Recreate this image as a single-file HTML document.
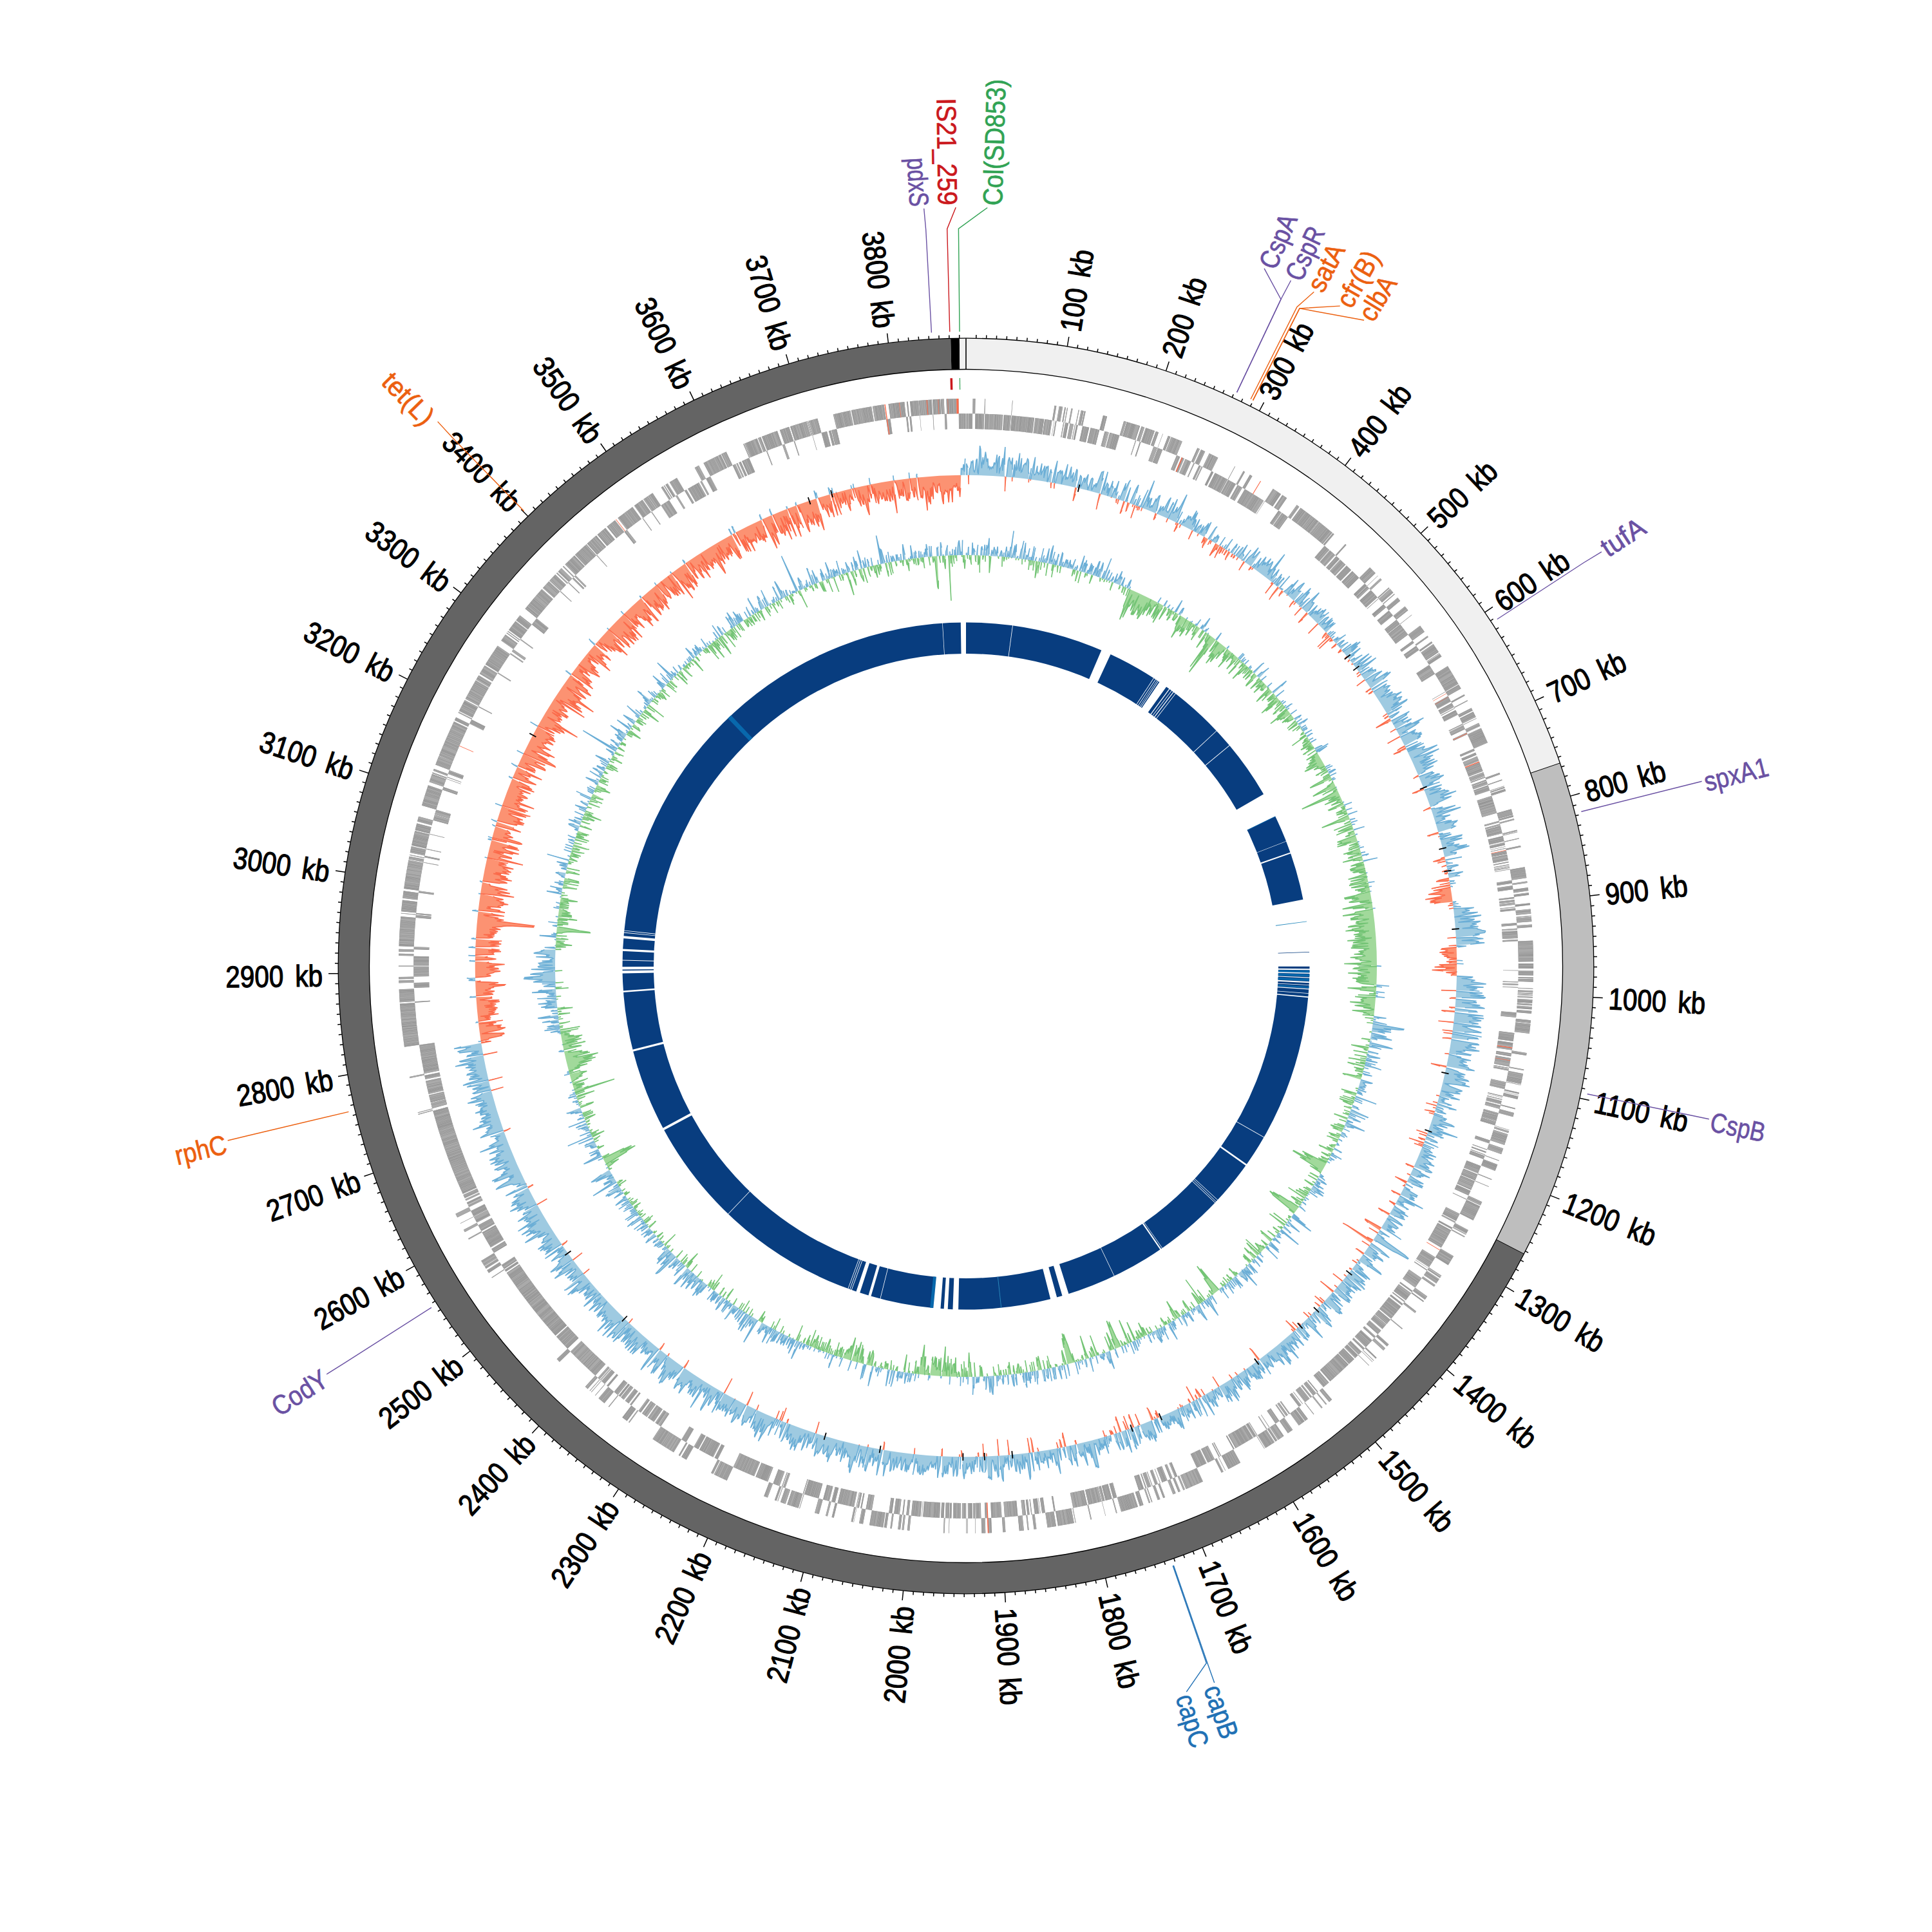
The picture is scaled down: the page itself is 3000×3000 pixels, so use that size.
<!DOCTYPE html>
<html lang="en"><head><meta charset="utf-8"><title>Circular genome map</title>
<style>html,body{margin:0;padding:0;background:#fff;}svg{display:block;}</style></head><body>
<svg width="3000" height="3000" viewBox="0 0 3000 3000">
<rect width="3000" height="3000" fill="#fff"/>
<g id="ring" fill="none">
<circle cx="1500" cy="1500" r="509.25" stroke="#083d7f" stroke-width="48.5"/>
<path d="M1147.01,1132.93A509.25,509.25 0 0 1 1151.8,1128.39" stroke="#0868ac" stroke-width="48.5"/>
<path d="M1451.58,2006.94A509.25,509.25 0 0 1 1446.65,2006.45" stroke="#0868ac" stroke-width="48.5"/>
<path d="M2009.21,1506.5A509.25,509.25 0 0 1 2009.16,1509.8" stroke="#0868ac" stroke-width="48.5"/>
<path d="M2009.1,1512.28A509.25,509.25 0 0 1 2009.01,1515.58" stroke="#0868ac" stroke-width="48.5"/>
<path d="M2008.9,1518.88A509.25,509.25 0 0 1 2008.77,1522.18" stroke="#0868ac" stroke-width="48.5"/>
<path d="M2008.34,1530.42A509.25,509.25 0 0 1 2008.19,1532.89" stroke="#0868ac" stroke-width="48.5"/>
<path d="M1492.16,990.81A509.25,509.25 0 0 1 1500,990.75" stroke="#fff" stroke-width="50.5"/>
<path d="M1464.62,991.98A509.25,509.25 0 0 1 1465.28,991.94" stroke="#fff" stroke-width="50.5"/>
<path d="M1568.79,995.42A509.25,509.25 0 0 1 1569.61,995.53" stroke="#fff" stroke-width="50.5"/>
<path d="M1700.75,1031.99A509.25,509.25 0 0 1 1714.32,1038.04" stroke="#fff" stroke-width="50.5"/>
<path d="M1777.81,1073.2A509.25,509.25 0 0 1 1778.5,1073.65" stroke="#fff" stroke-width="50.5"/>
<path d="M1780.57,1075.01A509.25,509.25 0 0 1 1781.26,1075.47" stroke="#fff" stroke-width="50.5"/>
<path d="M1782.98,1076.61A509.25,509.25 0 0 1 1783.46,1076.93" stroke="#fff" stroke-width="50.5"/>
<path d="M1784.69,1077.76A509.25,509.25 0 0 1 1785.38,1078.22" stroke="#fff" stroke-width="50.5"/>
<path d="M1786.74,1079.15A509.25,509.25 0 0 1 1796.89,1086.24" stroke="#fff" stroke-width="50.5"/>
<path d="M1800.9,1089.15A509.25,509.25 0 0 1 1801.89,1089.88" stroke="#fff" stroke-width="50.5"/>
<path d="M1804.22,1091.6A509.25,509.25 0 0 1 1804.88,1092.1" stroke="#fff" stroke-width="50.5"/>
<path d="M1806.86,1093.58A509.25,509.25 0 0 1 1807.84,1094.33" stroke="#fff" stroke-width="50.5"/>
<path d="M1810.14,1096.08A509.25,509.25 0 0 1 1810.8,1096.59" stroke="#fff" stroke-width="50.5"/>
<path d="M1870.98,1151.13A509.25,509.25 0 0 1 1871.54,1151.73" stroke="#fff" stroke-width="50.5"/>
<path d="M1890.16,1172.72A509.25,509.25 0 0 1 1890.74,1173.42" stroke="#fff" stroke-width="50.5"/>
<path d="M1940.99,1245.32A509.25,509.25 0 0 1 1958.38,1278.13" stroke="#fff" stroke-width="50.5"/>
<path d="M1974.38,1314.81A509.25,509.25 0 0 1 1974.62,1315.43" stroke="#fff" stroke-width="50.5"/>
<path d="M1980.55,1331.45A509.25,509.25 0 0 1 1981.23,1333.4" stroke="#fff" stroke-width="50.5"/>
<path d="M1999.63,1401.47A509.25,509.25 0 0 1 2009.25,1500.72" stroke="#fff" stroke-width="50.5"/>
<path d="M2009.23,1504.02A509.25,509.25 0 0 1 2009.21,1506.09" stroke="#fff" stroke-width="50.5"/>
<path d="M2009.16,1509.8A509.25,509.25 0 0 1 2009.12,1511.45" stroke="#fff" stroke-width="50.5"/>
<path d="M2008.99,1516.4A509.25,509.25 0 0 1 2008.94,1517.64" stroke="#fff" stroke-width="50.5"/>
<path d="M2008.73,1523A509.25,509.25 0 0 1 2008.63,1525.06" stroke="#fff" stroke-width="50.5"/>
<path d="M2008.48,1527.95A509.25,509.25 0 0 1 2008.44,1528.77" stroke="#fff" stroke-width="50.5"/>
<path d="M2008.13,1533.71A509.25,509.25 0 0 1 2008.05,1534.95" stroke="#fff" stroke-width="50.5"/>
<path d="M2007.65,1540.3A509.25,509.25 0 0 1 2007.59,1541.12" stroke="#fff" stroke-width="50.5"/>
<path d="M2007.24,1545.23A509.25,509.25 0 0 1 2007.09,1546.88" stroke="#fff" stroke-width="50.5"/>
<path d="M1941.71,1753.43A509.25,509.25 0 0 1 1941.26,1754.22" stroke="#fff" stroke-width="50.5"/>
<path d="M1915.97,1793.78A509.25,509.25 0 0 1 1914.54,1795.8" stroke="#fff" stroke-width="50.5"/>
<path d="M1873.09,1846.61A509.25,509.25 0 0 1 1872.64,1847.1" stroke="#fff" stroke-width="50.5"/>
<path d="M1871.12,1848.72A509.25,509.25 0 0 1 1870.66,1849.2" stroke="#fff" stroke-width="50.5"/>
<path d="M1869.42,1850.52A509.25,509.25 0 0 1 1868.85,1851.12" stroke="#fff" stroke-width="50.5"/>
<path d="M1790.99,1917.92A509.25,509.25 0 0 1 1790.45,1918.3" stroke="#fff" stroke-width="50.5"/>
<path d="M1789.29,1919.1A509.25,509.25 0 0 1 1787.59,1920.27" stroke="#fff" stroke-width="50.5"/>
<path d="M1720.03,1959.26A509.25,509.25 0 0 1 1719.36,1959.58" stroke="#fff" stroke-width="50.5"/>
<path d="M1652.2,1985.98A509.25,509.25 0 0 1 1642.72,1988.84" stroke="#fff" stroke-width="50.5"/>
<path d="M1634.77,1991.09A509.25,509.25 0 0 1 1625.2,1993.62" stroke="#fff" stroke-width="50.5"/>
<path d="M1488.65,2009.12A509.25,509.25 0 0 1 1480.4,2008.87" stroke="#fff" stroke-width="50.5"/>
<path d="M1472.98,2008.53A509.25,509.25 0 0 1 1467.21,2008.19" stroke="#fff" stroke-width="50.5"/>
<path d="M1462.27,2007.85A509.25,509.25 0 0 1 1451.58,2006.94" stroke="#fff" stroke-width="50.5"/>
<path d="M1373.12,1993.19A509.25,509.25 0 0 1 1372.4,1993.01" stroke="#fff" stroke-width="50.5"/>
<path d="M1359.27,1989.42A509.25,509.25 0 0 1 1355.3,1988.26" stroke="#fff" stroke-width="50.5"/>
<path d="M1342.69,1984.34A509.25,509.25 0 0 1 1337.21,1982.53" stroke="#fff" stroke-width="50.5"/>
<path d="M1330.96,1980.38A509.25,509.25 0 0 1 1330.19,1980.1" stroke="#fff" stroke-width="50.5"/>
<path d="M1328.24,1979.41A509.25,509.25 0 0 1 1327.46,1979.13" stroke="#fff" stroke-width="50.5"/>
<path d="M1325.52,1978.43A509.25,509.25 0 0 1 1324.75,1978.15" stroke="#fff" stroke-width="50.5"/>
<path d="M1147.76,1867.78A509.25,509.25 0 0 1 1147.16,1867.21" stroke="#fff" stroke-width="50.5"/>
<path d="M1052.65,1743.35A509.25,509.25 0 0 1 1050.89,1740.08" stroke="#fff" stroke-width="50.5"/>
<path d="M1006.81,1626.9A509.25,509.25 0 0 1 1006,1623.7" stroke="#fff" stroke-width="50.5"/>
<path d="M992.25,1539.07A509.25,509.25 0 0 1 992.07,1536.6" stroke="#fff" stroke-width="50.5"/>
<path d="M990.87,1511.04A509.25,509.25 0 0 1 990.8,1506.91" stroke="#fff" stroke-width="50.5"/>
<path d="M990.78,1505.26A509.25,509.25 0 0 1 990.75,1501.13" stroke="#fff" stroke-width="50.5"/>
<path d="M990.81,1492.06A509.25,509.25 0 0 1 990.83,1491.23" stroke="#fff" stroke-width="50.5"/>
<path d="M991.22,1478.03A509.25,509.25 0 0 1 991.38,1474.73" stroke="#fff" stroke-width="50.5"/>
<path d="M992.4,1459.08A509.25,509.25 0 0 1 992.71,1455.38" stroke="#fff" stroke-width="50.5"/>
<path d="M993.13,1450.86A509.25,509.25 0 0 1 993.21,1450.04" stroke="#fff" stroke-width="50.5"/>
<path d="M993.41,1447.99A509.25,509.25 0 0 1 993.5,1447.17" stroke="#fff" stroke-width="50.5"/>
<path d="M1958.38,1278.13A509.25,509.25 0 0 1 1958.74,1278.87" stroke="#0868ac" stroke-width="48.5"/>
<path d="M2004.91,1433.64A509.25,509.25 0 0 1 2005.03,1434.54" stroke="#2b8cbe" stroke-width="48.5"/>
<path d="M2008.81,1478.85A509.25,509.25 0 0 1 2008.84,1479.68" stroke="#083d7f" stroke-width="48.5"/>
<path d="M1552.53,2006.53A509.25,509.25 0 0 1 1551.62,2006.63" stroke="#2b8cbe" stroke-width="48.5"/>
</g>
<path d="M1500.5,862l0-3 1.1-0.3 0.3,3.3A638,638 0 0 0 1500.5,862ZM1502.9,862l0.8-12 1-0.7 0.6,12.7A638,638 0 0 0 1502.9,862ZM1509.2,862.1l0.9-19.6 0.8,17.1 1.2-8 1,2.3 1,3.4 0.2,4.9A638,638 0 0 0 1509.2,862.1ZM1516.7,862.2l0.5-5.4 1.4-10.9 0,16.4A638,638 0 0 0 1516.7,862.2ZM1523,862.4l0.7-11.4 1.1-2.6 0.9,6 0.2,8.1A638,638 0 0 0 1523,862.4ZM1527.4,862.6l1.8-16.8 0.6,8.9 0.1,8A638,638 0 0 0 1527.4,862.6ZM1530.9,862.7l1.5-16.6 0.7,5.6 1.2-1.9 1.8-14.3 -0.3,25.5 0.2,2A638,638 0 0 0 1530.9,862.7ZM1538.8,863.2l1.6-9.3 0.7,5.1 1,0.6 1.7-10.2 0.8,3.8 1,1 0.7,5.6 0.9,0.9 2-12 0.2,10.5 0.5,4.8A638,638 0 0 0 1538.8,863.2ZM1552,864.1l0.2-0.7 1.4-4.3 1.4-4.4 0.8,3.5 0.5,5.9 0,0.4A638,638 0 0 0 1552,864.1ZM1558,864.6l1-6.6 -0.1,6.7A638,638 0 0 0 1558,864.6ZM1560.4,864.9l2.6-16.1 0.3,7.3 -0.2,9A638,638 0 0 0 1560.4,864.9ZM1563.8,865.2l1.7-9.8 0.2,8.1 0.3,1.9A638,638 0 0 0 1563.8,865.2ZM1566.7,865.5l2.7-16.4 0.7,2.8 4.1-27.5 -3.5,41.5A638,638 0 0 0 1566.7,865.5ZM1570.9,866l1.1-2.8 1.7-5.5 2.3-10.9 -0.7,15.5 3.1-17.4 -0.4,12.5 -0.4,9.3A638,638 0 0 0 1570.9,866ZM1578.7,866.9l0.3-0.9 1.3-2 1,0.7 0.1,2.5A638,638 0 0 0 1578.7,866.9ZM1582.9,867.4l0.2-0.4 2.9-13.9 1.2-1.6 2.7-11.6 -2.8,28.1A638,638 0 0 0 1582.9,867.4ZM1588.4,868.2l4.3-25.4 -0.7,12.7 0.7,2.5 -0.7,10.7A638,638 0 0 0 1588.4,868.2ZM1592.6,868.8l1.7-7.1 0.8,1.7 0.9,0.8 3-12.7 -1.8,18A638,638 0 0 0 1592.6,868.8ZM1597.6,869.5l1.5-4.8 -0.5,5A638,638 0 0 0 1597.6,869.5ZM1600.1,869.9l1.1-5.2 -0.4,5.3A638,638 0 0 0 1600.1,869.9ZM1601.7,870.2l4.3-21.8 -2.8,22A638,638 0 0 0 1601.7,870.2ZM1603.7,870.5l4.1-19.8 -2.4,20.1A638,638 0 0 0 1603.7,870.5ZM1607.4,871.1l0.6-2.7 1.7-3.5 -0.6,6.5A638,638 0 0 0 1607.4,871.1ZM1613.1,872.1l1.6-5.9 -0.8,6.1A638,638 0 0 0 1613.1,872.1ZM1615.6,872.6l0.3-1.2 4.8-20 -3.3,21.5A638,638 0 0 0 1615.6,872.6ZM1618.4,873.1l1.7-7.2 1.7-3.5 -1.1,11.1A638,638 0 0 0 1618.4,873.1ZM1620.9,873.6l2.2-6.6 -0.8,6.8A638,638 0 0 0 1620.9,873.6ZM1623.3,874l1.9-6.8 4.2-15.6 -2.7,18.7 -0.2,4.4A638,638 0 0 0 1623.3,874ZM1628.4,875l4.7-20.2 2.7-7.8 -4.1,24.9 1.3-1.4 0.7,1.9 4.4-15.5 -3.5,19.5A638,638 0 0 0 1628.4,875ZM1635.5,876.6l2.5-9.1 -1.7,9.2A638,638 0 0 0 1635.5,876.6ZM1637.7,877l1.8-6.9 -0.8,7.2A638,638 0 0 0 1637.7,877ZM1639.1,877.4l4.8-17.3 0.1,4.4 -2,13.5A638,638 0 0 0 1639.1,877.4ZM1644.4,878.6l5.4-20.1 0.8,0.9 -3.3,18.7 -0.2,1.1A638,638 0 0 0 1644.4,878.6ZM1648.7,879.6l2.1-7.1 0.6,2 -0.4,5.6A638,638 0 0 0 1648.7,879.6ZM1651.2,880.2l2.1-4.9 2.8-6.8 -0.5,6.4 2.5-5.7 -0.4,5.9 1.5-1.6 -1.1,8.4A638,638 0 0 0 1651.2,880.2ZM1658.1,881.9l4.2-12.3 -0.1,4.6 -0.5,6.2 2.1-4 0,4 1,0.6 3.1-7.5 2.4-5.1 -3.6,15.8A638,638 0 0 0 1658.1,881.9ZM1668.1,884.5l2.4-4.6 -1,5A638,638 0 0 0 1668.1,884.5ZM1670.6,885.2l2.6-7.3 -0.3,4.7 -0.1,3.3A638,638 0 0 0 1670.6,885.2ZM1675.9,886.7l0.8-2.2 7.3-21.5 -4.6,19.8 -1.1,4.6A638,638 0 0 0 1675.9,886.7ZM1679.6,887.8l4.6-14 -0.5,5.5 3.9-9.5 -4.2,17.8 4.8-12.4 0.1,3.3 -2.7,11.1A638,638 0 0 0 1679.6,887.8ZM1687.1,890.1l2.6-5.3 -1.2,5.7A638,638 0 0 0 1687.1,890.1ZM1689.1,890.7l6-16.2 -3.1,13.4 4.5-11 -2.1,10.2 3.4-7.3 1.2-0.3 -3.6,13.1A638,638 0 0 0 1689.1,890.7ZM1696.9,893.1l4.9-11.9 -1.9,9.2 7-17.8 1.4-1 -6.3,22.3 3-5.6 2.8-4.9 -3.1,12.3A638,638 0 0 0 1696.9,893.1ZM1704.7,895.7l8.6-22.1 -0.6,5.1 -1.9,8.9 -2.4,9.4A638,638 0 0 0 1704.7,895.7ZM1710.8,897.8l5-11.7 -3.5,12.3A638,638 0 0 0 1710.8,897.8ZM1712.6,898.5l5.7-13.2 7.5-18.1 -10.5,32.2A638,638 0 0 0 1712.6,898.5ZM1716.6,899.9l6.4-15.2 -0.9,5.5 -3,10.6A638,638 0 0 0 1716.6,899.9ZM1719.8,901.1l1.5-2.8 1.5-1 4.2-8.1 -4,13.1A638,638 0 0 0 1719.8,901.1ZM1724,902.6l0.4-0.5 1.7-1.7 3.1-5.2 -0.9,5.4 -1,3.3A638,638 0 0 0 1724,902.6ZM1729.4,904.7l6-14 -3.9,13.1 2.4-3.3 0.9,0.5 2.4-3.2 5.4-10.7 -3.7,12.1 2.4-3.2 1,0.3 -0.2,3.4 -2.9,8.8A638,638 0 0 0 1729.4,904.7ZM1740.7,909.1l6-12.3 -3.2,10.4 0,2.8 1.1,0.2 -0.2,0.5A638,638 0 0 0 1740.7,909.1ZM1746.9,911.7l1.9-3.7 -1.2,4A638,638 0 0 0 1746.9,911.7ZM1749.7,912.9l3.9-8.2 3.1-4.4 -3.3,10.2 -1.2,3.5A638,638 0 0 0 1749.7,912.9ZM1753.6,914.6l2-3.8 -1,4.2A638,638 0 0 0 1753.6,914.6ZM1797.9,935.8l5.1-7.9 -4.1,8.4A638,638 0 0 0 1797.9,935.8ZM1807.1,940.8l5-7.7 1,0.4 -3.8,8.5A638,638 0 0 0 1807.1,940.8ZM1812.6,943.8l1.8-2 2.8-2.8 -2.4,6A638,638 0 0 0 1812.6,943.8ZM1818.6,947.3l3.5-4.2 -2.5,4.7A638,638 0 0 0 1818.6,947.3ZM1823,949.8l0.1-0.2 -0.1,0.2A638,638 0 0 0 1823,949.8ZM1824,950.4l11.7-18 -9.4,17.9 -0.6,1.1A638,638 0 0 0 1824,950.4ZM1830.3,954.1l6.3-8.9 1.9-1.1 -3.6,8.1 -2,3.6A638,638 0 0 0 1830.3,954.1ZM1842.2,961.5l2.1-2.8 -1.8,3A638,638 0 0 0 1842.2,961.5ZM1848.4,965.5l0.7-0.8 -0.6,0.9A638,638 0 0 0 1848.4,965.5ZM1850.1,966.6l1.7-2.3 -1.4,2.5A638,638 0 0 0 1850.1,966.6ZM1855.9,970.5l2-2.2 -1.5,2.5A638,638 0 0 0 1855.9,970.5ZM1857.5,971.6l7.1-9.5 -5.9,10.3A638,638 0 0 0 1857.5,971.6ZM1863.7,975.8l4.5-5.9 -2.9,5.8 3.3-2.8 10.2-12.8 -7.8,13.1 -3.4,5.3A638,638 0 0 0 1863.7,975.8ZM1868.9,979.5l0.9-1.1 -0.7,1.2A638,638 0 0 0 1868.9,979.5ZM1870.5,980.6l3.1-3.9 -0.4,2.3 4-3.7 -4.5,6.9A638,638 0 0 0 1870.5,980.6ZM1875.6,984.2l1.2-1.3 -0.8,1.6A638,638 0 0 0 1875.6,984.2ZM1887.9,993.4l8.6-10.7 -7,10.8 -0.4,0.9A638,638 0 0 0 1887.9,993.4ZM1904.9,1006.9l3-3.1 0.1,1.5 -1.9,2.7A638,638 0 0 0 1904.9,1006.9ZM1913.8,1014.4l0.3-0.3 -0.2,0.4A638,638 0 0 0 1913.8,1014.4ZM1922.8,1022.2l7.7-7.8 -6.9,8.5A638,638 0 0 0 1922.8,1022.2ZM1924.4,1023.7l7.1-7.3 0.4,1.1 -6.2,7.3A638,638 0 0 0 1924.4,1023.7ZM1927.5,1026.4l5.7-5.6 -4.8,6.4A638,638 0 0 0 1927.5,1026.4ZM1929,1027.8l2.4-1.9 3.5-2.3 -4.4,5.5A638,638 0 0 0 1929,1027.8ZM1932.7,1031.2l6.5-6 -5.8,6.6A638,638 0 0 0 1932.7,1031.2ZM1939,1037.1l3.8-3.5 -3.3,3.9A638,638 0 0 0 1939,1037.1ZM1940.5,1038.5l3.1-2.8 -2.3,3.5A638,638 0 0 0 1940.5,1038.5ZM1946.1,1043.9l13.6-12.8 3.2-1.6 -14.9,16.2A638,638 0 0 0 1946.1,1043.9ZM1952.2,1049.9l6.9-6.1 0.9,0.6 3.4-1.9 6.8-5.2 -14.9,15.8A638,638 0 0 0 1952.2,1049.9ZM1958.4,1056.2l8-6.3 -7,7.4A638,638 0 0 0 1958.4,1056.2ZM1967.9,1066.3l7.2-5.9 -6.2,6.9A638,638 0 0 0 1967.9,1066.3ZM1969.5,1068l0.9-0.5 -0.5,0.9A638,638 0 0 0 1969.5,1068ZM1975.8,1074.9l5.4-4.5 16.3-13 -7.5,8 -12.3,11.7A638,638 0 0 0 1975.8,1074.9ZM1981.5,1081.5l12.4-9.7 -11.5,10.7A638,638 0 0 0 1981.5,1081.5ZM1987.4,1088.4l0.7-0.5 -0.5,0.7A638,638 0 0 0 1987.4,1088.4ZM1989.2,1090.5l4.1-2.9 -3.6,3.4A638,638 0 0 0 1989.2,1090.5ZM1991.2,1092.9l5.3-3.9 -4.6,4.7A638,638 0 0 0 1991.2,1092.9ZM1994.6,1097l2.7-1.9 -2.4,2.2A638,638 0 0 0 1994.6,1097ZM1996.3,1099.1l7.6-5.3 2.8-1 -9.1,7.9A638,638 0 0 0 1996.3,1099.1ZM1998.5,1101.8l3.4-2.4 -3.2,2.7A638,638 0 0 0 1998.5,1101.8ZM2004.1,1108.9l9.6-6.8 -8.9,7.7A638,638 0 0 0 2004.1,1108.9ZM2009.6,1116.1l4.8-2.7 6.1-3.2 -3.9,4.2 -4.9,4.5A638,638 0 0 0 2009.6,1116.1ZM2013.5,1121.4l8.1-5.6 -7.5,6.4A638,638 0 0 0 2013.5,1121.4ZM2015.7,1124.4l5.7-3.2 9-5.2 -6.7,6.1 -6.1,4.9A638,638 0 0 0 2015.7,1124.4ZM2018.5,1128.3l1.8-1.1 -1.5,1.5A638,638 0 0 0 2018.5,1128.3ZM2020.1,1130.5l7.7-4.8 -6.8,6A638,638 0 0 0 2020.1,1130.5ZM2021.6,1132.7l7.6-4.2 -6.5,5.7A638,638 0 0 0 2021.6,1132.7ZM2022.9,1134.4l7.1-3.9 -1.9,2.6 -3.8,3.3A638,638 0 0 0 2022.9,1134.4ZM2026.1,1139l1.1-0.3 9.9-5.4 -9.9,7.4A638,638 0 0 0 2026.1,1139ZM2028,1141.9l0.1,0 0,0A638,638 0 0 0 2028,1141.9ZM2029.1,1143.4l7.3-4.6 2-0.1 -8.2,6.4A638,638 0 0 0 2029.1,1143.4ZM2032.8,1149l6.3-3.2 -5.7,4.2A638,638 0 0 0 2032.8,1149ZM2035.2,1152.8l8.7-5.1 -8.2,5.7A638,638 0 0 0 2035.2,1152.8ZM2041.5,1162.6l3-1.7 6.9-3 2,0 -10.5,7A638,638 0 0 0 2041.5,1162.6ZM2043.4,1165.7l19-10.9 -18.1,12.3A638,638 0 0 0 2043.4,1165.7ZM2044.3,1167.2l16.3-8.8 -12.6,8.9 -2.6,1.7A638,638 0 0 0 2044.3,1167.2ZM2058.1,1190.8l7.6-3.6 -7.1,4.5A638,638 0 0 0 2058.1,1190.8ZM2059.4,1193.3l9.7-4.4 -9.1,5.4A638,638 0 0 0 2059.4,1193.3ZM2061.2,1196.5l4.8-2.3 -4.5,2.9A638,638 0 0 0 2061.2,1196.5ZM2062.6,1199l9.5-4.5 1.9,0.2 -10.1,6.5 -0.1,0.1A638,638 0 0 0 2062.6,1199ZM2064.7,1203.1l0.2-0.1 -0.2,0.1A638,638 0 0 0 2064.7,1203.1ZM2065.4,1204.5l9.6-4.4 -9.2,5.1A638,638 0 0 0 2065.4,1204.5ZM2067.9,1209.3l4.4-2 -4,2.7A638,638 0 0 0 2067.9,1209.3ZM2068.8,1210.9l5.1-2 -4.5,3.4A638,638 0 0 0 2068.8,1210.9ZM2074.5,1222.4l1.2-0.5 -1.2,0.7A638,638 0 0 0 2074.5,1222.4ZM2075.8,1225.3l0.5-0.2 -0.4,0.3A638,638 0 0 0 2075.8,1225.3ZM2085.1,1245.6l2.1-0.4 -1.8,1A638,638 0 0 0 2085.1,1245.6ZM2087.1,1250.3l12-4.6 -11.5,5.7A638,638 0 0 0 2087.1,1250.3ZM2088,1252.5l1.5-0.4 -1.3,0.8A638,638 0 0 0 2088,1252.5ZM2090.2,1257.8l9.3-3.1 -8.9,4A638,638 0 0 0 2090.2,1257.8ZM2093,1264.6l14.6-5.2 -14,6.7A638,638 0 0 0 2093,1264.6ZM2096.1,1272.6l1.7-0.4 6.5-1.3 -7.5,3.6A638,638 0 0 0 2096.1,1272.6ZM2097.8,1277.1l10-3.1 -9.5,4.5A638,638 0 0 0 2097.8,1277.1ZM2099.1,1280.5l1.6-0.5 3.6-0.2 -4.8,2A638,638 0 0 0 2099.1,1280.5ZM2101.9,1288.3l0.3-0.1 16.5-4.6 -16.3,6.3A638,638 0 0 0 2101.9,1288.3ZM2104.5,1295.9l3.4-0.8 -3.1,1.9A638,638 0 0 0 2104.5,1295.9ZM2108.1,1307l0.3-0.1 2.4,0.3 -2.3,0.9A638,638 0 0 0 2108.1,1307ZM2109.2,1310.4l1.3,0.2 -1.1,0.4A638,638 0 0 0 2109.2,1310.4ZM2110.2,1313.8l2-0.5 -1.9,0.7A638,638 0 0 0 2110.2,1313.8ZM2111,1316.5l6.9-1.7 -6.6,2.6A638,638 0 0 0 2111,1316.5ZM2113.3,1324.1l6.7-1.2 -6.4,2.2A638,638 0 0 0 2113.3,1324.1ZM2114.5,1328.3l10.8-2.5 -4.6,2.4 -5.8,1.7A638,638 0 0 0 2114.5,1328.3ZM2116.7,1336.6l0.7,0 21.5-4.6 -21.7,6.4A638,638 0 0 0 2116.7,1336.6ZM2121.3,1355.1l2.1,0.3 -1.8,0.7A638,638 0 0 0 2121.3,1355.1ZM2122.7,1361.2l0.8,0.6 -0.6,0.1A638,638 0 0 0 2122.7,1361.2ZM2124.7,1370.2l9.8-1.2 -9.6,2.5A638,638 0 0 0 2124.7,1370.2ZM2126,1376.7l4-0.4 -3.9,0.9A638,638 0 0 0 2126,1376.7ZM2127.4,1384l2.1-0.2 -2.1,0.5A638,638 0 0 0 2127.4,1384ZM2130.3,1401.3l0.5,0.1 -0.4,0.1A638,638 0 0 0 2130.3,1401.3ZM2131.7,1410.5l4-0.3 -3.9,1A638,638 0 0 0 2131.7,1410.5ZM2138,1499.9l7,0.5 -7,0.2A638,638 0 0 0 2138,1499.9ZM2137.3,1529.5l19.8,1.8 -19.9-0.1A638,638 0 0 0 2137.3,1529.5ZM2137.2,1531.7l8.8,1.2 -8.8-0.2A638,638 0 0 0 2137.2,1531.7ZM2136.8,1539.7l13.3,1.8 -13.5,0A638,638 0 0 0 2136.8,1539.7ZM2136.6,1542.3l3.2,0.7 -3.3,0A638,638 0 0 0 2136.6,1542.3ZM2136.4,1545.6l2.8,0.5 -2.9-0.2A638,638 0 0 0 2136.4,1545.6ZM2136.2,1547.6l14,1.4 -14.1-0.4A638,638 0 0 0 2136.2,1547.6ZM2133.4,1576.7l0.2,0.1 -0.2-0.1A638,638 0 0 0 2133.4,1576.7ZM2133.2,1578.2l19.4,3 -14.3-0.7 2.9,1.4 -8.4-0.7A638,638 0 0 0 2133.2,1578.2ZM2132.6,1582.7l3.7,0.7 -2.3,0.7 -1.6,0.1A638,638 0 0 0 2132.6,1582.7ZM2132.2,1585.7l1.1,0.4 9.7,2.4 10.4,2.5 -21.6-2.3A638,638 0 0 0 2132.2,1585.7ZM2131.7,1589.5l11,2.1 37.1,6.5 -0.5,1 -7,0.1 -23.8-2.4 11.5,2.8 -12.4-0.8 -16.5-1.5 29,5.6 -14.7-1.3 -5.8,0.2 11,2.8 -20.8-2.4A638,638 0 0 0 2131.7,1589.5ZM2129.5,1603.8l3.5,1.1 14.5,3.5 5.7,2.1 -19.7-2.3 19.7,4.5 8.1,2.5 -30.8-4.3 5.1,1.9 2.6,1.5 -0.9,0.9 -9.6-1.2A638,638 0 0 0 2129.5,1603.8ZM2127.3,1616.4l2.5,0.7 -2.6,0A638,638 0 0 0 2127.3,1616.4ZM2126.9,1618.5l0.3,0.2 15.1,3.9 13.4,3.7 6.7,2.4 -32.5-5.3 -3.9-0.3A638,638 0 0 0 2126.9,1618.5ZM2125.8,1624l12.1,3.1 7,2.5 -19.5-3.2A638,638 0 0 0 2125.8,1624ZM2124.2,1631.9l16.1,4.4 -2.8,0.4 -13.9-2A638,638 0 0 0 2124.2,1631.9ZM2123.2,1636.7l2.5,0.7 -2.7,0.2A638,638 0 0 0 2123.2,1636.7ZM2122.9,1637.9l20.3,5.5 -7-0.4 -11.6-1.6 -2.4-0.4A638,638 0 0 0 2122.9,1637.9ZM2121.8,1642.9l0.6,0.1 7.5,2.8 -8.5-1.4A638,638 0 0 0 2121.8,1642.9ZM2121.2,1645.3l17.7,4.8 -17.6-3.1 -0.5,0A638,638 0 0 0 2121.2,1645.3ZM2120.2,1649.6l15.7,4.2 -15.9-3.2A638,638 0 0 0 2120.2,1649.6ZM2119.8,1651.4l9.5,2.9 -9.8-1.9A638,638 0 0 0 2119.8,1651.4ZM2119.3,1653.4l15.4,4.4 10,3.6 -25.9-5.9A638,638 0 0 0 2119.3,1653.4ZM2118.2,1657.7l6.8,2 -7.1-0.9A638,638 0 0 0 2118.2,1657.7ZM2117.6,1659.9l0.1,0.1 -0.1,0A638,638 0 0 0 2117.6,1659.9ZM2116.7,1663.5l10.6,3.3 -10.9-2.4A638,638 0 0 0 2116.7,1663.5ZM2115.9,1666.4l14.6,4.6 -12.8-2.4 -2.3-0.4A638,638 0 0 0 2115.9,1666.4ZM2113.1,1676.5l18.3,5.8 -3.1,0.2 -7.6-1.2 -4.5-0.2 2.7,1.9 0,1.1 2.3,1.8 -1.6,0.6 -2.6,0.3 3.4,2.1 -7.7-1.2 -1,0.8 7.3,3.3 -3.7,0 -6.4-1.4A638,638 0 0 0 2113.1,1676.5ZM2108.7,1691l12,4.6 -0.9,0.9 -11.9-2.9A638,638 0 0 0 2108.7,1691ZM2107.8,1694.1l4.4,2.1 2.9,2.1 -7.5-1.4 8.6,3.9 -9.7-2.8A638,638 0 0 0 2107.8,1694.1ZM2105.1,1702.3l6.4,2.5 25.6,9.7 -32.7-10.1A638,638 0 0 0 2105.1,1702.3ZM2104,1705.6l11.4,4.9 -11.9-3.6A638,638 0 0 0 2104,1705.6ZM2103,1708.4l1.4,0.6 10.8,4.8 -12.7-4A638,638 0 0 0 2103,1708.4ZM2102,1711.4l0.8,0.3 -0.9-0.1A638,638 0 0 0 2102,1711.4ZM2100.2,1716.5l8.9,4.1 -2.8,0.1 4.4,2.7 -11.8-3.4A638,638 0 0 0 2100.2,1716.5ZM2097.8,1722.9l3.2,1.4 9.9,4.8 13.2,6.1 -1,0.8 -26.7-9.3A638,638 0 0 0 2097.8,1722.9ZM2096,1727.6l3.7,1.8 20.2,8.8 -24.7-8.6A638,638 0 0 0 2096,1727.6ZM2095,1730.2l10.1,4.6 -10.5-3.5A638,638 0 0 0 2095,1730.2ZM2094.1,1732.6l1.6,0.8 7.6,4.1 9.5,4.9 -12.1-3.7 -8.1-2.4A638,638 0 0 0 2094.1,1732.6ZM2091.5,1739.1l9.5,4.3 -5.2-1 -3.9-0.5 -1.4-0.4A638,638 0 0 0 2091.5,1739.1ZM2090,1742.8l12.1,5.6 16.7,8 -21.9-7.9 5.3,3.4 -6-1.4 -4.8-0.9 -3.7-1.3A638,638 0 0 0 2090,1742.8ZM2087.1,1749.8l1.9,1 -2.1-0.7A638,638 0 0 0 2087.1,1749.8ZM2085.9,1752.4l9.8,4.7 -10.1-3.8A638,638 0 0 0 2085.9,1752.4ZM2083.4,1758.2l5.1,2.6 0.3,1.3 0.3,1.3 2.9,2.4 -10.2-3.9A638,638 0 0 0 2083.4,1758.2ZM2081.4,1762.7l6.6,3.6 -7.1-2.4A638,638 0 0 0 2081.4,1762.7ZM2078.7,1768.6l4,2.2 1.2,1.7 -5.9-2.4A638,638 0 0 0 2078.7,1768.6ZM2076.8,1772.6l0.5,0.2 -0.5-0.1A638,638 0 0 0 2076.8,1772.6ZM2076,1774.4l0.5,0.3 1.6,2 0.8,1.5 -3.7-0.6 -0.7,0A638,638 0 0 0 2076,1774.4ZM2071.8,1783l11.7,6.8 -3.3-0.5 -9.5-4.2A638,638 0 0 0 2071.8,1783ZM2068.2,1790.1l3.2,1.8 -3.6-0.9A638,638 0 0 0 2068.2,1790.1ZM2067.7,1791.2l15.3,9 -16.2-7.4A638,638 0 0 0 2067.7,1791.2ZM2066.6,1793.3l8.9,5.4 -9.7-4A638,638 0 0 0 2066.6,1793.3ZM2064.7,1796.9l7.3,4.7 -5.7-1.8 -2.7-0.8A638,638 0 0 0 2064.7,1796.9ZM2063.3,1799.6l4.2,3.2 -4.7-2.2A638,638 0 0 0 2063.3,1799.6ZM2061.1,1803.7l3.9,2.5 -4.2-2A638,638 0 0 0 2061.1,1803.7ZM2050.2,1823l4.7,3.8 -1,0.6 -3.9-1.1 3.6,3.4 3.7,3.4 -9.9-5.4A638,638 0 0 0 2050.2,1823ZM2046.3,1829.6l9.5,6.3 4,3.6 -8.6-4 -6.4-3.5A638,638 0 0 0 2046.3,1829.6ZM2044.1,1833.2l6.2,4.3 -5-1.9 4.5,4 -4.8-1.8 -3-1.3A638,638 0 0 0 2044.1,1833.2ZM2041.6,1837.2l13.4,9.3 -11.8-6.1 4.8,4.2 -8.1-4.6A638,638 0 0 0 2041.6,1837.2ZM2038.9,1841.5l17,11.9 -11.2-5.9 2.1,2.6 3.2,3.3 4.6,4.2 -14.1-7.8 -5.1-2.8A638,638 0 0 0 2038.9,1841.5ZM2034.8,1847.9l7.7,5.7 -8.3-4.8A638,638 0 0 0 2034.8,1847.9ZM2033.1,1850.5l12.5,8.9 -13.2-7.8A638,638 0 0 0 2033.1,1850.5ZM2031.2,1853.3l2,1.6 -2.2-1.2A638,638 0 0 0 2031.2,1853.3ZM2029.4,1856l1.4,1.1 -1.5-0.9A638,638 0 0 0 2029.4,1856ZM2027.2,1859.3l5,3.8 -5.7-2.8A638,638 0 0 0 2027.2,1859.3ZM2025.3,1862l2.9,2.2 -2.6-0.6 -1-0.5A638,638 0 0 0 2025.3,1862ZM2022.5,1866.1l4.7,3.7 0.4,1.6 -6.1-3.9A638,638 0 0 0 2022.5,1866.1ZM2019.5,1870.4l1.2,1.2 -1.5-0.9A638,638 0 0 0 2019.5,1870.4ZM2017.9,1872.6l4.6,4 4.4,4.6 -10.2-6.9A638,638 0 0 0 2017.9,1872.6ZM2008.7,1885.1l8.9,7.5 -9.2-5.7 18.7,15.6 -20.2-14.1 28.7,23.4 -29.4-21.4 -1.2-0.6A638,638 0 0 0 2008.7,1885.1ZM2002.3,1893.3l2.1,2.3 0.2,1.5 -3.5-2.2A638,638 0 0 0 2002.3,1893.3ZM2000.2,1896l0.8,1 4.5,4.8 12.4,11.3 -14.1-10 -5.8-4.3A638,638 0 0 0 2000.2,1896ZM1997,1900.1l5.3,4.5 -4.9-2.6 -1.5-0.6A638,638 0 0 0 1997,1900.1ZM1993.7,1904.2l2.7,2.3 8.3,8.2 -3.2-1.2 -9.7-7.1A638,638 0 0 0 1993.7,1904.2ZM1989.5,1909.2l26.7,23.4 -27.7-21.8 3.8,4.5 -1.9-0.2 -3.6-2.7A638,638 0 0 0 1989.5,1909.2ZM1985.2,1914.2l4,4 -4.6-3.2A638,638 0 0 0 1985.2,1914.2ZM1983.9,1915.8l2.1,2.4 2.4,3.5 -1.8-0.3 -1.8-0.1 -2.3-0.7 -1.9-1A638,638 0 0 0 1983.9,1915.8ZM1979,1921.5l2.3,2.2 6.4,7.1 -8.3-6 -2.5-0.8 1.8,3 -3-1.9A638,638 0 0 0 1979,1921.5ZM1972.7,1928.5l0.9,0.9 11.7,12 -11.7-9.2 12.5,12.8 -12.6-10.1 -2.5-0.9 -2.2-1.2A638,638 0 0 0 1972.7,1928.5ZM1967,1934.7l4,5 -5.3-3.7A638,638 0 0 0 1967,1934.7ZM1965.6,1936.2l18.2,18.4 -19.4-17.1A638,638 0 0 0 1965.6,1936.2ZM1957.3,1944.9l0.9,1.3 -1.2-1.1A638,638 0 0 0 1957.3,1944.9ZM1955.8,1946.4l5.7,5.9 -6.6-5A638,638 0 0 0 1955.8,1946.4ZM1952.3,1950l7,7.5 1.3,2.9 -9.8-8.4 -0.3-0.2A638,638 0 0 0 1952.3,1950ZM1947.2,1955.1l6.1,6.9 3.2,4.7 -11-10A638,638 0 0 0 1947.2,1955.1ZM1945.1,1957.1l3.2,4.1 -3.2-1.8 -1.7-0.6A638,638 0 0 0 1945.1,1957.1ZM1939.9,1962.1l12.8,14.4 -11.6-10.7 4.7,6.5 3.1,4.8 -12.4-11.8A638,638 0 0 0 1939.9,1962.1ZM1935.7,1966l0.1,0.3 -0.1,1.3 9.2,11.5 -4.3-3.1 -4.5-3.3 5.3,7.3 -9.6-8.9 2.3,4 17.5,20.8 -22.7-23.4 0,1.5 6,8.2 2.7,4.6 -3.1-1.8 3,4.9 -7.2-6.5 -2.2-1 -1.6-0.2 -4.3-3.9A638,638 0 0 0 1935.7,1966ZM1919.7,1980.5l1.4,1.9 -1.7-1.7A638,638 0 0 0 1919.7,1980.5ZM1917.7,1982.3l12.2,15 -5.8-5 -5.9-5.3 6.7,9.4 2,4 -13.5-14.5A638,638 0 0 0 1917.7,1982.3ZM1913.1,1986.2l7,9.5 -8-8.6A638,638 0 0 0 1913.1,1986.2ZM1910.6,1988.3l7.4,9.8 -8.5-8.8A638,638 0 0 0 1910.6,1988.3ZM1908.3,1990.2l8.3,11.2 -4.2-3.5 -5.8-6.2A638,638 0 0 0 1908.3,1990.2ZM1905.7,1992.4l5,6.8 -0.3,1.3 5.2,8 -12.4-14A638,638 0 0 0 1905.7,1992.4ZM1902.4,1995.1l2,3 -2.7-2.4A638,638 0 0 0 1902.4,1995.1ZM1901.1,1996.1l3.8,5.9 -4.8-5.1A638,638 0 0 0 1901.1,1996.1ZM1898.2,1998.5l0.1,0.3 2.3,4.6 -4-3.7A638,638 0 0 0 1898.2,1998.5ZM1896.5,1999.9l11.3,15.9 -12.9-14.7A638,638 0 0 0 1896.5,1999.9ZM1894.4,2001.5l0.4,1.2 2.4,4.8 -4.3-4.8A638,638 0 0 0 1894.4,2001.5ZM1883.5,2009.9l0.2,0.4 -0.3-0.3A638,638 0 0 0 1883.5,2009.9ZM1881.4,2011.5l4.1,6.5 3.9,6.9 -9.9-12A638,638 0 0 0 1881.4,2011.5ZM1878.8,2013.4l2.1,3.6 -0.1,1.6 -3.7-4A638,638 0 0 0 1878.8,2013.4ZM1876.4,2015.1l3.5,5.8 3.3,6.3 2.5,5.3 5.9,10.1 -18.3-23.7 3.5,6.7 -5.3-6.9A638,638 0 0 0 1876.4,2015.1ZM1870.4,2019.5l6.6,10 -7.7-9 -0.1-0.2A638,638 0 0 0 1870.4,2019.5ZM1867.2,2021.8l1.5,3.1 -2.1-2.8A638,638 0 0 0 1867.2,2021.8ZM1865.2,2023.2l6.1,9.1 -6.7-8.7A638,638 0 0 0 1865.2,2023.2ZM1861.5,2025.7l1.9,4.4 3.2,6.5 7.8,13.4 -4.8-5.1 -8.3-10.4 -0.3,1.3 1.3,4 -7.2-9.8A638,638 0 0 0 1861.5,2025.7ZM1854.1,2030.7l1.8,3.2 -1.4-0.3 -1.7-0.5 1.8,4.5 -3.8-4.7A638,638 0 0 0 1854.1,2030.7ZM1849.8,2033.5l1.2,2.4 2.5,5.8 -5.5-6.9A638,638 0 0 0 1849.8,2033.5ZM1845,2036.7l8.7,14.9 -1.7-0.7 -9.2-12.4 1.9,4.9 -3.3-4.4A638,638 0 0 0 1845,2036.7ZM1840.4,2039.6l3.8,6.9 -4-4.3 -1.3-1.7A638,638 0 0 0 1840.4,2039.6ZM1837.7,2041.3l2.1,4.1 -2.9-3.6A638,638 0 0 0 1837.7,2041.3ZM1836.2,2042.2l4.7,8.9 2,5.3 0.6,3 -10.4-15.2A638,638 0 0 0 1836.2,2042.2ZM1829.9,2046.1l6.2,11.3 -7.2-10.7A638,638 0 0 0 1829.9,2046.1ZM1824.3,2049.4l0.5,1.3 -1.3-0.8A638,638 0 0 0 1824.3,2049.4ZM1822,2050.8l4,8.2 -5.5-7.4A638,638 0 0 0 1822,2050.8ZM1820.5,2051.6l6.1,12.6 -6.3-8.8 -1.8-2.6A638,638 0 0 0 1820.5,2051.6ZM1817.5,2053.4l6.3,12.2 -7.5-11.5A638,638 0 0 0 1817.5,2053.4ZM1815.1,2054.7l13,25.1 -12.2-19.5 -3-4.3A638,638 0 0 0 1815.1,2054.7ZM1807.5,2059l3.2,7 -2.8-3 -0.7,1 7.5,15.9 -11.1-18.7A638,638 0 0 0 1807.5,2059ZM1803,2061.5l2.6,6.1 1.8,5.4 -4.4-5.8 -3.1-4.1A638,638 0 0 0 1803,2061.5ZM1799.6,2063.3l3.6,8.6 1.2,4.6 -7.1-12A638,638 0 0 0 1799.6,2063.3ZM1796.8,2064.8l8.5,17.9 -4.5-6.3 3.4,8.7 -4.2-5.7 -3.2-3.9 -5.3-8A638,638 0 0 0 1796.8,2064.8ZM1791.5,2067.5l0.5,3.3 0.1,2.4 -2.8-4.6A638,638 0 0 0 1791.5,2067.5ZM1788.3,2069.1l4.7,10.6 -6-9.9A638,638 0 0 0 1788.3,2069.1ZM1785.8,2070.4l0.8,3.5 -1.8-3A638,638 0 0 0 1785.8,2070.4ZM1782.9,2071.9l5.7,13.1 -3.2-4.1 -4.5-8.1A638,638 0 0 0 1782.9,2071.9ZM1776.4,2075l0.9,3.6 -1.9-3.1A638,638 0 0 0 1776.4,2075ZM1771.3,2077.5l1,2.7 -1.5-2.5A638,638 0 0 0 1771.3,2077.5ZM1768.2,2078.9l2.6,7.9 -4.1-7.2A638,638 0 0 0 1768.2,2078.9ZM1765.3,2080.2l3.3,9.4 -0.3,1.9 -5-10.4A638,638 0 0 0 1765.3,2080.2ZM1761.7,2081.9l5.7,15.2 -1.7-1.2 -6.8-12.8A638,638 0 0 0 1761.7,2081.9ZM1758.9,2083.1l4.8,13.6 -6.3-12.9A638,638 0 0 0 1758.9,2083.1ZM1755,2084.8l6.5,17.4 -7.7-16.9A638,638 0 0 0 1755,2084.8ZM1750.7,2086.7l1.7,5 -2.8-4.6A638,638 0 0 0 1750.7,2086.7ZM1746.5,2088.5l3.6,11.2 -5.5-10.5A638,638 0 0 0 1746.5,2088.5ZM1742,2090.3l1.3,3.9 1.8,7.1 -4.8-10.3A638,638 0 0 0 1742,2090.3ZM1731.6,2094.5l4.9,13.8 -4.4-8.3 -2.1-4.9A638,638 0 0 0 1731.6,2094.5ZM1722.6,2097.9l1.3,3.9 1.3,6.6 5.2,17 -6.8-15.3 0.5,4.5 0,2.9 -5.3-11.4 -3-5.7A638,638 0 0 0 1722.6,2097.9ZM1714.2,2101l1.4,5.5 -2.6-5.1A638,638 0 0 0 1714.2,2101ZM1712.5,2101.6l1.9,7.7 -0.2,2.6 -3.1-5.6 0.3,3.8 -2.3-3.4 -0.7,1.3 -2-4.3A638,638 0 0 0 1712.5,2101.6ZM1705.2,2104.1l0.2,1.4 -0.6-1.3A638,638 0 0 0 1705.2,2104.1ZM1702,2105.2l0.1,0.3 2.9,12 -4.5-11.8A638,638 0 0 0 1702,2105.2ZM1696.3,2107.1l0.8,3.2 -1.3-3.1A638,638 0 0 0 1696.3,2107.1ZM1693.3,2108l0.5,2.1 1,6.8 3,13 -7.6-20.9A638,638 0 0 0 1693.3,2108ZM1685.7,2110.4l2,8.2 0,3.6 -1.3-0.7 -3.7-10.2A638,638 0 0 0 1685.7,2110.4ZM1679.9,2112.1l1.3,6.8 -2.8-6.3A638,638 0 0 0 1679.9,2112.1ZM1677,2113l0.4,3.8 -2-3.4A638,638 0 0 0 1677,2113ZM1674.1,2113.8l2.8,12.7 -4.4-12.3A638,638 0 0 0 1674.1,2113.8ZM1670.2,2114.9l4.4,19.1 -5.8-18.7A638,638 0 0 0 1670.2,2114.9ZM1657.6,2118.2l1.6,7.5 1.7,11 -5.2-18A638,638 0 0 0 1657.6,2118.2ZM1652.2,2119.6l4.3,21.4 -6-21A638,638 0 0 0 1652.2,2119.6ZM1649.2,2120.3l0.6,6.4 -1,0.5 -2.4-6.2A638,638 0 0 0 1649.2,2120.3ZM1645.9,2121.1l-0.3,1.2 3.3,19.1 -4.2-13.5 -1.7-2.9 -1.2-3A638,638 0 0 0 1645.9,2121.1ZM1638.4,2122.8l0,0.8 0.3,6 1.5,12 -5-18.1A638,638 0 0 0 1638.4,2122.8ZM1635.2,2123.5l2.9,18.5 -2-4.5 -3.7-13.4A638,638 0 0 0 1635.2,2123.5ZM1629.7,2124.7l3.6,20 -4.8-19.8A638,638 0 0 0 1629.7,2124.7ZM1627.1,2125.2l1.1,10.4 -0.2,4.6 -1.2-0.5 -1.9-4.4 -2.2-9.2A638,638 0 0 0 1627.1,2125.2ZM1621.2,2126.4l0.4,2.9 1.8,14.8 -1.3-1 -0.8,1.6 -4.1-17.6A638,638 0 0 0 1621.2,2126.4ZM1611.4,2128.2l0.6,6.8 -0.2,4.4 -1.1-0.1 0.7,10.5 -4.2-20.9A638,638 0 0 0 1611.4,2128.2ZM1606.2,2129.1l1.5,11.6 -0.2,5 -3.3-16.3A638,638 0 0 0 1606.2,2129.1ZM1603,2129.6l0.7,6.2 -1.3-1.7 -1-4.2A638,638 0 0 0 1603,2129.6ZM1600.1,2130.1l1.1,10 -1.2-0.7 0.3,8.8 -3.6-16.7 0.9,12.9 -2.5-13.5A638,638 0 0 0 1600.1,2130.1ZM1593.9,2131l1.5,12.8 -2.8-12.6A638,638 0 0 0 1593.9,2131ZM1592.4,2131.3l2.4,23.4 -1.9-5.7 -3.2-17.3A638,638 0 0 0 1592.4,2131.3ZM1589.1,2131.7l1.4,15.3 -2.6-10.9 -0.8-4.1A638,638 0 0 0 1589.1,2131.7ZM1584.5,2132.4l0.2,2.8 -0.6-2.8A638,638 0 0 0 1584.5,2132.4ZM1578,2133.2l1.3,17.9 -2.6-12.2 -0.9-5.4A638,638 0 0 0 1578,2133.2ZM1573.9,2133.7l1.3,19.2 -1.3-2.1 -2.6-13.3 -0.9,0.7 -0.7-4A638,638 0 0 0 1573.9,2133.7ZM1565.3,2134.6l0.8,13.1 -0.8,2.6 -2.2-15.4A638,638 0 0 0 1565.3,2134.6ZM1560.9,2135.1l0,2.6 -1-0.2 -0.5-2.3A638,638 0 0 0 1560.9,2135.1ZM1558.1,2135.3l0.4,10.1 -0.7,4.1 -1.9-8.9 -0.8-5A638,638 0 0 0 1558.1,2135.3ZM1553.2,2135.8l-0.3,6.1 -0.7-6A638,638 0 0 0 1553.2,2135.8ZM1550.6,2136l0.2,6 -0.8,2.8 -1.6-8.6A638,638 0 0 0 1550.6,2136ZM1548.2,2136.2l0.3,16.2 -2.1-16.1A638,638 0 0 0 1548.2,2136.2ZM1542.6,2136.6l0.4,13.5 -0.8,4.7 -0.3,11 -1.4-4.8 -2.3-20.4 -0.3,13.4 -0.5,8.5 -2.3-21.9 -1.2-2.7 -0.2-0.8A638,638 0 0 0 1542.6,2136.6ZM1532.4,2137.2l-0.3,6.2 -0.5,10.9 -0.9,3.7 -2-20.6A638,638 0 0 0 1532.4,2137.2ZM1528.7,2137.4l-0.7,7.3 -1.2-3.2 -0.6-4A638,638 0 0 0 1528.7,2137.4ZM1520.6,2137.7l-0.1,2.2 -0.8,7 -1.3-7.4 -0.8,7.8 -1.2-6.4 -0.9,7.4 -0.9-10.5A638,638 0 0 0 1520.6,2137.7ZM1512.6,2137.9l-0.1,18 -1.2-5.2 -0.8,15.2 -1.3-28A638,638 0 0 0 1512.6,2137.9ZM1503.3,2138l-0.4,11.7 -0.6-11.7A638,638 0 0 0 1503.3,2138ZM1501.1,2138l-0.3,3.6 -0.2-3.6A638,638 0 0 0 1501.1,2138ZM1498.7,2138l0,0.6 -0.1-0.6A638,638 0 0 0 1498.7,2138ZM1495.9,2138l-0.4,8.8 -0.3-8.8A638,638 0 0 0 1495.9,2138ZM1491.9,2137.9l-0.6,14.3 -0.8-14.3A638,638 0 0 0 1491.9,2137.9ZM1486.7,2137.9l-0.4,1.7 -0.2-1.8A638,638 0 0 0 1486.7,2137.9ZM1475.3,2137.5l-0.9,12.4 0.1-12.4A638,638 0 0 0 1475.3,2137.5ZM1461.9,2136.9l-0.6,3.4 -0.9-2.9 0-0.6A638,638 0 0 0 1461.9,2136.9ZM1444.1,2135.6l-0.5,4.7 -0.2-4.8A638,638 0 0 0 1444.1,2135.6ZM1442.6,2135.4l-1.4,8.1 0.3-8.2A638,638 0 0 0 1442.6,2135.4ZM1435.8,2134.8l-0.1,0.5 0-0.5A638,638 0 0 0 1435.8,2134.8ZM1426.7,2133.8l-0.9,6.1 0.3-6.2A638,638 0 0 0 1426.7,2133.8ZM1422.3,2133.3l-2.4,11.3 1.1-11.5A638,638 0 0 0 1422.3,2133.3ZM1418.4,2132.8l-0.5,3.1 -0.2-3.2A638,638 0 0 0 1418.4,2132.8ZM1415.9,2132.4l-2,9.3 -1.6,4.5 -0.3-5.9 0.4-8.3A638,638 0 0 0 1415.9,2132.4ZM1411.9,2131.9l-2.8,14.3 1.5-14.5A638,638 0 0 0 1411.9,2131.9ZM1409.3,2131.5l-1,5.4 -0.6-3 -3.2,14.6 1-14.4 -0.7-2 0.1-1.2A638,638 0 0 0 1409.3,2131.5ZM1402.6,2130.5l-2.2,9.3 -1,0 -0.5-3.9 -1.6,3.3 -0.7-2.2 0.3-7.4A638,638 0 0 0 1402.6,2130.5ZM1396.7,2129.6l-3.5,15.2 1.4-14.4 -2.5,8.6 1-10A638,638 0 0 0 1396.7,2129.6ZM1389.6,2128.4l-4.3,18.4 -2.2,6.5 3.7-25.4A638,638 0 0 0 1389.6,2128.4ZM1385.9,2127.7l-1.1,4.3 -4.2,17.1 3-21.8A638,638 0 0 0 1385.9,2127.7ZM1381.1,2126.8l-5.5,25.6 3.1-21.8 -0.9-1 0.4-3.3A638,638 0 0 0 1381.1,2126.8ZM1371.4,2124.9l-0.2,0.7 -0.9-0.7 0-0.2A638,638 0 0 0 1371.4,2124.9ZM1369,2124.4l-2,6.3 0.9-6.5A638,638 0 0 0 1369,2124.4ZM1366.1,2123.8l-3.8,13.5 2.1-13.9A638,638 0 0 0 1366.1,2123.8ZM1363.9,2123.3l-1.6,4.1 -1.8,3.4 0-4.8 -1.5,2.1 0.3-5.8A638,638 0 0 0 1363.9,2123.3ZM1356.1,2121.6l-8.1,30.7 4.1-22.2 1.7-9.1A638,638 0 0 0 1356.1,2121.6ZM1344.9,2118.9l-6.1,21 4.4-21.5A638,638 0 0 0 1344.9,2118.9ZM1343.1,2118.4l-7,23.4 4.4-21.4 0-2.7A638,638 0 0 0 1343.1,2118.4ZM1331.4,2115.3l-3.2,10.7 2.4-10.9A638,638 0 0 0 1331.4,2115.3ZM1322.2,2112.7l-0.2,0.8 -5.5,15.1 4-16.4A638,638 0 0 0 1322.2,2112.7ZM1308.4,2108.6l-0.4,0.9 -5.1,12.6 3.9-14A638,638 0 0 0 1308.4,2108.6ZM1305.6,2107.7l-1.2,2.9 0.7-3.1A638,638 0 0 0 1305.6,2107.7ZM1299.8,2105.8l-1.5,3.3 0.9-3.5A638,638 0 0 0 1299.8,2105.8ZM1297.6,2105l-0.4,1.1 0.3-1.1A638,638 0 0 0 1297.6,2105ZM1295.7,2104.4l-1,2.5 0.6-2.6A638,638 0 0 0 1295.7,2104.4ZM1294.3,2103.9l-7.7,20.2 1.7-8 3.7-13A638,638 0 0 0 1294.3,2103.9ZM1290.9,2102.8l-0.9,1.7 -0.2-2.1A638,638 0 0 0 1290.9,2102.8ZM1288.2,2101.8l-3.5,8.4 2.3-8.8A638,638 0 0 0 1288.2,2101.8ZM1284.3,2100.4l-3.8,9.1 3-9.4A638,638 0 0 0 1284.3,2100.4ZM1279.4,2098.6l-1.4,2.5 0.8-2.7A638,638 0 0 0 1279.4,2098.6ZM1277.1,2097.8l-0.2,0.2 0.1-0.2A638,638 0 0 0 1277.1,2097.8ZM1274.3,2096.7l-1.1,2.6 0.8-2.7A638,638 0 0 0 1274.3,2096.7ZM1272.4,2096l-1.7,3.9 1.1-4.1A638,638 0 0 0 1272.4,2096ZM1270.5,2095.3l-0.6,0.9 0.3-1A638,638 0 0 0 1270.5,2095.3ZM1268.4,2094.5l-0.2,0.4 0-0.5A638,638 0 0 0 1268.4,2094.5ZM1265.8,2093.4l-2.4,5.1 1.8-5.3A638,638 0 0 0 1265.8,2093.4ZM1259.6,2091l-3.1,5.1 1.8-5.7A638,638 0 0 0 1259.6,2091ZM1256,2089.5l-2.1,4.8 0.8-4.7 0.2-0.6A638,638 0 0 0 1256,2089.5ZM1253.3,2088.4l-1.7,3.1 1.2-3.3A638,638 0 0 0 1253.3,2088.4ZM1251,2087.4l-4.6,8.4 2.6-8.7 -3.4,5.3 2.3-6.3A638,638 0 0 0 1251,2087.4ZM1246.2,2085.3l-5,9.4 2-7.2 0.7-3.2A638,638 0 0 0 1246.2,2085.3ZM1243.1,2084l-1.7,2.4 -3.6,5.6 -9.1,17.9 5.5-14.9 5-12.7A638,638 0 0 0 1243.1,2084ZM1238.3,2081.9l-4.8,9.4 3.7-9.9A638,638 0 0 0 1238.3,2081.9ZM1235.2,2080.5l-3.4,6.9 -7.6,14.1 8.6-21.3 -4,6.3 2.6-7.8A638,638 0 0 0 1235.2,2080.5ZM1231.2,2078.6l-8.2,15.4 4.9-13 -0.7-1 0.4-3.1A638,638 0 0 0 1231.2,2078.6ZM1227.5,2076.9l-6.7,11.7 3.6-9.9 0.8-2.9A638,638 0 0 0 1227.5,2076.9ZM1223.6,2075l-7.8,14.3 4.6-11.9 -5,7.9 0.3-3.2 -3.4,4.8 -0.3-1.8 5.1-12.7 -5.7,9 4.3-10.2A638,638 0 0 0 1223.6,2075ZM1215,2070.8l-3.3,5.3 -5.9,9.4 0.5-3.2 5.8-12.9A638,638 0 0 0 1215,2070.8ZM1210.9,2068.7l-0.6,1 -2.4,2.5 -6.8,10.8 5-12 -7.5,12.3 4.2-10.4 -6.6,10.5 8.2-18A638,638 0 0 0 1210.9,2068.7ZM1204.3,2065.3l-7.5,12.4 6.3-13A638,638 0 0 0 1204.3,2065.3ZM1202.1,2064.2l-12.1,21.8 10.9-22.5A638,638 0 0 0 1202.1,2064.2ZM1200,2063.1l-1.2,1.7 -4.8,6.9 3.8-9.4 0.1-0.3A638,638 0 0 0 1200,2063.1ZM1196.8,2061.4l-13.3,23 4.1-9.9 3.8-9.1 -3.5,4.2 0.3-2.7 2.3-6.4 -1.2,0.1 -3,3.2 -2,1.5 1.8-5.4 -6.3,9.1 -2.6,2.5 1.9-5.5 0.6-3.3 -4.2,5.3 7.5-14.3A638,638 0 0 0 1196.8,2061.4ZM1177,2050.2l-2.7,3 -19.5,31 11.8-22 2.9-6.9 -0.5-1.3 0.3-2.4 -6.1,8 0.9-3.5 0.3-2.5 1.8-5 -9.1,12.8 9.7-17.3A638,638 0 0 0 1177,2050.2ZM1166.2,2043.7l-4.8,6.8 -11.5,16.6 5.3-10.6 8.2-14.5A638,638 0 0 0 1166.2,2043.7ZM1162.6,2041.5l-5,7 -11.4,16.3 4.6-9.4 8.3-15 -11.6,16.3 10.6-18A638,638 0 0 0 1162.6,2041.5ZM1157.1,2038l-1.4,1.8 0.6-2.3A638,638 0 0 0 1157.1,2038ZM1156,2037.3l-11,15.4 3.2-6.9 5.8-9.8A638,638 0 0 0 1156,2037.3ZM1152.9,2035.3l-5.4,7.6 -4.3,4.8 -2,1.1 9.1-15.2A638,638 0 0 0 1152.9,2035.3ZM1149.6,2033.2l-9,12.7 2.3-5.4 5-8.5A638,638 0 0 0 1149.6,2033.2ZM1146.8,2031.3l-2.3,2.9 -2.8,2.4 -4,4.1 4.1-8 -5.6,6.4 3.6-7.2 -3.2,2.8 -9.4,12 -2.4,1.6 14.1-22.3A638,638 0 0 0 1146.8,2031.3ZM1137.5,2025l-5.9,7.8 2.3-5.1 0.2-2.1 -3,2.3 0.1-1.8 -9.6,11.7 10.6-16.5A638,638 0 0 0 1137.5,2025ZM1131.9,2021.1l-11.7,15 6-10.3 3.3-6.4 -2.5,1.7 -3.4,3 4-6A638,638 0 0 0 1131.9,2021.1ZM1126,2016.9l-10.5,13 -4.2,4 4.2-7.6 2.1-4.6 4.8-7.4A638,638 0 0 0 1126,2016.9ZM1120.8,2013.1l-6.3,7.5 -3.9,3.5 2.4-5 2.7-5.4 2-3A638,638 0 0 0 1120.8,2013.1ZM1115.8,2009.4l-8.1,9.8 5.5-9.1 -9.9,11.3 8.4-12.7 -9,10.1 4.5-7.7 1.4-3.4 0.8-2.8 -11.4,13 10.3-14.3A638,638 0 0 0 1115.8,2009.4ZM1106.4,2002.1l-0.3,0.3 0.2-0.4A638,638 0 0 0 1106.4,2002.1ZM1104.1,2000.3l-4,4.6 3.5-5A638,638 0 0 0 1104.1,2000.3ZM1100.8,1997.7l-1.8,1.9 1.5-2.2A638,638 0 0 0 1100.8,1997.7ZM1097.9,1995.4l-10.6,12.1 5.5-8.4 -11.6,12.4 0.5-2.3 0.8-2.6 7.6-10.8 -14.8,16.1 8.6-11.9 -4.3,3.4 10.6-14.3 0-0.1A638,638 0 0 0 1097.9,1995.4ZM1089.2,1988.2l-3.5,3.1 2.4-4.1A638,638 0 0 0 1089.2,1988.2ZM1087.8,1987l-11,11.5 -3.7,2.7 1.5-3.4 4.6-7 0.2-1.8 -2.5,1.3 5.9-7.6A638,638 0 0 0 1087.8,1987ZM1082.2,1982.1l-17.5,19 1.7-3.5 8.2-11.1 -5.6,4.8 -1.2-0.2 9.1-11.9 -0.4-1.2 -19.5,20.5 6.3-8.7 2.8-4.8 3.2-5.1 4.3-5.3A638,638 0 0 0 1082.2,1982.1ZM1072.8,1973.8l-12.6,13.1 4.8-6.9 2.1-3.9 -7.7,6.9 -11,10.5 -1.4-0.1 10.9-13.5 9.4-11.1A638,638 0 0 0 1072.8,1973.8ZM1063.7,1965.5l-6.3,5.7 -10.6,9.7 6.9-8.8 7.6-8.9A638,638 0 0 0 1063.7,1965.5ZM1060.7,1962.6l-11,10.6 10.1-11.4A638,638 0 0 0 1060.7,1962.6ZM1058.9,1960.9l-2.7,2.5 -4.2,2.9 5.5-6.7A638,638 0 0 0 1058.9,1960.9ZM1056.1,1958.3l-12.2,11.8 3.8-5.5 -1.5,0.1 4.7-6.3 -9.9,8.6 -2.8,1.3 2-3.6 10.4-11.8A638,638 0 0 0 1056.1,1958.3ZM1049.3,1951.5l-3.2,2.8 -22.3,20.8 -3.6,2.1 -2.2,0.6 20.9-22.2 -8.7,7.1 1.8-3.3 -6.2,4.6 16.2-17.3 -7.8,6.1 2.2-3.5 5-5.7A638,638 0 0 0 1049.3,1951.5ZM1041,1943.1l-20.9,19 7.9-9.1 -5.1,3.4 0.1-1.6 -2.1,0.5 11.4-12.2 4.2-4.7A638,638 0 0 0 1041,1943.1ZM1035.8,1937.6l-5,4 4.2-4.8A638,638 0 0 0 1035.8,1937.6ZM1034.4,1936.2l-5.7,4.5 0.8-2.2 3.3-4.1A638,638 0 0 0 1034.4,1936.2ZM1030.6,1932.1l-4.3,3.7 -2,0.5 -2.6,0.8 6.9-7.2A638,638 0 0 0 1030.6,1932.1ZM1028.2,1929.5l-8.3,6.5 7.2-7.8A638,638 0 0 0 1028.2,1929.5ZM1026.9,1928l-8.3,6.3 -2.1,0.5 2.5-3.7 5.5-5.7A638,638 0 0 0 1026.9,1928ZM1023.2,1923.9l-5.8,4.4 -3.4,1.7 2.7-3.8 4.5-4.5A638,638 0 0 0 1023.2,1923.9ZM1019.2,1919.4l-2.3,1.1 -6,3.8 -8.2,5.7 3.6-4.5 0.9-2.2 8.4-8.1A638,638 0 0 0 1019.2,1919.4ZM1014.7,1914.2l0,0 0,0A638,638 0 0 0 1014.7,1914.2ZM1013.9,1913.2l-7.9,5.6 6.7-7A638,638 0 0 0 1013.9,1913.2ZM1012.7,1911.8l-13,9.6 5.3-5.9 4.6-5.1 -6.1,3.7 0.4-1.7 -8.3,5.5 12.6-11.5A638,638 0 0 0 1012.7,1911.8ZM1006.4,1904.3l-10.2,7.6 0.6-1.8 8.1-7.7A638,638 0 0 0 1006.4,1904.3ZM1004.7,1902.1l-9.5,6.6 4.3-4.9 -10.5,7.2 13.4-11.7A638,638 0 0 0 1004.7,1902.1ZM1001.7,1898.5l-4.3,3 4-3.5A638,638 0 0 0 1001.7,1898.5ZM1000.6,1897l-16.1,12.1 15.3-13A638,638 0 0 0 1000.6,1897ZM999.1,1895.2l-3,2.1 -1.2-0.4 2.9-3.4A638,638 0 0 0 999.1,1895.2ZM997.3,1892.9l-0.8,0.1 -4.8,2.4 -11.6,7.7 15.3-12.7A638,638 0 0 0 997.3,1892.9ZM995,1889.9l-20.7,15 9.3-8.5 9.8-8.6A638,638 0 0 0 995,1889.9ZM992,1886l-4.5,2.1 3.7-3.2A638,638 0 0 0 992,1886ZM990.6,1884.1l-16.5,11.5 15.5-12.8A638,638 0 0 0 990.6,1884.1ZM989.3,1882.4l-9.4,6.1 -9.2,5.6 17-13.8A638,638 0 0 0 989.3,1882.4ZM987.5,1880l-8,5 7-6.3A638,638 0 0 0 987.5,1880ZM986.3,1878.4l-6.7,3.9 5.9-5.1A638,638 0 0 0 986.3,1878.4ZM984.9,1876.5l-7.1,4.5 6.6-5.3A638,638 0 0 0 984.9,1876.5ZM983.2,1874.2l-5,2.6 -0.3-1.1 -9.7,5.7 13-10.1A638,638 0 0 0 983.2,1874.2ZM980.7,1870.6l-10.6,6.9 10-7.8A638,638 0 0 0 980.7,1870.6ZM979.4,1868.8l-6.9,4.4 6.2-5.3A638,638 0 0 0 979.4,1868.8ZM977.9,1866.7l-17.1,10.9 16.2-12.3A638,638 0 0 0 977.9,1866.7ZM976.5,1864.7l-10.4,6.6 -1-0.6 10.1-7.9A638,638 0 0 0 976.5,1864.7ZM974.7,1862.1l-4.9,2.7 0.8-1.7 -14.7,8.8 5.4-5.1 9.1-7.4 0.3-1.5 -4,1.5 4-3.2A638,638 0 0 0 974.7,1862.1ZM968.1,1852.3l-0.5,0.3 -13.9,7.9 7.5-6.2 2.8-3.1 2.2-1.8A638,638 0 0 0 968.1,1852.3ZM965.5,1848.3l-4,2.1 -3.1,0.8 0.7-1.8 -14.8,8.3 3.1-3.2 -6.8,3 4-3.8 16.8-11.7A638,638 0 0 0 965.5,1848.3ZM961.2,1841.7l-16.5,9.4 15.7-10.6A638,638 0 0 0 961.2,1841.7ZM959.9,1839.6l-7.5,4.2 6.2-5.1 0.5-0.4A638,638 0 0 0 959.9,1839.6ZM957.4,1835.6l-36.3,21.3 21.4-14.4 8.6-6.5 -2.3,0.2 0.5-1.6 -11.5,5.7 10.4-7.4 -11,5.3 15.4-10.4A638,638 0 0 0 957.4,1835.6ZM952.6,1827.7l-7.5,3.3 -2.9,0.6 4.3-3.8 4-3.6 -7.7,3.4 -6.1,2.3 -11.6,5.5 15.6-10.3 -18.4,9.5 -4.3,1.2 9.8-6.9 6.2-4.8 12-7.7A638,638 0 0 0 952.6,1827.7ZM944.1,1813.1l-2.9,0.9 2.5-1.7A638,638 0 0 0 944.1,1813.1ZM941.4,1808.2l-1.6,0.6 1.4-0.8A638,638 0 0 0 941.4,1808.2ZM936.3,1798.8l-7.6,3 7-4.1A638,638 0 0 0 936.3,1798.8ZM934.5,1795.4l-1.4,0.6 -18.5,8.4 -8.1,3.1 25-14.2 -5,1.4 5.2-3.8 -5,1.4 4-3.3 -14,6 11.1-6.8 1.9-2.1A638,638 0 0 0 934.5,1795.4ZM929.7,1786.1l-6.7,2.2 -8.2,2.9 13.7-7.5A638,638 0 0 0 929.7,1786.1ZM926.8,1780.2l-6.8,2.6 -2.5,0 3.9-3 -5.1,1.3 2.2-2.3 -3.6,0.6 -6.5,2 15.1-8.1A638,638 0 0 0 926.8,1780.2ZM923.3,1772.8l-15.5,6.5 4-3.1 10.4-5.7A638,638 0 0 0 923.3,1772.8ZM920.9,1767.8l-5.2,2 -17.3,6.8 21.5-11A638,638 0 0 0 920.9,1767.8ZM919,1763.7l-37.2,15.7 36.5-17.4A638,638 0 0 0 919,1763.7ZM918,1761.3l-6.7,2.4 6.3-3.2A638,638 0 0 0 918,1761.3ZM917,1759.1l-1.3,0.4 1.1-0.9A638,638 0 0 0 917,1759.1ZM916.5,1757.9l-16.2,6.1 15.4-7.7A638,638 0 0 0 916.5,1757.9ZM915.1,1754.8l-5.8,1.8 1.3-1.7 3.4-2.6A638,638 0 0 0 915.1,1754.8ZM914,1752.3l-8.1,2.4 7.4-4A638,638 0 0 0 914,1752.3ZM913.1,1750.2l-10,3.4 6-3.7 -11.7,3.8 14.3-6.8A638,638 0 0 0 913.1,1750.2ZM911.2,1745.6l-16.8,5.9 7.1-4.1 8.6-4.3A638,638 0 0 0 911.2,1745.6ZM909.2,1740.7l-26.4,9.8 25.7-11.5A638,638 0 0 0 909.2,1740.7ZM907.2,1736l-10.6,3.2 5.7-3.4 4.1-1.8A638,638 0 0 0 907.2,1736ZM905.8,1732.4l-2.4,0.8 2.3-1.1A638,638 0 0 0 905.8,1732.4ZM905.1,1730.6l-5.7,1.9 5.5-2.5A638,638 0 0 0 905.1,1730.6ZM903.9,1727.5l-1.5,0.5 0-1.1 -9.1,2.3 3.9-2.6 -11.1,3.1 5.2-3.1 -8.5,2 -3.1,0 21.5-8.5A638,638 0 0 0 903.9,1727.5ZM900,1716.8l-0.8,0.2 0.2-1.1 0.2-0.2A638,638 0 0 0 900,1716.8ZM899.1,1714.3l-4.2,1 3.8-2.1A638,638 0 0 0 899.1,1714.3ZM898,1711.3l-4.3,1.1 3.9-2.2A638,638 0 0 0 898,1711.3ZM897.5,1709.8l-8.2,1.9 1.6-1.7 5.8-2.4A638,638 0 0 0 897.5,1709.8ZM895.9,1705.1l-0.9,0.2 -3.9,0.2 4.4-1.6A638,638 0 0 0 895.9,1705.1ZM894.8,1702l-12.3,3.1 3.6-2.3 8-3A638,638 0 0 0 894.8,1702ZM893.7,1698.6l-9.2,2.5 8.9-3.3A638,638 0 0 0 893.7,1698.6ZM893,1696.4l-3.8,1 3.7-1.2A638,638 0 0 0 893,1696.4ZM891.7,1692.4l-3.4,0.9 3.3-1.2A638,638 0 0 0 891.7,1692.4ZM888.1,1680.5l-3.3,0.9 3.1-1.5A638,638 0 0 0 888.1,1680.5ZM884.5,1667.8l-8.5,2 8.3-2.7A638,638 0 0 0 884.5,1667.8ZM883.9,1665.7l-3.6,0.7 3.4-1.3A638,638 0 0 0 883.9,1665.7ZM883.4,1663.8l-2.7,0.4 2.6-0.9A638,638 0 0 0 883.4,1663.8ZM875.9,1632.4l-3.1,0.6 -5.2,0 4.6-2 3.2-0.8A638,638 0 0 0 875.9,1632.4ZM873.8,1622.2l-1.1,0.2 1.1-0.3A638,638 0 0 0 873.8,1622.2ZM870.7,1605.1l-2,0.1 2-0.4A638,638 0 0 0 870.7,1605.1ZM870.4,1603.1l-4.7,0.5 4.6-0.9A638,638 0 0 0 870.4,1603.1ZM870.1,1601.1l-15.3,2.1 12-3 3-0.5A638,638 0 0 0 870.1,1601.1ZM869.5,1597.8l-2.2,0.3 -21.9,2.3 23.8-4.6A638,638 0 0 0 869.5,1597.8ZM869.2,1595.5l-19.9,2.1 19.6-3.7A638,638 0 0 0 869.2,1595.5ZM868.9,1593.4l-16.7,1.6 -1.5-0.8 9.8-2.5 7.9-1.7A638,638 0 0 0 868.9,1593.4ZM868.1,1587.8l-8.3,0.8 -4.1-0.5 10.2-2.4 -23.9,2.1 12-2.6 13.4-2.5A638,638 0 0 0 868.1,1587.8ZM867.2,1581.7l-3.2,0.1 -4.1-0.6 7.1-1.5A638,638 0 0 0 867.2,1581.7ZM866.9,1579.1l-25.5,2.3 -6.1-0.3 19.4-3.5 11.8-1.8A638,638 0 0 0 866.9,1579.1ZM866.3,1574l-7.8,0 -0.9-0.9 8.4-1.6A638,638 0 0 0 866.3,1574ZM865.8,1569.8l-10.4,0.3 4.2-1.5 6-0.8A638,638 0 0 0 865.8,1569.8ZM865.3,1564.5l-19,1.3 14.8-2.6 -21,1 9.1-1.9 -0.8-1 8.5-1.8 -2.3-0.9 -18.9,0.6 26.6-3.4 -12.7,0.1 4.4-1.5 -6.7-0.5 16.8-2.2A638,638 0 0 0 865.3,1564.5ZM864.1,1551.2l-5.3-0.3 -8.5-0.4 -16.1,0.2 29.6-3.1A638,638 0 0 0 864.1,1551.2ZM863.7,1547l-14.1,0.4 7.9-1.6 2.5-1.3 -7.7-0.5 8.9-1.6 -13.3-0.2 3.6-1.3 -25.5,0.5 31.5-3 -21.8,0.3 5.8-1.4 21.5-1.8A638,638 0 0 0 863.7,1547ZM862.9,1534.1l-1.5,0 1.5-0.3A638,638 0 0 0 862.9,1534.1ZM862.8,1532.2l-4.3-0.1 -14.5-0.3 5.2-1.3 3.9-1.3 8.8-1.4 -20.2-0.2 20.8-1.5A638,638 0 0 0 862.8,1532.2ZM862.5,1525.2l-10.7-0.1 -23.6-0.2 3.8-1.2 9.2-1.4 0.4-1.1 -18.5-0.5 -10.1-0.8 14.7-1.5 -13.9-0.7 25-1.8 0.6-1 3.8-1.2 -19.9-0.7 5.2-1.2 14.2-1.3 2.4-1.1 14-1.2 2.9-0.3A638,638 0 0 0 862.5,1525.2ZM862,1506.7l-14.6-0.5 -22.5-0.9 25.1-1.2 11.9-1.1 -25.6-1 -0.7-1.1 3.1-1 19.6-1.1 -19.9-1.1 -0.9-1.1 -1-1 7.6-1 14-1 -16.5-1.2 15.9-0.9 -3.9-1.1 2.5-1 2.8-1 -1.7-1 -24.9-1.6 20.2-0.6 -4.4-1.2 5.4-0.9 -8.7-1.3 -16-1.5 2.3-1 5.8-0.9 4.5-1 -0.9-1.1 4-0.9 0.5-1 17.5,0A638,638 0 0 0 862,1506.7ZM862.6,1472.7l-16.9-1.5 15.7-0.3 1.3,0A638,638 0 0 0 862.6,1472.7ZM862.8,1468.6l-1.2-0.8 1.2,0A638,638 0 0 0 862.8,1468.6ZM863.3,1459.6l-0.1,0 -2.2-1.2 2.4,0A638,638 0 0 0 863.3,1459.6ZM863.5,1455.6l-1.4-0.3 -24.3-2.7 25.7,0.8 0.2,0A638,638 0 0 0 863.5,1455.6ZM863.8,1451.6l-7.8-0.9 7.9-0.3A638,638 0 0 0 863.8,1451.6ZM864,1450.1l-4.9-1.2 5,0A638,638 0 0 0 864,1450.1ZM865,1438.7l-7.1-1.5 7-0.3 0.2,0A638,638 0 0 0 865,1438.7ZM865.5,1433.2l-14.2-1.9 14.3,1A638,638 0 0 0 865.5,1433.2ZM866,1428.8l-1.1-0.3 1.1,0.1A638,638 0 0 0 866,1428.8ZM866.6,1423.7l-3.8-0.6 3.9-0.3A638,638 0 0 0 866.6,1423.7ZM868.3,1410.8l-8.9-1.9 9,0.9A638,638 0 0 0 868.3,1410.8ZM868.6,1408.4l-5-1 5.1,0.5A638,638 0 0 0 868.6,1408.4ZM869.1,1405.1l-0.5-0.1 0.5,0.1A638,638 0 0 0 869.1,1405.1ZM869.4,1403l-6.1-1.9 6.3,0.6A638,638 0 0 0 869.4,1403ZM871.1,1392.9l-0.9-0.2 0.8-0.9 0.3-0.1A638,638 0 0 0 871.1,1392.9ZM871.8,1388.5l-22.9-4.9 19.5,2.5 3.8,0.2A638,638 0 0 0 871.8,1388.5ZM872.4,1385.2l-5.7-1.6 3.3-0.4 -5.8-2.2 0.1-1 7.8,0.4 -17.8-4.5 19.3,2.8A638,638 0 0 0 872.4,1385.2ZM874.4,1374.8l-7.1-1.7 7.3,0.9A638,638 0 0 0 874.4,1374.8ZM874.7,1373.2l-13.6-3.5 10.3,1 3.7,0.7A638,638 0 0 0 874.7,1373.2ZM875.4,1369.7l-7.6-1.8 7.8,1.1A638,638 0 0 0 875.4,1369.7ZM876.9,1362.9l-4.6-1.5 1.5-0.8 -5.4-2.3 -0.1-1.1 -5.5-2.3 4-0.2 0.6-0.9 11.2,1.7A638,638 0 0 0 876.9,1362.9ZM879.7,1350.7l-8.5-2.5 2.8-0.4 4.6,0.1 1.7,0.3A638,638 0 0 0 879.7,1350.7ZM880.7,1346.7l-12-3.4 1.7-0.7 8,0.9 0-1 -13.8-4.6 17.3,3.3 0.2,0A638,638 0 0 0 880.7,1346.7ZM882.7,1338.7l-0.8-0.7 1,0.2A638,638 0 0 0 882.7,1338.7ZM883.3,1336.5l-2.3-0.9 -31.3-9.4 34.1,8.3A638,638 0 0 0 883.3,1336.5ZM885,1330.2l-3.6-2 3.9,0.9A638,638 0 0 0 885,1330.2ZM887,1323.1l-11.4-4.2 11.8,2.9A638,638 0 0 0 887,1323.1ZM888.3,1318.7l-11-3.7 11.3,2.8A638,638 0 0 0 888.3,1318.7ZM889.4,1315.1l-11.3-4.2 11.8,2.6A638,638 0 0 0 889.4,1315.1ZM890.8,1310.5l-2.5-0.8 -5.3-2.8 8.3,1.9A638,638 0 0 0 890.8,1310.5ZM891.9,1306.9l-9.8-3.6 4.9,0.5 2.3-0.4 3.5,0.7A638,638 0 0 0 891.9,1306.9ZM893.6,1301.8l-6.9-2.5 -4.9-2.7 12.3,3.6A638,638 0 0 0 893.6,1301.8ZM895.7,1295.4l-1-1.1 1.3,0.3A638,638 0 0 0 895.7,1295.4ZM897.5,1290l-5.3-2.1 2.5-0.2 1.9-0.4 -4.9-2.9 -8-3.9 -0.4-1.3 2.6-0.2 6,1 8.2,2.7A638,638 0 0 0 897.5,1290ZM901.1,1280.2l-0.8-0.4 -17.3-7.5 12,3.3 -1.7-1.7 -2-1.9 11.4,3.7A638,638 0 0 0 901.1,1280.2ZM903.5,1273.7l-11.3-4.7 11.1,3 0.8,0.1A638,638 0 0 0 903.5,1273.7ZM905,1269.7l-3.4-1.6 3.6,1.2A638,638 0 0 0 905,1269.7ZM906.3,1266.3l-13.9-6.3 14.5,4.9A638,638 0 0 0 906.3,1266.3ZM908.7,1260.4l-9.7-4.6 10.1,3.6A638,638 0 0 0 908.7,1260.4ZM909.6,1258.2l-5-2.4 -11.6-5.9 10.5,3.2 7.3,1.9 0.4-0.9 0.1-0.1A638,638 0 0 0 909.6,1258.2ZM912.5,1251.3l-0.5-0.3 -6.8-4 -3.8-2.8 3.2,0.2 9.4,3.4A638,638 0 0 0 912.5,1251.3ZM914.9,1245.6l-2.5-1.2 2.1-0.2 1,0.1A638,638 0 0 0 914.9,1245.6ZM916.8,1241.4l-16.1-7.9 16.5,6.8A638,638 0 0 0 916.8,1241.4ZM917.6,1239.4l-22.7-10.8 23.3,9.6A638,638 0 0 0 917.6,1239.4ZM920.7,1232.6l-6.7-3.5 -1.5-1.8 9.2,3.2A638,638 0 0 0 920.7,1232.6ZM921.7,1230.4l-9.5-5.5 10.3,3.9A638,638 0 0 0 921.7,1230.4ZM922.7,1228.3l-10.9-6 11.6,4.7A638,638 0 0 0 922.7,1228.3ZM924.2,1225.3l-8.7-4.7 9.1,3.8A638,638 0 0 0 924.2,1225.3ZM927.4,1218.5l-3.7-2.1 4.2,1.2A638,638 0 0 0 927.4,1218.5ZM928,1217.3l-18.4-10.2 6.5,2.1 8.5,3 -0.1-1.2 5.5,2.4A638,638 0 0 0 928,1217.3ZM930.7,1212.1l-4.8-2.8 5.1,2.2A638,638 0 0 0 930.7,1212.1ZM932.9,1207.6l-7.8-4.5 -9.2-6 18,8.6A638,638 0 0 0 932.9,1207.6ZM934.4,1204.7l-4-2.4 4.4,1.7A638,638 0 0 0 934.4,1204.7ZM935.2,1203.2l-4.8-3.2 -1.2-1.9 -8.8-5.8 7.6,2.8 9.3,4.2A638,638 0 0 0 935.2,1203.2ZM938.5,1197.2l-11.2-7.2 0.2-1.1 10.8,4.6 -1.8-2.1 2.1,0 2.4,1A638,638 0 0 0 938.5,1197.2ZM942.2,1190.3l-8.9-5.5 9.3,4.8A638,638 0 0 0 942.2,1190.3ZM943.5,1187.9l-11.9-7.6 12.6,6.5A638,638 0 0 0 943.5,1187.9ZM945,1185.3l-20.2-12.5 6.8,2.6 9.6,4.3 5.8,2.2A638,638 0 0 0 945,1185.3ZM947.9,1180.3l-2.5-1.8 -0.6-1.5 4,1.7A638,638 0 0 0 947.9,1180.3ZM951.2,1174.7l-0.4-0.3 0.4,0.2A638,638 0 0 0 951.2,1174.7ZM952.1,1173.2l-2.7-2 3.2,1.1A638,638 0 0 0 952.1,1173.2ZM952.9,1171.7l-2.2-2.1 -9.5-7 11.3,5.6 2,1A638,638 0 0 0 952.9,1171.7ZM956.1,1166.5l-50.7-32.1 38.8,22.6 10,5 3.9,1.2A638,638 0 0 0 956.1,1166.5ZM958.2,1163.2l-10.5-7.7 11.5,6.1A638,638 0 0 0 958.2,1163.2ZM960.4,1159.6l-4.3-3.8 1.7-0.2 -9.6-7.3 5.8,2.4 9,4.8A638,638 0 0 0 960.4,1159.6ZM963.4,1154.9l-2-1.9 2.4,1.2A638,638 0 0 0 963.4,1154.9ZM965.7,1151.4l-6.1-4.5 -1.6-2.3 8,3.9 -11-8.5 5.7,2.5 7.9,4.4A638,638 0 0 0 965.7,1151.4ZM968.9,1146.4l-8.9-6.8 3.8,1.3 -3.9-3.9 0.2-1.2 -12-9.4 19.1,11.7 -7-6.1 13,8.1A638,638 0 0 0 968.9,1146.4ZM974.4,1138.3l-2-1.7 2.3,1.3A638,638 0 0 0 974.4,1138.3ZM975.5,1136.7l-3.7-3.1 4.1,2.6A638,638 0 0 0 975.5,1136.7ZM977.8,1133.4l-1.4-1.6 -18-14 18.4,11.8 2.8,1.4A638,638 0 0 0 977.8,1133.4ZM980.3,1130l-2.3-2.2 -1.4-2.3 -1.8-2.5 7.1,4.6A638,638 0 0 0 980.3,1130ZM984.5,1124.1l-5.2-4.3 -11.3-9.6 7,3.8 6.1,3.2 1.8,0.1 4.5,2.8A638,638 0 0 0 984.5,1124.1ZM991.4,1114.9l-4.8-4 5.2,3.4A638,638 0 0 0 991.4,1114.9ZM992.5,1113.3l-4.3-3.8 -7.8-7.3 -6.6-6.4 20.7,15A638,638 0 0 0 992.5,1113.3ZM995.6,1109.4l-8.8-7.6 9.6,6.5A638,638 0 0 0 995.6,1109.4ZM997.7,1106.7l-3.8-3.3 1.8,0.1 3.1,1.7A638,638 0 0 0 997.7,1106.7ZM1002.2,1101l-2.8-2.6 3.5,1.7A638,638 0 0 0 1002.2,1101ZM1003.1,1099.8l-2.1-2.8 -0.3-1.6 3.9,2.6A638,638 0 0 0 1003.1,1099.8ZM1006,1096.2l-6-5.3 6.1,3.6 0.8,0.6A638,638 0 0 0 1006,1096.2ZM1008.1,1093.7l-7.2-6.2 4,2 -6.6-6.9 8.1,5.4 -16.2-14.9 6.1,3.7 15.8,12.1A638,638 0 0 0 1008.1,1093.7ZM1012.4,1088.6l-3.1-3.6 3.8,2.8A638,638 0 0 0 1012.4,1088.6ZM1014.1,1086.5l-1.2-1.2 -1.1-2.3 3.3,2.4A638,638 0 0 0 1014.1,1086.5ZM1016.9,1083.3l0,0 -10.4-10.4 11.6,9A638,638 0 0 0 1016.9,1083.3ZM1018.4,1081.5l-7.1-7.2 8,6.2A638,638 0 0 0 1018.4,1081.5ZM1020.5,1079.2l-5.6-5.9 6.4,5A638,638 0 0 0 1020.5,1079.2ZM1022.3,1077.2l-1.2-1.2 1.3,1A638,638 0 0 0 1022.3,1077.2ZM1025.5,1073.5l-1.2-1.6 2,0.7A638,638 0 0 0 1025.5,1073.5ZM1028.5,1070.2l-1-1 1.2,0.8A638,638 0 0 0 1028.5,1070.2ZM1029.5,1069.1l-9.3-9.4 2.7,1 7.7,5.7 -16.7-16.9 12.7,10.4 4,2.2 0.9-0.6 3.2,2A638,638 0 0 0 1029.5,1069.1ZM1036.7,1061.3l-8.9-9 9.6,8.4A638,638 0 0 0 1036.7,1061.3ZM1038.4,1059.6l-1.2-1.2 -12-12.9 14.4,12.8A638,638 0 0 0 1038.4,1059.6ZM1042,1055.9l-0.9-1 -6.2-7.4 8.5,6.9A638,638 0 0 0 1042,1055.9ZM1043.8,1054l-1.3-2.1 -21.6-22.6 16.7,14.9 7,5.4 -1.6-3 4.4,3.8A638,638 0 0 0 1043.8,1054ZM1048.2,1049.6l-6.5-7.3 7.3,5.9 -0.4-1.9 -0.9-2.3 3.2,2.9A638,638 0 0 0 1048.2,1049.6ZM1052.6,1045.1l-4.1-4.8 -3.5-5 9,8.5A638,638 0 0 0 1052.6,1045.1ZM1057.3,1040.6l-0.3-0.5 -0.8-2.3 -2.6-4.3 1.6,0.2 4.8,4.3A638,638 0 0 0 1057.3,1040.6ZM1062.5,1035.6l-2.2-2.6 2.7,2.2A638,638 0 0 0 1062.5,1035.6ZM1063.8,1034.4l-2.6-3.5 3.2,2.9A638,638 0 0 0 1063.8,1034.4ZM1066.6,1031.8l-3.5-5 4.4,4.1A638,638 0 0 0 1066.6,1031.8ZM1070.4,1028.3l-4-5.5 4.9,4.7A638,638 0 0 0 1070.4,1028.3ZM1072.3,1026.6l-1.5-2.1 -2-3.8 5.1,4.5A638,638 0 0 0 1072.3,1026.6ZM1074.2,1024.8l-4-5.7 4.8,5.1A638,638 0 0 0 1074.2,1024.8ZM1077.1,1022.3l-0.1-0.3 -12.4-15.6 6.9,6.3 3.3,2.2 5,5A638,638 0 0 0 1077.1,1022.3ZM1081.3,1018.6l-2.9-4.3 1.8,0.5 -5.1-7.6 6.4,5.8 -0.7-2.3 4.6,4.3A638,638 0 0 0 1081.3,1018.6ZM1085.9,1014.6l-6.9-9.4 6.2,5.8 -6.5-9.4 7.7,7.6 2.1,0.9 -2.1-4.2 1.5,0.2 3.8,3.7A638,638 0 0 0 1085.9,1014.6ZM1093.3,1008.4l-2.8-4 3.5,3.5A638,638 0 0 0 1093.3,1008.4ZM1095.1,1006.9l-0.9-1.4 1.2,1.2A638,638 0 0 0 1095.1,1006.9ZM1097,1005.4l-2.6-4.5 -5.9-9 10.7,11.7A638,638 0 0 0 1097,1005.4ZM1100.7,1002.4l-3.4-4.5 3.8,4.2A638,638 0 0 0 1100.7,1002.4ZM1103.5,1000.2l-2.6-4.5 3.6,3.7A638,638 0 0 0 1103.5,1000.2ZM1107.4,997.1l-0.6-2.3 1.5,1.6A638,638 0 0 0 1107.4,997.1ZM1112.1,993.5l-1.6-2.5 2.1,2.1A638,638 0 0 0 1112.1,993.5ZM1114.4,991.7l-6.5-9.2 1.5,0.2 6.4,8A638,638 0 0 0 1114.4,991.7ZM1118,989l-12-17.9 13.6,16.7A638,638 0 0 0 1118,989ZM1121.8,986.2l-6-9 -2.1-4.6 5.1,5.2 5.8,6.3A638,638 0 0 0 1121.8,986.2ZM1127,982.4l-5.6-8.3 6.3,7.8A638,638 0 0 0 1127,982.4ZM1136.3,975.8l-2.1-3.5 2.6,3.2A638,638 0 0 0 1136.3,975.8ZM1137.6,974.9l-10.9-17.1 5,5.4 7.7,10.5A638,638 0 0 0 1137.6,974.9ZM1140.4,973l-9-14 3.1,2.7 -5.8-10.4 10.3,13.3 4.7,6.1A638,638 0 0 0 1140.4,973ZM1144.7,970.1l-2.9-5.1 -2.7-6 7.2,10A638,638 0 0 0 1144.7,970.1ZM1147.2,968.4l-5.1-8.7 5.9,8.2A638,638 0 0 0 1147.2,968.4ZM1148.8,967.3l-10.7-17.4 5.7,6.7 6.8,8.5 -6.4-11.6 8.3,10.8 -0.8-3.2 -4.3-8.5 7.6,10.7A638,638 0 0 0 1148.8,967.3ZM1161.2,959.4l-5.5-9.5 6.3,9A638,638 0 0 0 1161.2,959.4ZM1165.1,956.9l-5.1-10.1 -1.3-4.2 8.6,13A638,638 0 0 0 1165.1,956.9ZM1170,954l-3.5-6.6 4.2,4.9 0.8,0.8A638,638 0 0 0 1170,954ZM1173.3,952l-11.7-21 -0.1-2.4 13.9,22.1A638,638 0 0 0 1173.3,952ZM1176.2,950.3l-3.5-6.9 4.5,6.3A638,638 0 0 0 1176.2,950.3ZM1177.8,949.4l-2.3-5.3 3.1,4.8A638,638 0 0 0 1177.8,949.4ZM1182.2,946.8l-2.3-5.5 -2-5.7 1.2,0.1 -2.6-6.8 -0.6-3.2 3.8,4.6 8.3,13.2A638,638 0 0 0 1182.2,946.8ZM1189.6,942.6l-6-11.8 6.9,11.3A638,638 0 0 0 1189.6,942.6ZM1192.1,941.2l-6.2-12.8 2.4,2.2 -6.5-14.1 13.5,23A638,638 0 0 0 1192.1,941.2ZM1196.2,939l-0.4-1.3 0.5-1.2 1.7,1.5A638,638 0 0 0 1196.2,939ZM1200.7,936.6l-2.3-5 3,4.6A638,638 0 0 0 1200.7,936.6ZM1202.3,935.7l-1.7-4.4 1.1-0.1 -1.2-4.5 4.6,7.6A638,638 0 0 0 1202.3,935.7ZM1206.6,933.4l-2.2-6 3.7,5.3A638,638 0 0 0 1206.6,933.4ZM1209.5,932l-10-21.1 3.1,3.8 9.2,16.1A638,638 0 0 0 1209.5,932ZM1212.6,930.4l-0.7-2.1 1.8,1.6A638,638 0 0 0 1212.6,930.4ZM1213.9,929.8l-0.8-3.8 -10.4-23.2 3.8,5.3 8,13.7 -1.4-5.2 5.9,10.6A638,638 0 0 0 1213.9,929.8ZM1219.7,926.9l-3.9-9.5 5.4,8.7A638,638 0 0 0 1219.7,926.9ZM1222.8,925.4l-2.2-5.4 -0.8-4 2.1,2 3.3,6.2A638,638 0 0 0 1222.8,925.4ZM1228.3,922.7l-2.5-6.3 3.5,5.9A638,638 0 0 0 1228.3,922.7ZM1230.8,921.6l-0.8-3.7 2.4,2.8 -0.1-2.6 1.9,1.5 0.1-2.3 1.4,2A638,638 0 0 0 1230.8,921.6ZM1236.6,918.9l-1-3.7 -22.2-51.7 25.3,53.5 0.4,0.8A638,638 0 0 0 1236.6,918.9ZM1242.6,916.2l-2.4-6 1.9,1.7 2.5,3.4A638,638 0 0 0 1242.6,916.2ZM1244.7,915.3l-5.1-14.3 -0.6-4.1 3,4.4 2.4,2.7 4.7,9.4A638,638 0 0 0 1244.7,915.3ZM1250,913l-1.1-3.6 2,3.2A638,638 0 0 0 1250,913ZM1252.7,911.9l-1.6-5.4 3.1,4.8A638,638 0 0 0 1252.7,911.9ZM1254.2,911.2l-2-7.4 -0.2-3.3 4.8,9.7A638,638 0 0 0 1254.2,911.2ZM1258.2,909.6l-1.7-6.5 2.9,6A638,638 0 0 0 1258.2,909.6ZM1261.6,908.2l-0.3-1.5 -8.7-24.4 2.2,2.4 9.7,22.3A638,638 0 0 0 1261.6,908.2ZM1265,906.8l-4.8-14.2 6.1,13.7A638,638 0 0 0 1265,906.8ZM1267.9,905.7l-7-20.1 6.4,13.5 1.6,1.5 -0.8-5.1 4.3,8.5A638,638 0 0 0 1267.9,905.7ZM1277.8,901.9l-3.9-12 3.3,6 -3.4-12.3 5.3,11.4 0.6-1.4 3,6.5A638,638 0 0 0 1277.8,901.9ZM1284.4,899.5l-2.5-9 3.5,8.7A638,638 0 0 0 1284.4,899.5ZM1286.8,898.7l-1.4-4.6 2.4,4.2A638,638 0 0 0 1286.8,898.7ZM1288.3,898.1l0-2.1 -6.8-22.7 6.1,14.3 4.2,9.3A638,638 0 0 0 1288.3,898.1ZM1292.1,896.8l-1.2-5.9 -1.2-6.9 4.5,12.1A638,638 0 0 0 1292.1,896.8ZM1295.5,895.7l-3.2-10.6 4.4,10.2A638,638 0 0 0 1295.5,895.7ZM1296.9,895.2l-3-11.8 3.4,6.8 -0.1-3.6 2.1,3.1 -0.7-5.6 3.2,6.5 1.1,2.6A638,638 0 0 0 1296.9,895.2ZM1304.3,892.8l-1.3-5.3 -4.2-16.6 7.5,21.2A638,638 0 0 0 1304.3,892.8ZM1308.9,891.3l-2.1-9 3.6,8.5A638,638 0 0 0 1308.9,891.3ZM1310.8,890.7l-1.4-7.2 2.3,3.9 1.3,2.6A638,638 0 0 0 1310.8,890.7ZM1313.9,889.7l-1-5.4 1.7,5.2A638,638 0 0 0 1313.9,889.7ZM1316.9,888.8l-4.1-15.8 2.9,6.2 1.5,1.3 2.3,4.1 1.4,3.1A638,638 0 0 0 1316.9,888.8ZM1324.9,886.5l-3.3-13.5 3,6.8 2.2,6.2A638,638 0 0 0 1324.9,886.5ZM1328.8,885.4l-1.8-9 -2.2-11.7 5.6,16.5 -1.6-10.1 3.1,7.7 1.8,5.3A638,638 0 0 0 1328.8,885.4ZM1337.7,883l-6.6-28.2 6.1,19.3 2.7,8.3A638,638 0 0 0 1337.7,883ZM1342.1,881.9l-2.7-11.8 3.3,8.7 1.6,2.5A638,638 0 0 0 1342.1,881.9ZM1344.4,881.3l-0.9-7.9 -0.8-7.8 4.3,15A638,638 0 0 0 1344.4,881.3ZM1349,880.1l-2.5-12 2.7,6.4 1.8,5.1A638,638 0 0 0 1349,880.1ZM1354.5,878.8l-2-12.8 3.5,12.5A638,638 0 0 0 1354.5,878.8ZM1361.2,877.3l0.2-0.4 0.1,0.3A638,638 0 0 0 1361.2,877.3ZM1363.9,876.7l-0.9-7.3 1.9,7.1A638,638 0 0 0 1363.9,876.7ZM1368,875.8l-1.3-9 -6.2-35.1 10,42.9 -3.5-21.8 1.4,1.1 4,14.4 2,4.7 0.3,1.4A638,638 0 0 0 1368,875.8ZM1377.3,873.9l-1.2-8.4 0.3-3.8 3.3,11.7A638,638 0 0 0 1377.3,873.9ZM1381.3,873.1l-2.6-16.3 3.8,16.1A638,638 0 0 0 1381.3,873.1ZM1384.5,872.5l-1.4-9.3 2.7,8.7 0-5.8 0.5-3.1 1.7,3.7 1.8,4.3 0.2,0.6A638,638 0 0 0 1384.5,872.5ZM1392.2,871.2l-1-10.3 2.4,7.5 -0.3-7.7 2.7,9.8A638,638 0 0 0 1392.2,871.2ZM1396,870.5l0.2-5.4 1.4,5.2A638,638 0 0 0 1396,870.5ZM1399.1,870l-0.6-10 2.1,9.8A638,638 0 0 0 1399.1,870ZM1403.2,869.4l-1.4-15.8 -0.2-8.5 3.6,16.6 1.5,7.2A638,638 0 0 0 1403.2,869.4ZM1411.1,868.2l0-1.9 0.6,1.8A638,638 0 0 0 1411.1,868.2ZM1413.8,867.9l0.1-4.3 1.2,4.1A638,638 0 0 0 1413.8,867.9ZM1415.6,867.6l-1.9-20.8 3.8,20.2 0,0.4A638,638 0 0 0 1415.6,867.6ZM1419.7,867.1l-0.3-9.7 1.7,9.5A638,638 0 0 0 1419.7,867.1ZM1422.1,866.8l-0.9-11.6 1.6,4.5 1.3,6.8A638,638 0 0 0 1422.1,866.8ZM1426.8,866.2l-0.2-10 1-0.5 1.8,10.2A638,638 0 0 0 1426.8,866.2ZM1430.2,865.8l-0.4-9.4 1.6,9.3A638,638 0 0 0 1430.2,865.8ZM1432.5,865.6l-0.1-4.8 0.7,4.7A638,638 0 0 0 1432.5,865.6ZM1434.9,865.3l0-0.7 0.3-7 1.4,3.2 0.2-8.9 2,10.3 -0.6-17.2 2,9.2 1.7,10.4A638,638 0 0 0 1434.9,865.3ZM1443.7,864.5l-0.9-16.6 2.4,16.5A638,638 0 0 0 1443.7,864.5ZM1445.4,864.3l0.2-8.5 0.4-7.9 2,16.2A638,638 0 0 0 1445.4,864.3ZM1455.3,863.6l-0.6-12.3 1.1,0.9 0.9-3.5 1.8,14.6A638,638 0 0 0 1455.3,863.6ZM1460.4,863.2l0-4.6 0.1-16.6 1.6,8.5 1.3,12.6A638,638 0 0 0 1460.4,863.2ZM1464.7,863l0-2.3 0.3,2.3A638,638 0 0 0 1464.7,863ZM1468.5,862.8l0.2-5.9 0.9-3.4 0.9-3.8 0.9-3.2 1.4,16.1A638,638 0 0 0 1468.5,862.8ZM1475.1,862.5l-0.2-6.2 0.6,6.2A638,638 0 0 0 1475.1,862.5ZM1477.1,862.4l0.1-2.1 0.2,2.1A638,638 0 0 0 1477.1,862.4ZM1479,862.3l0-9.8 1,9.8A638,638 0 0 0 1479,862.3ZM1482,862.3l0.2-8.8 0.9,8.7A638,638 0 0 0 1482,862.3ZM1483.7,862.2l0.5-13 0.9,13A638,638 0 0 0 1483.7,862.2ZM1486.3,862.1l0.2-2.9 0.8-9.7 1-7.3 1-3 1.2,10.7 1.2,11.8 1-5.3 0.7,5.6A638,638 0 0 0 1486.3,862.1ZM1493.9,862l0.7-23.5 0.9,23.5A638,638 0 0 0 1493.9,862Z" fill="#9ecae1"/>
<path d="M1501.9,862l0.7,5.7 0.3-5.7A638,638 0 0 0 1501.9,862ZM1505.3,862l0.3,6.9 1.1-3.8 0.9,7.9 1,3.7 0.6-14.6A638,638 0 0 0 1505.3,862ZM1514.3,862.2l0.5,8.3 1,2.2 0.9-10.5A638,638 0 0 0 1514.3,862.2ZM1518.6,862.3l0.1,14.9 1.1-3.9 1.3-9 0.2,24.9 1.7-26.8A638,638 0 0 0 1518.6,862.3ZM1525.9,862.5l0.2,6.6 1.3-6.3 0-0.2A638,638 0 0 0 1525.9,862.5ZM1529.9,862.7l0.1,9.6 0.9-9.6A638,638 0 0 0 1529.9,862.7ZM1536,863l0.4,4.6 -0.2,22 2.5-25.5 0.1-0.9A638,638 0 0 0 1536,863ZM1549.9,864l0.1,1 0.8,2.7 1.2-3.6A638,638 0 0 0 1549.9,864ZM1556.3,864.5l-0.4,15.5 2.1-15.4A638,638 0 0 0 1556.3,864.5ZM1558.9,864.7l-0.2,7 1.7-6.5 0-0.3A638,638 0 0 0 1558.9,864.7ZM1563.1,865.1l-0.1,4.5 0.8-4.4A638,638 0 0 0 1563.1,865.1ZM1566,865.4l0.4,2.2 0.3-2.1A638,638 0 0 0 1566,865.4ZM1570.7,865.9l-0.1,0.9 0.3-0.8A638,638 0 0 0 1570.7,865.9ZM1577.6,866.7l-0.1,3.2 1.2-3A638,638 0 0 0 1577.6,866.7ZM1581.4,867.2l0.2,2.9 1.3-2.7A638,638 0 0 0 1581.4,867.2ZM1587.1,868l0,0.2 -0.1,8.2 1.4-8.2A638,638 0 0 0 1587.1,868ZM1592,868.7l-0.3,3.9 0.9-3.8A638,638 0 0 0 1592,868.7ZM1597.2,869.5l-0.2,1.9 0.6-1.9A638,638 0 0 0 1597.2,869.5ZM1598.6,869.7l-1.6,15.2 3.1-15A638,638 0 0 0 1598.6,869.7ZM1600.8,870l-0.6,8 1.5-7.8A638,638 0 0 0 1600.8,870ZM1603.2,870.4l-0.9,7.3 1.4-7.2A638,638 0 0 0 1603.2,870.4ZM1605.4,870.8l-0.2,2 -1.2,13.1 3.4-14.8A638,638 0 0 0 1605.4,870.8ZM1609.1,871.4l-0.6,6.1 0,6.1 -1.4,13.9 4.5-19.9 1.5-5.5A638,638 0 0 0 1609.1,871.4ZM1613.9,872.3l-2.5,18.1 4.2-17.8A638,638 0 0 0 1613.9,872.3ZM1617.4,872.9l-1.9,12 2.9-11.8A638,638 0 0 0 1617.4,872.9ZM1620.7,873.5l-0.2,1.2 0.4-1.1A638,638 0 0 0 1620.7,873.5ZM1622.3,873.8l-1,7.5 2-7.3A638,638 0 0 0 1622.3,873.8ZM1626.5,874.7l-0.2,2.6 -2.4,16.9 4.5-19.2A638,638 0 0 0 1626.5,874.7ZM1634.6,876.4l-1.8,9.9 2.7-9.7A638,638 0 0 0 1634.6,876.4ZM1636.3,876.7l-3.6,19.6 5-19.3A638,638 0 0 0 1636.3,876.7ZM1638.7,877.3l-0.4,3.2 0.8-3.1A638,638 0 0 0 1638.7,877.3ZM1642,878l-0.1,0.4 0.1,4.3 -0.3,6 2.7-10.1A638,638 0 0 0 1642,878ZM1647.1,879.2l-1.6,10.8 3.2-10.4A638,638 0 0 0 1647.1,879.2ZM1651,880.1l0,0.4 0.2-0.3A638,638 0 0 0 1651,880.1ZM1658.1,881.9l-0.1,0.3 0.1-0.3A638,638 0 0 0 1658.1,881.9ZM1666.7,884.2l-2.5,10.6 3.9-10.2 0-0.1A638,638 0 0 0 1666.7,884.2ZM1669.5,884.9l-1.4,7.3 2.5-7A638,638 0 0 0 1669.5,884.9ZM1672.8,885.9l0,1.1 -3,14.5 1.1-0.5 5-14.3A638,638 0 0 0 1672.8,885.9ZM1678.3,887.4l-4.4,17.8 5.7-17.4A638,638 0 0 0 1678.3,887.4ZM1685.6,889.6l-1.7,7.1 2.8-5.8 0.4-0.8A638,638 0 0 0 1685.6,889.6ZM1688.5,890.5l-0.8,4.1 1.4-3.9A638,638 0 0 0 1688.5,890.5ZM1695.4,892.6l-3.9,13.6 5.1-12.3 0.3-0.8A638,638 0 0 0 1695.4,892.6ZM1704.7,895.7l0,0.1 0-0.1A638,638 0 0 0 1704.7,895.7ZM1708.4,897l-0.5,2 0,3.4 1.1-0.3 1.8-4.3A638,638 0 0 0 1708.4,897ZM1712.3,898.4l-0.6,2.4 0.9-2.3A638,638 0 0 0 1712.3,898.4ZM1715.3,899.4l-1.2,3.6 1.1,0 1.4-3.1A638,638 0 0 0 1715.3,899.4ZM1719.1,900.8l-0.9,3 1.6-2.7A638,638 0 0 0 1719.1,900.8ZM1723,902.3l-0.8,2.7 1.8-2.4A638,638 0 0 0 1723,902.3ZM1727.3,903.9l-3.5,11.3 0.5,1.6 5.1-12.1A638,638 0 0 0 1727.3,903.9ZM1739.2,908.5l-2.2,6.5 2.5-3.4 1.2-2.5A638,638 0 0 0 1739.2,908.5ZM1744.4,910.7l-2.9,9.5 1.8-1.6 3.6-6.9A638,638 0 0 0 1744.4,910.7ZM1747.6,912l-1.6,5.5 -1.6,6.3 5.3-10.9A638,638 0 0 0 1747.6,912ZM1752.2,914l-4.1,11.4 5.5-10.8A638,638 0 0 0 1752.2,914ZM1754.6,915l-0.4,1.6 -9.7,24.7 0.5,1.4 -2.6,8.3 -3.8,10.9 14.8-30.8 4.6-7.9 -14.8,35.4 10.1-20 -0.6,3.7 2.6-3.3 3.9-6 1.6-1.2 -2.9,8.8 -2.6,7.8 5.9-10.3 7.4-13.4 -12.4,28.8 0.8,0.7 3.6-5.4 -1.8,6.2 2.6-3.2 7.6-13.5 -0.3,2.8 -2,6.5 1,0.1 -2.6,7.7 7.6-13.3 -4,10.5 -3,8.3 2.9-3.6 3.9-5.8 9.1-15.9 -5.2,12.6 -2.2,6.7 13.2-24.1 -7.5,17.2 6.5-10.6 -1.3,4.8 2.2-2.1 -7.2,16.3 7.7-12.8 -1.3,4.8 -2.1,6.1 8.8-14.7 0.5,1.4 3-3.7 1.2-1.7A638,638 0 0 0 1754.6,915ZM1798.9,936.3l-11.1,22.4 10.8-18.2 -7,15.3 -1.5,5 9.2-15 0,2.2 -9.1,18.7 10.5-17 4.2-5.6 2.2-3.3A638,638 0 0 0 1798.9,936.3ZM1809.3,942l-1.2,2.6 -8.4,17.3 6.3-9.2 5.3-7.5 1.3-1.4A638,638 0 0 0 1809.3,942ZM1814.8,945l-0.6,1.4 1.4-0.4 -4.1,9.3 0.9,0.5 5.7-7.9 0.5-0.6A638,638 0 0 0 1814.8,945ZM1819.6,947.8l-7.9,15.3 2.7-2.7 2.6-2.4 6-8.2A638,638 0 0 0 1819.6,947.8ZM1823,949.8l-1.6,4.7 2.6-4.1A638,638 0 0 0 1823,949.8ZM1825.7,951.4l-5.6,11.3 2.4-2.1 -0.7,3.2 2.8-2.7 3.9-4.4 1.8-2.6A638,638 0 0 0 1825.7,951.4ZM1832.9,955.8l-7.5,13.8 7.7-10.6 -7.5,14.1 -1,3.5 0.2,1.6 -6,11.5 13-18.9 -4.3,8.8 1.3-0.3 5.3-6.4 8.1-11.4A638,638 0 0 0 1832.9,955.8ZM1842.5,961.7l-11.4,19.6 4.9-5.9 -2.3,5.5 5.1-6.1 -7.2,13.1 8-10.5 8.8-11.9A638,638 0 0 0 1842.5,961.7ZM1848.5,965.6l-7,12.6 8.6-11.6A638,638 0 0 0 1848.5,965.6ZM1850.4,966.8l-6.7,11.7 2.2-1.5 -5,9.4 10.2-13.6 2.4-1.7 -0.9,3.2 3.3-3.8A638,638 0 0 0 1850.4,966.8ZM1856.4,970.8l-5.5,9.6 6.6-8.8A638,638 0 0 0 1856.4,970.8ZM1858.7,972.4l-1,1.7 -6.8,11.8 2.5-1.9 2.7-2.1 -6,10.5 0.2,1.4 13.4-18A638,638 0 0 0 1858.7,972.4ZM1867.6,978.5l-7,11.1 8.3-10.1A638,638 0 0 0 1867.6,978.5ZM1869.1,979.6l-6.9,11.2 8.3-10.2A638,638 0 0 0 1869.1,979.6ZM1872.7,982.2l-7.1,10.9 -7.7,12.4 12.8-16 4.9-5.3A638,638 0 0 0 1872.7,982.2ZM1876,984.5l-1.9,3.9 -2.9,5.6 0.2,1.4 0.3,1.3 7.3-8.1 -11.1,16.6 5.9-6.1 -25.7,36 27.5-35 -11.1,16.4 -7.6,11.6 -10.4,15.3 29-36.5 -5.9,9.3 18.3-22.8A638,638 0 0 0 1876,984.5ZM1889.1,994.4l-3.1,5.4 -7.4,11.3 1.4-0.3 11.3-12.9 0.5,1.1 -15,20.9 4-3.5 2.8-2 -10.9,15.4 12.3-13.9 -0.4,2.1 -3.3,5.7 -2,4.1 14.2-16.1 -0.8,2.7 -0.1,1.7 -4.4,6.9 12.8-14.1 -1.8,3.9 5.7-5.9A638,638 0 0 0 1889.1,994.4ZM1906.1,1008l-6.2,8.7 3-2 -4.4,6.9 5.3-4.8 -6.1,9 11.2-11.9 -17.1,21.9 15-16.2 0.9,0.5 6.1-5.7A638,638 0 0 0 1906.1,1008ZM1913.9,1014.5l-10,13.2 6.7-6.3 5.4-4.6 -3.5,5.5 1.7-0.3 -0.3,1.9 -2.2,4.1 -0.3,1.9 -6.6,8.9 11.9-11.9 1.4-0.1 4.7-4.6A638,638 0 0 0 1913.9,1014.5ZM1923.6,1022.9l-7.4,9.2 8.2-8.4A638,638 0 0 0 1923.6,1022.9ZM1925.7,1024.8l-18,21.3 11.9-11.7 7.9-8A638,638 0 0 0 1925.7,1024.8ZM1928.4,1027.2l-1.9,2.6 2.5-2A638,638 0 0 0 1928.4,1027.2ZM1930.5,1029.1l-7,8.6 7.1-6.3 -2.1,3.8 4.2-4A638,638 0 0 0 1930.5,1029.1ZM1933.4,1031.8l-19.2,21.8 11.1-10.5 -2.8,4.6 7.3-6.4 6.4-5.3 0.7,0.7 -7.6,9.6 9.7-9.2A638,638 0 0 0 1933.4,1031.8ZM1939.5,1037.5l-7.2,8.5 8.2-7.5A638,638 0 0 0 1939.5,1037.5ZM1941.3,1039.2l-0.9,1.4 -10.2,12.1 9.9-8.9 3.5-2.1 -0.5,2 -9.6,11.4 7.9-6.8 4.7-4.4A638,638 0 0 0 1941.3,1039.2ZM1948,1045.7l-5.8,6.2 2.1-0.6 -1.6,3 -7,8.5 -1.1,2.5 11-9.5 6.6-5.9A638,638 0 0 0 1948,1045.7ZM1955.3,1053.1l-3.8,4 0.4,1.1 -10.1,11.2 8.4-6.7 7.9-6.2 0.3-0.3A638,638 0 0 0 1955.3,1053.1ZM1959.4,1057.3l-8.9,9.3 1.1,0.3 4.5-2.8 1.1,0.3 -10.1,11 15.8-13.6 -3.9,5.1 -0.3,1.7 -2,3.3 4.3-2.6 -2.3,3.5 3.8-2.1 5.4-4.4A638,638 0 0 0 1959.4,1057.3ZM1968.9,1067.3l-1.4,1.6 2-0.9A638,638 0 0 0 1968.9,1067.3ZM1969.9,1068.4l-1.5,2.4 -12,12.3 -5.3,6.3 19.1-16 -6.3,7 3.6-1.8 -2.8,3.9 -5,5.8 16.1-13.4A638,638 0 0 0 1969.9,1068.4ZM1977.7,1077.1l-10.4,9.8 2.4-0.8 7.6-5.3 -8.5,8.8 4.4-2.5 6-3.8 2.3-1.8A638,638 0 0 0 1977.7,1077.1ZM1982.4,1082.5l-14,12.8 9.5-6.9 -8.1,8.3 -10.6,10.5 23.1-18.4 -16.7,15.5 10.4-7.5 11.4-8.4A638,638 0 0 0 1982.4,1082.5ZM1987.6,1088.6l-1.7,2.5 -4,4.7 7.3-5.3A638,638 0 0 0 1987.6,1088.6ZM1989.7,1091l-6.8,6.6 -3.4,4.2 11.7-8.9A638,638 0 0 0 1989.7,1091ZM1991.9,1093.7l-1.9,2 -8.5,8.3 -4.8,5.2 5.3-3 12.6-9.2A638,638 0 0 0 1991.9,1093.7ZM1994.9,1097.3l-8,7.5 4.2-2.1 5.2-3.6A638,638 0 0 0 1994.9,1097.3ZM1997.6,1100.7l-14.3,12.2 15.2-11.1A638,638 0 0 0 1997.6,1100.7ZM1998.7,1102.1l-25.7,21.6 22.1-16.3 -12.3,11.1 3.6-1.7 2.6-0.7 -0.2,1.4 6.3-3.6 -1.8,2.7 10.8-7.7A638,638 0 0 0 1998.7,1102.1ZM2004.8,1109.8l-4.8,4.2 -9,8.2 9.5-6 -5.2,5.2 5.8-3.1 -2.4,3.1 4.8-2.4 4.5-2.1 1.6-0.8A638,638 0 0 0 2004.8,1109.8ZM2011.7,1118.9l-2.5,2.3 -5,5 -5.2,5.1 14.5-9.9A638,638 0 0 0 2011.7,1118.9ZM2014.1,1122.2l-4.3,3.7 -9.1,7.9 13.4-8.5 1.6-0.9A638,638 0 0 0 2014.1,1122.2ZM2017.6,1127l-10.6,8.4 11.5-7.1A638,638 0 0 0 2017.6,1127ZM2018.8,1128.7l-2.1,2.3 -3.5,3.8 6.9-4.3A638,638 0 0 0 2018.8,1128.7ZM2021,1131.7l-0.4,0.3 0.3,1 0.7-0.3A638,638 0 0 0 2021,1131.7ZM2022.7,1134.2l-1.1,0.9 1.3-0.7A638,638 0 0 0 2022.7,1134.2ZM2024.3,1136.4l-3.5,3 -0.6,1.7 4.3-1.7 1.6-0.4A638,638 0 0 0 2024.3,1136.4ZM2027.2,1140.7l-9.1,6.8 9.9-5.6A638,638 0 0 0 2027.2,1140.7ZM2028.1,1141.9l-21.6,15.9 22.6-14.4A638,638 0 0 0 2028.1,1141.9ZM2030.2,1145.1l-4.1,3.1 -1,1.9 3.3-1 -6.2,5.4 8.7-4.6 1.9-0.9A638,638 0 0 0 2030.2,1145.1ZM2033.4,1150l-10.6,7.8 7.5-3.7 -7,5.8 11.9-7.1A638,638 0 0 0 2033.4,1150ZM2035.7,1153.4l-15.7,11 5.6-2.4 8.4-4.2 0.6,0.8 -6.6,5.4 8.8-4.4 -5.9,5 9-4.5 -16.6,11.7 4.3-1.5 13.9-7.7A638,638 0 0 0 2035.7,1153.4ZM2042.9,1164.9l-12.4,8.3 12.9-7.5A638,638 0 0 0 2042.9,1164.9ZM2044.3,1167.1l-1,0.7 1-0.6A638,638 0 0 0 2044.3,1167.1ZM2045.4,1169l-16.7,11.2 12.5-6.4 -4.5,3.9 5.4-2 -8.2,6.1 6.2-2.6 1.2,0.6 -9.7,6.8 11.4-5.5 -8.5,6.1 -1,1.8 -5,4.1 16-8.2 -3.7,3.4 -14.7,9.6 4.7-1.6 13.8-6.7 1,0.6 1.3,0.4 -6.5,4.9 6.2-2.4 1.5,0.4 8.7-3.7 -6.8,4.9 8.1-3.9A638,638 0 0 0 2045.4,1169ZM2058.6,1191.7l-7.1,4.5 5.7-2 2.2-0.9A638,638 0 0 0 2058.6,1191.7ZM2060,1194.3l-16.8,10 4.7-1.5 13.3-6.3A638,638 0 0 0 2060,1194.3ZM2061.5,1197.1l-6.9,4.4 -3.7,3.1 11.7-5.6A638,638 0 0 0 2061.5,1197.1ZM2063.8,1201.3l-9.6,6.2 10.5-4.4A638,638 0 0 0 2063.8,1201.3ZM2064.7,1203.1l-10.1,6.5 10.8-5.1A638,638 0 0 0 2064.7,1203.1ZM2065.8,1205.2l-25.2,13.9 -6.3,4.4 8.3-3.2 13.1-5.6 12.2-5.4A638,638 0 0 0 2065.8,1205.2ZM2068.3,1210l-5,3.1 5.5-2.2A638,638 0 0 0 2068.3,1210ZM2069.4,1212.3l0,0 -0.7,1.5 0.7,0.8 -3.1,2.7 -5.7,4 5-1.3 -11.1,6.6 -8.4,5.2 -7.3,4.7 17.7-7.5 2.6-0.2 15.4-6.4A638,638 0 0 0 2069.4,1212.3ZM2074.5,1222.6l-14.7,8.1 -6.1,4 22.1-9.4A638,638 0 0 0 2074.5,1222.6ZM2075.9,1225.4l-5.9,3.8 4.2-0.9 -6.9,4.4 -10.4,6 -35.1,17.5 13.2-5.1 19.9-8.1 7.7-2.5 11.6-4.2 -5.6,3.7 -5.7,3.7 16.6-6.4 -7,4.2 -15.4,8.1 20.7-8.2 2.8-0.1 -4.4,3.1 0.7,0.8 -9.6,5.3 13-4.6 2.2,0.2 2.6-0.5A638,638 0 0 0 2075.9,1225.4ZM2085.4,1246.2l-5.2,3.1 -17.3,8.6 0.8,0.7 11.8-4 11.6-4.3A638,638 0 0 0 2085.4,1246.2ZM2087.6,1251.4l-5.8,2.8 6.2-1.7A638,638 0 0 0 2087.6,1251.4ZM2088.2,1252.9l-4.8,2.9 4.1-0.7 -0.4,1.3 -12.4,6.3 9.4-2.8 6.1-2.1A638,638 0 0 0 2088.2,1252.9ZM2090.6,1258.7l-15.2,6.9 6.3-1.4 6.5-1.5 -0.1,1.1 3.7-0.4 -13.9,6.7 15.1-5.5A638,638 0 0 0 2090.6,1258.7ZM2093.6,1266.1l-0.2,0 -13.7,6.5 -10.3,5.1 -16.7,7.6 23.5-8.1 3.3-0.2 9.3-2.5 7.3-1.9A638,638 0 0 0 2093.6,1266.1ZM2096.8,1274.5l-2,1.1 -6.9,3.6 1.2,0.7 8.7-2.8A638,638 0 0 0 2096.8,1274.5ZM2098.3,1278.5l-1.3,0.6 -25.6,10.5 27.7-9.1A638,638 0 0 0 2098.3,1278.5ZM2099.5,1281.8l-14.5,6.1 -7.3,3.7 7.4-1.6 14.6-4.2 -10.4,4.8 -14.1,6.1 26.7-8.4A638,638 0 0 0 2099.5,1281.8ZM2102.4,1289.9l-9.7,3.8 5.3-0.7 -3.3,2.2 0.4,0.9 -5.9,3.1 7-1.3 8.3-2A638,638 0 0 0 2102.4,1289.9ZM2104.8,1297l-0.5,0.3 -27.8,10.4 3.4-0.1 3.2,0 0.2,1 -6.6,3.2 10.9-2.5 10.2-2.3 -21.2,7.9 14.6-3.6 16.9-4.3A638,638 0 0 0 2104.8,1297ZM2108.5,1308.1l-13.4,5.1 12.7-2.9 1.4,0.1A638,638 0 0 0 2108.5,1308.1ZM2109.4,1311l-8.5,3.6 -6.7,3.1 16-3.9A638,638 0 0 0 2109.4,1311ZM2110.3,1314l-16.4,5.9 5.9-0.7 11.2-2.7A638,638 0 0 0 2110.3,1314ZM2111.3,1317.4l-6.6,2.5 -18.5,6.5 14.1-3.1 -8.2,3.5 4.9-0.4 2.5,0.3 11.4-2.2 2.4-0.4A638,638 0 0 0 2111.3,1317.4ZM2113.6,1325.1l-15.4,5.1 -5,2.5 7.6-1.1 13.7-3.3A638,638 0 0 0 2113.6,1325.1ZM2114.9,1329.9l-29.8,9.1 18.7-4 -1.4,1.4 6.1-0.6 2.2,0.5 1.5,0.6 4.5-0.3A638,638 0 0 0 2114.9,1329.9ZM2117.2,1338.4l-10.7,3.2 -9,3.4 17.1-3.4 -8.8,3.3 12.4-2.1 -19,5.9 -3.1,1.8 8.7-1.2 -7.8,3 5.5-0.3 17.2-3.2 -18.5,5.6 1.1,0.7 17.6-3.1 -9.5,3.3 3.1,0.3 7.2-0.6 0.6,0.1A638,638 0 0 0 2117.2,1338.4ZM2121.6,1356.1l-6.2,2.2 -6.5,2.5 -15.3,4.6 18.7-3.3 10.1-1.2 0.3,0.3A638,638 0 0 0 2121.6,1356.1ZM2122.9,1361.9l-25.7,6.7 15.5-2.4 6.4-0.3 -3.6,1.8 -19.1,5.1 3.7,0.2 -5.1,2.1 26.7-4.5 3-0.4A638,638 0 0 0 2122.9,1361.9ZM2124.9,1371.5l-11.1,2.8 -15.7,4.2 6.3-0.2 19.4-2.9 -4.8,2 7-0.7A638,638 0 0 0 2124.9,1371.5ZM2126.1,1377.2l-22,5.2 15.2-1.9 -10.8,3.1 4.5,0.1 7.7-0.4 -7.5,2.5 14.2-1.8A638,638 0 0 0 2126.1,1377.2ZM2127.4,1384.3l-17.5,4.1 -4.2,1.8 -18.6,4.4 16.5-2 -15.4,3.7 20.4-2.5 -9.4,2.6 11.1-0.9 -4.9,1.9 -5.2,1.8 -5.5,1.9 5.8,0.1 25.6-3.2 -14.6,3.4 3.2,0.5 13.3-1.1 2.3,0.5A638,638 0 0 0 2127.4,1384.3ZM2130.4,1401.5l-17.8,3.8 -17.3,3.7 -10.6,2.6 32.8-4 -16.8,3.5 16.7-1.4 7.8-0.1 -5.2,1.8 11.7-0.9A638,638 0 0 0 2130.4,1401.5ZM2131.8,1411.2l-4,1.1 -23,4.2 -0.8,1.1 -1.6,1.2 -17.4,3.3 28.5-2.7 -2.6,1.3 6.5,0.2 -13.5,2.7 -1.8,1.2 -5.3,1.7 12.1-0.5 -11.7,2.4 15.7-0.9 12.9-0.5 -6.4,1.8 -13.7,2.6 4.4,0.5 -5.1,1.5 3.1,0.7 16.3-0.8 -14.1,2.5 -14,2.5 -3.1,1.3 25.2-1.6 -7.7,1.8 2.7,0.7 -14.2,2.4 2.6,0.7 -12.4,2.2 28-1.6 -14,2.2 22.5-0.9 -15.9,2.3 10.5,0.2 -10.3,1.8 -8.2,1.7 13.6-0.1 -3,1.2 -8.5,1.7 13.4,0 2.2,0.8 -16.1,2.1 26.4-0.8 -11.3,1.8 -26.5,2.7 28.2-0.8 -5.9,1.4 -12.1,1.7 -1.4,1.1 17.3,0 6.4,0.6 -24.4,2.4 7.6,0.5 -8.5,1.4 25.2-0.2 -24,2.1 -2.7,1.1 13.5,0.4 14.9,0.4 -8.6,1.3 3.8,0.9 -8.5,1.3 -3.4,1.1 8.3,0.7 -5.8,1.2 4.3,0.9 -13.8,1.4 12.5,0.6 3.2,0.9 1.2,1 -4.8,1.1 -18,1.4 11.5,0.8 -3.8,1 6.8,0.9 3.4,0.9 -3.3,1.1 14.7,0.8 3.4,0.9 -15.2,1.2 -0.2,1 -26.8,1.1 25.9,0.9 -5.4,1 21.3,1 9,0.5A638,638 0 0 0 2131.8,1411.2ZM2138,1500.6l-27.4,0.8 -0.1,1 -7.5,0.9 -1.3,1 22.5,1.1 -10.1,0.9 -5.7,1 5.3,1 12.1,1.2 1.3,1 -33.8,0.4 20.1,1.4 -5,0.9 13.8,1.3 -8.9,0.8 4.6,1.1 -9.4,0.7 15.6,1.5 -23.9,0.3 20.9,1.6 -14.5,0.5 0.5,1 18.6,1.7 -20.1,0.2 3.7,1.2 2.5,1.1 4.6,1.2 17.5,1.8 3.4,0.3A638,638 0 0 0 2138,1500.6ZM2137.2,1531.2l-3.6,0 3.6,0.5A638,638 0 0 0 2137.2,1531.2ZM2137.2,1532.7l-23-0.4 7.9,1.4 -10.8,0.4 -18.8-0.1 20.2,2.2 -0.2,1 23.3,2.4 1,0.1A638,638 0 0 0 2137.2,1532.7ZM2136.6,1541.5l-3.7,0 3.7,0.8A638,638 0 0 0 2136.6,1541.5ZM2136.5,1543l-9.7,0.1 -0.4,1 10,1.5A638,638 0 0 0 2136.5,1543ZM2136.3,1545.9l-27.5-1 27.4,2.7A638,638 0 0 0 2136.3,1545.9ZM2136.1,1548.6l-6-0.1 -26-1 18.2,2.4 -5.3,0.6 -1.9,0.8 -2.4,0.8 5,1.5 -3.5,0.7 2,1.2 -2.6,0.7 -17.3-0.6 25.9,3.4 5.7,1.6 -10.8,0 -8.3,0.2 -5.2,0.4 25.7,3.7 -12.3-0.3 16.6,2.8 -2.5,0.8 -4.4,0.5 -9.7,0 -5.6,0.3 -11.7-0.3 22.3,3.6 -5.1,0.4 10.5,2.3 6,1.7A638,638 0 0 0 2136.1,1548.6ZM2133.4,1576.7l-17.7-1.1 17.5,2.6A638,638 0 0 0 2133.4,1576.7ZM2132.8,1581.2l-13.3-1.1 13.1,2.6A638,638 0 0 0 2132.8,1581.2ZM2132.4,1584.2l-4,0.2 3.8,1.3A638,638 0 0 0 2132.4,1584.2ZM2131.8,1588.7l-9.5-1 9.4,1.8A638,638 0 0 0 2131.8,1588.7ZM2129.8,1602.2l-2.3-0.2 -1.2,0.8 3.2,1A638,638 0 0 0 2129.8,1602.2ZM2127.7,1614l-12.4-1.7 -1.2,0.8 13.2,3.3A638,638 0 0 0 2127.7,1614ZM2127.2,1617.1l-3.1-0.1 2.8,1.5A638,638 0 0 0 2127.2,1617.1ZM2126,1623.1l-5.4-0.5 5.2,1.4A638,638 0 0 0 2126,1623.1ZM2125.4,1626.4l-10.6-1.8 -16.6-2.4 17.2,4.6 6.4,2.4 -4.1,0.2 4.7,2 1.8,0.5A638,638 0 0 0 2125.4,1626.4ZM2123.6,1634.7l-1.4-0.2 -20.6-3.4 21.6,5.6A638,638 0 0 0 2123.6,1634.7ZM2123,1637.6l-1.2,0 1.1,0.3A638,638 0 0 0 2123,1637.6ZM2122.2,1641l-18.9-3.4 18.5,5.3A638,638 0 0 0 2122.2,1641ZM2121.4,1644.4l-9.2-1.6 9,2.5A638,638 0 0 0 2121.4,1644.4ZM2120.8,1647l-16.3-2.9 -10.6-1.5 26.3,7A638,638 0 0 0 2120.8,1647ZM2120,1650.6l-7.8-1.5 7.6,2.3A638,638 0 0 0 2120,1650.6ZM2119.5,1652.4l-14.5-3 14.3,4A638,638 0 0 0 2119.5,1652.4ZM2118.8,1655.5l-26.3-6.1 10.6,3.7 15.1,4.6A638,638 0 0 0 2118.8,1655.5ZM2117.9,1658.8l-1.5-0.2 1.2,1.3A638,638 0 0 0 2117.9,1658.8ZM2117.6,1660l-15-2.9 12.6,4.4 -9.5-1.5 11,3.5A638,638 0 0 0 2117.6,1660ZM2116.4,1664.4l-12.3-2.7 1.9,1.6 9.9,3.1A638,638 0 0 0 2116.4,1664.4ZM2115.4,1668.2l-7.6-1.3 6,2.8 0.2,1.1 -6.9-0.9 -0.4,1 -13.6-2.8 -8.2-1.3 4.3,2.2 23.9,7.5A638,638 0 0 0 2115.4,1668.2ZM2108.9,1690.4l-4.1-0.8 3.9,1.4A638,638 0 0 0 2108.9,1690.4ZM2107.9,1693.6l-2.4-0.6 2.3,1.1A638,638 0 0 0 2107.9,1693.6ZM2106.5,1698l-23.6-7 15.9,6.3 -8-1.6 -3.9-0.2 18.2,6.8A638,638 0 0 0 2106.5,1698ZM2104.4,1704.4l-6-1.8 4.7,2.6 0.9,0.4A638,638 0 0 0 2104.4,1704.4ZM2103.5,1706.9l-18.3-5.6 17.8,7.1A638,638 0 0 0 2103.5,1706.9ZM2102.5,1709.8l-22-7 21.5,8.6A638,638 0 0 0 2102.5,1709.8ZM2101.9,1711.6l-3.6-0.4 -18.3-5.4 12.4,5.5 -7.1-1.5 12.7,5.7 2.2,1A638,638 0 0 0 2101.9,1711.6ZM2098.9,1720l-3-0.9 -3.9-0.4 -5.2-0.8 11,5A638,638 0 0 0 2098.9,1720ZM2096.4,1726.7l-9.4-3.3 9,4.2A638,638 0 0 0 2096.4,1726.7ZM2095.2,1729.6l-6.1-2.1 5.9,2.7A638,638 0 0 0 2095.2,1729.6ZM2094.6,1731.3l-9.7-3.2 9.2,4.5A638,638 0 0 0 2094.6,1731.3ZM2092.6,1736.3l-2.6-0.7 -17.6-6 0,1.1 19.1,8.4A638,638 0 0 0 2092.6,1736.3ZM2090.5,1741.5l-11.1-3.6 10.6,4.9A638,638 0 0 0 2090.5,1741.5ZM2087.7,1748.3l-10.9-3.8 10.3,5.3A638,638 0 0 0 2087.7,1748.3ZM2086.9,1750.1l-11-3.8 -4.7-0.9 14.7,7A638,638 0 0 0 2086.9,1750.1ZM2085.6,1753.3l-9.3-3.5 -10.1-3.2 5.5,3.5 6.2,3.8 -8.5-2.7 14,7A638,638 0 0 0 2085.6,1753.3ZM2081.8,1761.9l-6.6-2.5 6.2,3.3A638,638 0 0 0 2081.8,1761.9ZM2080.9,1763.9l-3.4-1.2 -6.5-1.8 -7.7-2.5 9.3,5.4 -6.8-2 12.9,6.8A638,638 0 0 0 2080.9,1763.9ZM2078,1770.1l-12.6-5.2 -5.1-1.2 16.5,8.9A638,638 0 0 0 2078,1770.1ZM2076.8,1772.7l-7.7-2.6 6.9,4.3A638,638 0 0 0 2076.8,1772.7ZM2074.5,1777.6l-1.6,0 -1.8,0.3 -3.3-0.5 0.2,1.2 -3.9-0.7 5,3.6 2.7,1.5A638,638 0 0 0 2074.5,1777.6ZM2070.7,1785.1l-10.5-4.7 4.1,3.3 2.9,2.6 -19.1-8.6 3.6,3 16.5,9.4A638,638 0 0 0 2070.7,1785.1ZM2067.8,1791l-1-0.3 0.9,0.5A638,638 0 0 0 2067.8,1791ZM2066.8,1792.8l-4.1-1.9 3.9,2.4A638,638 0 0 0 2066.8,1792.8ZM2065.8,1794.7l-1-0.4 -13-5.6 10.3,6.5 2.6,1.7A638,638 0 0 0 2065.8,1794.7ZM2063.6,1799l-1.9-0.5 1.6,1.1A638,638 0 0 0 2063.6,1799ZM2062.8,1800.6l-11.5-5.3 3.3,2.9 -2.2,0 8.7,5.5A638,638 0 0 0 2062.8,1800.6ZM2060.8,1804.2l-13.5-6.5 11.5,7.5 -11.4-5.1 -24.9-12.6 15.6,9.8 -12.7-5.9 3.7,3.1 2,2.3 4,3.4 -26.3-13.7 -0.7,0.7 20.1,12.4 -1.6,0.2 -7.9-3.3 15.4,9.9 11.8,8 -0.2,1 -11.6-5.5 15.9,10.4 0,1.2 -0.5,0.9 0.7,0.6A638,638 0 0 0 2060.8,1804.2ZM2047.4,1827.7l-11.9-6.5 -1.8,0.2 12.6,8.2A638,638 0 0 0 2047.4,1827.7ZM2044.8,1832l-13.6-7.4 12.9,8.6A638,638 0 0 0 2044.8,1832ZM2042,1836.5l-4.2-1.9 3.8,2.6A638,638 0 0 0 2042,1836.5ZM2039.9,1840l-14.2-8.2 12,8.8 1.2,0.9A638,638 0 0 0 2039.9,1840ZM2035.4,1847l-7.2-4 6.6,4.9A638,638 0 0 0 2035.4,1847ZM2034.2,1848.8l-8.4-4.9 -2.2-0.2 9.5,6.8A638,638 0 0 0 2034.2,1848.8ZM2032.4,1851.6l-5.9-3.6 -1.4,0.3 6.1,5A638,638 0 0 0 2032.4,1851.6ZM2031,1853.7l-13.9-8.2 2.6,2.9 9.7,7.6A638,638 0 0 0 2031,1853.7ZM2029.3,1856.2l-10.9-6.2 -5.9-2.8 2,2.6 12.7,9.5A638,638 0 0 0 2029.3,1856.2ZM2026.5,1860.3l-1.1-0.6 -24.8-15.8 24.7,18.1A638,638 0 0 0 2026.5,1860.3ZM2024.6,1863.1l-3.7-1.5 1.6,2.4 -9.4-5.3 9.4,7.4A638,638 0 0 0 2024.6,1863.1ZM2021.5,1867.5l-13.5-8.7 -3.2-1.1 11,9.1 3.7,3.6A638,638 0 0 0 2021.5,1867.5ZM2019.2,1870.7l-8.2-4.8 3.5,3.8 3.4,2.9A638,638 0 0 0 2019.2,1870.7ZM2016.7,1874.3l-13.2-8.8 -2.5-0.6 -14.2-9.1 -0.9,0.5 -9-5.4 9.7,8.4 -14.8-9.8 3.5,3.8 1.5,2.3 15.1,12.5 17.5,14.4 -7-4 -0.9,0.6 7.2,6A638,638 0 0 0 2016.7,1874.3ZM2005,1889.8l-4.5-2.4 1.7,2.6 -1.3,0.3 -0.5,0.9 1.9,2.1A638,638 0 0 0 2005,1889.8ZM2001.1,1894.9l-4.3-2.6 3.4,3.7A638,638 0 0 0 2001.1,1894.9ZM1998,1898.8l-20.4-15.3 19.4,16.6A638,638 0 0 0 1998,1898.8ZM1995.9,1901.4l-1.8-0.7 -9.8-6.7 -13-9.3 22.4,19.5A638,638 0 0 0 1995.9,1901.4ZM1991.8,1906.4l-3.2-2.2 2.2,3.1 -4.5-2.4 -2.5-0.7 5.7,5A638,638 0 0 0 1991.8,1906.4ZM1986.8,1912.4l-10-7.5 2.6,3.6 5.8,5.7A638,638 0 0 0 1986.8,1912.4ZM1984.6,1915l-4.5-3.2 3.8,4A638,638 0 0 0 1984.6,1915ZM1980.6,1919.6l-2.7-1.6 -9.5-7 10.6,10.5A638,638 0 0 0 1980.6,1919.6ZM1975.7,1925.1l-2-1.2 -16.3-13.2 4.2,5.1 -3.1-1.4 14.2,14.1A638,638 0 0 0 1975.7,1925.1ZM1968.8,1932.8l-1.7-0.9 -8.6-6.6 8,8.8 0.5,0.6A638,638 0 0 0 1968.8,1932.8ZM1965.7,1936l-0.7-0.5 0.6,0.7A638,638 0 0 0 1965.7,1936ZM1964.4,1937.5l-3.9-3.4 2.9,4.2 -7-5.2 1,2.3 -4.2-2.6 -4.2-2.6 3.2,4.5 3.2,4.5 -0.9,0.5 0.7,2.1 2.1,3.1A638,638 0 0 0 1964.4,1937.5ZM1957,1945.1l-22.5-20.6 21.3,21.9A638,638 0 0 0 1957,1945.1ZM1954.9,1947.3l-0.1-0.1 -19-17.3 7,8.3 -0.1,1.4 9.6,10.4A638,638 0 0 0 1954.9,1947.3ZM1950.5,1951.8l-8.8-7.5 -0.2,1.2 -9.3-8 6.8,8.4 8.2,9.2A638,638 0 0 0 1950.5,1951.8ZM1945.5,1956.7l-2.3-2.1 1.9,2.5A638,638 0 0 0 1945.5,1956.7ZM1943.4,1958.8l-0.7-0.3 -11.8-10.8 8.9,10.7 -9.4-8.3 3.8,5.5 5.7,6.5A638,638 0 0 0 1943.4,1958.8ZM1936.5,1965.3l-2.1-2 1.3,2.7A638,638 0 0 0 1936.5,1965.3ZM1922.2,1978.3l-3.2-3 1.5,3.3 -5.1-4.3 4.3,6.2A638,638 0 0 0 1922.2,1978.3ZM1919.4,1980.7l-10.8-11.1 1.4,3.2 7.7,9.5A638,638 0 0 0 1919.4,1980.7ZM1913.4,1985.9l-3-3.2 2.7,3.5A638,638 0 0 0 1913.4,1985.9ZM1912.1,1987.1l-7.4-8 1.1,2.9 4.8,6.3A638,638 0 0 0 1912.1,1987.1ZM1909.5,1989.3l-2-2.1 -2.5-1.4 3.3,4.4A638,638 0 0 0 1909.5,1989.3ZM1906.6,1991.7l-7.6-8.3 6.7,9A638,638 0 0 0 1906.6,1991.7ZM1903.2,1994.5l-5.1-5.8 4.3,6.4A638,638 0 0 0 1903.2,1994.5ZM1901.7,1995.7l-2.2-2 1.6,2.4A638,638 0 0 0 1901.7,1995.7ZM1900.1,1996.9l-4.8-5.1 0.2,1.8 2.7,4.9A638,638 0 0 0 1900.1,1996.9ZM1896.6,1999.7l-0.7-0.6 0.6,0.8A638,638 0 0 0 1896.6,1999.7ZM1894.9,2001.1l-0.8-1 0.3,1.4A638,638 0 0 0 1894.9,2001.1ZM1892.9,2002.7l-5.4-6 -7.7-8.2 -15.5-18.4 10.6,15.3 -16.1-19.2 13.6,19.3 -1.5-0.4 -1,0.3 11.1,16.3 1.1,3 -1.9-0.7 3.3,5.9A638,638 0 0 0 1892.9,2002.7ZM1883.4,2010l-6-6.4 0.7,2.6 3.3,5.3A638,638 0 0 0 1883.4,2010ZM1879.5,2012.9l-3.4-4.2 2.7,4.7A638,638 0 0 0 1879.5,2012.9ZM1877.1,2014.6l-2.9-3.2 2.2,3.7A638,638 0 0 0 1877.1,2014.6ZM1871.5,2018.7l-12.3-16 11.2,16.8A638,638 0 0 0 1871.5,2018.7ZM1869.2,2020.3l-6.9-7.9 3.8,7.2 1.1,2.2A638,638 0 0 0 1869.2,2020.3ZM1866.6,2022.1l-25.4-34.7 24,35.8A638,638 0 0 0 1866.6,2022.1ZM1864.6,2023.6l-6.8-8.8 -4.6-4.9 -2.9-2.5 10.9,17.7 0.3,0.6A638,638 0 0 0 1864.6,2023.6ZM1855.1,2030l-6-8.2 5,8.9A638,638 0 0 0 1855.1,2030ZM1850.8,2032.9l-3.3-4.3 2.3,4.9A638,638 0 0 0 1850.8,2032.9ZM1848,2034.8l-1-1.3 -10.4-14.1 0.6,2.8 4.1,8.2 3.7,6.3A638,638 0 0 0 1848,2034.8ZM1841.4,2039l-4.9-6.6 3.9,7.2A638,638 0 0 0 1841.4,2039ZM1838.9,2040.5l-4.5-5.7 3.3,6.5A638,638 0 0 0 1838.9,2040.5ZM1836.9,2041.8l-3.1-4.1 2.4,4.5A638,638 0 0 0 1836.9,2041.8ZM1833.1,2044.2l-1.6-2.3 -5.5-7.1 1.9,5 -4.3-5 6.3,11.3A638,638 0 0 0 1833.1,2044.2ZM1828.9,2046.7l-6-9.2 -11.2-16.7 6.7,13.1 -1.3-0.2 5.2,10.8 2,4.9A638,638 0 0 0 1828.9,2046.7ZM1823.5,2049.9l-0.7-0.5 -2.7-2.5 1.9,3.9A638,638 0 0 0 1823.5,2049.9ZM1820.5,2051.6l0,0 0,0A638,638 0 0 0 1820.5,2051.6ZM1818.5,2052.8l-5.5-8 4.5,8.6A638,638 0 0 0 1818.5,2052.8ZM1816.3,2054.1l-3.1-4.8 1.8,5.1 0.1,0.3A638,638 0 0 0 1816.3,2054.1ZM1812.9,2056l-2.8-3.9 -0.9,0.4 1.2,4.2 -3.4-3.9 -4.9-6.7 2.3,6.2 3.1,6.7A638,638 0 0 0 1812.9,2056ZM1803.6,2061.2l-2.5-4.2 1.9,4.5A638,638 0 0 0 1803.6,2061.2ZM1799.9,2063.1l-0.7-1 0.4,1.2A638,638 0 0 0 1799.9,2063.1ZM1797.3,2064.5l-3.6-6.2 3.1,6.5A638,638 0 0 0 1797.3,2064.5ZM1791.5,2067.5l0,0 0,0A638,638 0 0 0 1791.5,2067.5ZM1789.3,2068.6l-4.9-8.2 3.9,8.7A638,638 0 0 0 1789.3,2068.6ZM1787,2069.8l-1.2-2.1 -0.1,2.1 0.1,0.6A638,638 0 0 0 1787,2069.8ZM1784.8,2070.9l-4.7-7.8 -0.4,1.5 3.2,7.3A638,638 0 0 0 1784.8,2070.9ZM1780.9,2072.8l-5.9-10.8 -1.3-0.3 3.5,9.5 -9.4-17.1 8.1,19.1 0.5,1.8A638,638 0 0 0 1780.9,2072.8ZM1775.4,2075.5l-3.6-6.1 0.9,4.4 -4.8-7.7 -0.5,1.2 3.9,10.2A638,638 0 0 0 1775.4,2075.5ZM1770.8,2077.7l-3.5-5.9 -3.8-5.7 4.6,12.3 0.1,0.5A638,638 0 0 0 1770.8,2077.7ZM1766.7,2079.6l-2.4-4.4 0.2,2.8 0.8,2.2A638,638 0 0 0 1766.7,2079.6ZM1763.3,2081.1l-13.4-27.9 11.5,28.1 0.3,0.6A638,638 0 0 0 1763.3,2081.1ZM1758.9,2083.1l0,0 0,0A638,638 0 0 0 1758.9,2083.1ZM1757.4,2083.8l-6.6-13.8 4.7,13.1 -0.8,0.9 0.3,0.8A638,638 0 0 0 1757.4,2083.8ZM1753.8,2085.3l-16-35.2 10,25.7 -0.4,1.7 3.3,9.2A638,638 0 0 0 1753.8,2085.3ZM1749.6,2087.1l-0.9-1.5 -0.6,1.2 -2.7-3.6 1,5.1 0.1,0.2A638,638 0 0 0 1749.6,2087.1ZM1744.6,2089.2l-0.1-0.3 -3.7-6.1 -1.6-1.3 2.8,8.8A638,638 0 0 0 1744.6,2089.2ZM1740.3,2091l-4-8.6 -3.4-5.6 -10.9-24.4 1.8,7.1 -0.7,0.9 -4.8-9.4 6.6,19.2 6.2,18.6 -5-10 5.5,15.7A638,638 0 0 0 1740.3,2091ZM1730,2095.1l-7-15.9 -4.9-10 6.9,20.9 -1.1,0 1.1,5.9 -2.6-4.2 -7.2-16.3 7.4,22.4A638,638 0 0 0 1730,2095.1ZM1715.8,2100.4l-0.5-1 -2.5-3.8 1.4,5.4A638,638 0 0 0 1715.8,2100.4ZM1713,2101.4l-1-2.2 0.5,2.4A638,638 0 0 0 1713,2101.4ZM1706.4,2103.7l-1.9-3.8 0.7,4.2A638,638 0 0 0 1706.4,2103.7ZM1704.8,2104.2l-3.7-8.1 -8.5-22.3 9.4,31.4A638,638 0 0 0 1704.8,2104.2ZM1700.5,2105.7l-4-10.5 -2.6-4.6 1.5,7.6 -2.6-4.5 3.5,13.4A638,638 0 0 0 1700.5,2105.7ZM1695.8,2107.2l-2.6-5.8 -2.1-3.1 2.2,9.7A638,638 0 0 0 1695.8,2107.2ZM1690.2,2109l-0.5-1.6 -2.8-5.5 -9.6-27.5 8.6,31.3 -2.2-3.7 2,8.4A638,638 0 0 0 1690.2,2109ZM1682.7,2111.3l-2.6-7.2 -0.2,2.9 -0.7,1.5 0.7,3.6A638,638 0 0 0 1682.7,2111.3ZM1678.4,2112.6l-0.2-0.5 -1.4-1 0.2,1.9A638,638 0 0 0 1678.4,2112.6ZM1675.4,2113.4l-0.2-0.5 -1.9-2.8 0.8,3.7A638,638 0 0 0 1675.4,2113.4ZM1672.5,2114.2l-0.7-2 -0.9,0.7 -1.1-0.2 0.4,2.2A638,638 0 0 0 1672.5,2114.2ZM1668.8,2115.3l-4.2-13.7 1.9,10.8 -3-7.1 -5.7-17.2 -2.8-6.9 -3.6-9.6 1.7,10.3 -3.9-11.2 3.4,17.1 -3.5-9.9 2.8,14.9 5.7,25.4A638,638 0 0 0 1668.8,2115.3ZM1655.7,2118.7l-2.5-8.3 -4.5-13.8 0.3,5 2.2,13.4 1,4.6A638,638 0 0 0 1655.7,2118.7ZM1650.5,2120l-0.9-3.1 -0.5,2.4 0.1,1A638,638 0 0 0 1650.5,2120ZM1646.4,2121l-0.3-0.8 -0.2,0.9A638,638 0 0 0 1646.4,2121ZM1641.8,2122l-1.4-3.6 -0.3,3.1 -1.9-3.5 0.2,4.8A638,638 0 0 0 1641.8,2122ZM1635.2,2123.5l-0.1-0.7 0.1,0.7A638,638 0 0 0 1635.2,2123.5ZM1632.4,2124.1l-1.3-4.9 -0.3,3.4 -4.6-17.2 3.5,19.3A638,638 0 0 0 1632.4,2124.1ZM1628.5,2124.9l-2.9-12.2 1.5,12.3 0,0.2A638,638 0 0 0 1628.5,2124.9ZM1622.7,2126.1l-3.4-14.1 1.9,14.4A638,638 0 0 0 1622.7,2126.1ZM1617.2,2127.1l-1.1-4.7 -4.1-16.6 0,5.7 -0.9,0.8 -1.9-4.8 1.6,14.5 0.6,6.2A638,638 0 0 0 1617.2,2127.1ZM1607.2,2128.9l-2.9-14.5 1.9,14.7A638,638 0 0 0 1607.2,2128.9ZM1604.2,2129.4l-2.9-14.5 1.7,14.7A638,638 0 0 0 1604.2,2129.4ZM1601.4,2129.9l-2.5-10.6 1.2,10.8A638,638 0 0 0 1601.4,2129.9ZM1595.1,2130.9l-3.3-18.5 2.1,18.6A638,638 0 0 0 1595.1,2130.9ZM1592.6,2131.2l-0.3-1.4 0.1,1.5A638,638 0 0 0 1592.6,2131.2ZM1589.7,2131.7l-1-5.4 0.4,5.4A638,638 0 0 0 1589.7,2131.7ZM1587.1,2132l-2.1-9.5 -0.9,0.6 0.4,9.3A638,638 0 0 0 1587.1,2132ZM1584.1,2132.4l-2.7-14.1 -1-0.2 -0.5,4.8 -0.7,2 -0.2,6.6 -1.3-2.1 0.3,3.8A638,638 0 0 0 1584.1,2132.4ZM1575.8,2133.5l-2.3-13.4 0.1,10.1 0.3,3.5A638,638 0 0 0 1575.8,2133.5ZM1569.7,2134.2l-2.9-19.3 0,9.5 -1.3-2.7 -0.8,2.4 0.6,10.5A638,638 0 0 0 1569.7,2134.2ZM1563.1,2134.9l-1.3-8.9 -0.8,1.6 -0.1,7.5A638,638 0 0 0 1563.1,2134.9ZM1559.4,2135.2l-1.6-8.2 0.3,8.3A638,638 0 0 0 1559.4,2135.2ZM1555.1,2135.6l-1.3-8.4 -0.5,6.9 -0.1,1.7A638,638 0 0 0 1555.1,2135.6ZM1552.2,2135.9l-2.2-17.6 0.6,17.7A638,638 0 0 0 1552.2,2135.9ZM1548.4,2136.2l-0.2-1.4 0,1.4A638,638 0 0 0 1548.4,2136.2ZM1546.4,2136.3l-0.3-2.5 -1.2-1.8 -1,0.2 -1.7-10.2 0.4,14.6A638,638 0 0 0 1546.4,2136.3ZM1533.7,2137.1l-1.1-4.5 -0.2,4.6A638,638 0 0 0 1533.7,2137.1ZM1528.7,2137.4l0-0.2 0,0.2A638,638 0 0 0 1528.7,2137.4ZM1526.2,2137.5l-0.9-6.6 -1.3-8.7 -0.5,14.3 -1.6-16.5 -1,2.5 -0.3,15.2A638,638 0 0 0 1526.2,2137.5ZM1514.6,2137.8l-0.5-5.7 -1.4-16.5 -0.1,22.3A638,638 0 0 0 1514.6,2137.8ZM1509.2,2137.9l-0.2-3.1 -1.1-4.9 -1.2-14.9 -1,1.6 -1.1-16.3 -0.8,23.2 -0.5,14.5A638,638 0 0 0 1509.2,2137.9ZM1502.3,2138l-0.5-9.5 -0.7,9.5A638,638 0 0 0 1502.3,2138ZM1500.6,2138l-0.9-14.5 -1,14.5A638,638 0 0 0 1500.6,2138ZM1498.6,2138l-0.9-9.1 -0.9-15.2 -0.9,24.3A638,638 0 0 0 1498.6,2138ZM1495.2,2138l-0.5-12.4 -1.1,3.6 -0.9-10.9 -0.8,19.6A638,638 0 0 0 1495.2,2138ZM1490.5,2137.9l-0.1-0.4 -0.9-6.2 -1-1 -1.1,4.4 -0.7,3.2A638,638 0 0 0 1490.5,2137.9ZM1486.1,2137.8l-0.7-6.7 -1,0 -0.4-23.2 -1.7,24.1 -0.6-15 -1,1.9 -1,0.4 -1.5,12.1 -1.1,2.3 -0.1-23.6 -1.7,27.4A638,638 0 0 0 1486.1,2137.8ZM1474.5,2137.5l0.3-21 -1.5,10.6 -1-0.6 0-20.9 -2.5,30.4 -0.6-8.2 -0.4-12.2 -1.7,14 1-38.7 -2.4,25.7 -1.6,10.2 -1.2,3.4 -1,6.7A638,638 0 0 0 1474.5,2137.5ZM1460.4,2136.8l0.9-28.5 -2.3,19.7 -0.2-12.5 -0.6-5.3 -2.1,15.3 -1-1.2 -1.2,3.3 0.4-19.4 -2.1,14.5 0.3-16.5 -1.8,9.8 -1.2,2.9 -1-0.7 0-11.4 -1.5,6 -2.9,22.8A638,638 0 0 0 1460.4,2136.8ZM1443.4,2135.5l-0.2-3.4 -0.6,3.3A638,638 0 0 0 1443.4,2135.5ZM1441.5,2135.3l0.6-12.8 -0.9-1.7 -1.5,5.2 -1.3,2.7 -1-0.3 -1.6,6.4A638,638 0 0 0 1441.5,2135.3ZM1435.7,2134.8l1.9-28.7 -2.6,16.2 0.6-15.3 -0.9-0.9 0.9-17.9 -2.8,17.1 -2.7,14.6 0.5-12.8 -3.9,26.7A638,638 0 0 0 1435.7,2134.8ZM1426.1,2133.7l0.7-11.4 -2,8.5 0-8.8 -2.4,10.7 -0.1,0.6A638,638 0 0 0 1426.1,2133.7ZM1421,2133.1l1.9-20.3 -1.5,4 -3,16A638,638 0 0 0 1421,2133.1ZM1417.7,2132.7l-0.2-2.2 -0.8-1.5 -0.8,3.4A638,638 0 0 0 1417.7,2132.7ZM1412.4,2132l0.2-3.5 -0.7,3.4A638,638 0 0 0 1412.4,2132ZM1410.6,2131.7l1.8-16.1 -3.1,15.9A638,638 0 0 0 1410.6,2131.7ZM1404.9,2130.9l3.2-27.5 -4.6,23.7 -0.9,3.4A638,638 0 0 0 1404.9,2130.9ZM1396.9,2129.6l0-0.7 -0.2,0.7A638,638 0 0 0 1396.9,2129.6ZM1393.1,2129l0.7-6.7 -1,0.3 -1.9,4.4 -1-0.2 -0.3,1.6A638,638 0 0 0 1393.1,2129ZM1386.8,2127.9l1.3-8.3 -2.2,8.1A638,638 0 0 0 1386.8,2127.9ZM1383.6,2127.3l0.3-2 -0.2-4.2 0.6-8.8 -3.2,14.5A638,638 0 0 0 1383.6,2127.3ZM1378.2,2126.3l1-9.2 -2,4.7 0-5 -2.3,6.4 0.8-9.5 -1.6,3 -2.7,8.2A638,638 0 0 0 1378.2,2126.3ZM1370.3,2124.7l-0.3-3.5 -1,3.2A638,638 0 0 0 1370.3,2124.7ZM1367.9,2124.2l1.2-8.4 -2.2,5.5 -0.8,2.5A638,638 0 0 0 1367.9,2124.2ZM1364.4,2123.4l0.4-2.3 -0.9,2.2A638,638 0 0 0 1364.4,2123.4ZM1359.3,2122.3l0-0.2 0.8-8.2 -2.1,4.4 -1-0.2 -0.9,3.5A638,638 0 0 0 1359.3,2122.3ZM1353.8,2121l2.7-14.1 0.1-4.8 -0.5-2.2 -0.3-3.1 -4.1,12.7 -2.8,7.2 1.9-12.1 0.5-6.1 -4,11.9 -2.4,8.5A638,638 0 0 0 1353.8,2121ZM1343.2,2118.4l0-0.1 -0.1,0.1A638,638 0 0 0 1343.2,2118.4ZM1340.5,2117.7l-0.1-1.2 0.2-4.8 0.3-5.3 -3.3,8.7 2.6-13.9 0.9-7.2 -5.7,17.2 4.3-19.5 -0.1-3.5 -8.2,27.1A638,638 0 0 0 1340.5,2117.7ZM1330.6,2115.1l2.2-9.8 4.9-21.5 -6.2,18.8 1.7-10 -4.2,11.3 -1.6,1.8 2.4-12 0.4-5.1 -8,24.1A638,638 0 0 0 1330.6,2115.1ZM1320.5,2112.2l1.3-5.6 4.6-19.1 2.1-10.5 -7.9,23.1 2.1-10.6 -1.4,1.3 -4.4,10.8 1.2-7.4 -2.2,3.9 -0.6-1.5 -3.3,7 -0.1-3.1 -3.5,8.1A638,638 0 0 0 1320.5,2112.2ZM1306.8,2108.1l3.7-13.3 -4.9,12.9A638,638 0 0 0 1306.8,2108.1ZM1305.1,2107.5l1.8-7.9 1.6-8.3 -4.8,11.5 2.3-10.3 -3.2,6.5 -3,6.8A638,638 0 0 0 1305.1,2107.5ZM1299.2,2105.6l2.5-10 -4.1,9.4A638,638 0 0 0 1299.2,2105.6ZM1297.5,2105l5.8-20.5 -7.6,19.9A638,638 0 0 0 1297.5,2105ZM1295.3,2104.3l2.2-8.7 -3.2,8.3A638,638 0 0 0 1295.3,2104.3ZM1292,2103.1l1.7-6 -2.8,5.7A638,638 0 0 0 1292,2103.1ZM1289.8,2102.4l-0.1-0.2 1.9-8.4 -3.4,8A638,638 0 0 0 1289.8,2102.4ZM1287,2101.4l0.8-3 2.1-8.9 -1.6,1.5 -4,9.4A638,638 0 0 0 1287,2101.4ZM1283.5,2100.1l5.8-17.9 0.1-3.2 -7.1,16.4 -0.9-0.6 -2,3.8A638,638 0 0 0 1283.5,2100.1ZM1278.8,2098.4l4.4-14.2 -6.1,13.6A638,638 0 0 0 1278.8,2098.4ZM1277,2097.8l1.3-6.4 1.6-7.1 -5.6,12.4A638,638 0 0 0 1277,2097.8ZM1274,2096.6l4-13.1 -5.6,12.5A638,638 0 0 0 1274,2096.6ZM1271.8,2095.8l1.2-4.9 -2.5,4.4A638,638 0 0 0 1271.8,2095.8ZM1270.2,2095.2l6.3-19 -8.1,18.3A638,638 0 0 0 1270.2,2095.2ZM1268.2,2094.4l0.2-2.9 2.5-9.1 -5.1,11A638,638 0 0 0 1268.2,2094.4ZM1265.2,2093.2l5.5-15.8 0.5-4 -4.9,9.6 -1.4,0.7 0.7-4.5 -5.5,10.9 -0.5,0.9A638,638 0 0 0 1265.2,2093.2ZM1258.3,2090.4l1.6-5.3 7-19.8 -10.9,24.2A638,638 0 0 0 1258.3,2090.4ZM1254.9,2089l2.4-8.3 -4,7.7A638,638 0 0 0 1254.9,2089ZM1252.8,2088.2l5.5-15 -6.6,12.8 -0.7,1.4A638,638 0 0 0 1252.8,2088.2ZM1247.9,2086.1l3-8.6 -3.7,5.9 -1,1.9A638,638 0 0 0 1247.9,2086.1ZM1243.9,2084.3l0.4-1.9 -1.2,1.6A638,638 0 0 0 1243.9,2084.3ZM1239.2,2082.3l3.9-9.9 -4.8,9.5A638,638 0 0 0 1239.2,2082.3ZM1237.2,2081.4l2.1-5.5 6.9-17.7 -11,22.3A638,638 0 0 0 1237.2,2081.4ZM1231.4,2078.7l0.5-1.5 -0.7,1.4A638,638 0 0 0 1231.4,2078.7ZM1227.6,2076.9l0-0.1 -0.1,0.1A638,638 0 0 0 1227.6,2076.9ZM1225.2,2075.8l1.2-3.8 -1-0.2 -1.8,3.2A638,638 0 0 0 1225.2,2075.8ZM1215.7,2071.2l2.2-5.2 -2.9,4.8A638,638 0 0 0 1215.7,2071.2ZM1212.1,2069.4l4.7-10.2 -5.9,9.5A638,638 0 0 0 1212.1,2069.4ZM1204.4,2065.4l0.4-0.9 -0.5,0.8A638,638 0 0 0 1204.4,2065.4ZM1203.1,2064.7l8.5-17.4 -9.5,16.9A638,638 0 0 0 1203.1,2064.7ZM1200.9,2063.5l2.5-5.1 -3.4,4.7A638,638 0 0 0 1200.9,2063.5ZM1197.9,2062l4.3-10 -5.4,9.4A638,638 0 0 0 1197.9,2062ZM1183,2053.7l5.1-9.8 -5.3,7.1 1.6-4.8 -2.2,1.7 5.7-11.7 -9.2,13.6 -0.7-0.7 -1,1.1A638,638 0 0 0 1183,2053.7ZM1166.8,2044.1l2.6-4.7 -3.2,4.3A638,638 0 0 0 1166.8,2044.1ZM1163.4,2042l5.5-9.6 -6.3,9.1A638,638 0 0 0 1163.4,2042ZM1158.1,2038.7l5.5-9.3 -6.5,8.6A638,638 0 0 0 1158.1,2038.7ZM1156.3,2037.5l0.3-0.9 -0.6,0.7A638,638 0 0 0 1156.3,2037.5ZM1154,2036l9.8-16.3 -10.9,15.6A638,638 0 0 0 1154,2036ZM1150.3,2033.6l5.7-9.3 -6.4,8.9A638,638 0 0 0 1150.3,2033.6ZM1147.9,2032l5.3-9 -6.4,8.3A638,638 0 0 0 1147.9,2032ZM1138.9,2026l1.4-2.2 4-7.7 -6.8,8.9A638,638 0 0 0 1138.9,2026ZM1132.2,2021.3l1.5-2.4 -1.8,2.2A638,638 0 0 0 1132.2,2021.3ZM1127.6,2018.1l11.2-16.9 -9.4,11.4 -3.4,4.3A638,638 0 0 0 1127.6,2018.1ZM1122.4,2014.3l5-7.8 -1-0.3 -5.6,6.9A638,638 0 0 0 1122.4,2014.3ZM1117.7,2010.7l7.3-11.1 -2.9,2.2 -6.3,7.6A638,638 0 0 0 1117.7,2010.7ZM1108.3,2003.6l8.9-12.2 -6.1,6.2 -4.7,4.5A638,638 0 0 0 1108.3,2003.6ZM1106.3,2002l3.6-6.1 11.7-16.5 -17.5,20.9A638,638 0 0 0 1106.3,2002ZM1103.6,1999.9l5.4-7.8 -1.7,0.5 2.7-5.1 -9.2,10.2A638,638 0 0 0 1103.6,1999.9ZM1100.5,1997.4l4.1-6.4 -1.8,0.6 2.2-4.3 -7.1,8.1A638,638 0 0 0 1100.5,1997.4ZM1090.2,1989l0.9-2.5 -1.9,1.7A638,638 0 0 0 1090.2,1989ZM1088.1,1987.2l0.6-1 -0.9,0.8A638,638 0 0 0 1088.1,1987.2ZM1082.8,1982.7l6.8-8.6 -7.4,8A638,638 0 0 0 1082.8,1982.7ZM1073.6,1974.6l9.2-11.3 -10,10.5A638,638 0 0 0 1073.6,1974.6ZM1067.3,1968.8l5.5-6.5 2.6-4.3 -7.6,6.6 15.5-18.1 -15.7,15.3 -3.9,3.7A638,638 0 0 0 1067.3,1968.8ZM1061.3,1963.2l5.7-6.6 -6.3,6A638,638 0 0 0 1061.3,1963.2ZM1059.8,1961.8l8.2-9.3 -9.1,8.4A638,638 0 0 0 1059.8,1961.8ZM1057.5,1959.6l3.4-4 6.4-8.2 -11.2,10.9A638,638 0 0 0 1057.5,1959.6ZM1050.6,1952.9l0.7-0.8 8.8-10.3 -10.8,9.7A638,638 0 0 0 1050.6,1952.9ZM1041.4,1943.6l4-4.5 -4.4,4A638,638 0 0 0 1041.4,1943.6ZM1036.5,1938.4l4.4-4.9 -5.1,4.1A638,638 0 0 0 1036.5,1938.4ZM1035,1936.8l2.9-3.2 -3.5,2.6A638,638 0 0 0 1035,1936.8ZM1032.8,1934.4l1.2-1.4 0.9-2.3 13.7-14 -18,15.4A638,638 0 0 0 1032.8,1934.4ZM1028.6,1929.9l2.7-2.9 -3.1,2.5A638,638 0 0 0 1028.6,1929.9ZM1027.1,1928.2l1.1-1.1 -1.3,0.9A638,638 0 0 0 1027.1,1928.2ZM1024.5,1925.4l4-4.2 1.5-2.7 -6.8,5.4A638,638 0 0 0 1024.5,1925.4ZM1021.2,1921.7l8.2-8.1 -7.3,5.1 -1.8,0.2 -1.1,0.5A638,638 0 0 0 1021.2,1921.7ZM1015.6,1915.2l4.2-4 -5.1,3A638,638 0 0 0 1015.6,1915.2ZM1014.7,1914.2l1.9-3 -2.7,2A638,638 0 0 0 1014.7,1914.2ZM1012.7,1911.8l0.4-0.3 -0.4,0.3A638,638 0 0 0 1012.7,1911.8ZM1008.2,1906.4l2.3-2.2 8-7.9 -2.4,0.7 -9.7,7.3A638,638 0 0 0 1008.2,1906.4ZM1004.9,1902.4l1.6-1.5 -1.8,1.2A638,638 0 0 0 1004.9,1902.4ZM1002.4,1899.3l8.2-7 -8.9,6.2A638,638 0 0 0 1002.4,1899.3ZM1001.4,1898l12.2-10.7 -13,9.7A638,638 0 0 0 1001.4,1898ZM999.8,1896.1l8.2-7 -8.9,6.1A638,638 0 0 0 999.8,1896.1ZM997.8,1893.5l0.8-0.8 -1.3,0.2A638,638 0 0 0 997.8,1893.5ZM995.4,1890.4l7.2-6 -7.6,5.5A638,638 0 0 0 995.4,1890.4ZM993.4,1887.8l3.5-3 -1.6,0 -3.2,1.1 -0.1,0.1A638,638 0 0 0 993.4,1887.8ZM991.2,1884.9l7.3-6.4 -7.9,5.6A638,638 0 0 0 991.2,1884.9ZM989.6,1882.8l3.9-3.1 -4.2,2.7A638,638 0 0 0 989.6,1882.8ZM987.7,1880.3l1.8-1.4 -2,1.1A638,638 0 0 0 987.7,1880.3ZM986.5,1878.7l1.3-1.2 -1.5,0.9A638,638 0 0 0 986.5,1878.7ZM985.5,1877.2l4.8-4.1 -5.4,3.4A638,638 0 0 0 985.5,1877.2ZM984.4,1875.7l10.2-8.2 -9.9,5.9 -1.5,0.8A638,638 0 0 0 984.4,1875.7ZM981.2,1871.3l7.9-6.1 -8.4,5.4A638,638 0 0 0 981.2,1871.3ZM980.1,1869.7l10.1-7.8 -10.8,6.9A638,638 0 0 0 980.1,1869.7ZM978.7,1867.9l2.7-2.2 -1.8,0 -1.7,1A638,638 0 0 0 978.7,1867.9ZM977,1865.3l6.5-4.9 -7,4.3A638,638 0 0 0 977,1865.3ZM975.2,1862.8l3.9-3.1 -4.4,2.4A638,638 0 0 0 975.2,1862.8ZM970.7,1856.2l7.1-5.5 -4.4,1.7 -4.1,1.5 4.3-4.1 -5.5,2.5A638,638 0 0 0 970.7,1856.2ZM966.2,1849.4l4.6-3.9 -5.3,2.8A638,638 0 0 0 966.2,1849.4ZM961.4,1842l3-2.1 -3.2,1.8A638,638 0 0 0 961.4,1842ZM960.4,1840.5l11.9-8 -12.4,7.1A638,638 0 0 0 960.4,1840.5ZM959.1,1838.3l7.6-5.9 -2.7,0.5 -3,0.6 -3.6,2.1A638,638 0 0 0 959.1,1838.3ZM952.6,1827.8l0.3-0.2 -0.3,0.1A638,638 0 0 0 952.6,1827.8ZM946,1816.4l4.2-2.7 -4.8,1.5 0-1.2 0.8-1.6 -2.1,0.7A638,638 0 0 0 946,1816.4ZM943.7,1812.3l6.4-4.5 2.9-2.7 7.7-5.5 -12.5,5.8 -6.8,2.8A638,638 0 0 0 943.7,1812.3ZM941.2,1808l14-8.8 17.6-10.8 -0.9-0.6 14.4-8.9 -10.1,4.4 -13.4,6.1 17.7-10.6 -13.6,6.2 1.9-2.1 -31,15.3 -1.5,0.6A638,638 0 0 0 941.2,1808ZM935.7,1797.7l10.1-6 -2.1-0.1 -9.2,3.8A638,638 0 0 0 935.7,1797.7ZM929.7,1786.1l0,0 0,0A638,638 0 0 0 929.7,1786.1ZM928.5,1783.7l9.4-5.1 -7.5,2.5 -2.3,0 1.7-2 -3,1.1A638,638 0 0 0 928.5,1783.7ZM923.5,1773.3l6.1-3.2 -6.3,2.7A638,638 0 0 0 923.5,1773.3ZM922.2,1770.5l4.1-2.2 1.3-1.7 4.3-3.2 -11,4.4A638,638 0 0 0 922.2,1770.5ZM919.9,1765.6l1.2-0.6 17.1-8.9 -18.8,7.4 -0.4,0.2A638,638 0 0 0 919.9,1765.6ZM918.3,1762l7.9-3.8 -8.2,3.1A638,638 0 0 0 918.3,1762ZM917.6,1760.5l12.3-6.2 -12.9,4.8A638,638 0 0 0 917.6,1760.5ZM916.8,1758.6l1.9-1.6 -2.2,0.9A638,638 0 0 0 916.8,1758.6ZM915.7,1756.3l3.3-1.6 0.7-1.4 -4.6,1.5A638,638 0 0 0 915.7,1756.3ZM914,1752.3l0,0 0,0A638,638 0 0 0 914,1752.3ZM913.3,1750.7l2.3-1.3 -2.5,0.8A638,638 0 0 0 913.3,1750.7ZM911.7,1746.9l4.9-2.4 -4.2,0.7 -1.2,0.4A638,638 0 0 0 911.7,1746.9ZM910.1,1743.1l4.5-2.2 -0.1-1 0.9-1.5 -6.2,2.3A638,638 0 0 0 910.1,1743.1ZM908.5,1739l1.3-0.6 5.7-3.4 9-4.7 -15.7,5.2 -1.6,0.5A638,638 0 0 0 908.5,1739ZM906.4,1734l14.6-6.6 -15.2,5A638,638 0 0 0 906.4,1734ZM905.7,1732.1l15.1-6.8 -15.7,5.3A638,638 0 0 0 905.7,1732.1ZM904.9,1730l10.3-4.7 2.4-2 -13.7,4.2A638,638 0 0 0 904.9,1730ZM901.2,1720.1l17.1-6.8 3.4-2.3 -11.7,3.2 -10,2.6A638,638 0 0 0 901.2,1720.1ZM899.6,1715.7l3.6-2.3 -4.1,0.9A638,638 0 0 0 899.6,1715.7ZM898.7,1713.2l1.9-1.1 3.4-2.2 -6,1.4A638,638 0 0 0 898.7,1713.2ZM897.6,1710.2l1.5-0.8 -1.6,0.4A638,638 0 0 0 897.6,1710.2ZM896.7,1707.6l10.2-4.2 1.8-1.6 -12.8,3.3A638,638 0 0 0 896.7,1707.6ZM895.5,1703.9l27.4-10.1 -26,7.6 -2.1,0.6A638,638 0 0 0 895.5,1703.9ZM894.1,1699.8l13.8-5.2 -14.2,4A638,638 0 0 0 894.1,1699.8ZM893.4,1697.8l14-5.2 -14.4,3.8A638,638 0 0 0 893.4,1697.8ZM892.9,1696.2l61.1-20.7 -46.7,14 6.4-3.1 -22,6A638,638 0 0 0 892.9,1696.2ZM891.6,1692.1l12.6-4.9 -8.9,1.8 5.7-2.9 6.7-3.1 -13.4,3.1 12.6-5 -11.4,2.4 -5.4,0.6 5.2-2.6 12.7-4.9 4.8-2.5 -24.7,6.4A638,638 0 0 0 891.6,1692.1ZM887.9,1679.9l2.5-1.3 2.1-1.6 4.6-2.4 -2.2-0.5 9.5-3.8 -4.3,0.2 0.7-1.2 4-2.2 -2.5-0.3 9-3.6 -6,0.6 -5.5,0.5 -15.3,3.5A638,638 0 0 0 887.9,1679.9ZM884.3,1667.1l16.9-5.2 -17.3,3.8A638,638 0 0 0 884.3,1667.1ZM883.7,1665.1l6.4-2.4 -6.7,1.1A638,638 0 0 0 883.7,1665.1ZM883.3,1663.3l15.5-5 1.5-1.4 -8.1,1.1 19.9-6.2 -16.1,3.1 3-1.8 2.7-1.7 17.1-5.4 -20.1,4 4.9-2.2 21.1-6.2 -13.9,2.4 -4.1,0 13.4-4.3 -15.1,2.7 13.9-4.4 9.7-3.3 -34.4,7.1 1.1-1.3 -5.6,0.3 26.1-7 -10,1.2 7-2.6 -11.3,1.6 -0.9-0.8 3.5-1.8 -14.6,2.1 -6.9,0.5 0.1-1.1 12.3-3.6 -19.1,3.1A638,638 0 0 0 883.3,1663.3ZM875.4,1630.2l27.7-6.7 -3.4-0.3 -15.3,2.1 1.7-1.4 -3.2-0.4 26.2-6.2 -3.5-0.3 -31.8,5.2A638,638 0 0 0 875.4,1630.2ZM873.8,1622.1l22.8-5.4 -16.9,2.2 11.3-3.2 11.7-3.2 -25.5,3.8 14-3.7 8.2-2.5 -4.9-0.1 9.7-2.8 -22.7,3.1 9.8-2.8 -8.6,0.5 1.9-1.3 -8.2,0.3 8-2.4 -8,0.4 -5.7,0.1A638,638 0 0 0 873.8,1622.1ZM870.7,1604.8l15.8-3.6 -16.1,1.9A638,638 0 0 0 870.7,1604.8ZM870.3,1602.7l27.8-5.4 -28,3.8A638,638 0 0 0 870.3,1602.7ZM869.8,1599.7l30.6-5.8 -30.9,3.9A638,638 0 0 0 869.8,1599.7ZM869.2,1595.8l4.7-0.8 -4.7,0.5A638,638 0 0 0 869.2,1595.8ZM868.9,1593.9l5.6-1.1 -5.6,0.6A638,638 0 0 0 868.9,1593.9ZM868.4,1590l7.8-1.6 8.9-2.3 -17,1.7A638,638 0 0 0 868.4,1590ZM867.4,1582.7l7-1.2 -7.2,0.2A638,638 0 0 0 867.4,1582.7ZM867,1579.7l4.1-0.9 -4.2,0.3A638,638 0 0 0 867,1579.7ZM866.5,1575.8l18.6-2.8 -17,0.9 -1.8,0.1A638,638 0 0 0 866.5,1575.8ZM866,1571.5l6-1.1 -3.5-0.6 -2.7,0A638,638 0 0 0 866,1571.5ZM865.6,1567.8l23.7-3.3 -18.6,0.9 6.2-1.7 -11.6,0.8A638,638 0 0 0 865.6,1567.8ZM864.1,1551.7l2.5-0.4 -2.5-0.1A638,638 0 0 0 864.1,1551.7ZM863.8,1547.6l7.4-0.8 -7.5,0.2A638,638 0 0 0 863.8,1547.6ZM863,1535.5l19.8-1.6 -19.9,0.2A638,638 0 0 0 863,1535.5ZM862.9,1533.8l9.4-1.3 -9.5-0.3A638,638 0 0 0 862.9,1533.8ZM862.5,1526.1l12.5-0.9 -12.5,0A638,638 0 0 0 862.5,1526.1ZM862,1507.9l11.2-0.9 -11.2-0.3A638,638 0 0 0 862,1507.9ZM862.5,1474.4l8.9,0 -2.6-1.1 -6.2-0.6A638,638 0 0 0 862.5,1474.4ZM862.7,1470.9l16-0.3 -15.5-1.7 -0.4-0.3A638,638 0 0 0 862.7,1470.9ZM862.8,1467.8l25.4,0.3 -10.8-1.6 -7.8-1.4 5.9-0.7 -9.7-1.6 -0.4-1 11.9-0.3 -14-1.9A638,638 0 0 0 862.8,1467.8ZM863.4,1458.4l19.1,0.4 -11.1-1.8 -7.9-1.4A638,638 0 0 0 863.4,1458.4ZM863.7,1453.4l16.6,0.2 -16.5-2A638,638 0 0 0 863.7,1453.4ZM863.9,1450.4l1.4,0 -1.3-0.3A638,638 0 0 0 863.9,1450.4ZM864.1,1448.9l8.5,0 1.7-0.9 4.3-0.6 6.3-0.5 32,1.8 -1.8-1.1 -15.2-2.3 -7.7-1.7 -11-2.1 -13.9-2.3 -2.3-0.5A638,638 0 0 0 864.1,1448.9ZM865.1,1436.9l8.8-0.2 -7.9-1.8 16.4,0.7 -16.9-2.4A638,638 0 0 0 865.1,1436.9ZM865.6,1432.3l16.8,1.3 -9.1-2.1 -1.3-1.1 -6-1.6A638,638 0 0 0 865.6,1432.3ZM866,1428.6l15.2,0.8 -13.6-2.6 28.5,2.3 -12-2.4 -17.5-3A638,638 0 0 0 866,1428.6ZM866.7,1422.8l1.8-0.1 19.6,1.4 -16.1-3 15.8,1 -3.8-1.5 -11.2-2.5 8.5,0.1 4.4-0.5 -6.9-1.9 1.3-0.9 -4.2-1.6 -2.4-1.3 -5.2-1.2A638,638 0 0 0 866.7,1422.8ZM868.4,1409.8l14.3,1.4 -14.1-2.8A638,638 0 0 0 868.4,1409.8ZM868.7,1407.9l13.4,1.2 0.9-0.9 -13.9-3.1A638,638 0 0 0 868.7,1407.9ZM869.1,1405.1l14.6,1.2 -13.9-3.2 -0.4-0.1A638,638 0 0 0 869.1,1405.1ZM869.6,1401.7l13.2,1.4 -0.7-1.2 -0.7-1.1 -6.6-2.1 13.9,1.2 8.2,0.4 -24.1-5.1 9.8,0.6 -11.5-2.9A638,638 0 0 0 869.6,1401.7ZM871.3,1391.7l1.6-0.6 2.6-0.6 5.9,0 -9.6-2A638,638 0 0 0 871.3,1391.7ZM872.2,1386.3l4.9,0.3 -4.7-1.4A638,638 0 0 0 872.2,1386.3ZM873.6,1378.7l3,0.5 2.4-0.6 16,2.1 0.7-0.9 -21.3-5A638,638 0 0 0 873.6,1378.7ZM874.6,1374l6,0.7 -5.9-1.5A638,638 0 0 0 874.6,1374ZM875.1,1371.4l23.2,3.9 -22.9-5.6A638,638 0 0 0 875.1,1371.4ZM875.6,1369l9.1,1.3 -1.4-1.3 16.1,2.4 -5.1-2.1 4.7,0 -17.1-4.8 -5-1.6A638,638 0 0 0 875.6,1369ZM878.6,1355.5l2.8,0.5 1.8-0.7 16.7,2.9 -8.8-3.1 1.6-0.7 -13-3.7A638,638 0 0 0 878.6,1355.5ZM880.3,1348.2l19.8,3.9 -19.4-5.4A638,638 0 0 0 880.3,1348.2ZM882.1,1341.2l5.1,0.3 -3.4-1.9 -1.1-0.9A638,638 0 0 0 882.1,1341.2ZM882.9,1338.2l7.8,1.1 -7.4-2.8A638,638 0 0 0 882.9,1338.2ZM883.8,1334.5l12.8,3.2 -4.5-2.3 -4.9-2.4 -0.9-1.3 -1.1-1.4 -0.2-0.1A638,638 0 0 0 883.8,1334.5ZM885.3,1329.1l13.4,2.9 -5.6-2.7 -3.5-2 12.2,2.4 -14.2-5.1 2.2-0.5 -2.8-1A638,638 0 0 0 885.3,1329.1ZM887.4,1321.8l10.4,2.5 3.7,0.1 5.9,0.6 -19.1-6.3A638,638 0 0 0 887.4,1321.8ZM888.6,1317.8l10.4,2.6 0.8-0.8 -6.3-3 -4.1-1.5A638,638 0 0 0 888.6,1317.8ZM889.9,1313.5l1.5,0.3 19.3,4.9 4.3,0.3 -24.2-8.5A638,638 0 0 0 889.9,1313.5ZM891.3,1308.8l4.2,1 7.9,1.4 -11.5-4.3A638,638 0 0 0 891.3,1308.8ZM892.8,1304.1l5.4,1.1 13.3,3.3 -17.9-6.7A638,638 0 0 0 892.8,1304.1ZM894.1,1300.2l20.4,6.1 -19.6-7.6 4.5,0.4 7.5,1.5 -10.8-4.8 -0.4-0.4A638,638 0 0 0 894.1,1300.2ZM896,1294.6l8.6,2 7,1.3 -8.3-3.9 11.2,2.8 -17-6.8A638,638 0 0 0 896,1294.6ZM900.1,1282.7l18.9,6.1 -11.7-5.3 -6.2-3.3A638,638 0 0 0 900.1,1282.7ZM902.7,1275.7l10.9,3.5 2.8,0 -12.9-5.5A638,638 0 0 0 902.7,1275.7ZM904.1,1272.1l2.1,0 7.9,1.9 -9.1-4.3A638,638 0 0 0 904.1,1272.1ZM905.2,1269.3l16.5,5.5 0.8-0.8 -11.2-5.5 -5-2.2A638,638 0 0 0 905.2,1269.3ZM906.9,1264.9l4.9,1.6 21.7,7.6 -22.6-10.1 8.5,2.3 -5.4-3.3 -5.3-2.6A638,638 0 0 0 906.9,1264.9ZM909.1,1259.4l12.3,4.4 -11.8-5.6A638,638 0 0 0 909.1,1259.4ZM911.3,1254l1.2-0.5 6.2,1.4 -6.2-3.6A638,638 0 0 0 911.3,1254ZM914,1247.8l5.1,1.8 12.3,4.2 -16.5-8.2A638,638 0 0 0 914,1247.8ZM915.5,1244.3l2.8,0.4 2.4,0 7.2,2.1 -11.1-5.4A638,638 0 0 0 915.5,1244.3ZM917.2,1240.3l17.9,7.4 -17.5-8.3A638,638 0 0 0 917.2,1240.3ZM918.2,1238.2l6.1,2.5 -0.1-1.2 0.7-0.8 8.6,2.8 2.6,0.1 -0.1-1.2 -15.3-7.8A638,638 0 0 0 918.2,1238.2ZM921.7,1230.5l0.2,0 -0.2-0.1A638,638 0 0 0 921.7,1230.5ZM922.5,1228.8l3.5,1.4 -3.3-1.9A638,638 0 0 0 922.5,1228.8ZM923.4,1227l5.5,2.2 4.5,1.1 -9.2-5A638,638 0 0 0 923.4,1227ZM924.6,1224.4l10.4,4.4 2.9,0.2 3,0.4 6.4,2 -14.3-8.1 7.6,2.5 -13.2-7.3A638,638 0 0 0 924.6,1224.4ZM927.9,1217.6l1.4,0.4 -1.3-0.7A638,638 0 0 0 927.9,1217.6ZM930,1213.4l14,6.3 -13.3-7.6A638,638 0 0 0 930,1213.4ZM931,1211.5l7.6,3.1 2.4,0.1 -5.8-4.1 9.8,3.9 -12.1-6.9A638,638 0 0 0 931,1211.5ZM933.9,1205.7l11.1,5.4 -10.6-6.4A638,638 0 0 0 933.9,1205.7ZM934.8,1204l3.2,1.1 -2.8-1.9A638,638 0 0 0 934.8,1204ZM937.3,1199.3l4.1,1.8 1.7-0.2 -4.4-3.6 -0.2-0.1A638,638 0 0 0 937.3,1199.3ZM941,1192.4l7.4,3.2 4.1,1.1 -10.3-6.4A638,638 0 0 0 941,1192.4ZM942.6,1189.6l17.1,8.8 -12.9-8.4 -3.3-2.1A638,638 0 0 0 942.6,1189.6ZM944.2,1186.8l14.3,7.4 -9.7-6.6 -3.8-2.3A638,638 0 0 0 944.2,1186.8ZM947,1181.9l0.4,0.2 6.2,2.4 -5.7-4.2A638,638 0 0 0 947,1181.9ZM948.8,1178.7l5,2.3 -2.4-2.6 13.5,6.8 1-0.7 -14.7-9.8A638,638 0 0 0 948.8,1178.7ZM951.2,1174.6l7.4,3.3 -6.5-4.7A638,638 0 0 0 951.2,1174.6ZM952.6,1172.3l1.3,0.4 -1-1A638,638 0 0 0 952.6,1172.3ZM954.5,1169.2l8.2,4 -1-1.8 6.6,2.8 -12.2-7.7A638,638 0 0 0 954.5,1169.2ZM958.1,1163.2l0.2,0.1 -0.1-0.1A638,638 0 0 0 958.1,1163.2ZM959.2,1161.6l1.9,1 8.7,4.2 -8.8-6.7 -0.6-0.5A638,638 0 0 0 959.2,1161.6ZM963,1155.5l2.7,1.5 -2.3-2.1A638,638 0 0 0 963,1155.5ZM963.8,1154.2l7.7,4 -6.5-5.4 7,3.4 -6.3-4.8A638,638 0 0 0 963.8,1154.2ZM968.6,1146.9l3.4,1.9 -3.1-2.4A638,638 0 0 0 968.6,1146.9ZM973.2,1140.1l6.7,4.2 1.9,0 -7.4-6A638,638 0 0 0 973.2,1140.1ZM974.7,1137.9l7.7,4.3 -6.9-5.5A638,638 0 0 0 974.7,1137.9ZM975.9,1136.2l10.7,6.5 7.9,4.3 -15.4-12.1 -1.3-1.5A638,638 0 0 0 975.9,1136.2ZM979.6,1131l3.6,1.8 -2.9-2.8A638,638 0 0 0 979.6,1131ZM981.9,1127.6l12.1,7.9 -1.5-2.3 0.2-1.1 -2.2-2.9 -6-5.1A638,638 0 0 0 981.9,1127.6ZM987.4,1120.1l7.9,5 3.3,1.2 -9.3-8.2 3.1,1.1 3.2,1 7.7,4.6 -11.9-9.9A638,638 0 0 0 987.4,1120.1ZM991.8,1114.3l6.8,4.4 -6.1-5.4A638,638 0 0 0 991.8,1114.3ZM994.5,1110.8l8.9,6.4 -2.3-3 -5.5-4.8A638,638 0 0 0 994.5,1110.8ZM996.4,1108.3l2.9,1.9 8.5,5.3 -10.1-8.8A638,638 0 0 0 996.4,1108.3ZM998.8,1105.2l2.4,1.3 11.4,7.7 9.9,6.6 -20.9-17.9 9.8,6.4 -9.2-8.3A638,638 0 0 0 998.8,1105.2ZM1002.9,1100.1l0.6,0.3 -0.4-0.6A638,638 0 0 0 1002.9,1100.1ZM1004.6,1098l4.6,3 7.6,4.9 -10.8-9.7A638,638 0 0 0 1004.6,1098ZM1006.9,1095.1l23.7,18.2 -22.5-19.6A638,638 0 0 0 1006.9,1095.1ZM1012.1,1088.9l1.4,1 -1.1-1.3A638,638 0 0 0 1012.1,1088.9ZM1013.1,1087.8l8.4,6.2 -7.4-7.5A638,638 0 0 0 1013.1,1087.8ZM1015.1,1085.4l7.1,5.1 -2.1-3.1 -3.2-4.1A638,638 0 0 0 1015.1,1085.4ZM1018.1,1081.9l2.4,1.8 -2.1-2.2A638,638 0 0 0 1018.1,1081.9ZM1019.3,1080.5l7,5.5 -3.7-4.6 -2.1-2.2A638,638 0 0 0 1019.3,1080.5ZM1021.3,1078.3l8.8,7 -7.8-8.1A638,638 0 0 0 1021.3,1078.3ZM1022.4,1077l12.3,9.6 -2.1-3.2 -1.2-2.4 -3.9-4.9 -2-2.6A638,638 0 0 0 1022.4,1077ZM1026.3,1072.6l0.5,0.1 1.9,0.4 11.3,8.8 -11.5-11.7A638,638 0 0 0 1026.3,1072.6ZM1028.7,1070l5.2,3.7 -4.4-4.6A638,638 0 0 0 1028.7,1070ZM1034.7,1063.5l0.9,0.5 4.9,3.1 9.8,7.9 -13.6-13.7A638,638 0 0 0 1034.7,1063.5ZM1037.4,1060.7l9.8,8.7 -8.8-9.8A638,638 0 0 0 1037.4,1060.7ZM1039.6,1058.3l6.6,5.8 4.9,3.3 -1-2.3 -8.1-9.2A638,638 0 0 0 1039.6,1058.3ZM1043.4,1054.4l1.4,1.2 -1-1.6A638,638 0 0 0 1043.4,1054.4ZM1047.4,1050.4l6.6,5.6 -5.8-6.4A638,638 0 0 0 1047.4,1050.4ZM1050.9,1046.9l16.6,15.6 -9.2-10.8 -5.7-6.6A638,638 0 0 0 1050.9,1046.9ZM1054,1043.8l13.1,12.5 -6.3-7.9 -1.5-2.9 0.1-1.5 -2.1-3.4A638,638 0 0 0 1054,1043.8ZM1060,1038l5,4.5 7.1,6 3,1.7 -12.6-14.6A638,638 0 0 0 1060,1038ZM1063,1035.2l3.6,3 -2.8-3.8A638,638 0 0 0 1063,1035.2ZM1064.4,1033.8l5.8,5.2 -4.3-6.1 2,0.7 -1.3-1.8A638,638 0 0 0 1064.4,1033.8ZM1067.5,1030.9l5,4.7 -2.4-4.2 1.3-0.1 0.1-1.4 -1.1-1.6A638,638 0 0 0 1067.5,1030.9ZM1071.3,1027.5l5.9,5.6 -4.9-6.5A638,638 0 0 0 1071.3,1027.5ZM1073.9,1025.2l1.6,1.4 -1.3-1.8A638,638 0 0 0 1073.9,1025.2ZM1075,1024.2l16.7,17.5 -12.6-15.7 -2-3.7A638,638 0 0 0 1075,1024.2ZM1079.8,1019.9l6.7,6.7 -4.1-6.2 -1.1-1.8A638,638 0 0 0 1079.8,1019.9ZM1085.4,1015l2.9,2.8 -2.4-3.2A638,638 0 0 0 1085.4,1015ZM1091.7,1009.8l3.2,3.1 2.6,1.5 -4.2-6A638,638 0 0 0 1091.7,1009.8ZM1094,1007.9l5.5,5.7 -4.4-6.7A638,638 0 0 0 1094,1007.9ZM1095.4,1006.7l7,7.2 -4.8-7.4 -0.6-1.1A638,638 0 0 0 1095.4,1006.7ZM1099.2,1003.6l1.2,1.3 15.9,18.2 -15.6-20.7A638,638 0 0 0 1099.2,1003.6ZM1101.1,1002.1l11.2,12.8 -5.2-8.2 -2.7-5 -0.9-1.5A638,638 0 0 0 1101.1,1002.1ZM1104.5,999.4l3.7,3.8 2.9,2 13.5,15.6 -17.2-23.6 0-0.1A638,638 0 0 0 1104.5,999.4ZM1108.3,996.4l10.4,12 -4-6.9 -1.3-3.3 4.7,4.5 -6-9.2A638,638 0 0 0 1108.3,996.4ZM1112.6,993.1l3.4,3.4 8.6,9.7 -10.2-14.5A638,638 0 0 0 1112.6,993.1ZM1115.8,990.7l19.4,24.6 -5.1-8.6 -12.1-17.7 0,0A638,638 0 0 0 1115.8,990.7ZM1119.6,987.8l2,2.5 7.4,8.3 1-0.4 -8.2-12A638,638 0 0 0 1119.6,987.8ZM1124.6,984.1l0.5,0.6 2.4,1.4 14.4,18.3 -14.9-22A638,638 0 0 0 1124.6,984.1ZM1127.7,981.9l4.1,4.9 -0.4-2.3 3.6,3.4 5.4,5.7 -5.1-8.9 0.6-0.9 8.2,9.9 -10-16 3.5,3.2 7.5,8.9 -8.8-14A638,638 0 0 0 1127.7,981.9ZM1136.8,975.5l5.7,7.1 -4.9-7.7A638,638 0 0 0 1136.8,975.5ZM1139.4,973.7l11.4,15.5 -10.4-16.2A638,638 0 0 0 1139.4,973.7ZM1143.7,970.7l5.8,7.6 -4.8-8.2A638,638 0 0 0 1143.7,970.7ZM1146.3,969l7.4,10.2 -6.5-10.8A638,638 0 0 0 1146.3,969ZM1148,967.9l8.3,11.5 -7.5-12.1A638,638 0 0 0 1148,967.9ZM1155,963.3l6.8,9.7 0.8-0.6 -0.1-2.1 -2.5-5.9 0.5-1 3.3,3.2 4.6,5.5 -7.2-12.7A638,638 0 0 0 1155,963.3ZM1162,958.9l5.5,7.9 -2.2-5.5 6.6,8.7 -6.1-11.8 -0.7-1.3A638,638 0 0 0 1162,958.9ZM1167.3,955.6l6.4,9.6 -3.4-7.5 5.5,7.1 -5.8-10.8A638,638 0 0 0 1167.3,955.6ZM1171.5,953.1l1.8,1.6 7.1,9.9 -7.1-12.6A638,638 0 0 0 1171.5,953.1ZM1175.4,950.7l5.4,8.6 -4.6-9A638,638 0 0 0 1175.4,950.7ZM1177.2,949.7l1.7,2.3 -1.1-2.6A638,638 0 0 0 1177.2,949.7ZM1178.6,948.9l9.2,14.2 -3-7.1 -2.9-7 1.6,0.7 -1.3-2.9A638,638 0 0 0 1178.6,948.9ZM1188,943.5l3.4,5.5 5.4,7.6 -7.2-14A638,638 0 0 0 1188,943.5ZM1190.5,942.1l5.6,9 -1.7-5.1 -2.3-4.8A638,638 0 0 0 1190.5,942.1ZM1195.3,939.5l3.3,5.7 -2.4-6.2A638,638 0 0 0 1195.3,939.5ZM1198,938l0.6,0.6 1.7,1.1 7.6,11.9 -7.2-15A638,638 0 0 0 1198,938ZM1201.4,936.2l2.5,3.6 -1.6-4.1A638,638 0 0 0 1201.4,936.2ZM1205.1,934.3l4.3,7.2 -2.1-6.3 -0.7-1.8A638,638 0 0 0 1205.1,934.3ZM1208.1,932.7l0.8,1.1 6.8,11 -6.2-12.8A638,638 0 0 0 1208.1,932.7ZM1211.8,930.8l2.3,4.2 -1.5-4.6A638,638 0 0 0 1211.8,930.8ZM1213.7,929.9l0.2,0.2 0-0.3A638,638 0 0 0 1213.7,929.9ZM1219,927.2l3.1,5.3 -2.4-5.6A638,638 0 0 0 1219,927.2ZM1221.2,926.1l0.1,0.3 5.7,9.3 -4.2-10.3A638,638 0 0 0 1221.2,926.1ZM1225.2,924.2l7.8,14.6 -4.7-12.1 4.3,6.6 -4.3-10.6A638,638 0 0 0 1225.2,924.2ZM1229.3,922.3l2.1,3.7 -0.3-3.1 -0.3-1.3A638,638 0 0 0 1229.3,922.3ZM1235.7,919.3l1.7,2.4 -0.8-2.8A638,638 0 0 0 1235.7,919.3ZM1239.1,917.8l4,6.6 0.7-0.9 9.9,19.7 -11.1-27A638,638 0 0 0 1239.1,917.8ZM1244.6,915.3l0.2,0.3 -0.1-0.3A638,638 0 0 0 1244.6,915.3ZM1249.1,913.4l2.7,5.4 -1.8-5.8A638,638 0 0 0 1249.1,913.4ZM1250.9,912.6l1.6,2.6 1.5,0.9 -1.3-4.2A638,638 0 0 0 1250.9,912.6ZM1254.2,911.3l0.1,0.2 -0.1-0.3A638,638 0 0 0 1254.2,911.3ZM1256.8,910.2l1.6,3 0-2.6 -0.2-1A638,638 0 0 0 1256.8,910.2ZM1259.4,909.1l4.3,8.9 -1.1-5.2 -1-4.6A638,638 0 0 0 1259.4,909.1ZM1264.5,907l2.8,6.4 -2.3-6.6A638,638 0 0 0 1264.5,907ZM1266.3,906.3l3.1,6.9 0.9-0.6 -2.4-6.9A638,638 0 0 0 1266.3,906.3ZM1272.4,904l0.4,0.9 5.3,11 2.1,2.7 -3.8-12.9 5.7,12.1 1.2,0.5 -5.5-16.4A638,638 0 0 0 1272.4,904ZM1282.7,900.1l2.1,4.5 0.6-1.2 -1-3.9A638,638 0 0 0 1282.7,900.1ZM1285.4,899.2l7.8,19.8 -6.4-20.3A638,638 0 0 0 1285.4,899.2ZM1287.8,898.3l0.5,0.9 0-1.1A638,638 0 0 0 1287.8,898.3ZM1291.8,896.9l0.6,1.6 -0.3-1.7A638,638 0 0 0 1291.8,896.9ZM1294.2,896.1l8.5,22.9 -7.2-23.3A638,638 0 0 0 1294.2,896.1ZM1296.7,895.3l0.4,0.9 -0.2-1A638,638 0 0 0 1296.7,895.3ZM1302.9,893.2l3.6,8.7 -2.2-9.1A638,638 0 0 0 1302.9,893.2ZM1306.3,892.1l3.4,9.5 -0.5-4.8 0.9-0.5 -1.2-5A638,638 0 0 0 1306.3,892.1ZM1310.4,890.8l0.9,2.3 -0.5-2.4A638,638 0 0 0 1310.4,890.8ZM1313,890l1.5,3.2 -0.6-3.5A638,638 0 0 0 1313,890ZM1314.6,889.5l11.4,34.4 -6.1-23.6 -3-11.5A638,638 0 0 0 1314.6,889.5ZM1320.9,887.7l1.7,3.8 2.4,4.6 4.8,12.9 -1.9-10.3 -3-12.2A638,638 0 0 0 1320.9,887.7ZM1326.8,886l3.4,9.9 -0.3-4.9 -1.1-5.6A638,638 0 0 0 1326.8,886ZM1333.7,884.1l4,12.1 1.6,2.2 2.4,4.8 -1.6-9.9 -2.4-10.3A638,638 0 0 0 1333.7,884.1ZM1339.9,882.4l2.6,8.2 4.8,14.5 -5.2-23.2A638,638 0 0 0 1339.9,882.4ZM1344.3,881.3l0.2,0.2 -0.1-0.2A638,638 0 0 0 1344.3,881.3ZM1347,880.6l3.1,10.9 2,3.8 -3.1-15.2A638,638 0 0 0 1347,880.6ZM1351,879.6l1.3,3.7 1.8,3 -0.1-4.7 0.5-2.4 0-0.4A638,638 0 0 0 1351,879.6ZM1356,878.5l3.1,11.4 0.4-2.9 3.3,9.9 -2.9-17.6 0.8-1 0.5-1A638,638 0 0 0 1356,878.5ZM1361.5,877.2l4.4,15.3 -1.6-12.3 -0.4-3.5A638,638 0 0 0 1361.5,877.2ZM1364.9,876.5l3.1,11.1 -1-9.6 2,4.6 -1-6.8A638,638 0 0 0 1364.9,876.5ZM1374.7,874.4l5.2,20.9 -0.9-9.3 -1.7-12.1A638,638 0 0 0 1374.7,874.4ZM1379.7,873.4l0.1,0.2 4.7,19.3 -3.2-19.8A638,638 0 0 0 1379.7,873.4ZM1382.5,872.9l1.7,7.3 2.9,10.2 -2.6-17.9A638,638 0 0 0 1382.5,872.9ZM1390,871.6l2.3,7.6 0.3-3.9 -0.4-4.1A638,638 0 0 0 1390,871.6ZM1396,870.5l0,0.1 0-0.1A638,638 0 0 0 1396,870.5ZM1397.6,870.3l1.1,3.7 0.4-3.6 0-0.4A638,638 0 0 0 1397.6,870.3ZM1400.6,869.8l2,9.1 0-6.3 0.6-2.8 0-0.4A638,638 0 0 0 1400.6,869.8ZM1406.7,868.9l1.8,8.5 0.2-6 3.2,15.3 -0.8-12.8 0-5.7A638,638 0 0 0 1406.7,868.9ZM1411.7,868.1l1.1,3.2 0.9-1.2 0.1-2.2A638,638 0 0 0 1411.7,868.1ZM1415.1,867.7l0.7,2.2 -0.2-2.3A638,638 0 0 0 1415.1,867.7ZM1417.5,867.4l2.2,8.7 0-7.7 0-1.3A638,638 0 0 0 1417.5,867.4ZM1421.1,866.9l1.8,10.7 -0.8-10.8A638,638 0 0 0 1421.1,866.9ZM1424.1,866.5l1.8,10.4 0.9-0.9 0.1-8.6 -0.1-1.2A638,638 0 0 0 1424.1,866.5ZM1429.4,865.9l1.1,6.2 -0.3-6.3A638,638 0 0 0 1429.4,865.9ZM1431.4,865.7l1.3,7.6 -0.2-7.7A638,638 0 0 0 1431.4,865.7ZM1433.1,865.5l2.6,16.9 -0.8-17.1A638,638 0 0 0 1433.1,865.5ZM1441.9,864.6l0.6,3.1 1.9,10.3 -0.7-13.5A638,638 0 0 0 1441.9,864.6ZM1445.2,864.4l0.2,1.3 0-1.4A638,638 0 0 0 1445.2,864.4ZM1448,864.1l1.1,9.4 0.8-2.5 0.7-4.1 1.5,4.9 3.9,39.6 1.2,3.1 0-13 -1.9-37.9A638,638 0 0 0 1448,864.1ZM1458.5,863.3l0.3,2.5 1.6,8.1 0-10.7A638,638 0 0 0 1458.5,863.3ZM1463.4,863.1l1,10.6 0.3-10.7A638,638 0 0 0 1463.4,863.1ZM1465,863l1.5,10.8 1.5,9.6 0.2-15.2 0.3-5.4A638,638 0 0 0 1465,863ZM1472.8,862.6l0.6,6 3.6,64.2 -1.9-70.3A638,638 0 0 0 1472.8,862.6ZM1475.5,862.5l1.2,12.4 0.4-12.5A638,638 0 0 0 1475.5,862.5ZM1477.4,862.4l1.5,17.6 0.1-17.7A638,638 0 0 0 1477.4,862.4ZM1480,862.3l0.5,4.9 1.3,8.1 0.2-13A638,638 0 0 0 1480,862.3ZM1483.1,862.2l0.5,4.1 0.1-4.1A638,638 0 0 0 1483.1,862.2ZM1485.1,862.2l0.6,9.1 0.6-9.2A638,638 0 0 0 1485.1,862.2ZM1493.4,862l0.4,3 0.1-3A638,638 0 0 0 1493.4,862ZM1495.5,862l0.4,11.4 1-5.2 1.1,15 1-14.1 0-7.1A638,638 0 0 0 1495.5,862Z" fill="#a1d99b"/>
<path d="M1500.5,862l0-3 1.1-0.3M1502.9,862l0.8-12 1-0.7M1509.2,862.1l0.9-19.6 0.8,17.1 1.2-8 1,2.3 1,3.4M1516.7,862.2l0.5-5.4 1.4-10.9M1523,862.4l0.7-11.4 1.1-2.6 0.9,6M1527.4,862.6l1.8-16.8 0.6,8.9M1530.9,862.7l1.5-16.6 0.7,5.6 1.2-1.9 1.8-14.3 -0.3,25.5M1538.8,863.2l1.6-9.3 0.7,5.1 1,0.6 1.7-10.2 0.8,3.8 1,1 0.7,5.6 0.9,0.9 2-12 0.2,10.5M1552,864.1l0.2-0.7 1.4-4.3 1.4-4.4 0.8,3.5 0.5,5.9M1558,864.6l1-6.6M1560.4,864.9l2.6-16.1 0.3,7.3M1563.8,865.2l1.7-9.8 0.2,8.1M1566.7,865.5l2.7-16.4 0.7,2.8 4.1-27.5M1570.9,866l1.1-2.8 1.7-5.5 2.3-10.9 -0.7,15.5 3.1-17.4 -0.4,12.5M1578.7,866.9l0.3-0.9 1.3-2 1,0.7M1582.9,867.4l0.2-0.4 2.9-13.9 1.2-1.6 2.7-11.6M1588.4,868.2l4.3-25.4 -0.7,12.7 0.7,2.5M1592.6,868.8l1.7-7.1 0.8,1.7 0.9,0.8 3-12.7M1597.6,869.5l1.5-4.8M1600.1,869.9l1.1-5.2M1601.7,870.2l4.3-21.8M1603.7,870.5l4.1-19.8M1607.4,871.1l0.6-2.7 1.7-3.5M1613.1,872.1l1.6-5.9M1615.6,872.6l0.3-1.2 4.8-20M1618.4,873.1l1.7-7.2 1.7-3.5M1620.9,873.6l2.2-6.6M1623.3,874l1.9-6.8 4.2-15.6 -2.7,18.7M1628.4,875l4.7-20.2 2.7-7.8 -4.1,24.9 1.3-1.4 0.7,1.9 4.4-15.5M1635.5,876.6l2.5-9.1M1637.7,877l1.8-6.9M1639.1,877.4l4.8-17.3 0.1,4.4M1644.4,878.6l5.4-20.1 0.8,0.9 -3.3,18.7M1648.7,879.6l2.1-7.1 0.6,2M1651.2,880.2l2.1-4.9 2.8-6.8 -0.5,6.4 2.5-5.7 -0.4,5.9 1.5-1.6M1658.1,881.9l4.2-12.3 -0.1,4.6 -0.5,6.2 2.1-4 0,4 1,0.6 3.1-7.5 2.4-5.1M1668.1,884.5l2.4-4.6M1670.6,885.2l2.6-7.3 -0.3,4.7M1675.9,886.7l0.8-2.2 7.3-21.5 -4.6,19.8M1679.6,887.8l4.6-14 -0.5,5.5 3.9-9.5 -4.2,17.8 4.8-12.4 0.1,3.3M1687.1,890.1l2.6-5.3M1689.1,890.7l6-16.2 -3.1,13.4 4.5-11 -2.1,10.2 3.4-7.3 1.2-0.3M1696.9,893.1l4.9-11.9 -1.9,9.2 7-17.8 1.4-1 -6.3,22.3 3-5.6 2.8-4.9M1704.7,895.7l8.6-22.1 -0.6,5.1 -1.9,8.9M1710.8,897.8l5-11.7M1712.6,898.5l5.7-13.2 7.5-18.1M1716.6,899.9l6.4-15.2 -0.9,5.5M1719.8,901.1l1.5-2.8 1.5-1 4.2-8.1M1724,902.6l0.4-0.5 1.7-1.7 3.1-5.2 -0.9,5.4M1729.4,904.7l6-14 -3.9,13.1 2.4-3.3 0.9,0.5 2.4-3.2 5.4-10.7 -3.7,12.1 2.4-3.2 1,0.3 -0.2,3.4M1740.7,909.1l6-12.3 -3.2,10.4 0,2.8 1.1,0.2M1746.9,911.7l1.9-3.7M1749.7,912.9l3.9-8.2 3.1-4.4 -3.3,10.2M1753.6,914.6l2-3.8M1797.9,935.8l5.1-7.9M1807.1,940.8l5-7.7 1,0.4M1812.6,943.8l1.8-2 2.8-2.8M1818.6,947.3l3.5-4.2M1823,949.8l0.1-0.2M1824,950.4l11.7-18 -9.4,17.9M1830.3,954.1l6.3-8.9 1.9-1.1 -3.6,8.1M1842.2,961.5l2.1-2.8M1848.4,965.5l0.7-0.8M1850.1,966.6l1.7-2.3M1855.9,970.5l2-2.2M1857.5,971.6l7.1-9.5M1863.7,975.8l4.5-5.9 -2.9,5.8 3.3-2.8 10.2-12.8 -7.8,13.1M1868.9,979.5l0.9-1.1M1870.5,980.6l3.1-3.9 -0.4,2.3 4-3.7M1875.6,984.2l1.2-1.3M1887.9,993.4l8.6-10.7 -7,10.8M1904.9,1006.9l3-3.1 0.1,1.5M1913.8,1014.4l0.3-0.3M1922.8,1022.2l7.7-7.8M1924.4,1023.7l7.1-7.3 0.4,1.1M1927.5,1026.4l5.7-5.6M1929,1027.8l2.4-1.9 3.5-2.3M1932.7,1031.2l6.5-6M1939,1037.1l3.8-3.5M1940.5,1038.5l3.1-2.8M1946.1,1043.9l13.6-12.8 3.2-1.6M1952.2,1049.9l6.9-6.1 0.9,0.6 3.4-1.9 6.8-5.2M1958.4,1056.2l8-6.3M1967.9,1066.3l7.2-5.9M1969.5,1068l0.9-0.5M1975.8,1074.9l5.4-4.5 16.3-13 -7.5,8M1981.5,1081.5l12.4-9.7M1987.4,1088.4l0.7-0.5M1989.2,1090.5l4.1-2.9M1991.2,1092.9l5.3-3.9M1994.6,1097l2.7-1.9M1996.3,1099.1l7.6-5.3 2.8-1M1998.5,1101.8l3.4-2.4M2004.1,1108.9l9.6-6.8M2009.6,1116.1l4.8-2.7 6.1-3.2 -3.9,4.2M2013.5,1121.4l8.1-5.6M2015.7,1124.4l5.7-3.2 9-5.2 -6.7,6.1M2018.5,1128.3l1.8-1.1M2020.1,1130.5l7.7-4.8M2021.6,1132.7l7.6-4.2M2022.9,1134.4l7.1-3.9 -1.9,2.6M2026.1,1139l1.1-0.3 9.9-5.4M2028,1141.9l0.1,0M2029.1,1143.4l7.3-4.6 2-0.1M2032.8,1149l6.3-3.2M2035.2,1152.8l8.7-5.1M2041.5,1162.6l3-1.7 6.9-3 2,0M2043.4,1165.7l19-10.9M2044.3,1167.2l16.3-8.8 -12.6,8.9M2058.1,1190.8l7.6-3.6M2059.4,1193.3l9.7-4.4M2061.2,1196.5l4.8-2.3M2062.6,1199l9.5-4.5 1.9,0.2 -10.1,6.5M2064.7,1203.1l0.2-0.1M2065.4,1204.5l9.6-4.4M2067.9,1209.3l4.4-2M2068.8,1210.9l5.1-2M2074.5,1222.4l1.2-0.5M2075.8,1225.3l0.5-0.2M2085.1,1245.6l2.1-0.4M2087.1,1250.3l12-4.6M2088,1252.5l1.5-0.4M2090.2,1257.8l9.3-3.1M2093,1264.6l14.6-5.2M2096.1,1272.6l1.7-0.4 6.5-1.3M2097.8,1277.1l10-3.1M2099.1,1280.5l1.6-0.5 3.6-0.2M2101.9,1288.3l0.3-0.1 16.5-4.6M2104.5,1295.9l3.4-0.8M2108.1,1307l0.3-0.1 2.4,0.3M2109.2,1310.4l1.3,0.2M2110.2,1313.8l2-0.5M2111,1316.5l6.9-1.7M2113.3,1324.1l6.7-1.2M2114.5,1328.3l10.8-2.5 -4.6,2.4M2116.7,1336.6l0.7,0 21.5-4.6M2121.3,1355.1l2.1,0.3M2122.7,1361.2l0.8,0.6M2124.7,1370.2l9.8-1.2M2126,1376.7l4-0.4M2127.4,1384l2.1-0.2M2130.3,1401.3l0.5,0.1M2131.7,1410.5l4-0.3M2138,1499.9l7,0.5M2137.3,1529.5l19.8,1.8M2137.2,1531.7l8.8,1.2M2136.8,1539.7l13.3,1.8M2136.6,1542.3l3.2,0.7M2136.4,1545.6l2.8,0.5M2136.2,1547.6l14,1.4M2133.4,1576.7l0.2,0.1M2133.2,1578.2l19.4,3 -14.3-0.7 2.9,1.4M2132.6,1582.7l3.7,0.7 -2.3,0.7M2132.2,1585.7l1.1,0.4 9.7,2.4 10.4,2.5M2131.7,1589.5l11,2.1 37.1,6.5 -0.5,1 -7,0.1 -23.8-2.4 11.5,2.8 -12.4-0.8 -16.5-1.5 29,5.6 -14.7-1.3 -5.8,0.2 11,2.8M2129.5,1603.8l3.5,1.1 14.5,3.5 5.7,2.1 -19.7-2.3 19.7,4.5 8.1,2.5 -30.8-4.3 5.1,1.9 2.6,1.5 -0.9,0.9M2127.3,1616.4l2.5,0.7M2126.9,1618.5l0.3,0.2 15.1,3.9 13.4,3.7 6.7,2.4 -32.5-5.3M2125.8,1624l12.1,3.1 7,2.5M2124.2,1631.9l16.1,4.4 -2.8,0.4M2123.2,1636.7l2.5,0.7M2122.9,1637.9l20.3,5.5 -7-0.4 -11.6-1.6M2121.8,1642.9l0.6,0.1 7.5,2.8M2121.2,1645.3l17.7,4.8 -17.6-3.1M2120.2,1649.6l15.7,4.2M2119.8,1651.4l9.5,2.9M2119.3,1653.4l15.4,4.4 10,3.6M2118.2,1657.7l6.8,2M2117.6,1659.9l0.1,0.1M2116.7,1663.5l10.6,3.3M2115.9,1666.4l14.6,4.6 -12.8-2.4M2113.1,1676.5l18.3,5.8 -3.1,0.2 -7.6-1.2 -4.5-0.2 2.7,1.9 0,1.1 2.3,1.8 -1.6,0.6 -2.6,0.3 3.4,2.1 -7.7-1.2 -1,0.8 7.3,3.3 -3.7,0M2108.7,1691l12,4.6 -0.9,0.9M2107.8,1694.1l4.4,2.1 2.9,2.1 -7.5-1.4 8.6,3.9M2105.1,1702.3l6.4,2.5 25.6,9.7M2104,1705.6l11.4,4.9M2103,1708.4l1.4,0.6 10.8,4.8M2102,1711.4l0.8,0.3M2100.2,1716.5l8.9,4.1 -2.8,0.1 4.4,2.7M2097.8,1722.9l3.2,1.4 9.9,4.8 13.2,6.1 -1,0.8M2096,1727.6l3.7,1.8 20.2,8.8M2095,1730.2l10.1,4.6M2094.1,1732.6l1.6,0.8 7.6,4.1 9.5,4.9 -12.1-3.7M2091.5,1739.1l9.5,4.3 -5.2-1 -3.9-0.5M2090,1742.8l12.1,5.6 16.7,8 -21.9-7.9 5.3,3.4 -6-1.4 -4.8-0.9M2087.1,1749.8l1.9,1M2085.9,1752.4l9.8,4.7M2083.4,1758.2l5.1,2.6 0.3,1.3 0.3,1.3 2.9,2.4M2081.4,1762.7l6.6,3.6M2078.7,1768.6l4,2.2 1.2,1.7M2076.8,1772.6l0.5,0.2M2076,1774.4l0.5,0.3 1.6,2 0.8,1.5 -3.7-0.6M2071.8,1783l11.7,6.8 -3.3-0.5M2068.2,1790.1l3.2,1.8M2067.7,1791.2l15.3,9M2066.6,1793.3l8.9,5.4M2064.7,1796.9l7.3,4.7 -5.7-1.8M2063.3,1799.6l4.2,3.2M2061.1,1803.7l3.9,2.5M2050.2,1823l4.7,3.8 -1,0.6 -3.9-1.1 3.6,3.4 3.7,3.4M2046.3,1829.6l9.5,6.3 4,3.6 -8.6-4M2044.1,1833.2l6.2,4.3 -5-1.9 4.5,4 -4.8-1.8M2041.6,1837.2l13.4,9.3 -11.8-6.1 4.8,4.2M2038.9,1841.5l17,11.9 -11.2-5.9 2.1,2.6 3.2,3.3 4.6,4.2 -14.1-7.8M2034.8,1847.9l7.7,5.7M2033.1,1850.5l12.5,8.9M2031.2,1853.3l2,1.6M2029.4,1856l1.4,1.1M2027.2,1859.3l5,3.8M2025.3,1862l2.9,2.2 -2.6-0.6M2022.5,1866.1l4.7,3.7 0.4,1.6M2019.5,1870.4l1.2,1.2M2017.9,1872.6l4.6,4 4.4,4.6M2008.7,1885.1l8.9,7.5 -9.2-5.7 18.7,15.6 -20.2-14.1 28.7,23.4 -29.4-21.4M2002.3,1893.3l2.1,2.3 0.2,1.5M2000.2,1896l0.8,1 4.5,4.8 12.4,11.3 -14.1-10M1997,1900.1l5.3,4.5 -4.9-2.6M1993.7,1904.2l2.7,2.3 8.3,8.2 -3.2-1.2M1989.5,1909.2l26.7,23.4 -27.7-21.8 3.8,4.5 -1.9-0.2M1985.2,1914.2l4,4M1983.9,1915.8l2.1,2.4 2.4,3.5 -1.8-0.3 -1.8-0.1 -2.3-0.7M1979,1921.5l2.3,2.2 6.4,7.1 -8.3-6 -2.5-0.8 1.8,3M1972.7,1928.5l0.9,0.9 11.7,12 -11.7-9.2 12.5,12.8 -12.6-10.1 -2.5-0.9M1967,1934.7l4,5M1965.6,1936.2l18.2,18.4M1957.3,1944.9l0.9,1.3M1955.8,1946.4l5.7,5.9M1952.3,1950l7,7.5 1.3,2.9 -9.8-8.4M1947.2,1955.1l6.1,6.9 3.2,4.7M1945.1,1957.1l3.2,4.1 -3.2-1.8M1939.9,1962.1l12.8,14.4 -11.6-10.7 4.7,6.5 3.1,4.8M1935.7,1966l0.1,0.3 -0.1,1.3 9.2,11.5 -4.3-3.1 -4.5-3.3 5.3,7.3 -9.6-8.9 2.3,4 17.5,20.8 -22.7-23.4 0,1.5 6,8.2 2.7,4.6 -3.1-1.8 3,4.9 -7.2-6.5 -2.2-1 -1.6-0.2M1919.7,1980.5l1.4,1.9M1917.7,1982.3l12.2,15 -5.8-5 -5.9-5.3 6.7,9.4 2,4M1913.1,1986.2l7,9.5M1910.6,1988.3l7.4,9.8M1908.3,1990.2l8.3,11.2 -4.2-3.5M1905.7,1992.4l5,6.8 -0.3,1.3 5.2,8M1902.4,1995.1l2,3M1901.1,1996.1l3.8,5.9M1898.2,1998.5l0.1,0.3 2.3,4.6M1896.5,1999.9l11.3,15.9M1894.4,2001.5l0.4,1.2 2.4,4.8M1883.5,2009.9l0.2,0.4M1881.4,2011.5l4.1,6.5 3.9,6.9M1878.8,2013.4l2.1,3.6 -0.1,1.6M1876.4,2015.1l3.5,5.8 3.3,6.3 2.5,5.3 5.9,10.1 -18.3-23.7 3.5,6.7M1870.4,2019.5l6.6,10 -7.7-9M1867.2,2021.8l1.5,3.1M1865.2,2023.2l6.1,9.1M1861.5,2025.7l1.9,4.4 3.2,6.5 7.8,13.4 -4.8-5.1 -8.3-10.4 -0.3,1.3 1.3,4M1854.1,2030.7l1.8,3.2 -1.4-0.3 -1.7-0.5 1.8,4.5M1849.8,2033.5l1.2,2.4 2.5,5.8M1845,2036.7l8.7,14.9 -1.7-0.7 -9.2-12.4 1.9,4.9M1840.4,2039.6l3.8,6.9 -4-4.3M1837.7,2041.3l2.1,4.1M1836.2,2042.2l4.7,8.9 2,5.3 0.6,3M1829.9,2046.1l6.2,11.3M1824.3,2049.4l0.5,1.3M1822,2050.8l4,8.2M1820.5,2051.6l6.1,12.6 -6.3-8.8M1817.5,2053.4l6.3,12.2M1815.1,2054.7l13,25.1 -12.2-19.5M1807.5,2059l3.2,7 -2.8-3 -0.7,1 7.5,15.9M1803,2061.5l2.6,6.1 1.8,5.4 -4.4-5.8M1799.6,2063.3l3.6,8.6 1.2,4.6M1796.8,2064.8l8.5,17.9 -4.5-6.3 3.4,8.7 -4.2-5.7 -3.2-3.9M1791.5,2067.5l0.5,3.3 0.1,2.4M1788.3,2069.1l4.7,10.6M1785.8,2070.4l0.8,3.5M1782.9,2071.9l5.7,13.1 -3.2-4.1M1776.4,2075l0.9,3.6M1771.3,2077.5l1,2.7M1768.2,2078.9l2.6,7.9M1765.3,2080.2l3.3,9.4 -0.3,1.9M1761.7,2081.9l5.7,15.2 -1.7-1.2M1758.9,2083.1l4.8,13.6M1755,2084.8l6.5,17.4M1750.7,2086.7l1.7,5M1746.5,2088.5l3.6,11.2M1742,2090.3l1.3,3.9 1.8,7.1M1731.6,2094.5l4.9,13.8 -4.4-8.3M1722.6,2097.9l1.3,3.9 1.3,6.6 5.2,17 -6.8-15.3 0.5,4.5 0,2.9 -5.3-11.4M1714.2,2101l1.4,5.5M1712.5,2101.6l1.9,7.7 -0.2,2.6 -3.1-5.6 0.3,3.8 -2.3-3.4 -0.7,1.3M1705.2,2104.1l0.2,1.4M1702,2105.2l0.1,0.3 2.9,12M1696.3,2107.1l0.8,3.2M1693.3,2108l0.5,2.1 1,6.8 3,13M1685.7,2110.4l2,8.2 0,3.6 -1.3-0.7M1679.9,2112.1l1.3,6.8M1677,2113l0.4,3.8M1674.1,2113.8l2.8,12.7M1670.2,2114.9l4.4,19.1M1657.6,2118.2l1.6,7.5 1.7,11M1652.2,2119.6l4.3,21.4M1649.2,2120.3l0.6,6.4 -1,0.5M1645.9,2121.1l-0.3,1.2 3.3,19.1 -4.2-13.5 -1.7-2.9M1638.4,2122.8l0,0.8 0.3,6 1.5,12M1635.2,2123.5l2.9,18.5 -2-4.5M1629.7,2124.7l3.6,20M1627.1,2125.2l1.1,10.4 -0.2,4.6 -1.2-0.5 -1.9-4.4M1621.2,2126.4l0.4,2.9 1.8,14.8 -1.3-1 -0.8,1.6M1611.4,2128.2l0.6,6.8 -0.2,4.4 -1.1-0.1 0.7,10.5M1606.2,2129.1l1.5,11.6 -0.2,5M1603,2129.6l0.7,6.2 -1.3-1.7M1600.1,2130.1l1.1,10 -1.2-0.7 0.3,8.8 -3.6-16.7 0.9,12.9M1593.9,2131l1.5,12.8M1592.4,2131.3l2.4,23.4 -1.9-5.7M1589.1,2131.7l1.4,15.3 -2.6-10.9M1584.5,2132.4l0.2,2.8M1578,2133.2l1.3,17.9 -2.6-12.2M1573.9,2133.7l1.3,19.2 -1.3-2.1 -2.6-13.3 -0.9,0.7M1565.3,2134.6l0.8,13.1 -0.8,2.6M1560.9,2135.1l0,2.6 -1-0.2M1558.1,2135.3l0.4,10.1 -0.7,4.1 -1.9-8.9M1553.2,2135.8l-0.3,6.1M1550.6,2136l0.2,6 -0.8,2.8M1548.2,2136.2l0.3,16.2M1542.6,2136.6l0.4,13.5 -0.8,4.7 -0.3,11 -1.4-4.8 -2.3-20.4 -0.3,13.4 -0.5,8.5 -2.3-21.9 -1.2-2.7M1532.4,2137.2l-0.3,6.2 -0.5,10.9 -0.9,3.7M1528.7,2137.4l-0.7,7.3 -1.2-3.2M1520.6,2137.7l-0.1,2.2 -0.8,7 -1.3-7.4 -0.8,7.8 -1.2-6.4 -0.9,7.4M1512.6,2137.9l-0.1,18 -1.2-5.2 -0.8,15.2M1503.3,2138l-0.4,11.7M1501.1,2138l-0.3,3.6M1498.7,2138l0,0.6M1495.9,2138l-0.4,8.8M1491.9,2137.9l-0.6,14.3M1486.7,2137.9l-0.4,1.7M1475.3,2137.5l-0.9,12.4M1461.9,2136.9l-0.6,3.4 -0.9-2.9M1444.1,2135.6l-0.5,4.7M1442.6,2135.4l-1.4,8.1M1435.8,2134.8l-0.1,0.5M1426.7,2133.8l-0.9,6.1M1422.3,2133.3l-2.4,11.3M1418.4,2132.8l-0.5,3.1M1415.9,2132.4l-2,9.3 -1.6,4.5 -0.3-5.9M1411.9,2131.9l-2.8,14.3M1409.3,2131.5l-1,5.4 -0.6-3 -3.2,14.6 1-14.4 -0.7-2M1402.6,2130.5l-2.2,9.3 -1,0 -0.5-3.9 -1.6,3.3 -0.7-2.2M1396.7,2129.6l-3.5,15.2 1.4-14.4 -2.5,8.6M1389.6,2128.4l-4.3,18.4 -2.2,6.5M1385.9,2127.7l-1.1,4.3 -4.2,17.1M1381.1,2126.8l-5.5,25.6 3.1-21.8 -0.9-1M1371.4,2124.9l-0.2,0.7 -0.9-0.7M1369,2124.4l-2,6.3M1366.1,2123.8l-3.8,13.5M1363.9,2123.3l-1.6,4.1 -1.8,3.4 0-4.8 -1.5,2.1M1356.1,2121.6l-8.1,30.7 4.1-22.2M1344.9,2118.9l-6.1,21M1343.1,2118.4l-7,23.4 4.4-21.4M1331.4,2115.3l-3.2,10.7M1322.2,2112.7l-0.2,0.8 -5.5,15.1M1308.4,2108.6l-0.4,0.9 -5.1,12.6M1305.6,2107.7l-1.2,2.9M1299.8,2105.8l-1.5,3.3M1297.6,2105l-0.4,1.1M1295.7,2104.4l-1,2.5M1294.3,2103.9l-7.7,20.2 1.7-8M1290.9,2102.8l-0.9,1.7M1288.2,2101.8l-3.5,8.4M1284.3,2100.4l-3.8,9.1M1279.4,2098.6l-1.4,2.5M1277.1,2097.8l-0.2,0.2M1274.3,2096.7l-1.1,2.6M1272.4,2096l-1.7,3.9M1270.5,2095.3l-0.6,0.9M1268.4,2094.5l-0.2,0.4M1265.8,2093.4l-2.4,5.1M1259.6,2091l-3.1,5.1M1256,2089.5l-2.1,4.8 0.8-4.7M1253.3,2088.4l-1.7,3.1M1251,2087.4l-4.6,8.4 2.6-8.7 -3.4,5.3M1246.2,2085.3l-5,9.4 2-7.2M1243.1,2084l-1.7,2.4 -3.6,5.6 -9.1,17.9 5.5-14.9M1238.3,2081.9l-4.8,9.4M1235.2,2080.5l-3.4,6.9 -7.6,14.1 8.6-21.3 -4,6.3M1231.2,2078.6l-8.2,15.4 4.9-13 -0.7-1M1227.5,2076.9l-6.7,11.7 3.6-9.9M1223.6,2075l-7.8,14.3 4.6-11.9 -5,7.9 0.3-3.2 -3.4,4.8 -0.3-1.8 5.1-12.7 -5.7,9M1215,2070.8l-3.3,5.3 -5.9,9.4 0.5-3.2M1210.9,2068.7l-0.6,1 -2.4,2.5 -6.8,10.8 5-12 -7.5,12.3 4.2-10.4 -6.6,10.5M1204.3,2065.3l-7.5,12.4M1202.1,2064.2l-12.1,21.8M1200,2063.1l-1.2,1.7 -4.8,6.9 3.8-9.4M1196.8,2061.4l-13.3,23 4.1-9.9 3.8-9.1 -3.5,4.2 0.3-2.7 2.3-6.4 -1.2,0.1 -3,3.2 -2,1.5 1.8-5.4 -6.3,9.1 -2.6,2.5 1.9-5.5 0.6-3.3 -4.2,5.3M1177,2050.2l-2.7,3 -19.5,31 11.8-22 2.9-6.9 -0.5-1.3 0.3-2.4 -6.1,8 0.9-3.5 0.3-2.5 1.8-5 -9.1,12.8M1166.2,2043.7l-4.8,6.8 -11.5,16.6 5.3-10.6M1162.6,2041.5l-5,7 -11.4,16.3 4.6-9.4 8.3-15 -11.6,16.3M1157.1,2038l-1.4,1.8M1156,2037.3l-11,15.4 3.2-6.9M1152.9,2035.3l-5.4,7.6 -4.3,4.8 -2,1.1M1149.6,2033.2l-9,12.7 2.3-5.4M1146.8,2031.3l-2.3,2.9 -2.8,2.4 -4,4.1 4.1-8 -5.6,6.4 3.6-7.2 -3.2,2.8 -9.4,12 -2.4,1.6M1137.5,2025l-5.9,7.8 2.3-5.1 0.2-2.1 -3,2.3 0.1-1.8 -9.6,11.7M1131.9,2021.1l-11.7,15 6-10.3 3.3-6.4 -2.5,1.7 -3.4,3M1126,2016.9l-10.5,13 -4.2,4 4.2-7.6 2.1-4.6M1120.8,2013.1l-6.3,7.5 -3.9,3.5 2.4-5 2.7-5.4M1115.8,2009.4l-8.1,9.8 5.5-9.1 -9.9,11.3 8.4-12.7 -9,10.1 4.5-7.7 1.4-3.4 0.8-2.8 -11.4,13M1106.4,2002.1l-0.3,0.3M1104.1,2000.3l-4,4.6M1100.8,1997.7l-1.8,1.9M1097.9,1995.4l-10.6,12.1 5.5-8.4 -11.6,12.4 0.5-2.3 0.8-2.6 7.6-10.8 -14.8,16.1 8.6-11.9 -4.3,3.4 10.6-14.3M1089.2,1988.2l-3.5,3.1M1087.8,1987l-11,11.5 -3.7,2.7 1.5-3.4 4.6-7 0.2-1.8 -2.5,1.3M1082.2,1982.1l-17.5,19 1.7-3.5 8.2-11.1 -5.6,4.8 -1.2-0.2 9.1-11.9 -0.4-1.2 -19.5,20.5 6.3-8.7 2.8-4.8 3.2-5.1M1072.8,1973.8l-12.6,13.1 4.8-6.9 2.1-3.9 -7.7,6.9 -11,10.5 -1.4-0.1 10.9-13.5M1063.7,1965.5l-6.3,5.7 -10.6,9.7 6.9-8.8M1060.7,1962.6l-11,10.6M1058.9,1960.9l-2.7,2.5 -4.2,2.9M1056.1,1958.3l-12.2,11.8 3.8-5.5 -1.5,0.1 4.7-6.3 -9.9,8.6 -2.8,1.3 2-3.6M1049.3,1951.5l-3.2,2.8 -22.3,20.8 -3.6,2.1 -2.2,0.6 20.9-22.2 -8.7,7.1 1.8-3.3 -6.2,4.6 16.2-17.3 -7.8,6.1 2.2-3.5M1041,1943.1l-20.9,19 7.9-9.1 -5.1,3.4 0.1-1.6 -2.1,0.5 11.4-12.2M1035.8,1937.6l-5,4M1034.4,1936.2l-5.7,4.5 0.8-2.2M1030.6,1932.1l-4.3,3.7 -2,0.5 -2.6,0.8M1028.2,1929.5l-8.3,6.5M1026.9,1928l-8.3,6.3 -2.1,0.5 2.5-3.7M1023.2,1923.9l-5.8,4.4 -3.4,1.7 2.7-3.8M1019.2,1919.4l-2.3,1.1 -6,3.8 -8.2,5.7 3.6-4.5 0.9-2.2M1014.7,1914.2l0,0M1013.9,1913.2l-7.9,5.6M1012.7,1911.8l-13,9.6 5.3-5.9 4.6-5.1 -6.1,3.7 0.4-1.7 -8.3,5.5M1006.4,1904.3l-10.2,7.6 0.6-1.8M1004.7,1902.1l-9.5,6.6 4.3-4.9 -10.5,7.2M1001.7,1898.5l-4.3,3M1000.6,1897l-16.1,12.1M999.1,1895.2l-3,2.1 -1.2-0.4M997.3,1892.9l-0.8,0.1 -4.8,2.4 -11.6,7.7M995,1889.9l-20.7,15 9.3-8.5M992,1886l-4.5,2.1M990.6,1884.1l-16.5,11.5M989.3,1882.4l-9.4,6.1 -9.2,5.6M987.5,1880l-8,5M986.3,1878.4l-6.7,3.9M984.9,1876.5l-7.1,4.5M983.2,1874.2l-5,2.6 -0.3-1.1 -9.7,5.7M980.7,1870.6l-10.6,6.9M979.4,1868.8l-6.9,4.4M977.9,1866.7l-17.1,10.9M976.5,1864.7l-10.4,6.6 -1-0.6M974.7,1862.1l-4.9,2.7 0.8-1.7 -14.7,8.8 5.4-5.1 9.1-7.4 0.3-1.5 -4,1.5M968.1,1852.3l-0.5,0.3 -13.9,7.9 7.5-6.2 2.8-3.1M965.5,1848.3l-4,2.1 -3.1,0.8 0.7-1.8 -14.8,8.3 3.1-3.2 -6.8,3 4-3.8M961.2,1841.7l-16.5,9.4M959.9,1839.6l-7.5,4.2 6.2-5.1M957.4,1835.6l-36.3,21.3 21.4-14.4 8.6-6.5 -2.3,0.2 0.5-1.6 -11.5,5.7 10.4-7.4 -11,5.3M952.6,1827.7l-7.5,3.3 -2.9,0.6 4.3-3.8 4-3.6 -7.7,3.4 -6.1,2.3 -11.6,5.5 15.6-10.3 -18.4,9.5 -4.3,1.2 9.8-6.9 6.2-4.8M944.1,1813.1l-2.9,0.9M941.4,1808.2l-1.6,0.6M936.3,1798.8l-7.6,3M934.5,1795.4l-1.4,0.6 -18.5,8.4 -8.1,3.1 25-14.2 -5,1.4 5.2-3.8 -5,1.4 4-3.3 -14,6 11.1-6.8M929.7,1786.1l-6.7,2.2 -8.2,2.9M926.8,1780.2l-6.8,2.6 -2.5,0 3.9-3 -5.1,1.3 2.2-2.3 -3.6,0.6 -6.5,2M923.3,1772.8l-15.5,6.5 4-3.1M920.9,1767.8l-5.2,2 -17.3,6.8M919,1763.7l-37.2,15.7M918,1761.3l-6.7,2.4M917,1759.1l-1.3,0.4M916.5,1757.9l-16.2,6.1M915.1,1754.8l-5.8,1.8 1.3-1.7M914,1752.3l-8.1,2.4M913.1,1750.2l-10,3.4 6-3.7 -11.7,3.8M911.2,1745.6l-16.8,5.9 7.1-4.1M909.2,1740.7l-26.4,9.8M907.2,1736l-10.6,3.2 5.7-3.4M905.8,1732.4l-2.4,0.8M905.1,1730.6l-5.7,1.9M903.9,1727.5l-1.5,0.5 0-1.1 -9.1,2.3 3.9-2.6 -11.1,3.1 5.2-3.1 -8.5,2 -3.1,0M900,1716.8l-0.8,0.2 0.2-1.1M899.1,1714.3l-4.2,1M898,1711.3l-4.3,1.1M897.5,1709.8l-8.2,1.9 1.6-1.7M895.9,1705.1l-0.9,0.2 -3.9,0.2M894.8,1702l-12.3,3.1 3.6-2.3M893.7,1698.6l-9.2,2.5M893,1696.4l-3.8,1M891.7,1692.4l-3.4,0.9M888.1,1680.5l-3.3,0.9M884.5,1667.8l-8.5,2M883.9,1665.7l-3.6,0.7M883.4,1663.8l-2.7,0.4M875.9,1632.4l-3.1,0.6 -5.2,0 4.6-2M873.8,1622.2l-1.1,0.2M870.7,1605.1l-2,0.1M870.4,1603.1l-4.7,0.5M870.1,1601.1l-15.3,2.1 12-3M869.5,1597.8l-2.2,0.3 -21.9,2.3M869.2,1595.5l-19.9,2.1M868.9,1593.4l-16.7,1.6 -1.5-0.8 9.8-2.5M868.1,1587.8l-8.3,0.8 -4.1-0.5 10.2-2.4 -23.9,2.1 12-2.6M867.2,1581.7l-3.2,0.1 -4.1-0.6M866.9,1579.1l-25.5,2.3 -6.1-0.3 19.4-3.5M866.3,1574l-7.8,0 -0.9-0.9M865.8,1569.8l-10.4,0.3 4.2-1.5M865.3,1564.5l-19,1.3 14.8-2.6 -21,1 9.1-1.9 -0.8-1 8.5-1.8 -2.3-0.9 -18.9,0.6 26.6-3.4 -12.7,0.1 4.4-1.5 -6.7-0.5M864.1,1551.2l-5.3-0.3 -8.5-0.4 -16.1,0.2M863.7,1547l-14.1,0.4 7.9-1.6 2.5-1.3 -7.7-0.5 8.9-1.6 -13.3-0.2 3.6-1.3 -25.5,0.5 31.5-3 -21.8,0.3 5.8-1.4M862.9,1534.1l-1.5,0M862.8,1532.2l-4.3-0.1 -14.5-0.3 5.2-1.3 3.9-1.3 8.8-1.4 -20.2-0.2M862.5,1525.2l-10.7-0.1 -23.6-0.2 3.8-1.2 9.2-1.4 0.4-1.1 -18.5-0.5 -10.1-0.8 14.7-1.5 -13.9-0.7 25-1.8 0.6-1 3.8-1.2 -19.9-0.7 5.2-1.2 14.2-1.3 2.4-1.1 14-1.2M862,1506.7l-14.6-0.5 -22.5-0.9 25.1-1.2 11.9-1.1 -25.6-1 -0.7-1.1 3.1-1 19.6-1.1 -19.9-1.1 -0.9-1.1 -1-1 7.6-1 14-1 -16.5-1.2 15.9-0.9 -3.9-1.1 2.5-1 2.8-1 -1.7-1 -24.9-1.6 20.2-0.6 -4.4-1.2 5.4-0.9 -8.7-1.3 -16-1.5 2.3-1 5.8-0.9 4.5-1 -0.9-1.1 4-0.9 0.5-1M862.6,1472.7l-16.9-1.5 15.7-0.3M862.8,1468.6l-1.2-0.8M863.3,1459.6l-0.1,0 -2.2-1.2M863.5,1455.6l-1.4-0.3 -24.3-2.7 25.7,0.8M863.8,1451.6l-7.8-0.9M864,1450.1l-4.9-1.2M865,1438.7l-7.1-1.5 7-0.3M865.5,1433.2l-14.2-1.9M866,1428.8l-1.1-0.3M866.6,1423.7l-3.8-0.6M868.3,1410.8l-8.9-1.9M868.6,1408.4l-5-1M869.1,1405.1l-0.5-0.1M869.4,1403l-6.1-1.9M871.1,1392.9l-0.9-0.2 0.8-0.9M871.8,1388.5l-22.9-4.9 19.5,2.5M872.4,1385.2l-5.7-1.6 3.3-0.4 -5.8-2.2 0.1-1 7.8,0.4 -17.8-4.5M874.4,1374.8l-7.1-1.7M874.7,1373.2l-13.6-3.5 10.3,1M875.4,1369.7l-7.6-1.8M876.9,1362.9l-4.6-1.5 1.5-0.8 -5.4-2.3 -0.1-1.1 -5.5-2.3 4-0.2 0.6-0.9M879.7,1350.7l-8.5-2.5 2.8-0.4 4.6,0.1M880.7,1346.7l-12-3.4 1.7-0.7 8,0.9 0-1 -13.8-4.6 17.3,3.3M882.7,1338.7l-0.8-0.7M883.3,1336.5l-2.3-0.9 -31.3-9.4M885,1330.2l-3.6-2M887,1323.1l-11.4-4.2M888.3,1318.7l-11-3.7M889.4,1315.1l-11.3-4.2M890.8,1310.5l-2.5-0.8 -5.3-2.8M891.9,1306.9l-9.8-3.6 4.9,0.5 2.3-0.4M893.6,1301.8l-6.9-2.5 -4.9-2.7M895.7,1295.4l-1-1.1M897.5,1290l-5.3-2.1 2.5-0.2 1.9-0.4 -4.9-2.9 -8-3.9 -0.4-1.3 2.6-0.2 6,1M901.1,1280.2l-0.8-0.4 -17.3-7.5 12,3.3 -1.7-1.7 -2-1.9M903.5,1273.7l-11.3-4.7 11.1,3M905,1269.7l-3.4-1.6M906.3,1266.3l-13.9-6.3M908.7,1260.4l-9.7-4.6M909.6,1258.2l-5-2.4 -11.6-5.9 10.5,3.2 7.3,1.9 0.4-0.9M912.5,1251.3l-0.5-0.3 -6.8-4 -3.8-2.8 3.2,0.2M914.9,1245.6l-2.5-1.2 2.1-0.2M916.8,1241.4l-16.1-7.9M917.6,1239.4l-22.7-10.8M920.7,1232.6l-6.7-3.5 -1.5-1.8M921.7,1230.4l-9.5-5.5M922.7,1228.3l-10.9-6M924.2,1225.3l-8.7-4.7M927.4,1218.5l-3.7-2.1M928,1217.3l-18.4-10.2 6.5,2.1 8.5,3 -0.1-1.2M930.7,1212.1l-4.8-2.8M932.9,1207.6l-7.8-4.5 -9.2-6M934.4,1204.7l-4-2.4M935.2,1203.2l-4.8-3.2 -1.2-1.9 -8.8-5.8 7.6,2.8M938.5,1197.2l-11.2-7.2 0.2-1.1 10.8,4.6 -1.8-2.1 2.1,0M942.2,1190.3l-8.9-5.5M943.5,1187.9l-11.9-7.6M945,1185.3l-20.2-12.5 6.8,2.6 9.6,4.3M947.9,1180.3l-2.5-1.8 -0.6-1.5M951.2,1174.7l-0.4-0.3M952.1,1173.2l-2.7-2M952.9,1171.7l-2.2-2.1 -9.5-7 11.3,5.6M956.1,1166.5l-50.7-32.1 38.8,22.6 10,5M958.2,1163.2l-10.5-7.7M960.4,1159.6l-4.3-3.8 1.7-0.2 -9.6-7.3 5.8,2.4M963.4,1154.9l-2-1.9M965.7,1151.4l-6.1-4.5 -1.6-2.3 8,3.9 -11-8.5 5.7,2.5M968.9,1146.4l-8.9-6.8 3.8,1.3 -3.9-3.9 0.2-1.2 -12-9.4 19.1,11.7 -7-6.1M974.4,1138.3l-2-1.7M975.5,1136.7l-3.7-3.1M977.8,1133.4l-1.4-1.6 -18-14 18.4,11.8M980.3,1130l-2.3-2.2 -1.4-2.3 -1.8-2.5M984.5,1124.1l-5.2-4.3 -11.3-9.6 7,3.8 6.1,3.2 1.8,0.1M991.4,1114.9l-4.8-4M992.5,1113.3l-4.3-3.8 -7.8-7.3 -6.6-6.4M995.6,1109.4l-8.8-7.6M997.7,1106.7l-3.8-3.3 1.8,0.1M1002.2,1101l-2.8-2.6M1003.1,1099.8l-2.1-2.8 -0.3-1.6M1006,1096.2l-6-5.3 6.1,3.6M1008.1,1093.7l-7.2-6.2 4,2 -6.6-6.9 8.1,5.4 -16.2-14.9 6.1,3.7M1012.4,1088.6l-3.1-3.6M1014.1,1086.5l-1.2-1.2 -1.1-2.3M1016.9,1083.3l0,0 -10.4-10.4M1018.4,1081.5l-7.1-7.2M1020.5,1079.2l-5.6-5.9M1022.3,1077.2l-1.2-1.2M1025.5,1073.5l-1.2-1.6M1028.5,1070.2l-1-1M1029.5,1069.1l-9.3-9.4 2.7,1 7.7,5.7 -16.7-16.9 12.7,10.4 4,2.2 0.9-0.6M1036.7,1061.3l-8.9-9M1038.4,1059.6l-1.2-1.2 -12-12.9M1042,1055.9l-0.9-1 -6.2-7.4M1043.8,1054l-1.3-2.1 -21.6-22.6 16.7,14.9 7,5.4 -1.6-3M1048.2,1049.6l-6.5-7.3 7.3,5.9 -0.4-1.9 -0.9-2.3M1052.6,1045.1l-4.1-4.8 -3.5-5M1057.3,1040.6l-0.3-0.5 -0.8-2.3 -2.6-4.3 1.6,0.2M1062.5,1035.6l-2.2-2.6M1063.8,1034.4l-2.6-3.5M1066.6,1031.8l-3.5-5M1070.4,1028.3l-4-5.5M1072.3,1026.6l-1.5-2.1 -2-3.8M1074.2,1024.8l-4-5.7M1077.1,1022.3l-0.1-0.3 -12.4-15.6 6.9,6.3 3.3,2.2M1081.3,1018.6l-2.9-4.3 1.8,0.5 -5.1-7.6 6.4,5.8 -0.7-2.3M1085.9,1014.6l-6.9-9.4 6.2,5.8 -6.5-9.4 7.7,7.6 2.1,0.9 -2.1-4.2 1.5,0.2M1093.3,1008.4l-2.8-4M1095.1,1006.9l-0.9-1.4M1097,1005.4l-2.6-4.5 -5.9-9M1100.7,1002.4l-3.4-4.5M1103.5,1000.2l-2.6-4.5M1107.4,997.1l-0.6-2.3M1112.1,993.5l-1.6-2.5M1114.4,991.7l-6.5-9.2 1.5,0.2M1118,989l-12-17.9M1121.8,986.2l-6-9 -2.1-4.6 5.1,5.2M1127,982.4l-5.6-8.3M1136.3,975.8l-2.1-3.5M1137.6,974.9l-10.9-17.1 5,5.4M1140.4,973l-9-14 3.1,2.7 -5.8-10.4 10.3,13.3M1144.7,970.1l-2.9-5.1 -2.7-6M1147.2,968.4l-5.1-8.7M1148.8,967.3l-10.7-17.4 5.7,6.7 6.8,8.5 -6.4-11.6 8.3,10.8 -0.8-3.2 -4.3-8.5M1161.2,959.4l-5.5-9.5M1165.1,956.9l-5.1-10.1 -1.3-4.2M1170,954l-3.5-6.6 4.2,4.9M1173.3,952l-11.7-21 -0.1-2.4M1176.2,950.3l-3.5-6.9M1177.8,949.4l-2.3-5.3M1182.2,946.8l-2.3-5.5 -2-5.7 1.2,0.1 -2.6-6.8 -0.6-3.2 3.8,4.6M1189.6,942.6l-6-11.8M1192.1,941.2l-6.2-12.8 2.4,2.2 -6.5-14.1M1196.2,939l-0.4-1.3 0.5-1.2M1200.7,936.6l-2.3-5M1202.3,935.7l-1.7-4.4 1.1-0.1 -1.2-4.5M1206.6,933.4l-2.2-6M1209.5,932l-10-21.1 3.1,3.8M1212.6,930.4l-0.7-2.1M1213.9,929.8l-0.8-3.8 -10.4-23.2 3.8,5.3 8,13.7 -1.4-5.2M1219.7,926.9l-3.9-9.5M1222.8,925.4l-2.2-5.4 -0.8-4 2.1,2M1228.3,922.7l-2.5-6.3M1230.8,921.6l-0.8-3.7 2.4,2.8 -0.1-2.6 1.9,1.5 0.1-2.3M1236.6,918.9l-1-3.7 -22.2-51.7 25.3,53.5M1242.6,916.2l-2.4-6 1.9,1.7M1244.7,915.3l-5.1-14.3 -0.6-4.1 3,4.4 2.4,2.7M1250,913l-1.1-3.6M1252.7,911.9l-1.6-5.4M1254.2,911.2l-2-7.4 -0.2-3.3M1258.2,909.6l-1.7-6.5M1261.6,908.2l-0.3-1.5 -8.7-24.4 2.2,2.4M1265,906.8l-4.8-14.2M1267.9,905.7l-7-20.1 6.4,13.5 1.6,1.5 -0.8-5.1M1277.8,901.9l-3.9-12 3.3,6 -3.4-12.3 5.3,11.4 0.6-1.4M1284.4,899.5l-2.5-9M1286.8,898.7l-1.4-4.6M1288.3,898.1l0-2.1 -6.8-22.7 6.1,14.3M1292.1,896.8l-1.2-5.9 -1.2-6.9M1295.5,895.7l-3.2-10.6M1296.9,895.2l-3-11.8 3.4,6.8 -0.1-3.6 2.1,3.1 -0.7-5.6 3.2,6.5M1304.3,892.8l-1.3-5.3 -4.2-16.6M1308.9,891.3l-2.1-9M1310.8,890.7l-1.4-7.2 2.3,3.9M1313.9,889.7l-1-5.4M1316.9,888.8l-4.1-15.8 2.9,6.2 1.5,1.3 2.3,4.1M1324.9,886.5l-3.3-13.5 3,6.8M1328.8,885.4l-1.8-9 -2.2-11.7 5.6,16.5 -1.6-10.1 3.1,7.7M1337.7,883l-6.6-28.2 6.1,19.3M1342.1,881.9l-2.7-11.8 3.3,8.7M1344.4,881.3l-0.9-7.9 -0.8-7.8M1349,880.1l-2.5-12 2.7,6.4M1354.5,878.8l-2-12.8M1361.2,877.3l0.2-0.4M1363.9,876.7l-0.9-7.3M1368,875.8l-1.3-9 -6.2-35.1 10,42.9 -3.5-21.8 1.4,1.1 4,14.4 2,4.7M1377.3,873.9l-1.2-8.4 0.3-3.8M1381.3,873.1l-2.6-16.3M1384.5,872.5l-1.4-9.3 2.7,8.7 0-5.8 0.5-3.1 1.7,3.7 1.8,4.3M1392.2,871.2l-1-10.3 2.4,7.5 -0.3-7.7M1396,870.5l0.2-5.4M1399.1,870l-0.6-10M1403.2,869.4l-1.4-15.8 -0.2-8.5 3.6,16.6M1411.1,868.2l0-1.9M1413.8,867.9l0.1-4.3M1415.6,867.6l-1.9-20.8 3.8,20.2M1419.7,867.1l-0.3-9.7M1422.1,866.8l-0.9-11.6 1.6,4.5M1426.8,866.2l-0.2-10 1-0.5M1430.2,865.8l-0.4-9.4M1432.5,865.6l-0.1-4.8M1434.9,865.3l0-0.7 0.3-7 1.4,3.2 0.2-8.9 2,10.3 -0.6-17.2 2,9.2M1443.7,864.5l-0.9-16.6M1445.4,864.3l0.2-8.5 0.4-7.9M1455.3,863.6l-0.6-12.3 1.1,0.9 0.9-3.5M1460.4,863.2l0-4.6 0.1-16.6 1.6,8.5M1464.7,863l0-2.3M1468.5,862.8l0.2-5.9 0.9-3.4 0.9-3.8 0.9-3.2M1475.1,862.5l-0.2-6.2M1477.1,862.4l0.1-2.1M1479,862.3l0-9.8M1482,862.3l0.2-8.8M1483.7,862.2l0.5-13M1486.3,862.1l0.2-2.9 0.8-9.7 1-7.3 1-3 1.2,10.7 1.2,11.8 1-5.3M1493.9,862l0.7-23.5" fill="none" stroke="#6baed6" stroke-width="1.6" stroke-linejoin="miter" stroke-miterlimit="3"/>
<path d="M1501.9,862l0.7,5.7M1505.3,862l0.3,6.9 1.1-3.8 0.9,7.9 1,3.7M1514.3,862.2l0.5,8.3 1,2.2M1518.6,862.3l0.1,14.9 1.1-3.9 1.3-9 0.2,24.9M1525.9,862.5l0.2,6.6 1.3-6.3M1529.9,862.7l0.1,9.6M1536,863l0.4,4.6 -0.2,22 2.5-25.5M1549.9,864l0.1,1 0.8,2.7M1556.3,864.5l-0.4,15.5M1558.9,864.7l-0.2,7 1.7-6.5M1563.1,865.1l-0.1,4.5M1566,865.4l0.4,2.2M1570.7,865.9l-0.1,0.9M1577.6,866.7l-0.1,3.2M1581.4,867.2l0.2,2.9M1587.1,868l0,0.2 -0.1,8.2M1592,868.7l-0.3,3.9M1597.2,869.5l-0.2,1.9M1598.6,869.7l-1.6,15.2M1600.8,870l-0.6,8M1603.2,870.4l-0.9,7.3M1605.4,870.8l-0.2,2 -1.2,13.1M1609.1,871.4l-0.6,6.1 0,6.1 -1.4,13.9 4.5-19.9M1613.9,872.3l-2.5,18.1M1617.4,872.9l-1.9,12M1620.7,873.5l-0.2,1.2M1622.3,873.8l-1,7.5M1626.5,874.7l-0.2,2.6 -2.4,16.9M1634.6,876.4l-1.8,9.9M1636.3,876.7l-3.6,19.6M1638.7,877.3l-0.4,3.2M1642,878l-0.1,0.4 0.1,4.3 -0.3,6M1647.1,879.2l-1.6,10.8M1651,880.1l0,0.4M1658.1,881.9l-0.1,0.3M1666.7,884.2l-2.5,10.6 3.9-10.2M1669.5,884.9l-1.4,7.3M1672.8,885.9l0,1.1 -3,14.5 1.1-0.5M1678.3,887.4l-4.4,17.8M1685.6,889.6l-1.7,7.1 2.8-5.8M1688.5,890.5l-0.8,4.1M1695.4,892.6l-3.9,13.6 5.1-12.3M1704.7,895.7l0,0.1M1708.4,897l-0.5,2 0,3.4 1.1-0.3M1712.3,898.4l-0.6,2.4M1715.3,899.4l-1.2,3.6 1.1,0M1719.1,900.8l-0.9,3M1723,902.3l-0.8,2.7M1727.3,903.9l-3.5,11.3 0.5,1.6M1739.2,908.5l-2.2,6.5 2.5-3.4M1744.4,910.7l-2.9,9.5 1.8-1.6M1747.6,912l-1.6,5.5 -1.6,6.3M1752.2,914l-4.1,11.4M1754.6,915l-0.4,1.6 -9.7,24.7 0.5,1.4 -2.6,8.3 -3.8,10.9 14.8-30.8 4.6-7.9 -14.8,35.4 10.1-20 -0.6,3.7 2.6-3.3 3.9-6 1.6-1.2 -2.9,8.8 -2.6,7.8 5.9-10.3 7.4-13.4 -12.4,28.8 0.8,0.7 3.6-5.4 -1.8,6.2 2.6-3.2 7.6-13.5 -0.3,2.8 -2,6.5 1,0.1 -2.6,7.7 7.6-13.3 -4,10.5 -3,8.3 2.9-3.6 3.9-5.8 9.1-15.9 -5.2,12.6 -2.2,6.7 13.2-24.1 -7.5,17.2 6.5-10.6 -1.3,4.8 2.2-2.1 -7.2,16.3 7.7-12.8 -1.3,4.8 -2.1,6.1 8.8-14.7 0.5,1.4 3-3.7M1798.9,936.3l-11.1,22.4 10.8-18.2 -7,15.3 -1.5,5 9.2-15 0,2.2 -9.1,18.7 10.5-17 4.2-5.6M1809.3,942l-1.2,2.6 -8.4,17.3 6.3-9.2 5.3-7.5M1814.8,945l-0.6,1.4 1.4-0.4 -4.1,9.3 0.9,0.5 5.7-7.9M1819.6,947.8l-7.9,15.3 2.7-2.7 2.6-2.4M1823,949.8l-1.6,4.7M1825.7,951.4l-5.6,11.3 2.4-2.1 -0.7,3.2 2.8-2.7 3.9-4.4M1832.9,955.8l-7.5,13.8 7.7-10.6 -7.5,14.1 -1,3.5 0.2,1.6 -6,11.5 13-18.9 -4.3,8.8 1.3-0.3 5.3-6.4M1842.5,961.7l-11.4,19.6 4.9-5.9 -2.3,5.5 5.1-6.1 -7.2,13.1 8-10.5M1848.5,965.6l-7,12.6M1850.4,966.8l-6.7,11.7 2.2-1.5 -5,9.4 10.2-13.6 2.4-1.7 -0.9,3.2M1856.4,970.8l-5.5,9.6M1858.7,972.4l-1,1.7 -6.8,11.8 2.5-1.9 2.7-2.1 -6,10.5 0.2,1.4M1867.6,978.5l-7,11.1M1869.1,979.6l-6.9,11.2M1872.7,982.2l-7.1,10.9 -7.7,12.4 12.8-16M1876,984.5l-1.9,3.9 -2.9,5.6 0.2,1.4 0.3,1.3 7.3-8.1 -11.1,16.6 5.9-6.1 -25.7,36 27.5-35 -11.1,16.4 -7.6,11.6 -10.4,15.3 29-36.5 -5.9,9.3M1889.1,994.4l-3.1,5.4 -7.4,11.3 1.4-0.3 11.3-12.9 0.5,1.1 -15,20.9 4-3.5 2.8-2 -10.9,15.4 12.3-13.9 -0.4,2.1 -3.3,5.7 -2,4.1 14.2-16.1 -0.8,2.7 -0.1,1.7 -4.4,6.9 12.8-14.1 -1.8,3.9M1906.1,1008l-6.2,8.7 3-2 -4.4,6.9 5.3-4.8 -6.1,9 11.2-11.9 -17.1,21.9 15-16.2 0.9,0.5M1913.9,1014.5l-10,13.2 6.7-6.3 5.4-4.6 -3.5,5.5 1.7-0.3 -0.3,1.9 -2.2,4.1 -0.3,1.9 -6.6,8.9 11.9-11.9 1.4-0.1M1923.6,1022.9l-7.4,9.2M1925.7,1024.8l-18,21.3 11.9-11.7M1928.4,1027.2l-1.9,2.6M1930.5,1029.1l-7,8.6 7.1-6.3 -2.1,3.8M1933.4,1031.8l-19.2,21.8 11.1-10.5 -2.8,4.6 7.3-6.4 6.4-5.3 0.7,0.7 -7.6,9.6M1939.5,1037.5l-7.2,8.5M1941.3,1039.2l-0.9,1.4 -10.2,12.1 9.9-8.9 3.5-2.1 -0.5,2 -9.6,11.4 7.9-6.8M1948,1045.7l-5.8,6.2 2.1-0.6 -1.6,3 -7,8.5 -1.1,2.5 11-9.5M1955.3,1053.1l-3.8,4 0.4,1.1 -10.1,11.2 8.4-6.7 7.9-6.2M1959.4,1057.3l-8.9,9.3 1.1,0.3 4.5-2.8 1.1,0.3 -10.1,11 15.8-13.6 -3.9,5.1 -0.3,1.7 -2,3.3 4.3-2.6 -2.3,3.5 3.8-2.1M1968.9,1067.3l-1.4,1.6M1969.9,1068.4l-1.5,2.4 -12,12.3 -5.3,6.3 19.1-16 -6.3,7 3.6-1.8 -2.8,3.9 -5,5.8M1977.7,1077.1l-10.4,9.8 2.4-0.8 7.6-5.3 -8.5,8.8 4.4-2.5 6-3.8M1982.4,1082.5l-14,12.8 9.5-6.9 -8.1,8.3 -10.6,10.5 23.1-18.4 -16.7,15.5 10.4-7.5M1987.6,1088.6l-1.7,2.5 -4,4.7M1989.7,1091l-6.8,6.6 -3.4,4.2M1991.9,1093.7l-1.9,2 -8.5,8.3 -4.8,5.2 5.3-3M1994.9,1097.3l-8,7.5 4.2-2.1M1997.6,1100.7l-14.3,12.2M1998.7,1102.1l-25.7,21.6 22.1-16.3 -12.3,11.1 3.6-1.7 2.6-0.7 -0.2,1.4 6.3-3.6 -1.8,2.7M2004.8,1109.8l-4.8,4.2 -9,8.2 9.5-6 -5.2,5.2 5.8-3.1 -2.4,3.1 4.8-2.4 4.5-2.1M2011.7,1118.9l-2.5,2.3 -5,5 -5.2,5.1M2014.1,1122.2l-4.3,3.7 -9.1,7.9 13.4-8.5M2017.6,1127l-10.6,8.4M2018.8,1128.7l-2.1,2.3 -3.5,3.8M2021,1131.7l-0.4,0.3 0.3,1M2022.7,1134.2l-1.1,0.9M2024.3,1136.4l-3.5,3 -0.6,1.7 4.3-1.7M2027.2,1140.7l-9.1,6.8M2028.1,1141.9l-21.6,15.9M2030.2,1145.1l-4.1,3.1 -1,1.9 3.3-1 -6.2,5.4 8.7-4.6M2033.4,1150l-10.6,7.8 7.5-3.7 -7,5.8M2035.7,1153.4l-15.7,11 5.6-2.4 8.4-4.2 0.6,0.8 -6.6,5.4 8.8-4.4 -5.9,5 9-4.5 -16.6,11.7 4.3-1.5M2042.9,1164.9l-12.4,8.3M2044.3,1167.1l-1,0.7M2045.4,1169l-16.7,11.2 12.5-6.4 -4.5,3.9 5.4-2 -8.2,6.1 6.2-2.6 1.2,0.6 -9.7,6.8 11.4-5.5 -8.5,6.1 -1,1.8 -5,4.1 16-8.2 -3.7,3.4 -14.7,9.6 4.7-1.6 13.8-6.7 1,0.6 1.3,0.4 -6.5,4.9 6.2-2.4 1.5,0.4 8.7-3.7 -6.8,4.9M2058.6,1191.7l-7.1,4.5 5.7-2M2060,1194.3l-16.8,10 4.7-1.5M2061.5,1197.1l-6.9,4.4 -3.7,3.1M2063.8,1201.3l-9.6,6.2M2064.7,1203.1l-10.1,6.5M2065.8,1205.2l-25.2,13.9 -6.3,4.4 8.3-3.2 13.1-5.6M2068.3,1210l-5,3.1M2069.4,1212.3l0,0 -0.7,1.5 0.7,0.8 -3.1,2.7 -5.7,4 5-1.3 -11.1,6.6 -8.4,5.2 -7.3,4.7 17.7-7.5 2.6-0.2M2074.5,1222.6l-14.7,8.1 -6.1,4M2075.9,1225.4l-5.9,3.8 4.2-0.9 -6.9,4.4 -10.4,6 -35.1,17.5 13.2-5.1 19.9-8.1 7.7-2.5 11.6-4.2 -5.6,3.7 -5.7,3.7 16.6-6.4 -7,4.2 -15.4,8.1 20.7-8.2 2.8-0.1 -4.4,3.1 0.7,0.8 -9.6,5.3 13-4.6 2.2,0.2M2085.4,1246.2l-5.2,3.1 -17.3,8.6 0.8,0.7 11.8-4M2087.6,1251.4l-5.8,2.8M2088.2,1252.9l-4.8,2.9 4.1-0.7 -0.4,1.3 -12.4,6.3 9.4-2.8M2090.6,1258.7l-15.2,6.9 6.3-1.4 6.5-1.5 -0.1,1.1 3.7-0.4 -13.9,6.7M2093.6,1266.1l-0.2,0 -13.7,6.5 -10.3,5.1 -16.7,7.6 23.5-8.1 3.3-0.2 9.3-2.5M2096.8,1274.5l-2,1.1 -6.9,3.6 1.2,0.7M2098.3,1278.5l-1.3,0.6 -25.6,10.5M2099.5,1281.8l-14.5,6.1 -7.3,3.7 7.4-1.6 14.6-4.2 -10.4,4.8 -14.1,6.1M2102.4,1289.9l-9.7,3.8 5.3-0.7 -3.3,2.2 0.4,0.9 -5.9,3.1 7-1.3M2104.8,1297l-0.5,0.3 -27.8,10.4 3.4-0.1 3.2,0 0.2,1 -6.6,3.2 10.9-2.5 10.2-2.3 -21.2,7.9 14.6-3.6M2108.5,1308.1l-13.4,5.1 12.7-2.9M2109.4,1311l-8.5,3.6 -6.7,3.1M2110.3,1314l-16.4,5.9 5.9-0.7M2111.3,1317.4l-6.6,2.5 -18.5,6.5 14.1-3.1 -8.2,3.5 4.9-0.4 2.5,0.3 11.4-2.2M2113.6,1325.1l-15.4,5.1 -5,2.5 7.6-1.1M2114.9,1329.9l-29.8,9.1 18.7-4 -1.4,1.4 6.1-0.6 2.2,0.5 1.5,0.6M2117.2,1338.4l-10.7,3.2 -9,3.4 17.1-3.4 -8.8,3.3 12.4-2.1 -19,5.9 -3.1,1.8 8.7-1.2 -7.8,3 5.5-0.3 17.2-3.2 -18.5,5.6 1.1,0.7 17.6-3.1 -9.5,3.3 3.1,0.3 7.2-0.6M2121.6,1356.1l-6.2,2.2 -6.5,2.5 -15.3,4.6 18.7-3.3 10.1-1.2M2122.9,1361.9l-25.7,6.7 15.5-2.4 6.4-0.3 -3.6,1.8 -19.1,5.1 3.7,0.2 -5.1,2.1 26.7-4.5M2124.9,1371.5l-11.1,2.8 -15.7,4.2 6.3-0.2 19.4-2.9 -4.8,2M2126.1,1377.2l-22,5.2 15.2-1.9 -10.8,3.1 4.5,0.1 7.7-0.4 -7.5,2.5M2127.4,1384.3l-17.5,4.1 -4.2,1.8 -18.6,4.4 16.5-2 -15.4,3.7 20.4-2.5 -9.4,2.6 11.1-0.9 -4.9,1.9 -5.2,1.8 -5.5,1.9 5.8,0.1 25.6-3.2 -14.6,3.4 3.2,0.5 13.3-1.1M2130.4,1401.5l-17.8,3.8 -17.3,3.7 -10.6,2.6 32.8-4 -16.8,3.5 16.7-1.4 7.8-0.1 -5.2,1.8M2131.8,1411.2l-4,1.1 -23,4.2 -0.8,1.1 -1.6,1.2 -17.4,3.3 28.5-2.7 -2.6,1.3 6.5,0.2 -13.5,2.7 -1.8,1.2 -5.3,1.7 12.1-0.5 -11.7,2.4 15.7-0.9 12.9-0.5 -6.4,1.8 -13.7,2.6 4.4,0.5 -5.1,1.5 3.1,0.7 16.3-0.8 -14.1,2.5 -14,2.5 -3.1,1.3 25.2-1.6 -7.7,1.8 2.7,0.7 -14.2,2.4 2.6,0.7 -12.4,2.2 28-1.6 -14,2.2 22.5-0.9 -15.9,2.3 10.5,0.2 -10.3,1.8 -8.2,1.7 13.6-0.1 -3,1.2 -8.5,1.7 13.4,0 2.2,0.8 -16.1,2.1 26.4-0.8 -11.3,1.8 -26.5,2.7 28.2-0.8 -5.9,1.4 -12.1,1.7 -1.4,1.1 17.3,0 6.4,0.6 -24.4,2.4 7.6,0.5 -8.5,1.4 25.2-0.2 -24,2.1 -2.7,1.1 13.5,0.4 14.9,0.4 -8.6,1.3 3.8,0.9 -8.5,1.3 -3.4,1.1 8.3,0.7 -5.8,1.2 4.3,0.9 -13.8,1.4 12.5,0.6 3.2,0.9 1.2,1 -4.8,1.1 -18,1.4 11.5,0.8 -3.8,1 6.8,0.9 3.4,0.9 -3.3,1.1 14.7,0.8 3.4,0.9 -15.2,1.2 -0.2,1 -26.8,1.1 25.9,0.9 -5.4,1 21.3,1M2138,1500.6l-27.4,0.8 -0.1,1 -7.5,0.9 -1.3,1 22.5,1.1 -10.1,0.9 -5.7,1 5.3,1 12.1,1.2 1.3,1 -33.8,0.4 20.1,1.4 -5,0.9 13.8,1.3 -8.9,0.8 4.6,1.1 -9.4,0.7 15.6,1.5 -23.9,0.3 20.9,1.6 -14.5,0.5 0.5,1 18.6,1.7 -20.1,0.2 3.7,1.2 2.5,1.1 4.6,1.2 17.5,1.8M2137.2,1531.2l-3.6,0M2137.2,1532.7l-23-0.4 7.9,1.4 -10.8,0.4 -18.8-0.1 20.2,2.2 -0.2,1 23.3,2.4M2136.6,1541.5l-3.7,0M2136.5,1543l-9.7,0.1 -0.4,1M2136.3,1545.9l-27.5-1M2136.1,1548.6l-6-0.1 -26-1 18.2,2.4 -5.3,0.6 -1.9,0.8 -2.4,0.8 5,1.5 -3.5,0.7 2,1.2 -2.6,0.7 -17.3-0.6 25.9,3.4 5.7,1.6 -10.8,0 -8.3,0.2 -5.2,0.4 25.7,3.7 -12.3-0.3 16.6,2.8 -2.5,0.8 -4.4,0.5 -9.7,0 -5.6,0.3 -11.7-0.3 22.3,3.6 -5.1,0.4 10.5,2.3M2133.4,1576.7l-17.7-1.1M2132.8,1581.2l-13.3-1.1M2132.4,1584.2l-4,0.2M2131.8,1588.7l-9.5-1M2129.8,1602.2l-2.3-0.2 -1.2,0.8M2127.7,1614l-12.4-1.7 -1.2,0.8M2127.2,1617.1l-3.1-0.1M2126,1623.1l-5.4-0.5M2125.4,1626.4l-10.6-1.8 -16.6-2.4 17.2,4.6 6.4,2.4 -4.1,0.2 4.7,2M2123.6,1634.7l-1.4-0.2 -20.6-3.4M2123,1637.6l-1.2,0M2122.2,1641l-18.9-3.4M2121.4,1644.4l-9.2-1.6M2120.8,1647l-16.3-2.9 -10.6-1.5M2120,1650.6l-7.8-1.5M2119.5,1652.4l-14.5-3M2118.8,1655.5l-26.3-6.1 10.6,3.7M2117.9,1658.8l-1.5-0.2M2117.6,1660l-15-2.9 12.6,4.4 -9.5-1.5M2116.4,1664.4l-12.3-2.7 1.9,1.6M2115.4,1668.2l-7.6-1.3 6,2.8 0.2,1.1 -6.9-0.9 -0.4,1 -13.6-2.8 -8.2-1.3 4.3,2.2M2108.9,1690.4l-4.1-0.8M2107.9,1693.6l-2.4-0.6M2106.5,1698l-23.6-7 15.9,6.3 -8-1.6 -3.9-0.2M2104.4,1704.4l-6-1.8 4.7,2.6M2103.5,1706.9l-18.3-5.6M2102.5,1709.8l-22-7M2101.9,1711.6l-3.6-0.4 -18.3-5.4 12.4,5.5 -7.1-1.5 12.7,5.7M2098.9,1720l-3-0.9 -3.9-0.4 -5.2-0.8M2096.4,1726.7l-9.4-3.3M2095.2,1729.6l-6.1-2.1M2094.6,1731.3l-9.7-3.2M2092.6,1736.3l-2.6-0.7 -17.6-6 0,1.1M2090.5,1741.5l-11.1-3.6M2087.7,1748.3l-10.9-3.8M2086.9,1750.1l-11-3.8 -4.7-0.9M2085.6,1753.3l-9.3-3.5 -10.1-3.2 5.5,3.5 6.2,3.8 -8.5-2.7M2081.8,1761.9l-6.6-2.5M2080.9,1763.9l-3.4-1.2 -6.5-1.8 -7.7-2.5 9.3,5.4 -6.8-2M2078,1770.1l-12.6-5.2 -5.1-1.2M2076.8,1772.7l-7.7-2.6M2074.5,1777.6l-1.6,0 -1.8,0.3 -3.3-0.5 0.2,1.2 -3.9-0.7 5,3.6M2070.7,1785.1l-10.5-4.7 4.1,3.3 2.9,2.6 -19.1-8.6 3.6,3M2067.8,1791l-1-0.3M2066.8,1792.8l-4.1-1.9M2065.8,1794.7l-1-0.4 -13-5.6 10.3,6.5M2063.6,1799l-1.9-0.5M2062.8,1800.6l-11.5-5.3 3.3,2.9 -2.2,0M2060.8,1804.2l-13.5-6.5 11.5,7.5 -11.4-5.1 -24.9-12.6 15.6,9.8 -12.7-5.9 3.7,3.1 2,2.3 4,3.4 -26.3-13.7 -0.7,0.7 20.1,12.4 -1.6,0.2 -7.9-3.3 15.4,9.9 11.8,8 -0.2,1 -11.6-5.5 15.9,10.4 0,1.2 -0.5,0.9M2047.4,1827.7l-11.9-6.5 -1.8,0.2M2044.8,1832l-13.6-7.4M2042,1836.5l-4.2-1.9M2039.9,1840l-14.2-8.2 12,8.8M2035.4,1847l-7.2-4M2034.2,1848.8l-8.4-4.9 -2.2-0.2M2032.4,1851.6l-5.9-3.6 -1.4,0.3M2031,1853.7l-13.9-8.2 2.6,2.9M2029.3,1856.2l-10.9-6.2 -5.9-2.8 2,2.6M2026.5,1860.3l-1.1-0.6 -24.8-15.8M2024.6,1863.1l-3.7-1.5 1.6,2.4 -9.4-5.3M2021.5,1867.5l-13.5-8.7 -3.2-1.1 11,9.1M2019.2,1870.7l-8.2-4.8 3.5,3.8M2016.7,1874.3l-13.2-8.8 -2.5-0.6 -14.2-9.1 -0.9,0.5 -9-5.4 9.7,8.4 -14.8-9.8 3.5,3.8 1.5,2.3 15.1,12.5 17.5,14.4 -7-4 -0.9,0.6M2005,1889.8l-4.5-2.4 1.7,2.6 -1.3,0.3 -0.5,0.9M2001.1,1894.9l-4.3-2.6M1998,1898.8l-20.4-15.3M1995.9,1901.4l-1.8-0.7 -9.8-6.7 -13-9.3M1991.8,1906.4l-3.2-2.2 2.2,3.1 -4.5-2.4 -2.5-0.7M1986.8,1912.4l-10-7.5 2.6,3.6M1984.6,1915l-4.5-3.2M1980.6,1919.6l-2.7-1.6 -9.5-7M1975.7,1925.1l-2-1.2 -16.3-13.2 4.2,5.1 -3.1-1.4M1968.8,1932.8l-1.7-0.9 -8.6-6.6 8,8.8M1965.7,1936l-0.7-0.5M1964.4,1937.5l-3.9-3.4 2.9,4.2 -7-5.2 1,2.3 -4.2-2.6 -4.2-2.6 3.2,4.5 3.2,4.5 -0.9,0.5 0.7,2.1M1957,1945.1l-22.5-20.6M1954.9,1947.3l-0.1-0.1 -19-17.3 7,8.3 -0.1,1.4M1950.5,1951.8l-8.8-7.5 -0.2,1.2 -9.3-8 6.8,8.4M1945.5,1956.7l-2.3-2.1M1943.4,1958.8l-0.7-0.3 -11.8-10.8 8.9,10.7 -9.4-8.3 3.8,5.5M1936.5,1965.3l-2.1-2M1922.2,1978.3l-3.2-3 1.5,3.3 -5.1-4.3M1919.4,1980.7l-10.8-11.1 1.4,3.2M1913.4,1985.9l-3-3.2M1912.1,1987.1l-7.4-8 1.1,2.9M1909.5,1989.3l-2-2.1 -2.5-1.4M1906.6,1991.7l-7.6-8.3M1903.2,1994.5l-5.1-5.8M1901.7,1995.7l-2.2-2M1900.1,1996.9l-4.8-5.1 0.2,1.8M1896.6,1999.7l-0.7-0.6M1894.9,2001.1l-0.8-1M1892.9,2002.7l-5.4-6 -7.7-8.2 -15.5-18.4 10.6,15.3 -16.1-19.2 13.6,19.3 -1.5-0.4 -1,0.3 11.1,16.3 1.1,3 -1.9-0.7M1883.4,2010l-6-6.4 0.7,2.6M1879.5,2012.9l-3.4-4.2M1877.1,2014.6l-2.9-3.2M1871.5,2018.7l-12.3-16M1869.2,2020.3l-6.9-7.9 3.8,7.2M1866.6,2022.1l-25.4-34.7M1864.6,2023.6l-6.8-8.8 -4.6-4.9 -2.9-2.5 10.9,17.7M1855.1,2030l-6-8.2M1850.8,2032.9l-3.3-4.3M1848,2034.8l-1-1.3 -10.4-14.1 0.6,2.8 4.1,8.2M1841.4,2039l-4.9-6.6M1838.9,2040.5l-4.5-5.7M1836.9,2041.8l-3.1-4.1M1833.1,2044.2l-1.6-2.3 -5.5-7.1 1.9,5 -4.3-5M1828.9,2046.7l-6-9.2 -11.2-16.7 6.7,13.1 -1.3-0.2 5.2,10.8M1823.5,2049.9l-0.7-0.5 -2.7-2.5M1820.5,2051.6l0,0M1818.5,2052.8l-5.5-8M1816.3,2054.1l-3.1-4.8 1.8,5.1M1812.9,2056l-2.8-3.9 -0.9,0.4 1.2,4.2 -3.4-3.9 -4.9-6.7 2.3,6.2M1803.6,2061.2l-2.5-4.2M1799.9,2063.1l-0.7-1M1797.3,2064.5l-3.6-6.2M1791.5,2067.5l0,0M1789.3,2068.6l-4.9-8.2M1787,2069.8l-1.2-2.1 -0.1,2.1M1784.8,2070.9l-4.7-7.8 -0.4,1.5M1780.9,2072.8l-5.9-10.8 -1.3-0.3 3.5,9.5 -9.4-17.1 8.1,19.1M1775.4,2075.5l-3.6-6.1 0.9,4.4 -4.8-7.7 -0.5,1.2M1770.8,2077.7l-3.5-5.9 -3.8-5.7 4.6,12.3M1766.7,2079.6l-2.4-4.4 0.2,2.8M1763.3,2081.1l-13.4-27.9 11.5,28.1M1758.9,2083.1l0,0M1757.4,2083.8l-6.6-13.8 4.7,13.1 -0.8,0.9M1753.8,2085.3l-16-35.2 10,25.7 -0.4,1.7M1749.6,2087.1l-0.9-1.5 -0.6,1.2 -2.7-3.6 1,5.1M1744.6,2089.2l-0.1-0.3 -3.7-6.1 -1.6-1.3M1740.3,2091l-4-8.6 -3.4-5.6 -10.9-24.4 1.8,7.1 -0.7,0.9 -4.8-9.4 6.6,19.2 6.2,18.6 -5-10M1730,2095.1l-7-15.9 -4.9-10 6.9,20.9 -1.1,0 1.1,5.9 -2.6-4.2 -7.2-16.3M1715.8,2100.4l-0.5-1 -2.5-3.8M1713,2101.4l-1-2.2M1706.4,2103.7l-1.9-3.8M1704.8,2104.2l-3.7-8.1 -8.5-22.3M1700.5,2105.7l-4-10.5 -2.6-4.6 1.5,7.6 -2.6-4.5M1695.8,2107.2l-2.6-5.8 -2.1-3.1M1690.2,2109l-0.5-1.6 -2.8-5.5 -9.6-27.5 8.6,31.3 -2.2-3.7M1682.7,2111.3l-2.6-7.2 -0.2,2.9 -0.7,1.5M1678.4,2112.6l-0.2-0.5 -1.4-1M1675.4,2113.4l-0.2-0.5 -1.9-2.8M1672.5,2114.2l-0.7-2 -0.9,0.7 -1.1-0.2M1668.8,2115.3l-4.2-13.7 1.9,10.8 -3-7.1 -5.7-17.2 -2.8-6.9 -3.6-9.6 1.7,10.3 -3.9-11.2 3.4,17.1 -3.5-9.9 2.8,14.9M1655.7,2118.7l-2.5-8.3 -4.5-13.8 0.3,5 2.2,13.4M1650.5,2120l-0.9-3.1 -0.5,2.4M1646.4,2121l-0.3-0.8M1641.8,2122l-1.4-3.6 -0.3,3.1 -1.9-3.5M1635.2,2123.5l-0.1-0.7M1632.4,2124.1l-1.3-4.9 -0.3,3.4 -4.6-17.2M1628.5,2124.9l-2.9-12.2 1.5,12.3M1622.7,2126.1l-3.4-14.1M1617.2,2127.1l-1.1-4.7 -4.1-16.6 0,5.7 -0.9,0.8 -1.9-4.8 1.6,14.5M1607.2,2128.9l-2.9-14.5M1604.2,2129.4l-2.9-14.5M1601.4,2129.9l-2.5-10.6M1595.1,2130.9l-3.3-18.5M1592.6,2131.2l-0.3-1.4M1589.7,2131.7l-1-5.4M1587.1,2132l-2.1-9.5 -0.9,0.6M1584.1,2132.4l-2.7-14.1 -1-0.2 -0.5,4.8 -0.7,2 -0.2,6.6 -1.3-2.1M1575.8,2133.5l-2.3-13.4 0.1,10.1M1569.7,2134.2l-2.9-19.3 0,9.5 -1.3-2.7 -0.8,2.4M1563.1,2134.9l-1.3-8.9 -0.8,1.6M1559.4,2135.2l-1.6-8.2M1555.1,2135.6l-1.3-8.4 -0.5,6.9M1552.2,2135.9l-2.2-17.6M1548.4,2136.2l-0.2-1.4M1546.4,2136.3l-0.3-2.5 -1.2-1.8 -1,0.2 -1.7-10.2M1533.7,2137.1l-1.1-4.5M1528.7,2137.4l0-0.2M1526.2,2137.5l-0.9-6.6 -1.3-8.7 -0.5,14.3 -1.6-16.5 -1,2.5M1514.6,2137.8l-0.5-5.7 -1.4-16.5M1509.2,2137.9l-0.2-3.1 -1.1-4.9 -1.2-14.9 -1,1.6 -1.1-16.3 -0.8,23.2M1502.3,2138l-0.5-9.5M1500.6,2138l-0.9-14.5M1498.6,2138l-0.9-9.1 -0.9-15.2M1495.2,2138l-0.5-12.4 -1.1,3.6 -0.9-10.9M1490.5,2137.9l-0.1-0.4 -0.9-6.2 -1-1 -1.1,4.4M1486.1,2137.8l-0.7-6.7 -1,0 -0.4-23.2 -1.7,24.1 -0.6-15 -1,1.9 -1,0.4 -1.5,12.1 -1.1,2.3 -0.1-23.6M1474.5,2137.5l0.3-21 -1.5,10.6 -1-0.6 0-20.9 -2.5,30.4 -0.6-8.2 -0.4-12.2 -1.7,14 1-38.7 -2.4,25.7 -1.6,10.2 -1.2,3.4M1460.4,2136.8l0.9-28.5 -2.3,19.7 -0.2-12.5 -0.6-5.3 -2.1,15.3 -1-1.2 -1.2,3.3 0.4-19.4 -2.1,14.5 0.3-16.5 -1.8,9.8 -1.2,2.9 -1-0.7 0-11.4 -1.5,6M1443.4,2135.5l-0.2-3.4M1441.5,2135.3l0.6-12.8 -0.9-1.7 -1.5,5.2 -1.3,2.7 -1-0.3M1435.7,2134.8l1.9-28.7 -2.6,16.2 0.6-15.3 -0.9-0.9 0.9-17.9 -2.8,17.1 -2.7,14.6 0.5-12.8M1426.1,2133.7l0.7-11.4 -2,8.5 0-8.8 -2.4,10.7M1421,2133.1l1.9-20.3 -1.5,4M1417.7,2132.7l-0.2-2.2 -0.8-1.5M1412.4,2132l0.2-3.5M1410.6,2131.7l1.8-16.1M1404.9,2130.9l3.2-27.5 -4.6,23.7M1396.9,2129.6l0-0.7M1393.1,2129l0.7-6.7 -1,0.3 -1.9,4.4 -1-0.2M1386.8,2127.9l1.3-8.3M1383.6,2127.3l0.3-2 -0.2-4.2 0.6-8.8M1378.2,2126.3l1-9.2 -2,4.7 0-5 -2.3,6.4 0.8-9.5 -1.6,3M1370.3,2124.7l-0.3-3.5M1367.9,2124.2l1.2-8.4 -2.2,5.5M1364.4,2123.4l0.4-2.3M1359.3,2122.3l0-0.2 0.8-8.2 -2.1,4.4 -1-0.2M1353.8,2121l2.7-14.1 0.1-4.8 -0.5-2.2 -0.3-3.1 -4.1,12.7 -2.8,7.2 1.9-12.1 0.5-6.1 -4,11.9M1343.2,2118.4l0-0.1M1340.5,2117.7l-0.1-1.2 0.2-4.8 0.3-5.3 -3.3,8.7 2.6-13.9 0.9-7.2 -5.7,17.2 4.3-19.5 -0.1-3.5M1330.6,2115.1l2.2-9.8 4.9-21.5 -6.2,18.8 1.7-10 -4.2,11.3 -1.6,1.8 2.4-12 0.4-5.1M1320.5,2112.2l1.3-5.6 4.6-19.1 2.1-10.5 -7.9,23.1 2.1-10.6 -1.4,1.3 -4.4,10.8 1.2-7.4 -2.2,3.9 -0.6-1.5 -3.3,7 -0.1-3.1M1306.8,2108.1l3.7-13.3M1305.1,2107.5l1.8-7.9 1.6-8.3 -4.8,11.5 2.3-10.3 -3.2,6.5M1299.2,2105.6l2.5-10M1297.5,2105l5.8-20.5M1295.3,2104.3l2.2-8.7M1292,2103.1l1.7-6M1289.8,2102.4l-0.1-0.2 1.9-8.4M1287,2101.4l0.8-3 2.1-8.9 -1.6,1.5M1283.5,2100.1l5.8-17.9 0.1-3.2 -7.1,16.4 -0.9-0.6M1278.8,2098.4l4.4-14.2M1277,2097.8l1.3-6.4 1.6-7.1M1274,2096.6l4-13.1M1271.8,2095.8l1.2-4.9M1270.2,2095.2l6.3-19M1268.2,2094.4l0.2-2.9 2.5-9.1M1265.2,2093.2l5.5-15.8 0.5-4 -4.9,9.6 -1.4,0.7 0.7-4.5 -5.5,10.9M1258.3,2090.4l1.6-5.3 7-19.8M1254.9,2089l2.4-8.3M1252.8,2088.2l5.5-15 -6.6,12.8M1247.9,2086.1l3-8.6 -3.7,5.9M1243.9,2084.3l0.4-1.9M1239.2,2082.3l3.9-9.9M1237.2,2081.4l2.1-5.5 6.9-17.7M1231.4,2078.7l0.5-1.5M1227.6,2076.9l0-0.1M1225.2,2075.8l1.2-3.8 -1-0.2M1215.7,2071.2l2.2-5.2M1212.1,2069.4l4.7-10.2M1204.4,2065.4l0.4-0.9M1203.1,2064.7l8.5-17.4M1200.9,2063.5l2.5-5.1M1197.9,2062l4.3-10M1183,2053.7l5.1-9.8 -5.3,7.1 1.6-4.8 -2.2,1.7 5.7-11.7 -9.2,13.6 -0.7-0.7M1166.8,2044.1l2.6-4.7M1163.4,2042l5.5-9.6M1158.1,2038.7l5.5-9.3M1156.3,2037.5l0.3-0.9M1154,2036l9.8-16.3M1150.3,2033.6l5.7-9.3M1147.9,2032l5.3-9M1138.9,2026l1.4-2.2 4-7.7M1132.2,2021.3l1.5-2.4M1127.6,2018.1l11.2-16.9 -9.4,11.4M1122.4,2014.3l5-7.8 -1-0.3M1117.7,2010.7l7.3-11.1 -2.9,2.2M1108.3,2003.6l8.9-12.2 -6.1,6.2M1106.3,2002l3.6-6.1 11.7-16.5M1103.6,1999.9l5.4-7.8 -1.7,0.5 2.7-5.1M1100.5,1997.4l4.1-6.4 -1.8,0.6 2.2-4.3M1090.2,1989l0.9-2.5M1088.1,1987.2l0.6-1M1082.8,1982.7l6.8-8.6M1073.6,1974.6l9.2-11.3M1067.3,1968.8l5.5-6.5 2.6-4.3 -7.6,6.6 15.5-18.1 -15.7,15.3M1061.3,1963.2l5.7-6.6M1059.8,1961.8l8.2-9.3M1057.5,1959.6l3.4-4 6.4-8.2M1050.6,1952.9l0.7-0.8 8.8-10.3M1041.4,1943.6l4-4.5M1036.5,1938.4l4.4-4.9M1035,1936.8l2.9-3.2M1032.8,1934.4l1.2-1.4 0.9-2.3 13.7-14M1028.6,1929.9l2.7-2.9M1027.1,1928.2l1.1-1.1M1024.5,1925.4l4-4.2 1.5-2.7M1021.2,1921.7l8.2-8.1 -7.3,5.1 -1.8,0.2M1015.6,1915.2l4.2-4M1014.7,1914.2l1.9-3M1012.7,1911.8l0.4-0.3M1008.2,1906.4l2.3-2.2 8-7.9 -2.4,0.7M1004.9,1902.4l1.6-1.5M1002.4,1899.3l8.2-7M1001.4,1898l12.2-10.7M999.8,1896.1l8.2-7M997.8,1893.5l0.8-0.8M995.4,1890.4l7.2-6M993.4,1887.8l3.5-3 -1.6,0 -3.2,1.1M991.2,1884.9l7.3-6.4M989.6,1882.8l3.9-3.1M987.7,1880.3l1.8-1.4M986.5,1878.7l1.3-1.2M985.5,1877.2l4.8-4.1M984.4,1875.7l10.2-8.2 -9.9,5.9M981.2,1871.3l7.9-6.1M980.1,1869.7l10.1-7.8M978.7,1867.9l2.7-2.2 -1.8,0M977,1865.3l6.5-4.9M975.2,1862.8l3.9-3.1M970.7,1856.2l7.1-5.5 -4.4,1.7 -4.1,1.5 4.3-4.1M966.2,1849.4l4.6-3.9M961.4,1842l3-2.1M960.4,1840.5l11.9-8M959.1,1838.3l7.6-5.9 -2.7,0.5 -3,0.6M952.6,1827.8l0.3-0.2M946,1816.4l4.2-2.7 -4.8,1.5 0-1.2 0.8-1.6M943.7,1812.3l6.4-4.5 2.9-2.7 7.7-5.5 -12.5,5.8M941.2,1808l14-8.8 17.6-10.8 -0.9-0.6 14.4-8.9 -10.1,4.4 -13.4,6.1 17.7-10.6 -13.6,6.2 1.9-2.1 -31,15.3M935.7,1797.7l10.1-6 -2.1-0.1M929.7,1786.1l0,0M928.5,1783.7l9.4-5.1 -7.5,2.5 -2.3,0 1.7-2M923.5,1773.3l6.1-3.2M922.2,1770.5l4.1-2.2 1.3-1.7 4.3-3.2M919.9,1765.6l1.2-0.6 17.1-8.9 -18.8,7.4M918.3,1762l7.9-3.8M917.6,1760.5l12.3-6.2M916.8,1758.6l1.9-1.6M915.7,1756.3l3.3-1.6 0.7-1.4M914,1752.3l0,0M913.3,1750.7l2.3-1.3M911.7,1746.9l4.9-2.4 -4.2,0.7M910.1,1743.1l4.5-2.2 -0.1-1 0.9-1.5M908.5,1739l1.3-0.6 5.7-3.4 9-4.7 -15.7,5.2M906.4,1734l14.6-6.6M905.7,1732.1l15.1-6.8M904.9,1730l10.3-4.7 2.4-2M901.2,1720.1l17.1-6.8 3.4-2.3 -11.7,3.2M899.6,1715.7l3.6-2.3M898.7,1713.2l1.9-1.1 3.4-2.2M897.6,1710.2l1.5-0.8M896.7,1707.6l10.2-4.2 1.8-1.6M895.5,1703.9l27.4-10.1 -26,7.6M894.1,1699.8l13.8-5.2M893.4,1697.8l14-5.2M892.9,1696.2l61.1-20.7 -46.7,14 6.4-3.1M891.6,1692.1l12.6-4.9 -8.9,1.8 5.7-2.9 6.7-3.1 -13.4,3.1 12.6-5 -11.4,2.4 -5.4,0.6 5.2-2.6 12.7-4.9 4.8-2.5M887.9,1679.9l2.5-1.3 2.1-1.6 4.6-2.4 -2.2-0.5 9.5-3.8 -4.3,0.2 0.7-1.2 4-2.2 -2.5-0.3 9-3.6 -6,0.6 -5.5,0.5M884.3,1667.1l16.9-5.2M883.7,1665.1l6.4-2.4M883.3,1663.3l15.5-5 1.5-1.4 -8.1,1.1 19.9-6.2 -16.1,3.1 3-1.8 2.7-1.7 17.1-5.4 -20.1,4 4.9-2.2 21.1-6.2 -13.9,2.4 -4.1,0 13.4-4.3 -15.1,2.7 13.9-4.4 9.7-3.3 -34.4,7.1 1.1-1.3 -5.6,0.3 26.1-7 -10,1.2 7-2.6 -11.3,1.6 -0.9-0.8 3.5-1.8 -14.6,2.1 -6.9,0.5 0.1-1.1 12.3-3.6M875.4,1630.2l27.7-6.7 -3.4-0.3 -15.3,2.1 1.7-1.4 -3.2-0.4 26.2-6.2 -3.5-0.3M873.8,1622.1l22.8-5.4 -16.9,2.2 11.3-3.2 11.7-3.2 -25.5,3.8 14-3.7 8.2-2.5 -4.9-0.1 9.7-2.8 -22.7,3.1 9.8-2.8 -8.6,0.5 1.9-1.3 -8.2,0.3 8-2.4 -8,0.4M870.7,1604.8l15.8-3.6M870.3,1602.7l27.8-5.4M869.8,1599.7l30.6-5.8M869.2,1595.8l4.7-0.8M868.9,1593.9l5.6-1.1M868.4,1590l7.8-1.6 8.9-2.3M867.4,1582.7l7-1.2M867,1579.7l4.1-0.9M866.5,1575.8l18.6-2.8 -17,0.9M866,1571.5l6-1.1 -3.5-0.6M865.6,1567.8l23.7-3.3 -18.6,0.9 6.2-1.7M864.1,1551.7l2.5-0.4M863.8,1547.6l7.4-0.8M863,1535.5l19.8-1.6M862.9,1533.8l9.4-1.3M862.5,1526.1l12.5-0.9M862,1507.9l11.2-0.9M862.5,1474.4l8.9,0 -2.6-1.1M862.7,1470.9l16-0.3 -15.5-1.7M862.8,1467.8l25.4,0.3 -10.8-1.6 -7.8-1.4 5.9-0.7 -9.7-1.6 -0.4-1 11.9-0.3M863.4,1458.4l19.1,0.4 -11.1-1.8M863.7,1453.4l16.6,0.2M863.9,1450.4l1.4,0M864.1,1448.9l8.5,0 1.7-0.9 4.3-0.6 6.3-0.5 32,1.8 -1.8-1.1 -15.2-2.3 -7.7-1.7 -11-2.1 -13.9-2.3M865.1,1436.9l8.8-0.2 -7.9-1.8 16.4,0.7M865.6,1432.3l16.8,1.3 -9.1-2.1 -1.3-1.1M866,1428.6l15.2,0.8 -13.6-2.6 28.5,2.3 -12-2.4M866.7,1422.8l1.8-0.1 19.6,1.4 -16.1-3 15.8,1 -3.8-1.5 -11.2-2.5 8.5,0.1 4.4-0.5 -6.9-1.9 1.3-0.9 -4.2-1.6 -2.4-1.3M868.4,1409.8l14.3,1.4M868.7,1407.9l13.4,1.2 0.9-0.9M869.1,1405.1l14.6,1.2 -13.9-3.2M869.6,1401.7l13.2,1.4 -0.7-1.2 -0.7-1.1 -6.6-2.1 13.9,1.2 8.2,0.4 -24.1-5.1 9.8,0.6M871.3,1391.7l1.6-0.6 2.6-0.6 5.9,0M872.2,1386.3l4.9,0.3M873.6,1378.7l3,0.5 2.4-0.6 16,2.1 0.7-0.9M874.6,1374l6,0.7M875.1,1371.4l23.2,3.9M875.6,1369l9.1,1.3 -1.4-1.3 16.1,2.4 -5.1-2.1 4.7,0 -17.1-4.8M878.6,1355.5l2.8,0.5 1.8-0.7 16.7,2.9 -8.8-3.1 1.6-0.7M880.3,1348.2l19.8,3.9M882.1,1341.2l5.1,0.3 -3.4-1.9M882.9,1338.2l7.8,1.1M883.8,1334.5l12.8,3.2 -4.5-2.3 -4.9-2.4 -0.9-1.3 -1.1-1.4M885.3,1329.1l13.4,2.9 -5.6-2.7 -3.5-2 12.2,2.4 -14.2-5.1 2.2-0.5M887.4,1321.8l10.4,2.5 3.7,0.1 5.9,0.6M888.6,1317.8l10.4,2.6 0.8-0.8 -6.3-3M889.9,1313.5l1.5,0.3 19.3,4.9 4.3,0.3M891.3,1308.8l4.2,1 7.9,1.4M892.8,1304.1l5.4,1.1 13.3,3.3M894.1,1300.2l20.4,6.1 -19.6-7.6 4.5,0.4 7.5,1.5 -10.8-4.8M896,1294.6l8.6,2 7,1.3 -8.3-3.9 11.2,2.8M900.1,1282.7l18.9,6.1 -11.7-5.3M902.7,1275.7l10.9,3.5 2.8,0M904.1,1272.1l2.1,0 7.9,1.9M905.2,1269.3l16.5,5.5 0.8-0.8 -11.2-5.5M906.9,1264.9l4.9,1.6 21.7,7.6 -22.6-10.1 8.5,2.3 -5.4-3.3M909.1,1259.4l12.3,4.4M911.3,1254l1.2-0.5 6.2,1.4M914,1247.8l5.1,1.8 12.3,4.2M915.5,1244.3l2.8,0.4 2.4,0 7.2,2.1M917.2,1240.3l17.9,7.4M918.2,1238.2l6.1,2.5 -0.1-1.2 0.7-0.8 8.6,2.8 2.6,0.1 -0.1-1.2M921.7,1230.5l0.2,0M922.5,1228.8l3.5,1.4M923.4,1227l5.5,2.2 4.5,1.1M924.6,1224.4l10.4,4.4 2.9,0.2 3,0.4 6.4,2 -14.3-8.1 7.6,2.5M927.9,1217.6l1.4,0.4M930,1213.4l14,6.3M931,1211.5l7.6,3.1 2.4,0.1 -5.8-4.1 9.8,3.9M933.9,1205.7l11.1,5.4M934.8,1204l3.2,1.1M937.3,1199.3l4.1,1.8 1.7-0.2 -4.4-3.6M941,1192.4l7.4,3.2 4.1,1.1M942.6,1189.6l17.1,8.8 -12.9-8.4M944.2,1186.8l14.3,7.4 -9.7-6.6M947,1181.9l0.4,0.2 6.2,2.4M948.8,1178.7l5,2.3 -2.4-2.6 13.5,6.8 1-0.7M951.2,1174.6l7.4,3.3M952.6,1172.3l1.3,0.4M954.5,1169.2l8.2,4 -1-1.8 6.6,2.8M958.1,1163.2l0.2,0.1M959.2,1161.6l1.9,1 8.7,4.2 -8.8-6.7M963,1155.5l2.7,1.5M963.8,1154.2l7.7,4 -6.5-5.4 7,3.4M968.6,1146.9l3.4,1.9M973.2,1140.1l6.7,4.2 1.9,0M974.7,1137.9l7.7,4.3M975.9,1136.2l10.7,6.5 7.9,4.3 -15.4-12.1M979.6,1131l3.6,1.8M981.9,1127.6l12.1,7.9 -1.5-2.3 0.2-1.1 -2.2-2.9M987.4,1120.1l7.9,5 3.3,1.2 -9.3-8.2 3.1,1.1 3.2,1 7.7,4.6M991.8,1114.3l6.8,4.4M994.5,1110.8l8.9,6.4 -2.3-3M996.4,1108.3l2.9,1.9 8.5,5.3M998.8,1105.2l2.4,1.3 11.4,7.7 9.9,6.6 -20.9-17.9 9.8,6.4M1002.9,1100.1l0.6,0.3M1004.6,1098l4.6,3 7.6,4.9M1006.9,1095.1l23.7,18.2M1012.1,1088.9l1.4,1M1013.1,1087.8l8.4,6.2M1015.1,1085.4l7.1,5.1 -2.1-3.1M1018.1,1081.9l2.4,1.8M1019.3,1080.5l7,5.5 -3.7-4.6M1021.3,1078.3l8.8,7M1022.4,1077l12.3,9.6 -2.1-3.2 -1.2-2.4 -3.9-4.9M1026.3,1072.6l0.5,0.1 1.9,0.4 11.3,8.8M1028.7,1070l5.2,3.7M1034.7,1063.5l0.9,0.5 4.9,3.1 9.8,7.9M1037.4,1060.7l9.8,8.7M1039.6,1058.3l6.6,5.8 4.9,3.3 -1-2.3M1043.4,1054.4l1.4,1.2M1047.4,1050.4l6.6,5.6M1050.9,1046.9l16.6,15.6 -9.2-10.8M1054,1043.8l13.1,12.5 -6.3-7.9 -1.5-2.9 0.1-1.5M1060,1038l5,4.5 7.1,6 3,1.7M1063,1035.2l3.6,3M1064.4,1033.8l5.8,5.2 -4.3-6.1 2,0.7M1067.5,1030.9l5,4.7 -2.4-4.2 1.3-0.1 0.1-1.4M1071.3,1027.5l5.9,5.6M1073.9,1025.2l1.6,1.4M1075,1024.2l16.7,17.5 -12.6-15.7M1079.8,1019.9l6.7,6.7 -4.1-6.2M1085.4,1015l2.9,2.8M1091.7,1009.8l3.2,3.1 2.6,1.5M1094,1007.9l5.5,5.7M1095.4,1006.7l7,7.2 -4.8-7.4M1099.2,1003.6l1.2,1.3 15.9,18.2M1101.1,1002.1l11.2,12.8 -5.2-8.2 -2.7-5M1104.5,999.4l3.7,3.8 2.9,2 13.5,15.6 -17.2-23.6M1108.3,996.4l10.4,12 -4-6.9 -1.3-3.3 4.7,4.5M1112.6,993.1l3.4,3.4 8.6,9.7M1115.8,990.7l19.4,24.6 -5.1-8.6 -12.1-17.7M1119.6,987.8l2,2.5 7.4,8.3 1-0.4M1124.6,984.1l0.5,0.6 2.4,1.4 14.4,18.3M1127.7,981.9l4.1,4.9 -0.4-2.3 3.6,3.4 5.4,5.7 -5.1-8.9 0.6-0.9 8.2,9.9 -10-16 3.5,3.2 7.5,8.9M1136.8,975.5l5.7,7.1M1139.4,973.7l11.4,15.5M1143.7,970.7l5.8,7.6M1146.3,969l7.4,10.2M1148,967.9l8.3,11.5M1155,963.3l6.8,9.7 0.8-0.6 -0.1-2.1 -2.5-5.9 0.5-1 3.3,3.2 4.6,5.5M1162,958.9l5.5,7.9 -2.2-5.5 6.6,8.7 -6.1-11.8M1167.3,955.6l6.4,9.6 -3.4-7.5 5.5,7.1M1171.5,953.1l1.8,1.6 7.1,9.9M1175.4,950.7l5.4,8.6M1177.2,949.7l1.7,2.3M1178.6,948.9l9.2,14.2 -3-7.1 -2.9-7 1.6,0.7M1188,943.5l3.4,5.5 5.4,7.6M1190.5,942.1l5.6,9 -1.7-5.1M1195.3,939.5l3.3,5.7M1198,938l0.6,0.6 1.7,1.1 7.6,11.9M1201.4,936.2l2.5,3.6M1205.1,934.3l4.3,7.2 -2.1-6.3M1208.1,932.7l0.8,1.1 6.8,11M1211.8,930.8l2.3,4.2M1213.7,929.9l0.2,0.2M1219,927.2l3.1,5.3M1221.2,926.1l0.1,0.3 5.7,9.3M1225.2,924.2l7.8,14.6 -4.7-12.1 4.3,6.6M1229.3,922.3l2.1,3.7 -0.3-3.1M1235.7,919.3l1.7,2.4M1239.1,917.8l4,6.6 0.7-0.9 9.9,19.7M1244.6,915.3l0.2,0.3M1249.1,913.4l2.7,5.4M1250.9,912.6l1.6,2.6 1.5,0.9M1254.2,911.3l0.1,0.2M1256.8,910.2l1.6,3 0-2.6M1259.4,909.1l4.3,8.9 -1.1-5.2M1264.5,907l2.8,6.4M1266.3,906.3l3.1,6.9 0.9-0.6M1272.4,904l0.4,0.9 5.3,11 2.1,2.7 -3.8-12.9 5.7,12.1 1.2,0.5M1282.7,900.1l2.1,4.5 0.6-1.2M1285.4,899.2l7.8,19.8M1287.8,898.3l0.5,0.9M1291.8,896.9l0.6,1.6M1294.2,896.1l8.5,22.9M1296.7,895.3l0.4,0.9M1302.9,893.2l3.6,8.7M1306.3,892.1l3.4,9.5 -0.5-4.8 0.9-0.5M1310.4,890.8l0.9,2.3M1313,890l1.5,3.2M1314.6,889.5l11.4,34.4 -6.1-23.6M1320.9,887.7l1.7,3.8 2.4,4.6 4.8,12.9 -1.9-10.3M1326.8,886l3.4,9.9 -0.3-4.9M1333.7,884.1l4,12.1 1.6,2.2 2.4,4.8 -1.6-9.9M1339.9,882.4l2.6,8.2 4.8,14.5M1344.3,881.3l0.2,0.2M1347,880.6l3.1,10.9 2,3.8M1351,879.6l1.3,3.7 1.8,3 -0.1-4.7 0.5-2.4M1356,878.5l3.1,11.4 0.4-2.9 3.3,9.9 -2.9-17.6 0.8-1M1361.5,877.2l4.4,15.3 -1.6-12.3M1364.9,876.5l3.1,11.1 -1-9.6 2,4.6M1374.7,874.4l5.2,20.9 -0.9-9.3M1379.7,873.4l0.1,0.2 4.7,19.3M1382.5,872.9l1.7,7.3 2.9,10.2M1390,871.6l2.3,7.6 0.3-3.9M1396,870.5l0,0.1M1397.6,870.3l1.1,3.7 0.4-3.6M1400.6,869.8l2,9.1 0-6.3 0.6-2.8M1406.7,868.9l1.8,8.5 0.2-6 3.2,15.3 -0.8-12.8M1411.7,868.1l1.1,3.2 0.9-1.2M1415.1,867.7l0.7,2.2M1417.5,867.4l2.2,8.7 0-7.7M1421.1,866.9l1.8,10.7M1424.1,866.5l1.8,10.4 0.9-0.9 0.1-8.6M1429.4,865.9l1.1,6.2M1431.4,865.7l1.3,7.6M1433.1,865.5l2.6,16.9M1441.9,864.6l0.6,3.1 1.9,10.3M1445.2,864.4l0.2,1.3M1448,864.1l1.1,9.4 0.8-2.5 0.7-4.1 1.5,4.9 3.9,39.6 1.2,3.1 0-13M1458.5,863.3l0.3,2.5 1.6,8.1M1463.4,863.1l1,10.6M1465,863l1.5,10.8 1.5,9.6 0.2-15.2M1472.8,862.6l0.6,6 3.6,64.2M1475.5,862.5l1.2,12.4M1477.4,862.4l1.5,17.6M1480,862.3l0.5,4.9 1.3,8.1M1483.1,862.2l0.5,4.1M1485.1,862.2l0.6,9.1M1493.4,862l0.4,3M1495.5,862l0.4,11.4 1-5.2 1.1,15 1-14.1" fill="none" stroke="#74c476" stroke-width="1.6" stroke-linejoin="miter" stroke-miterlimit="3"/>
<path d="M1500.6,737.8l0-18 1.3,3.3 1.2,3.1 0.5,11.6A762.2,762.2 0 0 0 1500.6,737.8ZM1505.1,737.8l0.5-9.8 1.3-2.4 1.3-8.6 1.3,1.3 1.3-3.5 1,16 1.3,2 1.3-4.1 1.5-14.2 1.3-2 0.8,20.5 1.2,3.1 2.4-44 1.2,5.5 0.7,18.5 0.9,11 1.9-17.1 0.8,11.4 1.6-8.6 1.7-11.2 1,7.5 1,8 1.5-5.1 0.6,13.9 1.4-1.6 1,4 1.4-3 1.2,2.4 1.4-2.7 1.1,1.5 1.8-8.4 1.1,3 1.4-2.7 2-12.5 -0.5,28.7 2.8-23.3 1.5-3.1 -0.6,27.2 1.8-7.9 1.6-4.7 2.1-11.5 -0.2,19.8 4.1-37 -0.9,27.5 -0.2,18.6A762.2,762.2 0 0 0 1505.1,737.8ZM1560.6,740.2l0.5-0.2 0,0.3A762.2,762.2 0 0 0 1560.6,740.2ZM1562.9,740.4l2.7-24.9 1.8-5.4 0.9,4.6 1,2.7 1,3.6 2.2-10.3 -0.5,18.9 -0.3,11.6A762.2,762.2 0 0 0 1562.9,740.4ZM1572.5,741.3l2.8-20.2 -0.5,18.9 3.7-24.9 -0.3,15.6 1.6-3.4 3.8-23.6 -1.4,24.9 0.9,3.2 3.5-20.3 -1.1,21.9 1.3-1 2.4-9.7 1.5-1.6 1.4-1.7 1.1,2 2.4-9.1 1.1,1.2 0.7,4.7 -0.5,14.1 0.8,3.9 -0.2,7.9A762.2,762.2 0 0 0 1572.5,741.3ZM1598.2,744.2l3.3-17.3 -1.2,17.5A762.2,762.2 0 0 0 1598.2,744.2ZM1600.5,744.5l3.8-19.9 3.3-14.8 -2.2,25.1 0.9,2.7 1.5-1.2 3.1-12.9 -0.3,10.7 1.4-0.8 0.8,3.1 1.5-1.7 3.6-15.1 -1.5,18.1 2.1-5.3 1.7-3 2.3-6.2 -1.7,18.9 4.1-17.7 0.9,2.2 1.9-3.4 0.1,6.9 -1.8,18.1 2.1-4.7 3.8-14.9 0.6,3.8 1,2 -1.6,14.8A762.2,762.2 0 0 0 1600.5,744.5ZM1633.7,749.6l4.6-20.4 3.7-13.6 -4.9,33.9 0,0.7A762.2,762.2 0 0 0 1633.7,749.6ZM1638.6,750.5l4-16.9 1.2,0.4 1.8-2.5 1.4-0.9 0.2,5.7 2.4-5.6 0.6,3.8 -2.1,17 3.7-12.1 1.7-2.5 4.6-16 -3.7,24.1 2.3-4.5 0.6,3.2 1.6-1.8 4.9-17.1 -0.4,8 -0.8,10.2 1.9-3.1 2.7-6.3 -2.1,15.1 2-2.8 5.1-17.5 0.8,2.3 -0.8,9.3 -0.2,6.5 -1.9,10.5A762.2,762.2 0 0 0 1638.6,750.5ZM1672.5,757.6l5.3-19.1 1.1,0.9 0.7,2.3 -2.1,14.3 1.7-1.7 4.1-11.7 1.4-0.2 -0.5,7.2 3.1-7.4 2.7-5.6 -2.2,13.9 0.7,2.3 0.3,4 0.3,3.9 5.6-16.9 1.7-1.4 0.9,1.5 -2.5,14.7 0.5,2.8 3.5-8.2 0.9,1.4 2.5-4.3 -0.6,6.7 4.2-10.6 4.9-13 1.5-0.6 1.5-0.5 -2.7,14.4 2.5-4 -5.9,23.9A762.2,762.2 0 0 0 1672.5,757.6ZM1709.6,767.2l10.7-34.4 -6.2,26.1 0.5,2.7 4.7-11.5 0.9,1.3 0.9,1.4 -2.5,12.9 3.8-8.3 -2.6,12.7 8.4-23.3 -1.5,9.2 1.5-0.4 0.4,2.9 -3,13.5A762.2,762.2 0 0 0 1709.6,767.2ZM1725.8,772l5.6-14.1 -0.4,5.7 6.5-16.6 -5,20.1 0.8,1.5 3-5.3 -2.6,11.2A762.2,762.2 0 0 0 1725.8,772ZM1735.7,775.2l2.6-5.9 -1.4,6.2A762.2,762.2 0 0 0 1735.7,775.2ZM1738,775.9l3.7-8.9 6.9-16.7 -2.6,11.6 2.8-4.4 4.2-8.6 2.6-3.4 -10.3,32.8A762.2,762.2 0 0 0 1738,775.9ZM1747.3,779l8.4-22 -5.5,19.8 0.9,1.2 0,2.3A762.2,762.2 0 0 0 1747.3,779ZM1754.5,781.5l4.5-10.8 5.8-12.5 3.2-5.2 -3.3,12.8 -5.2,17.5A762.2,762.2 0 0 0 1754.5,781.5ZM1760.1,783.5l3.7-7.8 1.4-0.1 -2.8,8.8A762.2,762.2 0 0 0 1760.1,783.5ZM1763.8,784.9l6.5-15.8 -5,16.4A762.2,762.2 0 0 0 1763.8,784.9ZM1765.7,785.6l5.6-12 -3.9,12.7A762.2,762.2 0 0 0 1765.7,785.6ZM1768.7,786.7l0.9-1.7 -0.3,1.9A762.2,762.2 0 0 0 1768.7,786.7ZM1770.4,787.4l6.9-15.5 5.6-11.3 -9.5,27.9A762.2,762.2 0 0 0 1770.4,787.4ZM1773.9,788.7l5.2-10.9 13.4-31.2 -11.2,32.3 3.9-6.3 -4.3,14.3 6-11.8 1.9-1.5 -4,13.6 1,0.9 2.8-3.7 -0.1,3.7 6.9-13.9 -0.5,4.6 4.9-8.6 1.6-0.5 -2.8,10.1 -0.8,5.2 -2.1,8.4 -1.2,3.6A762.2,762.2 0 0 0 1773.9,788.7ZM1796.8,798l6.2-12.4 -2.4,8.8 3.9-5.9 2.3-2.1 -1.2,6 1.7-0.9 7.6-14.2 3.4-4.6 -7.6,20.3 1.3,0.3 0.5,2 1.3,0.1 8.3-15.5 -0.4,4 -8.5,21.2A762.2,762.2 0 0 0 1796.8,798ZM1813.7,805.3l14.7-30.1 -7,18.6 0.1,2.8 1.8-0.8 5.2-8.5 -2.3,8.1 3.2-4 3.8-5.1 9.9-18.1 -9.7,23.7 -4.6,12.8 -2.3,6.6A762.2,762.2 0 0 0 1813.7,805.3ZM1827.1,811.6l9.2-16.9 -7.6,17.6A762.2,762.2 0 0 0 1827.1,811.6ZM1830.8,813.3l3.1-4.8 1.4-0.1 -2.2,6A762.2,762.2 0 0 0 1830.8,813.3ZM1834,814.9l5.3-9 -1.6,6 2.6-2.3 5.8-9.1 -1.2,5.4 3.2-3.7 1.2,0.5 -0.6,3.9 0.8,1.3 8.9-14.8 -5.8,14.2 7.3-11.4 -8.5,19.3 5.9-8.7 -0.1,3 -3.2,8.9 -2.4,5.3A762.2,762.2 0 0 0 1834,814.9ZM1852.8,824.4l10.2-18 -7,16.2 -0.1,2.8 5.6-8 1.8-0.7 2.2-1.4 -1.2,4.8 -3.5,8.5A762.2,762.2 0 0 0 1852.8,824.4ZM1861.3,828.9l8-12.7 -4.8,11.5 5.9-8.2 2.2-1.6 4.5-5.4 -4.7,11.1 8.4-12.7 -8.4,17.9 -2.3,4.9A762.2,762.2 0 0 0 1861.3,828.9ZM1876.1,837l1.6-2.5 9.8-14.7 2.7-2.1 -11,21.1A762.2,762.2 0 0 0 1876.1,837ZM1880.2,839.4l1.8-2.4 -1.1,2.8A762.2,762.2 0 0 0 1880.2,839.4ZM1882,840.5l4.4-6.1 0.6,1.4 4.6-5.4 -1.1,4.4 2.6-1.9 -3.9,8.9 -1.1,2.2A762.2,762.2 0 0 0 1882,840.5ZM1893.7,847.3l8.9-13.2 -7.6,14A762.2,762.2 0 0 0 1893.7,847.3ZM1897.4,849.6l1.8-2.7 -1.4,2.9A762.2,762.2 0 0 0 1897.4,849.6ZM1900,851.2l4.5-5.8 -3.3,6.5A762.2,762.2 0 0 0 1900,851.2ZM1902.4,852.7l2.9-3.9 8.7-11.5 -9.4,16.7A762.2,762.2 0 0 0 1902.4,852.7ZM1906.7,855.3l2-2.5 0.3,1.9 -0.8,1.6A762.2,762.2 0 0 0 1906.7,855.3ZM1910.8,858l3.7-5.1 6.8-8.3 -2.5,6.3 -4.9,9.1A762.2,762.2 0 0 0 1910.8,858ZM1915.4,861l9.7-12.9 -8,13.9A762.2,762.2 0 0 0 1915.4,861ZM1918.6,863l6.1-7.5 5-5.2 1.2,0.5 -8.6,14.7A762.2,762.2 0 0 0 1918.6,863ZM1922.7,865.7l14.3-19.5 -6.8,12.4 0.2,2 0.9,0.9 -0.1,2.3 -2.7,5.9A762.2,762.2 0 0 0 1922.7,865.7ZM1928.9,869.9l2.8-2.4 10.8-13.6 -10.8,17.9A762.2,762.2 0 0 0 1928.9,869.9ZM1933.4,873l5.7-7.4 3.6-3.1 4-3.5 7.4-8.4 -9,15.1 1.5,0 3.6-2.8 5.8-6 1,0.7 -14.4,21.9A762.2,762.2 0 0 0 1933.4,873ZM1944,880.5l4.9-5.1 -3.4,6.2A762.2,762.2 0 0 0 1944,880.5ZM1946,881.9l12.4-15.3 -4,7.7 0,2.1 -2.3,5.2 14-16.9 -2.8,5.9 -3.9,7.4 5.6-5.5 -1.8,4.6 4.3-3.6 6-5.9 -6.9,11.2 3.6-2.6 1.5,0.2 4.9-4.5 -1.1,3.6 -2.8,5.7 -3.9,7.2 5.3-4.9 -5.8,9.6 26.5-32.1 -17.5,24.7 3.5-2.5 -4.7,8 -2,4.7 -0.5,2.6 12.7-14.1 -4,7.1 -0.3,2.4 -6.8,10.2A762.2,762.2 0 0 0 1946,881.9ZM1975.6,904.4l6.7-6.9 -5.6,7.7A762.2,762.2 0 0 0 1975.6,904.4ZM1977.8,906.2l12.5-14.6 -2.6,5.2 1.7-0.1 -7.6,11.4 0.8,0.9 11.4-11.9 -1.4,3.7 -8.1,10.8A762.2,762.2 0 0 0 1977.8,906.2ZM1986.4,913.2l16.3-18.6 -14.9,19.7A762.2,762.2 0 0 0 1986.4,913.2ZM1988.1,914.6l1.8-0.7 0.4,1.4 2.2-0.8 -1.6,2.5A762.2,762.2 0 0 0 1988.1,914.6ZM1993.4,919l1.3-1.2 3.8-2.6 8.6-8.2 -2.3,4.7 11.1-11 -16.9,21.5 -0.4,1.3A762.2,762.2 0 0 0 1993.4,919ZM1999.2,924l9.9-9.6 0.2,1.7 -3.8,6.2 10.9-10.6 5.5-4.3 3.6-2.1 -9.3,12.5 0.9,0.8 2.4-0.8 1,0.8 -11.4,14.1A762.2,762.2 0 0 0 1999.2,924ZM2010.6,934.1l13.1-13.4 -11.8,14.6A762.2,762.2 0 0 0 2010.6,934.1ZM2012.3,935.6l12.6-12.4 10.4-9.6 -7.5,10.2 5.7-4.3 -15.5,18.7 5.4-4.1 -5.1,7.1A762.2,762.2 0 0 0 2012.3,935.6ZM2018.5,941.4l10.3-9.5 4.9-3.3 -13,14.8A762.2,762.2 0 0 0 2018.5,941.4ZM2021.9,944.5l2.6-2.5 12-10.9 11.9-10.7 -10.5,12.9 -0.7,2.6 2-0.3 1.3,0.5 -3.3,5.2 -5.4,7.5 -2.5,2.8A762.2,762.2 0 0 0 2021.9,944.5ZM2031.3,953.5l14.3-13.5 -4.7,6.6 -7.2,9.1 7.6-6 3.1-1.3 -3.2,5 10.3-8.6 -6.9,8.7 1.8,0 8-6.2 -1.6,3.4 6.3-4.5 -7,8.7 -2.5,4.3 6.1-4.3 0.4,1.3 7.5-5.4 -17.3,17.7A762.2,762.2 0 0 0 2031.3,953.5ZM2047.2,969.4l10.4-9.3 3.1-1.3 2.8-0.9 -11,12.3 4.6-2.7 0.5,1.3 11.3-9 -8.5,9.8 9.2-7 -13.6,14.5 5.5-3.5 9.8-7.3 -6.5,7.7 8.8-6.4 -14.3,14.6A762.2,762.2 0 0 0 2047.2,969.4ZM2061.6,984.7l5.5-4.3 -4.7,5.1A762.2,762.2 0 0 0 2061.6,984.7ZM2063.1,986.4l7.9-6.2 -7.1,7A762.2,762.2 0 0 0 2063.1,986.4ZM2065.1,988.5l7.8-6.6 0.6,1.1 -7.1,6.9A762.2,762.2 0 0 0 2065.1,988.5ZM2067.6,991.3l4.4-3.6 -3.8,4.3A762.2,762.2 0 0 0 2067.6,991.3ZM2070.3,994.4l7.7-5.3 -3.8,4.9 5-2.7 2.3-0.4 8.1-5.3 -14.7,13.9A762.2,762.2 0 0 0 2070.3,994.4ZM2076.1,1000.9l8.2-5.7 3.2-1.1 -7.7,8.2 0.9,0.9 2.1-0.2 5.5-3 5.1-2.7 -11.1,10.9A762.2,762.2 0 0 0 2076.1,1000.9ZM2084,1010.2l14-10.2 -12.5,12A762.2,762.2 0 0 0 2084,1010.2ZM2085.6,1012.1l11.1-7.7 10.7-7.3 -9.5,9.6 14.2-10.1 -14.3,13.4 10.4-6.9 -9.5,9.4 -7.1,6.9A762.2,762.2 0 0 0 2085.6,1012.1ZM2092.1,1020.1l5.8-3.7 14.5-10.1 -14.3,13.1 5.1-2.5 -7.6,7.4A762.2,762.2 0 0 0 2092.1,1020.1ZM2096.7,1025.8l6.9-4.4 -1.6,2.9 5.8-3.1 7.5-4.2 -15.1,13.3A762.2,762.2 0 0 0 2096.7,1025.8ZM2101.2,1031.5l4.9-2.6 19.7-13.7 -14.3,12.7 -4,4.6 6.9-3.7 15.3-10.1 -15.9,13.8 -1.1,2.3 5.1-2.3 5.3-2.4 13.5-8.6 -22.1,18.2 -4.1,3.9A762.2,762.2 0 0 0 2101.2,1031.5ZM2111,1044.4l8.4-5.2 7-3.6 -13.6,11.2A762.2,762.2 0 0 0 2111,1044.4ZM2113.5,1047.7l2.6-1.4 15.2-9.6 -6.9,6.6 6.9-3.5 0.2,1.5 4.5-1.8 0.3,1.4 -0.5,1.9 -16.6,12.8A762.2,762.2 0 0 0 2113.5,1047.7ZM2119.9,1056.5l13.1-8.6 6.8-3.3 6.1-2.7 -10.1,8.7 -0.4,1.8 -2.5,3.3 -1.6,2.6 23.6-14.9 -5.8,5.6 10.2-5.5 -5.9,5.7 -6.1,5.7 -18.7,14A762.2,762.2 0 0 0 2119.9,1056.5ZM2129.6,1070.5l17-10.4 7.9-3.9 -23.1,16.8A762.2,762.2 0 0 0 2129.6,1070.5ZM2132.3,1074.4l20.8-12.7 -3.8,4.2 -0.5,1.8 6.7-2.9 2.3,0 -4.2,4.3 0.2,1.3 -3.7,4 8.5-4 -2.8,3.3 -11.8,9.1 7.7-3.4 9.9-4.9 0.3,1.3 -8.8,7.2 11.4-5.8 2.3,0 1.2,0.8 8.2-3.7 -12.5,9.4 5-1.6 -5.3,4.8 9.4-4.3 4.2-1.2 -3.9,4 1.6,0.5 -11.8,8.7 9.3-4.2 -12.1,8.8 25.1-13.6 -1.6,2.4 -22,14.7 -7.8,5.5A762.2,762.2 0 0 0 2132.3,1074.4ZM2154.2,1108.9l22.6-12.3 -9.9,7.4 -11.1,7.5A762.2,762.2 0 0 0 2154.2,1108.9ZM2156.7,1113.2l16.1-8.3 -3.3,3.3 -9,6.8 -2,1.2A762.2,762.2 0 0 0 2156.7,1113.2ZM2160.4,1119.5l28-14.9 -6.8,5.4 3.2-0.4 -16.3,10.8 -5,4.2 22.7-11.3 -9.1,6.6 0.9,0.9 1.8,0.4 11.9-5.1 -7.1,5.4 -17.2,10.4A762.2,762.2 0 0 0 2160.4,1119.5ZM2168,1132.9l5.3-2.4 18.2-8.5 -9.6,6.7 28.5-14 -14.7,9.4 8.3-3 -6.4,4.9 -20.5,12.4 5.3-1.4 3.8-0.6 -12.5,7.2A762.2,762.2 0 0 0 2168,1132.9ZM2174.3,1144.7l24.1-11.9 -7.4,5.4 6.4-2 -4.6,3.9 7-2.2 -1.2,2 8.3-2.8 -4,3.5 5.1-1.2 -6.9,5 4.9-1.1 -5.7,4.3 -19,10.6A762.2,762.2 0 0 0 2174.3,1144.7ZM2182.2,1160l19.3-8.7 -18.7,10A762.2,762.2 0 0 0 2182.2,1160ZM2183.8,1163.2l23-10.3 -21.7,12 25.6-11 -24.4,13.2 13.2-5 2.5,0.2 10.3-3.5 -1.3,2 -2.3,2.5 0.9,1 8.2-2.4 13.9-5.1 -12.3,7.1 -24.1,12.7 8.6-2.7 9.9-3.1 20.6-8.1 -20.7,10.9 -3.2,2.9 7.7-2.1 7-1.8 -20.8,10.8 16.8-6.2 -15.3,8.2 5.8-1.2 15.8-5.6 -18.9,9.8 4.2-0.5 19.2-7 -11.9,6.6 -9.6,5.5 2.1,0.5 13.4-4.4 -13.8,7.3 0.5,1.1 -5.9,3.9 -4.4,2.6A762.2,762.2 0 0 0 2183.8,1163.2ZM2203.2,1206l21.4-8 -1.6,2.1 4.1-0.4 -8,4.7 -6.1,3.8 19.8-6.7 2.9,0.2 -14.3,7.2 10.6-2.9 9.8-2.5 -5.9,3.7 -1.1,1.8 -15.5,7.5 6.4-1.1 -13.7,6.7 23.7-7.9 -25,10.4A762.2,762.2 0 0 0 2203.2,1206ZM2211.5,1226.7l15.9-5.2 11.3-3 -19,8.6 6.2-1 10.5-2.6 1.2,0.9 -3.1,2.5 -14.9,6.9 23.5-7.4 0.2,1.3 4.7-0.3 1.4,0.8 -13,6.1 4-0.1 20.7-6 -24.8,10.2 5.2-0.5 -0.7,1.6 13-3.2 -9.2,4.6 -13.1,5.9 1,0.9 -6.9,3.7 -4.4,2.1A762.2,762.2 0 0 0 2211.5,1226.7ZM2222.1,1256.1l5-1.3 0.9,1.1 12.2-2.8 -5.6,3.2 8.6-1.5 16.7-4.2 -22.8,8.8 -5.8,3.2 19.2-4.8 17.7-4.4 -25.1,9.4 -13.6,5.7 9.8-1.8 1.7,0.7 11-2.1 -13.4,5.5 4.3,0 0.9,1 -11.3,4.8 -2.5,2.1 18.4-4.3 5.8-0.4 -11,4.6 19.3-4.4 -1,1.6 -4.6,2.7 0.2,1.3 -2.3,2 2.9,0.5 2.1,0.7 -6.9,3.3 -19.5,6.2A762.2,762.2 0 0 0 2222.1,1256.1ZM2234.1,1295.1l6.2-1.3 -4.3,2.4 16-3.1 -16.8,5.8A762.2,762.2 0 0 0 2234.1,1295.1ZM2235.3,1299.1l18.4-3.8 -9.2,3.8 -8.1,3.4 1.4,0.9 32.1-7.2 -0.4,1.5 -17.6,5.9 9.1-1.1 9.6-1.1 -22.8,7.1 -1.9,1.8 12.3-1.8 -2.2,1.9 -8.6,3.4 18.7-3.3 -6.9,3 1.5,0.9 17.3-2.9 -15.4,5.1 19-3.2 -19.7,6 -9.6,3.5 0.8,1.1 8.2-0.6 -0.1,1.3 -2.8,2 -15.2,4.4A762.2,762.2 0 0 0 2235.3,1299.1ZM2244.2,1335.3l25.8-4.7 -25.4,6.4A762.2,762.2 0 0 0 2244.2,1335.3ZM2244.9,1338.5l1.9-0.3 0.5,1.2 4,0.4 4.5,0.3 -9.9,3.3A762.2,762.2 0 0 0 2244.9,1338.5ZM2246.3,1345.1l15.3-2.3 3.1,0.6 -11.4,3.6 0.4,1.2 -5.8,2.4 -0.5,0.2A762.2,762.2 0 0 0 2246.3,1345.1ZM2247.8,1352.5l10.9-1.5 -8.9,3 -1.6,0.6A762.2,762.2 0 0 0 2247.8,1352.5ZM2248.6,1356.9l23.2-3.3 -6.4,2.5 -3.6,2 -2.4,1.7 7.8-0.1 -17.3,3.8A762.2,762.2 0 0 0 2248.6,1356.9ZM2250.7,1367.9l7-0.2 -1.1,1.5 -5.5,1.3A762.2,762.2 0 0 0 2250.7,1367.9ZM2251.4,1372.1l9.1-1 -8.8,2.7A762.2,762.2 0 0 0 2251.4,1372.1ZM2252.1,1376.2l1.6-0.2 2.2,0.9 -3.6,0.7A762.2,762.2 0 0 0 2252.1,1376.2ZM2255.7,1400.5l5.5-0.5 -4.4,1.8 -0.9,0.3A762.2,762.2 0 0 0 2255.7,1400.5ZM2256.1,1403.6l8.7-0.3 -8.5,1.7A762.2,762.2 0 0 0 2256.1,1403.6ZM2256.5,1406.6l2,0 4,0.7 6,0.6 -11.6,2.1A762.2,762.2 0 0 0 2256.5,1406.6ZM2257,1410.9l13-0.7 18.7-0.9 -13.4,2.8 1.1,1.2 5.7,0.6 -11.3,2.5 1.3,1.2 22.6-1.1 -10.9,2.4 -15.8,2.9 -9.6,2.2 41.6-2.9 -8.9,2.2 -23.7,3.6 13.1,0 9.2,0.4 -3.3,1.6 -22,3.2 34.5-1.7 -4.1,1.6 -9.2,2.1 7.5,0.7 -7.6,1.9 -2.7,1.5 12.8,0.3 -24.9,3.1 23.1-0.4 0.2,1.3 4.3,1 3,1.1 5.1,0.9 0,1.3 -1.4,1.4 -15,2.3 7.6,0.8 -10.7,1.9 -26,2.4A762.2,762.2 0 0 0 2257,1410.9ZM2261,1456.4l31-0.9 3,1.1 8.4,0.9 -33.7,3 20.9,0.2 5.9,1 -4.7,1.5 13.4,0.7 -22.1,2.3 -21.6,1.7A762.2,762.2 0 0 0 2261,1456.4ZM2261.6,1468.9l15.3,0.1 -12.8,1.7 -2.5,0.2A762.2,762.2 0 0 0 2261.6,1468.9ZM2262.2,1491.3l9.1,0.4 -9.1,0.6A762.2,762.2 0 0 0 2262.2,1491.3ZM2262.2,1496.2l10.4,0.5 -10.4,0.4A762.2,762.2 0 0 0 2262.2,1496.2ZM2262.1,1509.1l0.6,0 -0.6,0.1A762.2,762.2 0 0 0 2262.1,1509.1ZM2262,1515.6l25.2,1.5 -2.5,1.2 -15.1,0.9 11.7,1.5 9.2,1.6 -5.3,1.1 -0.4,1.3 12.7,1.6 10.2,1.7 -16.7,0.7 -8.9,0.9 -9.9,0.9 31.4,2.6 -26.5,0.1 16.7,2 -4.9,1.1 -6.9,1 15.5,2 -36.3-1A762.2,762.2 0 0 0 2262,1515.6ZM2261.2,1539.2l40.7,2.9 -19.9,0.2 11.2,1.9 11.1,2 -21.1,0 23.5,2.7 -2.7,1.2 -34.2-0.9 -9.2,0.1A762.2,762.2 0 0 0 2261.2,1539.2ZM2260.5,1551.4l32,3.1 -4.3,1 4.9,1.6 -23-0.4 16,2.5 12.3,2.2 -12.8,0.3 14.4,2.5 5.5,1.7 -30.8-1.2 -15.2-0.5A762.2,762.2 0 0 0 2260.5,1551.4ZM2259.3,1566l32.8,4 1.4,1.4 -13.5,0.1 -21-1.3A762.2,762.2 0 0 0 2259.3,1566ZM2258.8,1572.3l44.6,5.3 -21.6-0.8 -1.5,1.1 23.8,3.7 -17.1-0.5 0.3,1.3 12.8,2.7 -5.9,0.7 -12.4-0.1 0,1.3 13.9,2.9 -10.3,0.1 -28.2-2.6A762.2,762.2 0 0 0 2258.8,1572.3ZM2257.1,1588.4l39.8,5.5 2.9,1.7 -29.3-2.3 6.9,2.2 3.3,1.6 5.3,2 8.3,2.4 6.2,2.1 -15.7-0.8 -10.9-0.1 -18.4-1.8A762.2,762.2 0 0 0 2257.1,1588.4ZM2255.3,1602l23.4,3.9 22,4.3 -45.7-5.3A762.2,762.2 0 0 0 2255.3,1602ZM2254.9,1605.5l39,6.4 1.2,1.5 -15.6-1 -0.8,1.2 1.3,1.5 -26.1-2.9A762.2,762.2 0 0 0 2254.9,1605.5ZM2253.6,1614l40.4,7.1 2.8,1.7 -15.2-1 3.3,1.8 -5.8,0.4 12.9,3.4 -15.8-1.3 1.6,1.6 19.5,4.5 -9.8-0.3 -14.6-1.2 1.3,1.5 -5.5,0.4 -7.9-0.1 23.3,5.4 -1,1.1 -21.1-2.5 0,1.3 -12.1-1.4A762.2,762.2 0 0 0 2253.6,1614ZM2249.8,1637.2l19.3,4.5 -7-0.1 21.9,5.4 -12.9-1.1 -2.3,0.9 8.8,2.9 -11.4-0.9 4.5,2.2 2.3,1.8 6.3,2.5 -14.2-1.5 15.1,4.3 0,1.3 9.5,3.3 -13.3-1.4 -30.3-5.6A762.2,762.2 0 0 0 2249.8,1637.2ZM2245.6,1658.1l8.8,2.5 9.5,3.3 1.5,1.6 9.9,3.5 -6.2-0.1 -11.4-1.2 16,4.9 -11.3-1.3 4.1,2.2 12.8,4.3 0.9,1.5 -20.4-3.4 0.8,1.5 14.6,4.7 -0.3,1.3 -4.9,0.1 12.1,4.3 -20.2-3.6 -9.7-1 -9.1-1 5.4,2.6 3.5,2.2 9,3.6 9.7,3.7 -2.9,0.6 -5.9-0.2 -1.4,1 7,3.1 -6.9-0.5 -22-4.4 10.8,4.1 7.8,3.4 -12.7-2.1 8,3.5 14.1,5.1 -14-2.5 -17.5-3.8A762.2,762.2 0 0 0 2245.6,1658.1ZM2234.9,1702.2l15.1,5.1 -9.5-1.3 2.1,1.8 -5-0.1 5.3,2.8 -4,0.2 15.3,5.7 -6.7-0.6 -15.4-3.6A762.2,762.2 0 0 0 2234.9,1702.2ZM2231.7,1713.3l4.3,1.7 25.5,8.8 -11.9-2.2 -18.9-4.8A762.2,762.2 0 0 0 2231.7,1713.3ZM2230.3,1718l9.7,3.4 1.4,1.8 -11.8-2.7A762.2,762.2 0 0 0 2230.3,1718ZM2229.4,1721.2l10.1,4 -2,0.7 8,3.8 -14.2-3.1 -3.4-0.6A762.2,762.2 0 0 0 2229.4,1721.2ZM2227.1,1728.6l13.5,4.8 -13.9-3.5A762.2,762.2 0 0 0 2227.1,1728.6ZM2226.5,1730.6l20.2,7.4 -4.9-0.2 2.9,2.2 -6.8-0.9 -1.9,0.8 17.9,7.1 4.5,2.9 -10.6-2.1 -11.2-2.4 -1.6,0.8 12.5,5.5 -15.9-4.1 -6.3-0.8 5.4,3.2 10.6,5 -15.9-4.2 8.8,4.4 28.8,11.4 -28.8-8.7 -3.4,0.1 8.6,4.4 -1.4,0.8 -19.2-5.5 22.8,9.5 -5.2-0.5 -20-6.5A762.2,762.2 0 0 0 2226.5,1730.6ZM2216,1761.4l10.3,4.3 -1.6,0.7 -9.5-2.9A762.2,762.2 0 0 0 2216,1761.4ZM2214.6,1765l4.2,1.9 11,5.4 2.5,2.4 -11.4-3 -7.9-2.4A762.2,762.2 0 0 0 2214.6,1765ZM2212.2,1771.6l5,2.7 16.2,7.6 -22.4-7.3A762.2,762.2 0 0 0 2212.2,1771.6ZM2210.3,1776.4l16.4,7 -16.9-5.7A762.2,762.2 0 0 0 2210.3,1776.4ZM2209.5,1778.4l12.5,5.8 -13-4.4A762.2,762.2 0 0 0 2209.5,1778.4ZM2208.5,1781l11,4.9 1.2,1.9 3.7,2.8 -12.8-3.8 0.7,1.6 17.6,8.5 -10.3-2.8 -2.1,0.5 -7.2-1.6 15.5,7.8 -12.7-4 -5.7-1 9.2,5.2 0.5,1.6 4.5,3.3 -2.6,0.3 8.1,4.8 -13.2-4.3 -2.8,0.2 2.6,2.5 3.6,2.9 1.9,2.3 -15.1-5.3 14,7.5 5.8,4 -2.7,0.2 -8.2-2.3 -17.5-7A762.2,762.2 0 0 0 2208.5,1781ZM2194.6,1813.8l11.9,6.2 -2.6,0.2 16.2,8.8 -14.1-5.1 4.2,3.3 -8.4-2.5 4.8,3.7 -6-1.5 -0.3,1.3 -10.5-4A762.2,762.2 0 0 0 2194.6,1813.8ZM2189.3,1825.4l1.4,1 6,4.2 13.6,7.9 -5.8-1.4 -14.9-5.7 20.3,11.2 -6-1.6 4.7,3.7 -16.9-6.8 -7-3A762.2,762.2 0 0 0 2189.3,1825.4ZM2183.2,1838l10.5,6.5 -11.5-4.5A762.2,762.2 0 0 0 2183.2,1838ZM2181.7,1840.9l0.6,0.7 -0.9-0.2A762.2,762.2 0 0 0 2181.7,1840.9ZM2180.9,1842.6l8.9,5.5 -6.8-2 17.8,10.5 -1,0.9 -0.2,1.3 -9.6-3.5 1,1.9 5.3,4.2 -6.9-2.1 7.1,5.1 -8.3-2.9 -13.7-6.5A762.2,762.2 0 0 0 2180.9,1842.6ZM2173.5,1856.8l35.9,20.2 -29.7-14.4 16.9,10.5 -14-6.1 -3.9-0.7 0.1,1.6 -8.4-3.2 9.5,6.6 -6.2-2 13.5,8.9 -3.8-0.7 -16.6-8.3A762.2,762.2 0 0 0 2173.5,1856.8ZM2165.3,1871.9l2.1,2.4 14.6,9.7 -7.3-2.7 11.7,8.1 -22.3-11.2 10.2,7.2 6,4.9 -6.5-2.3 7.6,5.9 -4.8-1.3 -9.9-4.3 -1.6,0.5 -7.3-3.8A762.2,762.2 0 0 0 2165.3,1871.9ZM2156.5,1887.2l13.2,8.7 6.6,5.4 1.4,2.2 -17.8-9.1 -6.2-2.2 6.7,5.5 5.9,4.9 4.7,4.4 -1.5,0.6 -1.1,0.8 -13.4-6.8 6.8,5.7 -7.1-2.9 6.4,5.4 5.1,4.7 -12-6 0,1.5 21.4,14.9 -31-18.2A762.2,762.2 0 0 0 2156.5,1887.2ZM2142.2,1910.5l15.4,10.6 -9.5-4.7 -2.4,0 -0.7,1 -5.3-3A762.2,762.2 0 0 0 2142.2,1910.5ZM2138.8,1915.7l10.8,7.7 -5-1.8 9.9,8 26.8,19.2 5.5,5.2 -0.9,1 -15.6-8.8 -7-3.1 -27.1-16.6 0.9,2.1 -5-2.8A762.2,762.2 0 0 0 2138.8,1915.7ZM2129.1,1930.3l13.2,9.4 8.9,7.6 6.1,5.8 -13.1-7.5 -17.8-11.4A762.2,762.2 0 0 0 2129.1,1930.3ZM2125.8,1935.1l11.1,8.5 2.6,3.4 -2.1,0.1 -5.3-2.2 14.5,11.7 0.4,1.9 -16-9.8 6.2,6 -3.6-1 -0.9,0.9 2.7,3.5 -17.6-11.7A762.2,762.2 0 0 0 2125.8,1935.1ZM2116.5,1948.2l14.3,11.2 -7.3-3.8 -1.6,0.4 9.6,8.7 -4.6-1.8 16.3,13.6 1.7,2.9 -22.2-14.9 1.9,2.9 -15-9.9A762.2,762.2 0 0 0 2116.5,1948.2ZM2109.1,1958.1l2.8,2.9 -1.1,0.7 0,1.6 -3.8-2.3A762.2,762.2 0 0 0 2109.1,1958.1ZM2106.2,1962l8.6,7.5 2.2,3.3 -7.2-4 3.1,4 7.8,7.6 6.5,6.7 -21.1-14.8 16.2,14.2 -18.5-12.9 -4.5-2.7A762.2,762.2 0 0 0 2106.2,1962ZM2098.1,1972.4l21.1,18.1 -4-1.5 -1.7,0.3 6.2,6.6 -9-5.5 -7.8-4.7 11.7,11 4,4.9 -1.3,0.6 -26.7-20.3A762.2,762.2 0 0 0 2098.1,1972.4ZM2090.2,1982.3l8.3,7.9 15,13.9 -5.2-2.6 -7-4.1 6.2,6.8 -18.9-14.1 8.8,9 -12.8-10A762.2,762.2 0 0 0 2090.2,1982.3ZM2083.8,1990l20.1,17.9 -13.8-10 7.9,8.3 -3-0.9 -2.7-0.6 3.6,4.7 -5.7-3.2 9.3,9.7 -10.2-7.1 -13-10A762.2,762.2 0 0 0 2083.8,1990ZM2076,1999.2l17.1,16.2 3.9,5 -5.6-3.2 4.3,5.5 -4.6-2.3 -12.7-9.5 -7.6-5.7A762.2,762.2 0 0 0 2076,1999.2ZM2069,2007.1l6,5.8 6.5,7.5 -12.8-9.8 -0.1,1.5 16.4,16.6 -12.2-9.4 -3.9-1.8 -3.1-1.2 16.6,16.9 -2.3-0.4 -0.5,1.3 4.5,5.9 -4.3-2.3 0.9,2.6 -7.3-4.9 -16.8-14.6A762.2,762.2 0 0 0 2069,2007.1ZM2056,2021.4l11,11.3 -11.6-9.2 -0.8-0.6A762.2,762.2 0 0 0 2056,2021.4ZM2053,2024.5l2,2.2 4.4,5.8 -2.9-1 2.8,4.4 -9.6-7.9A762.2,762.2 0 0 0 2053,2024.5ZM2048.3,2029.4l13,13.7 -0.8,0.9 6.4,8 -16.9-14.7 6,7.6 9.4,11.1 2.6,4.4 -6.1-4.3 -3.2-1.4 -18.7-16.8A762.2,762.2 0 0 0 2048.3,2029.4ZM2039.9,2038l2.1,3.6 4.3,6.2 3.3,5 0.3,2.2 -14.1-12.9A762.2,762.2 0 0 0 2039.9,2038ZM2035.1,2042.8l2.6,3.3 6.3,8.2 -6-4.3 -5.4-4.8A762.2,762.2 0 0 0 2035.1,2042.8ZM2031.7,2046.1l12.2,13.6 -0.9,0.9 -1.8-0.1 2.6,4.5 9.9,12.2 -16.8-15.7 -7.9-6.5 -0.4,1.4 0.6,2.4 2.3,4.4 -9.2-8.1A762.2,762.2 0 0 0 2031.7,2046.1ZM2022.2,2055.2l1.5,3.3 3.1,5.1 -6.9-6.2A762.2,762.2 0 0 0 2022.2,2055.2ZM2019.4,2057.8l14.4,17 -5.9-4.5 4.4,6.7 -4-2.6 -12.9-12.9A762.2,762.2 0 0 0 2019.4,2057.8ZM2014.7,2062.1l16.4,19.2 -4.2-2.8 -3-1.3 -12.2-12.3A762.2,762.2 0 0 0 2014.7,2062.1ZM2009.9,2066.5l9,10.8 -10-9.9A762.2,762.2 0 0 0 2009.9,2066.5ZM2008.2,2068.1l3.2,4.5 13.2,16.7 -9.4-8.6 -0.7,1 -3.6-2.1 -5.3-4.2 7.4,10.3 -2.1-0.4 5.7,8.4 -11.5-11.3 2.1,4.4 -2.5-1 -2.9-1.4 9.2,12.6 -10-9.7 -3.1-1.7 18.3,23.5 -11.9-12.1 0,1.9 -2.4-0.8 -9-8.8 5.2,8.2 -8.6-8.4 10.4,14.4 -10-10.1 15.1,20.4 -7-6.5 5.8,9.2 -0.3,1.6 -14.8-16.1 2.8,5.3 -5.7-5 -3.4-2.2 9.2,13.5 2.9,5.7 -7.6-7.6 -1.5,0.2 -1.3,0.4 -0.9,0.8 -0.8,1.1 -8.9-9.3 6.5,10.3 -6.7-6.5 -5.3-4.8 4,7.2 2.6,5.4 3.1,6.2 -2.6-1.3 -1.9-0.4 -6.7-6.7 3.6,6.8 -0.9,0.9 -0.5,1.4 -6.7-6.9 11.2,17.2 -17.7-22.6A762.2,762.2 0 0 0 2008.2,2068.1ZM1953.5,2112.6l10,14.3 -4-3.3 4.9,8.9 -5.7-5.7 -5.3-5 0.5,2.7 4,7.7 -4.6-4.2 7.6,12.7 -16.3-20.5 13.3,20.7 -4.2-3.7 1.5,4.3 -8.3-9.5 5.6,10.1 -6.8-7.4 0.7,3.1 -9.9-12 7.6,13.1 -1.2,0.6 -9.7-12.3A762.2,762.2 0 0 0 1953.5,2112.6ZM1932.7,2127.5l4.3,7.7 -0.5,1.5 5.1,9.7 -7.4-8.6 1.9,5.1 5.5,10.3 -10.1-12.7 10.2,17.5 -6.6-7.5 -4.9-5.1 -7.9-9.6 -0.7-0.8A762.2,762.2 0 0 0 1932.7,2127.5ZM1920.5,2135.7l9.1,15.6 -5.1-5.5 -2.9-2.1 7.1,13.2 -1,0.8 -3.8-3.6 -9.9-13 -0.7-0.7A762.2,762.2 0 0 0 1920.5,2135.7ZM1912.1,2141.2l8.7,15.1 -2.7-1.9 -2.6-1.6 9.5,17.3 -10.1-13.7 0.6,3.3 8.2,15.6 -6.4-7.9 -8.2-10.7 -4.2-4.5 8.3,15.8 -10.8-15.1 6.6,13.2 4.7,10.1 -8-10.7 1.7,5.3 -4.1-4.3 4.8,10.3 -15.2-23.7A762.2,762.2 0 0 0 1912.1,2141.2ZM1891.8,2153.8l4.3,8 2.6,6.8 -1.2,0.5 -4.7-5.6 -0.2,2.2 -5.5-6.8 -0.4,1.7 6.1,12.9 -9.8-14.5A762.2,762.2 0 0 0 1891.8,2153.8ZM1882.8,2159.1l5.4,11.5 -0.4,1.7 -3.8-3.9 7.5,15.6 -2.2-1.4 -7.4-10.3 1.1,4.4 2.7,7.3 -11.6-18 4.5,10.6 -1.8-0.7 -6.2-9.8A762.2,762.2 0 0 0 1882.8,2159.1ZM1869.8,2166.5l16,30.8 -11.5-18.1 -2.3-1.6 -5.2-6.9 -1.3-1.8A762.2,762.2 0 0 0 1869.8,2166.5ZM1862.2,2170.6l9.9,20.4 3,8.3 -15.7-27.1A762.2,762.2 0 0 0 1862.2,2170.6ZM1857.8,2173l5.7,12.7 -0.5,1.7 3.7,9.8 -12.4-22.3A762.2,762.2 0 0 0 1857.8,2173ZM1853.2,2175.4l11.7,23.9 -11.2-18.8 4.1,10.5 -3.5-3.9 -5.6-9.3A762.2,762.2 0 0 0 1853.2,2175.4ZM1846.8,2178.7l2.1,6.1 7.5,17.5 -7.5-12 -0.9,0.9 0.6,4 -5.5-8.1 3,8.8 1.1,5.1 -3.9-5 -7-12A762.2,762.2 0 0 0 1846.8,2178.7ZM1836,2184.1l9.8,22.7 -11.7-21.7A762.2,762.2 0 0 0 1836,2184.1ZM1833.6,2185.3l5.9,14.2 -2.2-1.5 -2.9-3.2 -4.7-7.6A762.2,762.2 0 0 0 1833.6,2185.3ZM1829.2,2187.4l3.5,9.6 1,5 2.7,8.8 2.4,8 -9.6-17.5 6,15.8 -5.4-8.5 -0.3,2.5 -7.1-12.6 2.6,8.8 -5.2-8.3 4.2,12.1 -7.3-13 2.3,8.1 -2-1.4 1.5,6.6 -0.8,1.2 -1.4-0.1 -3.8-5.3 3.4,10.7 -1.1,0.6 -6.2-11 3.3,10.7 -5.2-8.8 0.5,4.4 -4.8-8.1 -2.6-4.9A762.2,762.2 0 0 0 1829.2,2187.4ZM1796.5,2202.2l8.2,22 -9.9-20.4 -0.5-0.7A762.2,762.2 0 0 0 1796.5,2202.2ZM1793.2,2203.6l7.7,21.3 -8.5-17.3 -1.5-3.1A762.2,762.2 0 0 0 1793.2,2203.6ZM1787.8,2205.8l1.3,3.6 6.4,19.1 0.4,4.4 -3.3-4.9 2.8,10.4 -5.5-10.2 -3.7-5.9 3.6,12.7 -6.9-14.3 2.6,10.1 0.8,5.7 -3.7-6 -2.2-2.1 -0.1,3.1 -1.7-1 -4.5-8.1 -4.1-9.6A762.2,762.2 0 0 0 1787.8,2205.8ZM1768.2,2213.4l0.8,2.6 -1.8-2.2A762.2,762.2 0 0 0 1768.2,2213.4ZM1766.9,2213.9l6.2,20.2 -3.9-7 0.4,4.7 0.8,6 0.2,4.2 -10.1-25.7A762.2,762.2 0 0 0 1766.9,2213.9ZM1758.4,2217.1l9.2,28 -2.5-3.3 -6.4-14.1 6.7,22.6 -3.5-6 -9.5-25.1A762.2,762.2 0 0 0 1758.4,2217.1ZM1751.2,2219.6l5,16.1 -6.5-15.6A762.2,762.2 0 0 0 1751.2,2219.6ZM1747.8,2220.8l5.8,19.1 4,15.5 -9.1-22.9 2.6,11.7 -1,1.2 -1,1 -8.4-23.2A762.2,762.2 0 0 0 1747.8,2220.8ZM1738.5,2223.9l6.8,23 0,4.2 -4.2-8.7 -2.5-3.7 -5-13.2A762.2,762.2 0 0 0 1738.5,2223.9ZM1732.7,2225.8l7.4,25.9 -4.2-9 -3.1-5.5 -4.1-10.1A762.2,762.2 0 0 0 1732.7,2225.8ZM1724.2,2228.5l1.1,5.5 0.1,4.4 -2.8-4.9 -0.1,4.2 0,4.3 -4.6-11.6A762.2,762.2 0 0 0 1724.2,2228.5ZM1717.6,2230.5l3.9,16.8 -5.7-16.3A762.2,762.2 0 0 0 1717.6,2230.5ZM1715.1,2231.2l6.6,26 -7.6-21.5 1.2,8.4 -1.7-1.2 0.6,6.6 -3.6-8.2 1.4,9.8 -5.8-16.3 3.5,17.2 -2.7-4.9 0.1,5 0.7,7.3 -6.2-17.8 -1,1.1 -1.5-0.9 2.6,14.8 4.5,21.8 -1.3,0.4 -2.1-3 -0.7,2.4 -10.7-36 4.4,22 -5.9-17.9 1.4,10.7 -3.7-9.6 0.9,8.7 -4.6-13.4 -0.6,2.8 6.1,30.2 -3.3-8.2 -4.6-13.3 0.1,5.6 -1.8-1.9 -0.4,3.6 -1.6-1.5 -2.8-6.4 -3.4-11A762.2,762.2 0 0 0 1715.1,2231.2ZM1669.7,2243.1l2.1,13.6 -1.2,0.5 3.2,20 -4.2-13.2 -0.3,4.7 -5.1-17.6 -2.6-6.1 1.5,13.2 2.3,16.9 -2.8-7.1 -1.6-1.5 -1.7-1.8 -4.4-18.4A762.2,762.2 0 0 0 1669.7,2243.1ZM1652.5,2246.8l2.8,16.9 -3.4-10.5 -1.9-3.2 -0.8-2.5A762.2,762.2 0 0 0 1652.5,2246.8ZM1646,2248.1l0.3,2.6 2,17 -4.6-17.5 -0.5-1.6A762.2,762.2 0 0 0 1646,2248.1ZM1641.7,2248.9l2,14.5 3.3,25.1 -4.1-15.3 -2-3.8 -0.1,6.6 -4.9-19.9 -0.8,2.4 -1.5-1 1.2,13.9 -4.5-18.5 1.1,13.6 -1.9-3.7 -1.1,1 -1.6-2 1.7,18.1 -4-16.5 -2.4-7 0.7,12.1 -2.1-4.9 0.2,8.9 -1.8-2.8 -1.2,0.3 -1.2,0.4 -3.6-15.7 -0.3-0.9A762.2,762.2 0 0 0 1641.7,2248.9ZM1611.5,2254l3.2,29.2 -4.2-20.1 0.3,10.6 -3-12.2 -0.4,6.5 -2.3-13.1A762.2,762.2 0 0 0 1611.5,2254ZM1602.6,2255.3l3.3,29.4 -4.8-26.4 -1.6-2.5 0-0.1A762.2,762.2 0 0 0 1602.6,2255.3ZM1597.7,2255.9l2.4,24.3 0.4,12.8 -0.8,4.5 -5.1-31.2 -0.8,4.3 -2.3-8.9 0.1,11.6 -0.3,7.8 -3.9-21.9 1,19.1 -0.9,3.7 -2.1-7.8 -1.9-5 0.9,19.5 -2.5-11.5 -2.5-11.4 -0.4,8.3 -0.2,10.6 -1.3-0.4 -3.7-24.2 -1.2-0.5 -0.5,8.7 -0.5,7.4 -1.1,1.9 -2.2-9.7 -1.1-8.7A762.2,762.2 0 0 0 1597.7,2255.9ZM1565.7,2259.4l1.4,23.2 -2.9-18.6 -1.1,1.1 -0.6,8.1 -2.1-10.7 -0.4,11.5 -0.9,4.3 -1.6-4.4 0.7,26.5 -1.7-4.7 -2.6-19.2 -0.9,5.7 -2-21.7A762.2,762.2 0 0 0 1565.7,2259.4ZM1549.7,2260.6l1.4,31.2 -1.2,1.6 -2-11 -1.7-8.3 -0.7,10.8 -1.5-5 -1.9-11.8 -1.3-0.9 -0.9,7.6 -0.1,23.3 -1.5-4 -1.2,1.7 -1.4-3.5 -1.2,3.1 -2.5-33.9A762.2,762.2 0 0 0 1549.7,2260.6ZM1531.5,2261.5l-0.2,18.8 -1.1,3.7 -1.2,2.7 -1.6-25A762.2,762.2 0 0 0 1531.5,2261.5ZM1526.3,2261.7l0.1,23.7 -1.3-1.5 -1.5-7.6 -1.5-9.5 -0.8,18.8 -1.6-23.7A762.2,762.2 0 0 0 1526.3,2261.7ZM1518,2262l-0.6,16.9 -1.6-16.9A762.2,762.2 0 0 0 1518,2262ZM1515.7,2262l-1,12 -1.3-6.9 -1,18.7 -1.3-5 -1.4-11.7 -1.1,19.9 -1.3-9.2 -1.4-8.4 -1.2,5.8 -1.2,0.7 -1.3,4.1 -1.3-10.3 -1.2,16.4 -1.3-2.7 -1.3,11.2 -1.3-6.9 -1.1-15.8 -0.7-11.7A762.2,762.2 0 0 0 1515.7,2262ZM1491.9,2262.2l-1.1,19.2 -0.8-19.3A762.2,762.2 0 0 0 1491.9,2262.2ZM1488.9,2262.1l-0.3,1.4 -1.7,25.4 -1.4,3.8 -0.7-25.2 -1.6,12.8 -1.3,3.3 -1.5,9.1 -0.8-19.1 -0.9-10.8 -1.7,16.1 -1.2-4.9 -1.2-0.6 -1.1-3 -2,18.8 -0.7-14.5 -1.8,13 -1.3,0.1 -0.7-11.7 -1.8,12 -1.6,5.7 -0.9-7 0.3-25.5A762.2,762.2 0 0 0 1488.9,2262.1ZM1460.9,2261.2l-1.4,13.7 -1.8,8.3 -1.9,11.6 0.1-23.5 -0.7-10.1 -2.5,20.5 -0.6-9.6 -1.4,1.4 -1.6,5.9 -0.9-5.7 -1.6,5.4 -0.7-8.9 -1.4,1.9 -1.6,4.4 -1.7,6.9 -0.8-7.2 -1.6,5.1 -1.6,3.6 -1.3-0.1 -0.8-4.8 -2.2,10.5 0.1-16.2 -2.4,12.5 -1.5,2.6 -1.2-0.4 -0.1-12.9 -2.2,10.1 -1.1-1.9 0.2-15.2 -1.7,3.5 -0.4-8.3 -2.6,13.2 -2.6,12.5 2.4-32A762.2,762.2 0 0 0 1460.9,2261.2ZM1419,2257.9l-2.1,13 -0.8-4.7 -1.9,6.2 -1.5,1.8 -2.2,8.4 -0.4-7.6 -2.6,11.1 0.2-12.3 -2.6,11 1.1-19.9 -1.6,3.1 -2,6 -2.4,8.6 -1.2-0.7 0.4-12.9 -0.3-7.3 -2.5,9.6 -1.5,1.8 -2.2,6.5 -0.9-3 0.8-14.7 -3.2,13.7 -2.4,7.7 0.9-15.3 -0.7-3.6 -3.9,17.8 -1.8,2.9 1.2-16.3 -0.8-3.1 0.4-10.6 -4,17.4 -1.5,1.6 -1.1-1.3 -4.5,19.6 1.5-17.2 -0.6-3.9 -1.7,2.3 -0.7-3.6 2.4-18.6A762.2,762.2 0 0 0 1419,2257.9ZM1370.2,2251.1l-4.5,20.8 -4.6,19 2.4-20.8 0.6-10.9 -2.9,9.3 -1.3,0.2 -0.1-6.5 -2.6,7.1 -2.7,7.2 2.5-19.7 -2.6,6.8 1.3-13.2 -5.3,20.7 1-11.9 -3.6,11.8 -3.9,13.1 -1.1-1 0.4-8.8 4.5-27.5A762.2,762.2 0 0 0 1370.2,2251.1ZM1347.4,2246.8l-7.7,32.1 1.5-13.7 -2.8,7.2 0.8-10 -1.2-0.3 -4.8,16.2 4.2-25.3 -0.7-2.8 -3,7.6 -4.3,13.7 4.9-27.5A762.2,762.2 0 0 0 1347.4,2246.8ZM1334.2,2243.9l-6.9,25.3 0.6-8.6 -3,7.5 -5.6,18.9 -0.6-3.3 0.9-9.6 -2.4,4.4 2.6-16.2 -1.4,0.1 -0.6-2.9 -1.9,2.4 -0.3-4.2 -0.5-3.2 -0.8-1.8 -4.2,11.5 2.7-15.9 -3.4,8.5 -4.7,13.1 4.2-21.4 0.9-8.8 -6.2,19.1 0.9-8.6 -0.8-1.7 -4.3,11.4 -1.3-0.3 1.1-9 -1.4,0.5 1.4-10.2 -2.6,5.1 -2.8,5.5 -3.2,6.6 -1.8,1.8 -4.2,10.3 2.5-13.6 -3,5.7 -1.1-0.8 3.6-17 -3.7,8.1 -1.9,2 -2.2,3.1 -1-1.1 -0.2-3.7 1.7-10.2 -2.1,2.3 -2.9,5.5 -2.6,4.3 -2.1,2.2 -0.2-3.7 -1.7,1.2 -3.5,7 1.6-9.3 1.5-9 1.9-10.3 -4.5,9.8 -3.6,7.3 1-7.2 4.8-17.1A762.2,762.2 0 0 0 1334.2,2243.9ZM1265.7,2225.3l-5.3,14.4 -1.2-0.3 -2.1,2.5 1.9-10.1 -6.8,16.6 2.5-11.4 1-6.9 0-4 -7.4,17.9 -4.1,8.2 4.8-18.1 1.6-8.4 -3.4,5.9 -4.4,8.9 1.3-7.5 -4,7.6 2.8-11.8 -9.8,23.7 1.9-9.1 -2.5,3.1 2.9-11.7 -4.4,8.5 -4.2,7.8 5.5-18.8 -3.6,5.9 -2.8,4.1 -0.1-3.4 3.1-11.9 -1.3-0.1 -4.6,8.6 -1.3-0.3 2-8.9 -3.6,5.9 6.6-20.6 -6.8,14.1 -5.5,10.7 -2.2,2.1 10.1-28.7A762.2,762.2 0 0 0 1265.7,2225.3ZM1220.8,2209.2l-10.7,24.1 1.4-6.9 1.5-7.1 1.6-7.5 -3.2,4.7 0.5-4.6 1.9-5.5A762.2,762.2 0 0 0 1220.8,2209.2ZM1212.4,2205.9l-9.7,22.1 8.4-22.7A762.2,762.2 0 0 0 1212.4,2205.9ZM1209.9,2204.8l-3.9,8.4 -1.4,0 2.7-9.5A762.2,762.2 0 0 0 1209.9,2204.8ZM1207.2,2203.7l-7.3,14.2 5.6-14.9A762.2,762.2 0 0 0 1207.2,2203.7ZM1204.6,2202.6l-12.1,26.6 7.4-20.9 -1.1-0.6 -3.4,4.8 -1.8,1 -1.8,1.1 -5.5,9.3 -3.2,4.3 -5.6,9.6 10.2-26.6 -6.7,12.2 -1.3-0.3 2.4-8.6 3.5-11 -14,28.2 0.1-3.3 10.5-26.4 -10.8,20.8 0.4-4 0.1-3.3 -3,3.4 3.8-11.3 -1.7,0.8 -5.5,8.8 6-15.8 1.5-6.2 2.1-5.7A762.2,762.2 0 0 0 1204.6,2202.6ZM1174.2,2189l-10.7,20.4 3.8-10.9 -2.7,2.7 -0.9-1 -5.4,8.4 -1.3-0.3 -0.7-1.5 -4.7,6.7 0.9-4.7 -0.3-2.3 2.2-7.4 -0.6-1.5 6.6-15.3A762.2,762.2 0 0 0 1174.2,2189ZM1158.4,2181.4l-11.4,21.2 -1.7,0.5 1.6-6 -1-0.9 -4.5,6.2 -4.1,5.1 -2.1,1.3 4-10.6 5.4-13.2 -5.5,7.9 -2.3,1.6 -1-0.7 -3,2.9 2.8-8 -2.8,2.5 8.6-18.6A762.2,762.2 0 0 0 1158.4,2181.4ZM1141.3,2172.5l-15.8,27.1 2.6-7.7 1.4-5.2 -4.2,5 1.5-5.4 1.7-5.7 -7.3,10.7 0.8-4 2.6-7.4 -6.3,8.7 -1.3-0.3 -0.8-1.1 2-6.2 -6.5,9.1 6.4-14.1 6.6-12.6A762.2,762.2 0 0 0 1141.3,2172.5ZM1123.6,2162.8l-18.3,30.6 8.9-18.1 -3.9,4.2 7.5-15.6 -7.3,10.2 5.4-11.9 -1.2-0.4 -8.2,11.6 -7,9.4 0.2-2.7 2.6-6.9 2.4-6.7 -3.9,4.2 -13.1,19.5 0.6-3.5 8.8-17.3 2.9-7.2 2.5-6.5 -10.3,14.5 1.4-4.7 5.2-11 -5.8,7.1 -0.8-1.1 1.8-5.2 -3.8,3.7 -18.1,26.6 16.4-28.7 -2,0.9 3.9-8.5 -4.8,5.2 -10.8,14.7 0.5-3.3 5.6-11 0-2.5 -10,13.3 3.6-7.9 -1.7,0.2 -5,5.4 4.8-9.7 2-5.4 -6,6.9 6.3-11.9 -3.6,3.3 0-2.4 -5.5,6 -0.9-1 -11,14.2 2.3-5.7 3.2-7 -2.9,1.9 2.6-6.1 -2.6,1.7 -3.2,2.3 -1-0.8 -5.9,6.4 2.1-5.4 6.4-11.5 -4.3,4 12.1-18.9A762.2,762.2 0 0 0 1123.6,2162.8ZM1060.8,2122.9l-4.9,6.2 -6.1,6.4 -5.6,5.7 5.5-9.9 -2.1,0.8 -9.1,10.5 9.1-14.8 -10,11.7 2.9-6.2 0.7-3.1 -13.3,16 -0.5-1.4 -4,3.2 3.2-6.5 2.7-5.8 4.4-8.2 -11.6,13.5 5.3-9.2 5.7-9.8 -0.6-1.3 -5.9,5.8 6.1-10.2 -1.2-0.5 3.8-7 1.8-3.3A762.2,762.2 0 0 0 1060.8,2122.9ZM1036.4,2105l-22.4,27.4 6.8-10.9 -10.2,11.1 3.4-6.5 1.7-4.2 7.5-11.8 -4.9,4.2 -3.1,2 4.5-7.8 -8.8,9.1 -6,5.4 20.1-26.9A762.2,762.2 0 0 0 1036.4,2105ZM1023.3,2094.7l-4.4,4.7 -23.9,27.8 4.9-8.2 11.7-16.4 2-4.6 -2.9,1.7 0.4-2.5 -6.7,6.2 2.9-5.5 -5.8,5 1.2-3.4 -1.5-0.2 4.3-7.1 -7.7,7.2 -3.2,1.8 4.9-7.8 5.5-8.4 -9.5,9.3 8-11.4 -4.7,3.6 -9.4,9.1 -7.8,7.1 6.6-9.6 -2.8,1.3 -7.2,6.3 11.7-15.3 -1.5-0.2 -5.5,4.3 -8.4,7.6 12.5-16.1 2.6-4.8 -13.4,13.2 -5.5,4.2 9.2-12.2 -2.7,1.1 -6.9,5.8 4.9-7.3 11-14 -11.1,10.3 -8,6.9 11.1-14 -14,13.3 6-8.3 10.1-12.8 -10.8,9.8 7.6-10 -17.1,16.4 0.6-2.5 -8.7,7.4 19-22 5.9-7.2A762.2,762.2 0 0 0 1023.3,2094.7ZM976.2,2053.7l-23.6,23.5 -1.9,0 2.4-4.4 1.6-3.5 -2,0.3 -3.6,1.9 -6.7,5 20.6-23.1 -0.3-1.4 -3.6,1.8 -6.6,5 -16.9,15.4 16.6-18.7 -1.7-0.1 -6.6,4.8 -5.1,3.4 11.1-12.9 -1.4-0.4 -3.1,1.3 -17.5,15.5 15.7-17.3 -3.1,1.3 0.2-2 2.6-4.3 -9.1,7 3.8-5.4 3.1-4.7 -3.6,1.7 -2.9,1 4.6-6.2 1.2-2.9 -12.8,10.4 7.6-9 -8.8,6.7 4.4-6 5.1-6.5 2.6-4.2 3.9-5.3 -15.8,13 -4.3,2.3 5.6-6.9 5.2-6.6 -2.9,1 -6,3.8 -9.7,7.2 10-10.8 8.9-9.9 -11.4,8.7 0.5-2.2 2.8-4.2 7.1-8.1A762.2,762.2 0 0 0 976.2,2053.7ZM932.4,2008.7l-15.5,12.3 -10.3,7.5 13.6-13.9 6.1-7 -5.6,3.3 -3.7,1.6 -7.3,4.7 0.6-2.2 12.1-12.2 -11.4,8.2 -3.6,1.4 4.3-5.4 -5.4,3 9.7-10 -5.2,2.9 5.2-6.1 -8.9,5.9 -8.3,5.3 16.6-15.6 -14.4,10.5 -4.4,2 0.8-2.3 -10.2,6.8 8.7-8.9 -14.3,10.2 10.5-10.4 11.4-10.9 -5.5,2.8 1.9-3.1 -13.7,9.5 -7.1,4.1 -3,0.8 30.1-25.6A762.2,762.2 0 0 0 932.4,2008.7ZM905.8,1977.3l-17.2,12.8 4.4-5.1 3-4 -11.1,7.2 1.6-3 3.4-4.2 -5.5,2.7 -3.5,1.1 11.9-10.9 1.3-2.6 -0.7-1 -15.7,10.5 10.1-9.4 0.3-1.8 -11.6,7.3 -6,3 -9.1,5.3 11.1-10 -4.9,2.1 18.2-15.3 -13.8,8.8 17.7-14.2A762.2,762.2 0 0 0 905.8,1977.3ZM889.1,1955.8l-25.8,18.3 9.4-8.6 -12.4,7.6 -5.3,2.3 10.1-9 1.6-2.8 2.7-3.6 -0.1-1.4 -2.8,0.5 8.3-7.6 2.2-3.1 -8.2,4.3 -0.7-1 -11.9,6.9 5.3-5.4 6.5-6.1 7.2-6.6 -9.6,5.3 2.6-3.4 5.6-5.4 -27.3,17.4 21.8-16.6 4.9-4.1A762.2,762.2 0 0 0 889.1,1955.8ZM871.9,1931.8l-25.3,16.3 8.1-7.1 -7.1,3.3 9.7-8.1 -6.5,2.9 -6.6,2.9 13.4-10.6 -18.8,11.1 6.1-5.6 -0.7-1.1 -8.7,4.2 12.3-9.6 9-7.4 -11.8,6.2 -4.1,1.2 3.2-3.6 -0.7-1.1 0.3-1.7 5.2-4.9 3.5-3.7 -4.1,1.1 -8.2,3.8 -5,1.7 11.4-8.8 -21,11.7 -10,4.8 13.1-9.7 10.8-8.2 -2.7,0.1 -8.8,4 4.3-4.1 -15.1,7.7 12.8-9.4 -6.9,2.8 1.4-2.4 -14.2,7.1 10.5-7.8 1.6-2.5 10.4-7.7 -13.6,6.6 18.3-12.3 -32.8,17.9 14-9.7 5.3-4.7 -0.8-1 -3.6,0.7 -2.7,0.1 17.5-11.6 -20.6,10.4 4.1-3.8 1.5-2.4 -15,7.1 8-6 10.1-7.2 2.6-2.9 -13,5.8 2-2.6 -0.6-1.1 20.6-12.3A762.2,762.2 0 0 0 871.9,1931.8ZM833.4,1869.7l-18.5,9.5 3.9-3.6 1.6-2.3 -17,7.8 3.4-3.3 5-4.2 -9.6,3.8 -10,3.9 24.6-14.7 -14.3,6.2 1.6-2.3 2.7-2.8 -11.9,4.8 1.1-2 10.5-7 -11.9,4.8 8.5-5.9 0.2-1.5 10.4-6.8 -9,3.2 -7.3,2.3 5.4-4.1 -2.1-0.4 19.3-10.8A762.2,762.2 0 0 0 833.4,1869.7ZM819.1,1842.6l-15.4,6.7 -18.3,7.7 15-8.9 16.7-9.6A762.2,762.2 0 0 0 819.1,1842.6ZM817,1838.3l-4.5,1.1 -10.3,3.6 5-3.8 0.3-1.6 -5.8,1.5 -4.5,0.7 -0.9-0.9 -2.7-0.2 -10.3,3.5 -13.2,4.9 3.6-3.1 6.9-4.7 12.6-7.4 -3.7,0.4 8.3-5.3 -7,1.9 6.8-4.6 -21.1,8.3 -9.1,2.8 5.9-4.1 -9.2,2.7 24-12.3 -10.2,3.2 5.5-3.8 -1.5-0.8 9.8-5.7 -6.5,1.5 -1.7-0.7 4.3-3.2 -14.9,5.1 -0.8-1 -4.4,0.4 13.2-7 4-3.2 5-3.4 -16.1,5.5 -5.6,0.9 6.7-4.2 7.2-4.4 -20.5,7.2 9.9-5.5 -2-0.6 5.9-3.8 -10.7,3 -4.6,0.5 17.3-8.4 -6.4,1.2 0-1.4 11.5-5.9 -3.8,0.1 -8.4,2 -10.4,2.7 13.4-6.6 0.2-1.4 -1.8-0.7 1-1.8 8.7-4.7 -36,12.5 22.6-10 -5.1,0.5 -3.6,0.1 8.4-4.6 6.5-3.8 -1.1-0.9 -2.2-0.5 1.9-2 -4.4,0.2 8.3-4.4 -6.7,1.1 -0.7-1 -7.9,1.5 21-8.7A762.2,762.2 0 0 0 817,1838.3ZM781.8,1755.2l-35.9,11.7 4.4-2.9 6.7-3.7 0.8-1.7 -2.8-0.3 4.1-2.8 -1.6-0.8 7.1-3.8 -9.3,1.9 8.6-4.3 -2-0.7 -0.1-1.2 -27.4,7.7 14-6 -4.2,0.1 18-7.3 -11.7,2.5 4.4-2.8 -10,1.9 8.8-4.2 8.6-4 -14.9,3.4 2.3-2.1 12.2-5.1 -7.9,1.1 5.2-2.9 -13.4,2.8 1.7-1.9 -2.3-0.6 10.7-4.6 -17.8,4 12.2-4.9 -5,0.1 3.2-2.3 -2.2-0.6 10.6-4.5 -9.1,1.4 -5.3,0.2 13.2-5.1 -17.4,3.6 13.3-5.1 -0.8-1.1 0.3-1.3 -16.1,3.1 -8.8,1.1 21-7.1 -6.6,0.5 -0.3-1.3 -9.2,1.2 11.4-4.4 4.3-2.4 2.4-2 13.6-4.1A762.2,762.2 0 0 0 781.8,1755.2ZM762.5,1692.4l-26.4,6.1 -1.7-0.8 6.8-3.1 -0.3-1.2 18.2-6 -22.8,4.5 -2.6-0.7 11.7-4.2 1.8-1.7 -6.5,0.3 -15.6,2.4 6.4-2.8 27.3-7.3A762.2,762.2 0 0 0 762.5,1692.4ZM758.6,1676.9l-39.6,8.6 6.1-2.8 16.3-5.1 7.3-3 -7.7,0.5 -11.7,1.4 -0.1-1.3 15.3-4.8 -14.6,2 10.7-3.7 -2.1-0.8 -13.3,1.6 0.5-1.4 10.7-3.7 3.6-2 -6.7,0.1 -3.8-0.5 2.8-1.9 6.2-2.5 -9.7,0.7 -5.9-0.1 16.1-4.6 -11.9,1.1 8.2-2.9 -28.3,4.2 15.7-4.4 16.9-4.5 -5.9-0.2 -17.9,2.1 -2.5-0.8 17.6-4.6 -0.4-1.2 19.9-4.3A762.2,762.2 0 0 0 758.6,1676.9ZM750.2,1636.9l-24.9,3.8 0.7-1.4 16.5-4.2 -10.7,0.6 12-3.4 -8.5,0.2 -21.4,2.4 0-1.3 -3.3-0.7 13.2-3.6 0.2-1.3 7.2-2.4 -26.2,2.9 11-3.1 31.2-5.8A762.2,762.2 0 0 0 750.2,1636.9ZM746.9,1617.2l-4.3,0.2 4.1-1A762.2,762.2 0 0 0 746.9,1617.2ZM742.8,1587.5l-3.4,0.3 1.1-1.4 2.2-0.4A762.2,762.2 0 0 0 742.8,1587.5ZM739.3,1548.3l-9.9,0.3 2.4-1.4 7.4-0.7A762.2,762.2 0 0 0 739.3,1548.3ZM738.1,1522.8l-10.4-0.4 6.4-1.4 -5.1-1.2 -4.2-1.1 13.2-0.9A762.2,762.2 0 0 0 738.1,1522.8ZM737.8,1492.8l-8.9-0.5 1.9-1.2 7.1-0.2A762.2,762.2 0 0 0 737.8,1492.8ZM738,1484.2l-10.7-0.6 10.7-0.5A762.2,762.2 0 0 0 738,1484.2ZM738.3,1471.8l-10.8-0.8 7.5-0.9 3.4-0.1A762.2,762.2 0 0 0 738.3,1471.8ZM739,1458.1l-7.3-0.6 4.4-1 2.9,0A762.2,762.2 0 0 0 739,1458.1ZM742.5,1415.2l-9.3-1.5 6.3-0.5 3.2,0.3A762.2,762.2 0 0 0 742.5,1415.2ZM746.1,1388l-3.1-0.6 3.1,0.3A762.2,762.2 0 0 0 746.1,1388ZM749,1369.7l-2-0.5 -2-1.6 4.3,0.5A762.2,762.2 0 0 0 749,1369.7ZM756.5,1332.1l-3.9-1 4,0.8A762.2,762.2 0 0 0 756.5,1332.1ZM763.3,1304.6l-5.7-1.7 4.8,0 1.3,0.2A762.2,762.2 0 0 0 763.3,1304.6ZM764.2,1301.1l-6.3-2 6.4,1.6A762.2,762.2 0 0 0 764.2,1301.1ZM769.3,1283.1l-2.1-0.7 -2.9-2.2 5.4,1.5A762.2,762.2 0 0 0 769.3,1283.1ZM771.4,1276l-3.4-1.2 -5.2-2.9 9.2,2.4A762.2,762.2 0 0 0 771.4,1276ZM779.5,1251.5l-10.5-3.9 10.7,3.2A762.2,762.2 0 0 0 779.5,1251.5ZM795.6,1208.8l-4.5-2.2 -0.7-1.7 5.9,2.2A762.2,762.2 0 0 0 795.6,1208.8ZM803.4,1190.7l-5.3-2.8 -4-3.1 10.1,4.1A762.2,762.2 0 0 0 803.4,1190.7ZM812.7,1170.4l-10-5.2 10.3,4.7A762.2,762.2 0 0 0 812.7,1170.4ZM834.9,1127.7l-11.4-6.8 11.8,6.1A762.2,762.2 0 0 0 834.9,1127.7ZM886.3,1047.9l-7.2-5.9 1.7-0.3 6.7,4.7A762.2,762.2 0 0 0 886.3,1047.9ZM923.4,1001.5l-6.2-5.9 -2.4-3.7 10.1,7.9A762.2,762.2 0 0 0 923.4,1001.5ZM945.1,977.5l-2.4-2.4 2.6,2.2A762.2,762.2 0 0 0 945.1,977.5ZM968.4,953.8l-4.2-4.7 4.6,4.3A762.2,762.2 0 0 0 968.4,953.8ZM995.5,928.7l-2.4-3.3 2.3,0.7 1.4,1.4A762.2,762.2 0 0 0 995.5,928.7ZM1019.1,908.6l-2.9-4 3.3,3.7A762.2,762.2 0 0 0 1019.1,908.6ZM1042.5,890.4l-1.9-2.9 2.5,2.4A762.2,762.2 0 0 0 1042.5,890.4ZM1063.5,875.2l-3.7-5.8 3.6,3 1.4,1.9A762.2,762.2 0 0 0 1063.5,875.2ZM1135.9,830.4l-4.5-9 2.2,1.4 4.1,6.6A762.2,762.2 0 0 0 1135.9,830.4ZM1140.8,827.8l-4.6-10.7 2.5,2.1 4.2,7.4A762.2,762.2 0 0 0 1140.8,827.8ZM1182.1,807.3l-2.7-7.1 0.7-1.6 4,7.7A762.2,762.2 0 0 0 1182.1,807.3ZM1198.1,800.1l-2.9-7.5 0.2-2.7 4.4,9.5A762.2,762.2 0 0 0 1198.1,800.1ZM1222.2,790.2l-1-3.2 1.4,0.2 1,2.5A762.2,762.2 0 0 0 1222.2,790.2ZM1236.2,784.9l-0.9-2.6 0.4-2.6 2.1,4.6A762.2,762.2 0 0 0 1236.2,784.9ZM1267.4,774.2l-3.5-12.3 3.7,7.4 -0.1-4.5 3.3,8.3A762.2,762.2 0 0 0 1267.4,774.2ZM1288.5,767.7l-2.5-10.8 2.5,4.2 1.9,6.1A762.2,762.2 0 0 0 1288.5,767.7ZM1293.4,766.3l-2-8.8 2.9,8.6A762.2,762.2 0 0 0 1293.4,766.3ZM1298.5,764.9l-0.3-1.3 0.4,1.3A762.2,762.2 0 0 0 1298.5,764.9ZM1322.2,758.8l-1-5.5 2.3,5.2A762.2,762.2 0 0 0 1322.2,758.8ZM1325.7,758l-1.2-6.9 2.1,6.7A762.2,762.2 0 0 0 1325.7,758ZM1351,752.5l-1.5-10.3 2.5,10.1A762.2,762.2 0 0 0 1351,752.5ZM1387.7,746.1l-0.9-7.8 2,7.7A762.2,762.2 0 0 0 1387.7,746.1ZM1412.1,742.9l-0.7-9.1 1.5,9A762.2,762.2 0 0 0 1412.1,742.9ZM1423.4,741.7l-0.3-4.5 1.1-1.5 0.9,5.8A762.2,762.2 0 0 0 1423.4,741.7ZM1492.2,737.8l0.3-10.3 1.2-0.1 1.3,1.8 1.2-8.3 1.3,11.6 1.2-20.5 0.1,25.8A762.2,762.2 0 0 0 1492.2,737.8Z" fill="#9ecae1"/>
<path d="M1503.6,737.8l0.6,14.1 0.9-14.1A762.2,762.2 0 0 0 1503.6,737.8ZM1559.8,740.2l0,0.3 0.8-0.3A762.2,762.2 0 0 0 1559.8,740.2ZM1561.1,740.3l-0.7,22.8 2.5-22.7A762.2,762.2 0 0 0 1561.1,740.3ZM1571.7,741.2l-0.1,6.2 0.9-6.1A762.2,762.2 0 0 0 1571.7,741.2ZM1597.5,744.1l-0.2,5.1 0.9-5A762.2,762.2 0 0 0 1597.5,744.1ZM1600.3,744.4l-0.2,1.9 0.4-1.8A762.2,762.2 0 0 0 1600.3,744.4ZM1631.9,749.3l-0.3,3.2 0.2,5.5 1.9-8.4A762.2,762.2 0 0 0 1631.9,749.3ZM1637.1,750.2l-0.4,8.5 1.9-8.2A762.2,762.2 0 0 0 1637.1,750.2ZM1670.1,757l-4,20.9 3.8-11.2 2.6-9.1A762.2,762.2 0 0 0 1670.1,757ZM1707.6,766.6l-2.3,9.5 -3,15 7.3-23.9A762.2,762.2 0 0 0 1707.6,766.6ZM1725.6,772l-0.2,1.1 0.4-1.1A762.2,762.2 0 0 0 1725.6,772ZM1733.7,774.5l-0.6,2.8 0.1,3.8 2.5-5.9A762.2,762.2 0 0 0 1733.7,774.5ZM1736.9,775.5l-1.8,7.4 2.9-7A762.2,762.2 0 0 0 1736.9,775.5ZM1745.3,778.3l-6.1,19.2 3-5.1 5.1-13.4A762.2,762.2 0 0 0 1745.3,778.3ZM1751.1,780.3l-0.1,1.6 -2.7,11.5 1.6-1 4.6-10.9A762.2,762.2 0 0 0 1751.1,780.3ZM1759.5,783.3l-1.2,4 1.8-3.8A762.2,762.2 0 0 0 1759.5,783.3ZM1762.4,784.4l-6.5,20 7.9-19.5A762.2,762.2 0 0 0 1762.4,784.4ZM1765.3,785.5l-1.1,3.6 1.5-3.5A762.2,762.2 0 0 0 1765.3,785.5ZM1767.4,786.3l-1.9,6.1 3.2-5.7A762.2,762.2 0 0 0 1767.4,786.3ZM1769.3,786.9l-1.1,5.4 2.2-4.9A762.2,762.2 0 0 0 1769.3,786.9ZM1773.4,788.5l-1.7,5 2.2-4.8A762.2,762.2 0 0 0 1773.4,788.5ZM1794.5,797l-3.3,10.2 3.3-4.7 2.3-4.5A762.2,762.2 0 0 0 1794.5,797ZM1813.2,805.1l-2.3,5.9 2.8-5.7A762.2,762.2 0 0 0 1813.2,805.1ZM1826.5,811.3l-1.2,3.6 1.8-3.3A762.2,762.2 0 0 0 1826.5,811.3ZM1828.7,812.3l-5.8,13.2 5.2-7.9 2.7-4.3A762.2,762.2 0 0 0 1828.7,812.3ZM1833.1,814.4l-1.8,5 2.7-4.5A762.2,762.2 0 0 0 1833.1,814.4ZM1851.6,823.7l-6.2,13.7 7.4-13A762.2,762.2 0 0 0 1851.6,823.7ZM1860.8,828.6l-1.7,3.9 2.2-3.6A762.2,762.2 0 0 0 1860.8,828.6ZM1870.1,833.7l-4.4,9.6 4.2-4.9 0.5,1.5 -3,7.8 -0.3,3.1 9-13.8A762.2,762.2 0 0 0 1870.1,833.7ZM1879.2,838.8l-3.8,7.2 4.8-6.6A762.2,762.2 0 0 0 1879.2,838.8ZM1880.9,839.8l-1.9,4.9 3-4.2A762.2,762.2 0 0 0 1880.9,839.8ZM1888.1,844l-9.9,18.9 4.5-5.3 3.6-3.6 3.5-3.5 -0.9,3.9 4.8-7.1A762.2,762.2 0 0 0 1888.1,844ZM1895,848.1l-5.6,10.2 -3.4,7.9 11.4-16.6A762.2,762.2 0 0 0 1895,848.1ZM1897.8,849.8l-5,9.9 4.6-5.2 2.6-3.3A762.2,762.2 0 0 0 1897.8,849.8ZM1901.2,851.9l-3.9,7.4 5.1-6.6A762.2,762.2 0 0 0 1901.2,851.9ZM1904.6,854l-4.1,7.2 1.3,0.2 4.9-6.1A762.2,762.2 0 0 0 1904.6,854ZM1908.2,856.3l-4.4,8.9 -1.3,4.3 8.3-11.5A762.2,762.2 0 0 0 1908.2,856.3ZM1913.9,860l-2.7,4.8 2.5-1.6 1.7-2.2A762.2,762.2 0 0 0 1913.9,860ZM1917.1,862l-2.8,4.9 3.1-2.5 1.2-1.4A762.2,762.2 0 0 0 1917.1,862ZM1922.3,865.5l-2.5,4.1 2.9-3.9A762.2,762.2 0 0 0 1922.3,865.5ZM1928.5,869.7l-0.4,0.9 0.8-0.7A762.2,762.2 0 0 0 1928.5,869.7ZM1931.7,871.8l-0.2,0.3 -7.7,13.3 9.6-12.4A762.2,762.2 0 0 0 1931.7,871.8ZM1942.6,879.5l-3.8,5.8 4.3-3.9 0.9-0.9A762.2,762.2 0 0 0 1942.6,879.5ZM1945.5,881.6l-1.9,3.3 2.4-3A762.2,762.2 0 0 0 1945.5,881.6ZM1975.2,904.1l-1.8,2.7 2.2-2.4A762.2,762.2 0 0 0 1975.2,904.1ZM1976.7,905.2l-11.9,16.1 13-15.1A762.2,762.2 0 0 0 1976.7,905.2ZM1984.5,911.6l-8.8,11.6 -4.9,7.9 15.6-17.9A762.2,762.2 0 0 0 1984.5,911.6ZM1987.8,914.3l-0.5,0.6 0.8-0.3A762.2,762.2 0 0 0 1987.8,914.3ZM1990.9,917l-4.3,6.5 -0.6,2.6 7.4-7.1A762.2,762.2 0 0 0 1990.9,917ZM1998.6,923.5l-0.4,1.5 1-1A762.2,762.2 0 0 0 1998.6,923.5ZM2009.1,932.7l-4.6,5.6 -2.4,4.5 8.5-8.7A762.2,762.2 0 0 0 2009.1,932.7ZM2011.9,935.3l-3.1,3.8 3.5-3.5A762.2,762.2 0 0 0 2011.9,935.3ZM2018.3,941.2l-0.8,1.1 1-0.9A762.2,762.2 0 0 0 2018.3,941.2ZM2020.7,943.4l-10.6,12.2 11.8-11.1A762.2,762.2 0 0 0 2020.7,943.4ZM2029.3,951.6l-13.2,15.2 6.7-5.2 8.5-8.1A762.2,762.2 0 0 0 2029.3,951.6ZM2046.3,968.5l-14.7,15.1 15.6-14.2A762.2,762.2 0 0 0 2046.3,968.5ZM2059.3,982.2l-2.6,2.7 -2.6,4.1 -1,2.5 8.5-6.8A762.2,762.2 0 0 0 2059.3,982.2ZM2062.4,985.5l-4.9,5.3 5.6-4.4A762.2,762.2 0 0 0 2062.4,985.5ZM2063.9,987.2l-17.8,17.3 19-16A762.2,762.2 0 0 0 2063.9,987.2ZM2066.4,989.9l-17.9,17.2 19.1-15.8A762.2,762.2 0 0 0 2066.4,989.9ZM2068.2,992l-3.7,4.1 3-1 1.7,0 1.1-0.7A762.2,762.2 0 0 0 2068.2,992ZM2074.9,999.5l-7.4,7 6.6-4.1 2-1.5A762.2,762.2 0 0 0 2074.9,999.5ZM2082.3,1008.2l-1.4,1.3 -3.1,4.2 5.3-2.8 0.9-0.7A762.2,762.2 0 0 0 2082.3,1008.2ZM2085.5,1012l-0.3,0.4 0.4-0.3A762.2,762.2 0 0 0 2085.5,1012ZM2091.6,1019.4l-3.4,3.2 3.9-2.5A762.2,762.2 0 0 0 2091.6,1019.4ZM2095.6,1024.3l-1.6,1.6 -0.9,2.2 3.6-2.3A762.2,762.2 0 0 0 2095.6,1024.3ZM2100.2,1030.3l-1,0.9 0.4,1.2 1.6-0.9A762.2,762.2 0 0 0 2100.2,1030.3ZM2110.4,1043.6l-3.8,3.6 4.4-2.8A762.2,762.2 0 0 0 2110.4,1043.6ZM2112.8,1046.8l-5.3,4.3 6-3.4A762.2,762.2 0 0 0 2112.8,1046.8ZM2119.2,1055.6l-12.4,9.6 13.1-8.7A762.2,762.2 0 0 0 2119.2,1055.6ZM2128.6,1068.9l-7.9,5.8 3.2-0.7 5.7-3.5A762.2,762.2 0 0 0 2128.6,1068.9ZM2131.4,1073l-6.4,4.7 5.2-2.1 2.1-1.2A762.2,762.2 0 0 0 2131.4,1073ZM2153.8,1108.2l-6.5,4.6 6.9-3.9A762.2,762.2 0 0 0 2153.8,1108.2ZM2155.8,1111.5l-6.2,4.2 2.7-0.2 4.4-2.3A762.2,762.2 0 0 0 2155.8,1111.5ZM2158.5,1116.2l-21.8,14 14.4-6.9 4.5-1.2 4.8-2.6A762.2,762.2 0 0 0 2158.5,1116.2ZM2167.4,1131.9l-8.6,5.2 9.2-4.2A762.2,762.2 0 0 0 2167.4,1131.9ZM2173.7,1143.6l-19.1,10.9 19.7-9.8A762.2,762.2 0 0 0 2173.7,1143.6ZM2181.3,1158.2l-6.8,3.8 -4.8,3.7 12.5-5.7A762.2,762.2 0 0 0 2181.3,1158.2ZM2182.8,1161.3l-18.9,10 11.1-4.1 8.8-4A762.2,762.2 0 0 0 2182.8,1161.3ZM2202.4,1204l-3.7,2.1 -4.1,3.1 8.6-3.2A762.2,762.2 0 0 0 2202.4,1204ZM2210.7,1224.6l-17.7,7.4 8.2-1.8 10.3-3.5A762.2,762.2 0 0 0 2210.7,1224.6ZM2221.2,1253.5l-5,2.4 -6.1,3.4 12-3.2A762.2,762.2 0 0 0 2221.2,1253.5ZM2233.4,1292.5l-17,5.4 4.6,0 13.1-2.8A762.2,762.2 0 0 0 2233.4,1292.5ZM2235.2,1298.9l-2,0.7 2.1-0.5A762.2,762.2 0 0 0 2235.2,1298.9ZM2243.2,1331.1l-4.9,1.4 -0.7,1.4 -12.2,4 11.1-1.2 7.7-1.4A762.2,762.2 0 0 0 2243.2,1331.1ZM2244.6,1337l-12.3,3.1 12.6-1.6A762.2,762.2 0 0 0 2244.6,1337ZM2245.9,1343.4l-0.1,0.1 -7.3,2.8 7.8-1.2A762.2,762.2 0 0 0 2245.9,1343.4ZM2247.4,1350.8l-8.4,2.9 8.8-1.2A762.2,762.2 0 0 0 2247.4,1350.8ZM2248.2,1354.6l-5.3,2 3.9,0.5 1.8-0.2A762.2,762.2 0 0 0 2248.2,1354.6ZM2249.9,1363.5l-14.6,3.2 -5.2,2.2 9.4-0.5 9.9-0.5 1.3,0A762.2,762.2 0 0 0 2249.9,1363.5ZM2251.1,1370.5l-15.5,3.5 15.8-1.9A762.2,762.2 0 0 0 2251.1,1370.5ZM2251.7,1373.8l-0.3,0 -28.6,6.1 29.3-3.7A762.2,762.2 0 0 0 2251.7,1373.8ZM2252.3,1377.6l-26.6,5.4 13-0.9 0.4,1.2 -7,2.3 -14.1,3.4 7.6,0 10.5-0.3 1.1,1 6.8,0.2 -6.3,2.2 -24.5,4.7 25.7-2.4 -10.1,2.6 -8.2,2.4 8.8-0.1 -8.9,2.4 16.1-0.9 -9.7,2.5 28.8-2.8A762.2,762.2 0 0 0 2252.3,1377.6ZM2255.9,1402.1l-5.1,1.7 5.3-0.2A762.2,762.2 0 0 0 2255.9,1402.1ZM2256.3,1405l-7.8,1.6 8,0A762.2,762.2 0 0 0 2256.3,1405ZM2256.9,1410l-6.8,1.3 6.9-0.4A762.2,762.2 0 0 0 2256.9,1410ZM2260.9,1455.6l-13.5,1.2 13.6-0.4A762.2,762.2 0 0 0 2260.9,1455.6ZM2261.5,1467.9l-11.9,0.9 12,0.1A762.2,762.2 0 0 0 2261.5,1467.9ZM2261.6,1470.9l-22.4,2 -1.1,1.2 10.4,0.9 -3.3,1.3 1.6,1.1 -11.5,1.6 22.4,0.6 -18.9,1.7 3,1.1 6.9,1.1 -6.5,1.3 8.5,1.1 -4,1.2 15.3,1 -8.5,1.4 -3.8,1.2 12.5,0.6A762.2,762.2 0 0 0 2261.6,1470.9ZM2262.2,1492.3l-16.2,0.9 8.4,1.1 -4.3,1.3 12.1,0.6A762.2,762.2 0 0 0 2262.2,1492.3ZM2262.2,1497.1l-27.4,1 3.5,1.2 3.5,1.2 -14.2,1.1 31.4,1.3 -13.3,1.2 -1.1,1.2 -21,1 17.5,1.4 21,1.4A762.2,762.2 0 0 0 2262.2,1497.1ZM2262.1,1509.2l-16.7,0.9 14.3,1.4 -4,1.2 -2.2,1.2 1.1,1.2 7.4,0.5A762.2,762.2 0 0 0 2262.1,1509.2ZM2261.2,1538.3l-23.3-0.7 23.3,1.6A762.2,762.2 0 0 0 2261.2,1538.3ZM2260.6,1549.3l-6.8,0.1 -3.1,1 9.8,1A762.2,762.2 0 0 0 2260.6,1549.3ZM2259.5,1564.2l-9.3-0.4 5.2,1.7 3.9,0.5A762.2,762.2 0 0 0 2259.5,1564.2ZM2259,1570.2l-20.6-1.3 6.2,1.8 14.2,1.6A762.2,762.2 0 0 0 2259,1570.2ZM2257.2,1587.4l-23.8-2.2 23.7,3.2A762.2,762.2 0 0 0 2257.2,1587.4ZM2255.5,1600.9l-15.9-1.6 15.7,2.7A762.2,762.2 0 0 0 2255.5,1600.9ZM2255,1604.9l-13.6-1.7 13.5,2.3A762.2,762.2 0 0 0 2255,1604.9ZM2253.9,1612.2l-6.6-0.7 -7.6,0.1 13.9,2.4A762.2,762.2 0 0 0 2253.9,1612.2ZM2249.9,1636.4l-6.6-0.7 6.5,1.5A762.2,762.2 0 0 0 2249.9,1636.4ZM2246.1,1655.7l-24.2-4.5 14.3,4.2 9.4,2.7A762.2,762.2 0 0 0 2246.1,1655.7ZM2235.1,1701.6l-5.1-1.1 4.9,1.7A762.2,762.2 0 0 0 2235.1,1701.6ZM2232.1,1712.2l-7.2-1.7 6.8,2.8A762.2,762.2 0 0 0 2232.1,1712.2ZM2230.7,1716.8l-16.4-4.3 16,5.5A762.2,762.2 0 0 0 2230.7,1716.8ZM2229.6,1720.5l-4.7-1 4.5,1.7A762.2,762.2 0 0 0 2229.6,1720.5ZM2227.9,1726l-6.2-1.1 -9.7-1.7 15.1,5.4A762.2,762.2 0 0 0 2227.9,1726ZM2226.7,1729.9l-7.9-2.1 7.7,2.8A762.2,762.2 0 0 0 2226.7,1729.9ZM2216.4,1760.2l-17-5.6 16.6,6.8A762.2,762.2 0 0 0 2216.4,1760.2ZM2215.2,1763.5l-11.5-3.5 10.9,5A762.2,762.2 0 0 0 2215.2,1763.5ZM2213,1769.3l-10.6-3.3 6.2,3.7 3.6,1.9A762.2,762.2 0 0 0 2213,1769.3ZM2211,1774.6l-0.1-0.1 -23-7.6 22.4,9.5A762.2,762.2 0 0 0 2211,1774.6ZM2209.8,1777.7l-7.2-2.4 6.9,3.1A762.2,762.2 0 0 0 2209.8,1777.7ZM2209,1779.8l-13.1-4.6 12.6,5.8A762.2,762.2 0 0 0 2209,1779.8ZM2195.5,1811.7l-12.8-5.1 4.4,3.3 7.5,3.9A762.2,762.2 0 0 0 2195.5,1811.7ZM2189.8,1824.2l-5-2 4.5,3.2A762.2,762.2 0 0 0 2189.8,1824.2ZM2184.7,1834.9l-18.3-8 15.1,8.8 1.1,1.9 0.6,0.4A762.2,762.2 0 0 0 2184.7,1834.9ZM2182.2,1840l-1.8-0.8 1.3,1.7A762.2,762.2 0 0 0 2182.2,1840ZM2181.4,1841.4l-3.2-0.5 2.7,1.7A762.2,762.2 0 0 0 2181.4,1841.4ZM2174.5,1855l-14-6.8 5,4.1 8,4.5A762.2,762.2 0 0 0 2174.5,1855ZM2166.8,1869.2l-9.5-4.7 6.8,5.2 0.8,1.8 0.4,0.4A762.2,762.2 0 0 0 2166.8,1869.2ZM2157.8,1885l-17.4-9.2 6.4,5.1 9.7,6.3A762.2,762.2 0 0 0 2157.8,1885ZM2144.6,1906.7l-5.4-3.3 -19-10.5 -0.4,1.1 4.6,4.4 17.8,12.1A762.2,762.2 0 0 0 2144.6,1906.7ZM2139.7,1914.4l-13.9-8 13,9.3A762.2,762.2 0 0 0 2139.7,1914.4ZM2132.1,1925.8l-8.1-4.5 0.5,1.8 -31.6-20 -7.6-3.8 43.8,31A762.2,762.2 0 0 0 2132.1,1925.8ZM2126.4,1934.2l-11.6-7.4 11,8.3A762.2,762.2 0 0 0 2126.4,1934.2ZM2117.8,1946.4l-10.5-7.1 -2.3-0.2 11.5,9.1A762.2,762.2 0 0 0 2117.8,1946.4ZM2109.6,1957.5l-3-2 2.5,2.6A762.2,762.2 0 0 0 2109.6,1957.5ZM2107,1961l-7.2-4.5 6.4,5.5A762.2,762.2 0 0 0 2107,1961ZM2099.3,1970.9l-3.8-2.2 0.9,2.3 1.7,1.4A762.2,762.2 0 0 0 2099.3,1970.9ZM2090.6,1981.9l-3.8-2.9 3.4,3.3A762.2,762.2 0 0 0 2090.6,1981.9ZM2084.6,1989.1l-14.8-11.5 14,12.4A762.2,762.2 0 0 0 2084.6,1989.1ZM2076.3,1998.8l-4.3-3.4 4,3.8A762.2,762.2 0 0 0 2076.3,1998.8ZM2070.8,2005.2l-4.9-3.7 -15.5-12.2 18.6,17.8A762.2,762.2 0 0 0 2070.8,2005.2ZM2056.6,2020.8l-7.4-6.4 6.8,7A762.2,762.2 0 0 0 2056.6,2020.8ZM2054.6,2022.9l-13-10.6 11.4,12.2A762.2,762.2 0 0 0 2054.6,2022.9ZM2049.7,2028l-2.7-2.2 -5.5-3.6 6.8,7.2A762.2,762.2 0 0 0 2049.7,2028ZM2040,2037.9l-0.3-0.3 0.2,0.4A762.2,762.2 0 0 0 2040,2037.9ZM2035.8,2042.1l-4.5-4.2 3.8,4.9A762.2,762.2 0 0 0 2035.8,2042.1ZM2032.6,2045.2l-8.7-7.9 7.8,8.8A762.2,762.2 0 0 0 2032.6,2045.2ZM2022.3,2055.1l-0.3-0.3 0.2,0.4A762.2,762.2 0 0 0 2022.3,2055.1ZM2019.9,2057.4l-3.5-3.1 3,3.5A762.2,762.2 0 0 0 2019.9,2057.4ZM2015.4,2061.5l-8.6-8.7 7.9,9.3A762.2,762.2 0 0 0 2015.4,2061.5ZM2011.7,2064.9l-6.8-6.8 -8.3-7.4 13.3,15.8A762.2,762.2 0 0 0 2011.7,2064.9ZM2008.9,2067.4l-3.9-3.8 3.2,4.5A762.2,762.2 0 0 0 2008.9,2067.4ZM1955.5,2111.1l-11.5-14.5 -3.7-3 13.2,19A762.2,762.2 0 0 0 1955.5,2111.1ZM1933.2,2127.2l-2-2.5 1.5,2.8A762.2,762.2 0 0 0 1933.2,2127.2ZM1921.6,2135l-4.1-4.3 3,5A762.2,762.2 0 0 0 1921.6,2135ZM1913.3,2140.4l-5-5.8 3.8,6.6A762.2,762.2 0 0 0 1913.3,2140.4ZM1892.9,2153.1l-9.9-15.5 8.8,16.2A762.2,762.2 0 0 0 1892.9,2153.1ZM1883,2159l-1.2-1.9 1,2A762.2,762.2 0 0 0 1883,2159ZM1870.6,2166.1l-5.8-9.2 5,9.6A762.2,762.2 0 0 0 1870.6,2166.1ZM1865.5,2168.9l-5.2-7.4 -4.1-5 2.8,7.5 3.2,6.6A762.2,762.2 0 0 0 1865.5,2168.9ZM1859.4,2172.2l-3.2-5.6 -0.5,1.8 2.1,4.6A762.2,762.2 0 0 0 1859.4,2172.2ZM1854.3,2174.9l-12.2-21.9 11.1,22.4A762.2,762.2 0 0 0 1854.3,2174.9ZM1848.7,2177.8l-3.6-6 0.5,3.8 1.2,3.1A762.2,762.2 0 0 0 1848.7,2177.8ZM1836.3,2184l-1.4-2.4 1.1,2.5A762.2,762.2 0 0 0 1836.3,2184ZM1834.1,2185.1l-2.5-4.6 2,4.8A762.2,762.2 0 0 0 1834.1,2185.1ZM1829.7,2187.2l-1.2-1.8 0.7,2A762.2,762.2 0 0 0 1829.7,2187.2ZM1799.8,2200.8l-5.5-10.8 2.1,8.1 -2.9-3.8 3,7.9A762.2,762.2 0 0 0 1799.8,2200.8ZM1794.3,2203.1l-2.5-3.3 1.4,3.8A762.2,762.2 0 0 0 1794.3,2203.1ZM1790.9,2204.5l-7.6-15.6 -2.6-3.2 7.1,20.1A762.2,762.2 0 0 0 1790.9,2204.5ZM1770,2212.8l-7.4-17.2 5.6,17.8A762.2,762.2 0 0 0 1770,2212.8ZM1767.2,2213.8l-0.6-0.7 0.3,0.8A762.2,762.2 0 0 0 1767.2,2213.8ZM1760.5,2216.3l-7.9-20.2 1.1,6.6 4.7,14.4A762.2,762.2 0 0 0 1760.5,2216.3ZM1752.4,2219.2l-7.8-20.3 6.6,20.7A762.2,762.2 0 0 0 1752.4,2219.2ZM1749.7,2220.1l-1.7-4.2 -4.4-9 4.2,13.9A762.2,762.2 0 0 0 1749.7,2220.1ZM1740.7,2223.2l-8.4-23.6 0.8,6.4 5.4,17.9A762.2,762.2 0 0 0 1740.7,2223.2ZM1733.6,2225.5l-4.1-11 3.2,11.3A762.2,762.2 0 0 0 1733.6,2225.5ZM1728.7,2227.1l-1.3-3.2 -2-2 0.5,5.5 -3.3-6.5 1.6,7.6A762.2,762.2 0 0 0 1728.7,2227.1ZM1717.9,2230.4l-0.8-2.1 0.5,2.2A762.2,762.2 0 0 0 1717.9,2230.4ZM1715.8,2231l-3.3-9.8 2.6,10A762.2,762.2 0 0 0 1715.8,2231ZM1671.6,2242.6l-1.9-6.5 -0.7,2.6 0.7,4.4A762.2,762.2 0 0 0 1671.6,2242.6ZM1654.9,2246.3l-5.1-21.7 0.5,8.7 2.2,13.5A762.2,762.2 0 0 0 1654.9,2246.3ZM1649.2,2247.5l-3.2-11 -1.5-1.4 1.5,13A762.2,762.2 0 0 0 1649.2,2247.5ZM1643.2,2248.6l-2.8-9.2 1.3,9.5A762.2,762.2 0 0 0 1643.2,2248.6ZM1612.8,2253.8l-2-5.8 0.7,6A762.2,762.2 0 0 0 1612.8,2253.8ZM1605.1,2254.9l-3.3-18.2 -1.8-4.4 2.6,23A762.2,762.2 0 0 0 1605.1,2254.9ZM1599.5,2255.7l-4.2-22.8 2.4,23A762.2,762.2 0 0 0 1599.5,2255.7ZM1567.2,2259.2l-2.9-23.5 1.4,23.7A762.2,762.2 0 0 0 1567.2,2259.2ZM1551,2260.5l-2.4-25.9 1.1,26A762.2,762.2 0 0 0 1551,2260.5ZM1532,2261.5l-0.4-4.8 -0.1,4.8A762.2,762.2 0 0 0 1532,2261.5ZM1527.4,2261.7l-1.2-19.9 0.1,19.9A762.2,762.2 0 0 0 1527.4,2261.7ZM1519.7,2261.9l-0.4-6.3 -1.2,2.7 -0.1,3.7A762.2,762.2 0 0 0 1519.7,2261.9ZM1515.8,2262l-0.1-0.8 0,0.8A762.2,762.2 0 0 0 1515.8,2262ZM1494,2262.2l-0.4-6.9 -1.2-3.3 -0.5,10.2A762.2,762.2 0 0 0 1494,2262.2ZM1490,2262.1l-0.1-3.8 -1,3.8A762.2,762.2 0 0 0 1490,2262.1ZM1463,2261.3l0.2-11 -1.3,1.3 -1,9.6A762.2,762.2 0 0 0 1463,2261.3ZM1419.8,2258l0.7-9.5 -1.5,9.4A762.2,762.2 0 0 0 1419.8,2258ZM1372.3,2251.4l1.3-10.7 -0.9-2 -2.5,12.4A762.2,762.2 0 0 0 1372.3,2251.4ZM1347.7,2246.8l0.7-4 -1,4A762.2,762.2 0 0 0 1347.7,2246.8ZM1334.3,2244l0.2-1 -0.3,0.9A762.2,762.2 0 0 0 1334.3,2244ZM1266.9,2225.7l5.1-17.9 -6.3,17.5A762.2,762.2 0 0 0 1266.9,2225.7ZM1222.3,2209.8l2.4-6.6 -2.5,2.9 -1.4,3.1A762.2,762.2 0 0 0 1222.3,2209.8ZM1213.8,2206.4l7.3-20.4 -8.7,19.9A762.2,762.2 0 0 0 1213.8,2206.4ZM1211.1,2205.3l5.3-14.2 -6.5,13.7A762.2,762.2 0 0 0 1211.1,2205.3ZM1207.3,2203.7l0.1-0.3 -0.2,0.3A762.2,762.2 0 0 0 1207.3,2203.7ZM1205.5,2203l4.6-12.4 -5.5,12A762.2,762.2 0 0 0 1205.5,2203ZM1175.1,2189.5l3.1-8.2 -4,7.7A762.2,762.2 0 0 0 1175.1,2189.5ZM1160.4,2182.3l2.8-6.5 5.8-14.4 -10.6,20A762.2,762.2 0 0 0 1160.4,2182.3ZM1141.4,2172.6l0.4-0.9 -0.5,0.8A762.2,762.2 0 0 0 1141.4,2172.6ZM1124.7,2163.4l12.1-22.9 -13.2,22.3A762.2,762.2 0 0 0 1124.7,2163.4ZM1062.7,2124.3l3.6-5.7 3.3-6.8 -8.8,11.1A762.2,762.2 0 0 0 1062.7,2124.3ZM1037.1,2105.5l2.3-4.1 -3,3.6A762.2,762.2 0 0 0 1037.1,2105.5ZM1025,2096.1l2.8-3.8 3.8-6.7 -8.3,9.1A762.2,762.2 0 0 0 1025,2096.1ZM976.8,2054.3l5.5-6.7 -6.1,6.1A762.2,762.2 0 0 0 976.8,2054.3ZM932.4,2008.7l0.1,0 -0.1,0A762.2,762.2 0 0 0 932.4,2008.7ZM906.2,1977.9l9-7.6 -9.4,7A762.2,762.2 0 0 0 906.2,1977.9ZM889.7,1956.6l14.2-11.2 -14.8,10.4A762.2,762.2 0 0 0 889.7,1956.6ZM873.2,1933.7l6.2-5.2 1.3-2.3 -8.8,5.6A762.2,762.2 0 0 0 873.2,1933.7ZM834,1870.6l15.4-9.1 -16,8.2A762.2,762.2 0 0 0 834,1870.6ZM820,1844.3l7.9-4.4 -2.4-0.1 -6.4,2.8A762.2,762.2 0 0 0 820,1844.3ZM817.1,1838.5l0.6-0.3 -0.7,0.1A762.2,762.2 0 0 0 817.1,1838.5ZM782.4,1756.8l4.5-1.8 5.7-3.3 -10.8,3.5A762.2,762.2 0 0 0 782.4,1756.8ZM762.8,1693.6l18.8-5.6 -19.1,4.4A762.2,762.2 0 0 0 762.8,1693.6ZM758.8,1677.9l21.5-5.7 -21.7,4.7A762.2,762.2 0 0 0 758.8,1677.9ZM750.4,1638.1l21.9-4.7 -22.1,3.5A762.2,762.2 0 0 0 750.4,1638.1ZM747.2,1619.6l15.5-2.9 -9.2,0.2 -6.6,0.3A762.2,762.2 0 0 0 747.2,1619.6ZM746.7,1616.4l11.9-2.7 0.8-1.4 19.4-4.1 -1.3-1 5.3-2 -0.6-1.1 -8.5,0.1 -10.2,0.2 -15.6,1 9.1-2.5 18-3.7 4.6-1.8 5.2-1.9 -12.3,0.4 5.1-1.8 -6-0.5 7.2-2.1 -24.3,1.9 11.8-2.7 -7.2-0.3 11.5-2.6 -26.3,1.9 36.6-5.5 -38.1,3.3A762.2,762.2 0 0 0 746.7,1616.4ZM742.7,1586l18.9-3.2 -7.1-0.5 7.8-2 -9.6-0.2 8.6-2.1 -15.2,0.3 28.1-4.1 -15.7,0.4 8.3-2 1.2-1.3 -9.4-0.3 9.3-2.1 2.6-1.5 -11.4-0.1 13.5-2.4 -5.1-0.8 -13.8,0 14.6-2.4 -16.2,0.1 18.2-2.7 -8.3-0.5 -0.5-1.2 14.3-2.3 -17.6,0.2 17-2.5 -23.1,0.5 -7.2-0.7 19.3-2.6 -2.1-1 2-1.4 -24.8,0.7A762.2,762.2 0 0 0 742.7,1586ZM739.2,1546.5l26.7-2.6 -2.6-1 -13-0.5 13.5-1.9 4.2-1.5 -11-0.6 -3.8-1 8.9-1.6 -2.2-1.1 7.1-1.6 -2.3-1 18.5-2 1.2-1.2 -25.3-0.2 8.3-1.5 6.5-1.4 -14-0.7 -18.8-0.6 5.3-1.4 -8.3-0.3A762.2,762.2 0 0 0 739.2,1546.5ZM738,1517.8l15.3-1 9-1.4 -2.2-1.2 -4.7-1.1 5.5-1.3 4.9-1.2 2.3-1.3 9-1.2 -9.3-1.1 -7.6-1.2 13.8-1.2 -0.8-1.2 -18.1-1.1 13-1.3 -8.3-1.1 12.5-1.2 11.4-1.2 -19.5-1.2 -7.3-1.3 2.1-1.2 -21.2-1A762.2,762.2 0 0 0 738,1517.8ZM737.9,1490.9l24.4-0.6 8.2-1.1 -8-1.3 -9.7-1.4 4.5-1.1 -19.3-1.2A762.2,762.2 0 0 0 737.9,1490.9ZM738,1483.1l7.5-0.4 21-0.7 -1.1-1.2 1.1-1.2 -7.9-1.4 19.4-0.6 -20-1.8 17.8-0.6 -12.6-1.6 -24.9-1.8A762.2,762.2 0 0 0 738,1483.1ZM738.4,1470l21.7-0.1 15.1-0.6 -13.8-1.8 5.5-0.9 11.4-0.7 -19.8-2.1 16.5-0.4 -13.5-1.9 17.7-0.2 -40.2-3.2A762.2,762.2 0 0 0 738.4,1470ZM739,1456.5l20.3,0.1 6.7-0.8 -8.9-1.8 10.7-0.5 -16.9-2.3 17-0.1 -6.7-1.6 10-0.5 -10.9-2 12.8-0.3 -4.3-1.5 -8.7-1.8 17.3,0.1 -6.2-1.7 -7.1-1.7 6.9-0.6 7.4-0.6 4-0.8 9.7-0.4 36.1,2.1 -0.8-1.2 2.8-0.8 -33.9-4.3 -24.9-3.5 4.7-0.8 6.2-0.5 -14-2.6 5.8-0.6 -20.6-3.4 -2.6-1.5 32,2.2 -16.2-2.9 -3.7-1.6 -20.5-3.1A762.2,762.2 0 0 0 739,1456.5ZM742.7,1413.5l41.3,3.6 -10.9-2.5 3.5-0.7 -21.1-3.8 6.3-0.4 -4.9-1.9 21.1,1.5 -4.6-1.8 1.2-1 6.7-0.4 -2.1-1.4 10,0.1 -13.1-2.9 6.6-0.3 -7.9-2.3 -4.2-1.8 8.2,0 2.9-0.8 -12.9-3.1 -2.9-1.6 -19.8-4A762.2,762.2 0 0 0 742.7,1413.5ZM746.1,1387.7l20,1.9 32.1,3.7 -18.3-4 -7.5-2.4 3-0.7 16.4,1.4 -11.5-3 -11.8-3.2 3.3-0.6 16.1,1.4 -8.9-2.6 -18.1-4.3 0.1-1.2 -2.1-1.6 -9.9-2.8A762.2,762.2 0 0 0 746.1,1387.7ZM749.3,1368.1l26.1,3.6 2.3-0.8 10,0.6 -4.2-2 -14.8-3.9 5.7-0.1 20.3,2.5 -17.7-4.5 11.6,1 -12.3-3.6 9.6,0.7 -19.7-5.1 11.8,1.1 -8.6-2.9 21.2,3 -6.1-2.4 -4.3-2.1 13.5,1.6 -4.2-2.1 -1.2-1.5 -6.1-2.4 -1-1.5 16.1,2.3 -22.3-6.1 -0.3-1.2 11.7,1.3 -11.7-3.8 8.6,0.7 5.5,0 -32.3-8.4A762.2,762.2 0 0 0 749.3,1368.1ZM756.6,1331.9l55.4,11.4 -23.6-6.5 -13.5-4.4 1.5-0.9 0.6-1.1 17.2,2.9 -0.1-1.3 -13-4.3 -15.2-4.9 16.3,2.7 -15.1-4.9 29.3,6 -5.1-2.5 14.4,2.3 -19.5-6.1 -1.3-1.5 -5.1-2.5 3.7-0.3 22.5,4.5 -18.4-5.9 16.4,3 -14.3-5 -26.4-8A762.2,762.2 0 0 0 756.6,1331.9ZM763.7,1303.1l23.1,5 -22.6-7A762.2,762.2 0 0 0 763.7,1303.1ZM764.3,1300.7l41.5,10.2 5,0.1 -4.2-2.4 -25.2-8.2 6.4,0.6 2.4-0.6 6.4,0.6 -5.2-2.7 -6.9-3.3 1.1-0.9 6.7,0.7 -0.4-1.4 -1.8-1.7 -3-2.2 -17.8-6.4A762.2,762.2 0 0 0 764.3,1300.7ZM769.7,1281.7l39,10.6 -10.6-4.5 -1.4-1.6 1.1-1 -26.4-9.2A762.2,762.2 0 0 0 769.7,1281.7ZM772,1274.3l19.2,5.1 11.6,2.4 -2.2-1.9 3.5-0.2 8.6,1.5 -15.5-6.2 16.9,4.2 -9.5-4.3 1.6-0.7 -3.3-2.3 8.9,1.6 -16-6.5 -6.3-3.3 4.2,0.1 12.1,2.8 11.1,2.5 -27.7-10.7 29.8,8.9 4.5,0.3 -44-16.1A762.2,762.2 0 0 0 772,1274.3ZM779.7,1250.8l21.9,6.8 14.5,3.8 -11.1-5.2 14.6,3.9 -15.4-6.7 -0.7-1.5 3.8,0.1 -8.7-4.4 4.9,0.5 25.7,8 -21.7-9.1 -0.5-1.5 -6-3.5 9.5,2.3 -6.3-3.7 8.6,2 -4.6-3 -5-3.2 12,3.3 4.1,0.3 -4.8-3.2 -7.6-4.1 2.2-0.5 2.7-0.2 -3.7-2.7 2.2-0.5 13.4,4 -17.5-8.2 -3.5-2.7 1.4-0.7 25.3,8.8 -19.5-9.1 16.2,5.3 -5.3-3.5 0.7-1 -15.7-7.7 -10.2-5.2A762.2,762.2 0 0 0 779.7,1250.8ZM796.3,1207.1l19.9,7.3 9.5,2.7 6.9,1.6 -13.2-6.9 -4-3 5.8,1.2 -11.7-6.4 -4.7-3.3 18.9,6.8 -1.3-1.8 -2-2.2 20.9,7.8 -21.3-10.6 -3.6-2.9 -13-6.7A762.2,762.2 0 0 0 796.3,1207.1ZM804.2,1188.9l26.7,11 -13.8-7.5 14.3,5.1 -1.3-1.9 -0.3-1.4 -10.8-6.3 -3.8-3.1 11,3.8 20.2,8 0.3-1.1 -2.2-2.3 -11.2-6.6 -3.1-2.8 3.2,0.2 11.9,4.3 1.3-0.7 -33.9-17.2A762.2,762.2 0 0 0 804.2,1188.9ZM813,1169.9l32.6,14.7 16.5,6.6 -0.5-1.5 -7.6-5 -18.2-10.2 14.6,5.8 -11.5-6.9 -13.6-8.1 7.6,2.4 3.4,0.4 16.5,6.9 -2.8-2.7 11.1,4.3 -16.3-9.6 -3.1-2.9 -7.8-5.4 10,3.8 0.5-1.1 10.7,4.2 -7.9-5.4 -2.5-2.7 -1.5-2.1 -1.2-2 6.1,1.8 -1.5-2.1 3,0.3 9.5,3.6 -3.9-3.4 -7.6-5.4 1.9-0.3 4.8,1.2 7.9,2.9 -9.3-6.4 6.8,2.4 -0.5-1.6 -6.8-5.2 -4.9-4.1 12.9,5.8 -25.5-15.2A762.2,762.2 0 0 0 813,1169.9ZM835.3,1127l18.7,9.6 6.9,2.6 -14.5-9.6 3,0.3 8.5,3.4 12.3,5.7 -12.3-8.5 2.6,0.2 15.1,7.4 -0.7-1.8 -5.7-4.7 -7.9-6 35.2,19.3 -24.5-15.8 -4.1-3.8 -17.7-11.9 12.2,5.9 4,0.9 3.4,0.7 -1.6-2.4 -2.2-2.7 6.7,2.7 -3.6-3.6 -11.8-8.7 14.8,7.7 -3-3.2 -10.8-8.1 22.6,12.6 -3.8-3.8 5.4,2 -10.4-7.9 -4.2-4.1 4.8,1.6 5.5,2 2.2,0.1 -1.1-2.2 -7.4-6.1 4.6,1.5 -7.5-6.3 -5.4-4.9 43.7,27 -37.2-25.8 0.6-1 11.6,6.2 21.4,12.7 -4.8-4.6 -14.4-11 17.7,10.3 -20.5-15 12.8,7.1 -5.1-4.9 6.6,3 0.2-1.2 25.2,15.7 -19-14.4 -4.2-4.3 1.7-0.3 -9.2-7.8 12,6.9 -20.7-15.8 -2-2.9 23.2,14.7 6.6,3.3 -3.7-4 -7.1-6.6 0.3-1.2 -4.4-4.6 -1.2-2.3 17.1,10.7 6.8,3.5 -4.3-4.5 -3.4-3.9 2.8,0.5 -23.3-18.5 16.4,10.5 -8.2-7.5 -11.3-9.2A762.2,762.2 0 0 0 835.3,1127ZM887.5,1046.4l33.1,23.3 -5.3-5.5 -5.7-5.7 6.9,3.7 -12.2-10.6 11.4,7 3.4,1.1 -5.6-5.7 -14-12.2 6,3.1 -5.8-6 16.3,11 -7.1-7 3.4,1.1 -13.6-12.2 18.4,12.9 4.1,1.7 5,2.4 5,2.4 -12.6-11.5 -1-2.3 11.5,7.6 -11.1-10.4 5.7,3 0.9-0.7 -11.8-11.1 4,1.7 -0.7-2.2 -2.9-3.9 8.8,5.6 7.3,4.4 -10.7-10.4 -3.9-4.8 32.6,25.5 -7.7-7.9 0.5-1.1 0.9-0.9 -14.8-13.9 8.6,5.6 2.2,0.3 -2.4-3.5 -2.7-3.9 4.3,2.1 -1.1-2.6 13.1,9.7 -6.8-7.5 -18-16.6A762.2,762.2 0 0 0 887.5,1046.4ZM924.9,999.8l8.4,6.6 4.8,2.5 5,2.8 -7.9-8.6 -4.9-5.9 8,5.4 11.9,9 -12-12.3 7.7,5.2 9.5,6.9 -7-7.8 7.4,5 2.1,0.3 5.4,3.4 1.5-0.3 -11.1-11.8 20.4,17.1 -16.1-16.3 -5-6.3 0.3-1.4 6,4 10.2,7.8 -4.9-6.2 -5.4-6.6 -14.1-14.8A762.2,762.2 0 0 0 924.9,999.8ZM945.3,977.3l16.2,13.8 16.9,14.3 -3.5-4.9 2.2,0.6 -10.7-11.9 -0.2-1.9 2.4,0.6 3.7,2 12.5,10.4 -6.7-8.1 -10.1-11.5 12.2,10.2 2.8,1.1 4.8,3.1 -4.6-6.2 -5.7-7.3 13.9,12.1 -10.9-12.5 7.2,5.6 -19.4-21.2 13.2,11.5 -1-2.7 16.6,15.2 -16-18 2.9,1.3 4.8,3.2 -20.4-22.3A762.2,762.2 0 0 0 945.3,977.3ZM968.8,953.4l17.5,16.8 4.6,3 -10.5-12.6 10.7,9.3 -4-5.8 8,6.6 5.6,4.2 -15.4-18 4.5,3 -2.6-4.5 0.6-1.2 6.4,5.1 -0.5-2.2 6.9,5.5 2.4,0.9 -4.3-6.4 15.4,14.9 -8.5-10.9 4.7,3.3 -4.6-6.7 6.5,5.4 -13-16.2 1.4-0.2 9.6,8.8 -5.6-8 16.1,16.2 1.5-0.1 -12-15.2 -9.4-12.4 -5.3-7.3A762.2,762.2 0 0 0 968.8,953.4ZM996.8,927.5l14.7,15.1 -7.5-10.4 12.4,12.4 10.5,10.3 -1.8-3.9 -5.2-7.9 -3.7-6.1 7.4,6.9 -8.5-11.9 15,15.8 -6.4-9.4 6.8,6.2 -1.3-3.4 1.2-0.3 -9.2-12.9 -4.8-7.6 22.9,25.6 -4.9-7.8 -4.7-7.5 6.9,6.5 -2.2-4.5 -0.2-2.1 -4.7-7.6 -10.4-14.4A762.2,762.2 0 0 0 996.8,927.5ZM1019.5,908.3l12.5,13.9 5,4.2 0.4-1.4 5,4.3 -1.3-3.5 -0.9-3 -14.1-19.7 6.4,6.1 5.7,5.3 3.7,2.7 7,7 -8.7-13 12,13.4 1.1-0.5 -8.4-12.8 7.1,7.2 4.6,4.1 -19.5-27.5 17.6,21 1.2-0.3 6.8,6.9 -6.3-10.2 -6-10 -7.9-12.1A762.2,762.2 0 0 0 1019.5,908.3ZM1043.1,889.9l3.3,3.2 6.3,6.5 23.2,29.2 -18.9-27.5 3.2,2.2 5.2,5.1 5,4.8 -4.1-7.6 6.2,6.5 -2.5-5.5 8.2,9.4 -0.2-2.4 -14.9-22.6 3.9,3.3 8.8,10.3 -9.3-15.2 16.6,21.4 -6-10.6 5.8,6.2 -8.1-13.6 -11.3-17.8A762.2,762.2 0 0 0 1043.1,889.9ZM1064.8,874.3l16.5,21.8 3,2.2 -7.7-13.3 3,2.3 -7.9-13.7 7.7,9 3.4,3 8,9.7 2.9,2.2 -7.8-13.9 4,3.9 -5.4-10.2 1.7,0.3 7.5,9.2 1.7,0.4 7.8,9.6 -14.5-24.3 0.8-0.9 10.2,13.4 -2.3-5.8 5.2,6 -14-24 10.8,14.6 1.9,0.6 2.6,1.9 4.4,4.8 -5.3-10.7 5.1,5.9 -1.4-4.5 -1.7-4.9 2.8,2.2 3.6,3.4 -3.7-8.1 3.2,2.8 7.8,10.5 8,10.8 -2.2-5.9 -6.3-12.7 -6.6-13.2 8.7,12.2 -0.8-3.8 6.5,8.6 -6.8-13.7 -5.8-12 12.4,18.4 -0.7-3.4 -9.4-18.4 10.8,16 5.3,6.7 -2.1-6 -1.3-4.6 3.2,3 0.6-1.2 -4.6-10.5 9.3,13.9 -6.8-14.3 7.5,10.7 -4.7-10.8 -1.9-5.8 5.7,7.7 4.9,6.3 5.1,6.7 3.3,3.6 -8.1-17.2 10,15.7 -4.6-10.8 1.5,0.2 -12.9-25.5A762.2,762.2 0 0 0 1064.8,874.3ZM1137.7,829.4l6.3,10 5.8,8.4 -7.7-17 -1.3-3A762.2,762.2 0 0 0 1137.7,829.4ZM1142.9,826.6l16.8,29.6 -7.9-17.6 10.8,18.1 -8.8-19.4 6,8.9 6.5,10 -9.7-21.4 -0.8-4.2 7.6,12.1 -3.2-8.8 12.4,21.6 -7.7-17.7 3.6,4.3 -0.8-4.3 2.8,3 -0.3-3.3 2.4,2.2 2.6,2.5 -0.2-3.1 -0.6-3.9 -2.2-7.2 3.1,3.5 5,7.7 0.2-2.3 1.6,0.4 -8-19.4 11.7,21.8 -2.2-7.5 5.7,9.3 -4.6-12.5 4.1,6 -0.5-4 3.1,3.9 -4.2-11.9 -1.7-6.7 -3.4-9A762.2,762.2 0 0 0 1142.9,826.6ZM1184.1,806.3l7.6,14.9 15,30.2 -3.2-9.9 -5.2-14.6 2.3,2.3 5.4,9.3 4.4,6.9 -3.2-10.1 -9-23.4 8.3,15.9 -5.1-14.6 7,13.1 -10.3-26.2A762.2,762.2 0 0 0 1184.1,806.3ZM1199.8,799.4l12.9,27.7 1.7,1.1 1-0.7 -3.6-11.6 7.9,15.8 -0.3-3.8 -0.1-3.4 -7.3-20.6 9.9,20.6 -2.6-9.4 10.4,22.4 -13.1-35.3 1.5,0.4 10.4,22.5 -8.3-23.8 6.3,12.5 -0.7-5 10.8,24 -10.1-28.9 -4.3-13.7A762.2,762.2 0 0 0 1199.8,799.4ZM1223.6,789.7l10.7,24.4 -4-13.8 13.9,32.9 -4.9-16.1 2.2,2.5 -1.3-6.8 -4.9-16.5 7.8,17.6 0.2-2.9 4.5,8.6 -11.6-34.7A762.2,762.2 0 0 0 1223.6,789.7ZM1237.8,784.3l5,11.3 -2-9.1 13.7,34.5 3.1,5.1 -2.3-10.1 -2.4-10.1 3.3,5.7 -3-12.2 2.3,3 5.6,12.5 -2.1-9.5 3.4,6 2.6,3.9 -1.9-9 0.7-1.6 -2.1-10 7.1,17.3 3.1,5.6 -5.4-20 5.6,13.2 -2.3-10.9 1.4,0.4 8.7,22.9 -2.4-11 -3.5-14.7 -6.6-23.3A762.2,762.2 0 0 0 1237.8,784.3ZM1270.8,773.1l2.5,6.2 5.2,12.5 -0.2-4.6 -0.2-4.9 4,8.8 2.1,2.7 4,9.2 -4.3-18.4 1.6,1.2 2.1,2.8 3.5,7.6 -2.9-14.1 7.4,20.8 -3.6-16.5 -1.2-8.4 -2.3-10.3A762.2,762.2 0 0 0 1270.8,773.1ZM1290.4,767.2l10.6,33.2 -3.6-17 -4-17.1A762.2,762.2 0 0 0 1290.4,767.2ZM1294.3,766.1l4.8,14.5 4.5,11.5 3.2,7.1 -8.3-34.3A762.2,762.2 0 0 0 1294.3,766.1ZM1298.6,764.9l7.9,24.2 -1.5-9.9 -0.3-6 3.5,8.5 1-0.9 0.8-1.6 -2.3-13.6 6.1,18.5 -0.9-8.1 -1.7-11.8 6.8,22 3.1,7.1 -1.6-11 1.2-0.1 -1.6-11.4 0.8-2 3,7.2 0-5.2 2.9,7 -3.6-19A762.2,762.2 0 0 0 1298.6,764.9ZM1323.5,758.5l0.5,1.3 4.4,13.4 -2.7-15.2A762.2,762.2 0 0 0 1323.5,758.5ZM1326.6,757.8l3,9.8 3.4,9.3 2,3.3 2.6,6.1 -4.4-25.2 4.2,13.4 3.1,8.4 1.3,0 -2.1-15.1 3,8.4 4.8,16.4 2.7,7 -1.5-12.4 -1.5-13 2,3.5 1.6,2 -4-25.5 2.8,7.5 3.7,12.2 -0.2-7 -2.1-14.4A762.2,762.2 0 0 0 1326.6,757.8ZM1352,752.3l3.6,14.8 -1.1-12.2 6.3,26.2 -3.3-23.5 3.8,13.4 3.4,11.6 -0.1-6.9 0.8-2.6 -0.8-10.9 2,4.1 2.7,8.7 1.2-0.5 0.5-4.1 0.1-6 3.5,13 1.1-0.5 0.3-5.6 2.3,6.7 -1.7-17.8 2.1,5.6 3.2,12 1.2,0.2 -1.7-18.5 2.9,10.5 2.3,7.1 -1-13.9 0.1-7.6 7.5,41.2 -3.2-29 -2.3-21.7A762.2,762.2 0 0 0 1352,752.3ZM1388.8,746l1,3.6 1.2,0.2 2.1,5.7 3.9,18.9 -0.7-13.7 2.3,8.3 1.3,0.2 -0.2-9.9 2.7,11 1.2-0.3 -1.7-22 2,5.5 4.2,23.7 0.9-2.6 1.6,3.4 -0.4-13.1 2.4,9.7 0.3-6.9 0.8-3.5 -1.6-21.3A762.2,762.2 0 0 0 1388.8,746ZM1412.9,742.8l2.9,18.3 1.2-0.5 2.4,11.1 1.1-0.5 -0.4-14.8 1.7,4.3 2.1,8.7 2,7.4 -2.5-35.1A762.2,762.2 0 0 0 1412.9,742.8ZM1425.1,741.5l2.5,16.6 2.7,15.1 0.8-3.9 1.6,4.6 0.7-5.5 0.1-12.3 1.5,3 1.5,3.1 3.7,30.5 -0.9-25.2 0.8-5.3 2.6,17.9 0.4-9.4 2.2,12.3 -0.7-25.3 2.1,13.5 0.1-15.4 2.6,19.4 -0.6-26 1.4,2.1 1.6,5.6 1.6,6.3 1.2,1.2 1.3,0.6 0.5-11.7 1.2,0.2 1-3.3 1.9,12.3 1.3,1.2 1.8,13.1 1.5,5.9 0.3-18.1 1.3,3 1-6.3 1.2,1 1.3,1.6 1.1-1.4 1.9,17.6 0.7-11.8 0.9-8.3 1.2,1.1 1.1-3.1 1.9,21.9 0.6-21.5 1.1-3.6 1.2-0.8 1.2,2.7 1.2-1.8 1.1-4.7 1.4,11.3 1.2,0 1.1-5.9 1.5,16.1 1-14.1 0.6-19.8A762.2,762.2 0 0 0 1425.1,741.5Z" fill="#fc9272"/>
<path d="M1500.6,737.8l0-18 1.3,3.3 1.2,3.1M1505.1,737.8l0.5-9.8 1.3-2.4 1.3-8.6 1.3,1.3 1.3-3.5 1,16 1.3,2 1.3-4.1 1.5-14.2 1.3-2 0.8,20.5 1.2,3.1 2.4-44 1.2,5.5 0.7,18.5 0.9,11 1.9-17.1 0.8,11.4 1.6-8.6 1.7-11.2 1,7.5 1,8 1.5-5.1 0.6,13.9 1.4-1.6 1,4 1.4-3 1.2,2.4 1.4-2.7 1.1,1.5 1.8-8.4 1.1,3 1.4-2.7 2-12.5 -0.5,28.7 2.8-23.3 1.5-3.1 -0.6,27.2 1.8-7.9 1.6-4.7 2.1-11.5 -0.2,19.8 4.1-37 -0.9,27.5M1560.6,740.2l0.5-0.2M1562.9,740.4l2.7-24.9 1.8-5.4 0.9,4.6 1,2.7 1,3.6 2.2-10.3 -0.5,18.9M1572.5,741.3l2.8-20.2 -0.5,18.9 3.7-24.9 -0.3,15.6 1.6-3.4 3.8-23.6 -1.4,24.9 0.9,3.2 3.5-20.3 -1.1,21.9 1.3-1 2.4-9.7 1.5-1.6 1.4-1.7 1.1,2 2.4-9.1 1.1,1.2 0.7,4.7 -0.5,14.1 0.8,3.9M1598.2,744.2l3.3-17.3M1600.5,744.5l3.8-19.9 3.3-14.8 -2.2,25.1 0.9,2.7 1.5-1.2 3.1-12.9 -0.3,10.7 1.4-0.8 0.8,3.1 1.5-1.7 3.6-15.1 -1.5,18.1 2.1-5.3 1.7-3 2.3-6.2 -1.7,18.9 4.1-17.7 0.9,2.2 1.9-3.4 0.1,6.9 -1.8,18.1 2.1-4.7 3.8-14.9 0.6,3.8 1,2M1633.7,749.6l4.6-20.4 3.7-13.6 -4.9,33.9M1638.6,750.5l4-16.9 1.2,0.4 1.8-2.5 1.4-0.9 0.2,5.7 2.4-5.6 0.6,3.8 -2.1,17 3.7-12.1 1.7-2.5 4.6-16 -3.7,24.1 2.3-4.5 0.6,3.2 1.6-1.8 4.9-17.1 -0.4,8 -0.8,10.2 1.9-3.1 2.7-6.3 -2.1,15.1 2-2.8 5.1-17.5 0.8,2.3 -0.8,9.3 -0.2,6.5M1672.5,757.6l5.3-19.1 1.1,0.9 0.7,2.3 -2.1,14.3 1.7-1.7 4.1-11.7 1.4-0.2 -0.5,7.2 3.1-7.4 2.7-5.6 -2.2,13.9 0.7,2.3 0.3,4 0.3,3.9 5.6-16.9 1.7-1.4 0.9,1.5 -2.5,14.7 0.5,2.8 3.5-8.2 0.9,1.4 2.5-4.3 -0.6,6.7 4.2-10.6 4.9-13 1.5-0.6 1.5-0.5 -2.7,14.4 2.5-4M1709.6,767.2l10.7-34.4 -6.2,26.1 0.5,2.7 4.7-11.5 0.9,1.3 0.9,1.4 -2.5,12.9 3.8-8.3 -2.6,12.7 8.4-23.3 -1.5,9.2 1.5-0.4 0.4,2.9M1725.8,772l5.6-14.1 -0.4,5.7 6.5-16.6 -5,20.1 0.8,1.5 3-5.3M1735.7,775.2l2.6-5.9M1738,775.9l3.7-8.9 6.9-16.7 -2.6,11.6 2.8-4.4 4.2-8.6 2.6-3.4M1747.3,779l8.4-22 -5.5,19.8 0.9,1.2M1754.5,781.5l4.5-10.8 5.8-12.5 3.2-5.2 -3.3,12.8M1760.1,783.5l3.7-7.8 1.4-0.1M1763.8,784.9l6.5-15.8M1765.7,785.6l5.6-12M1768.7,786.7l0.9-1.7M1770.4,787.4l6.9-15.5 5.6-11.3M1773.9,788.7l5.2-10.9 13.4-31.2 -11.2,32.3 3.9-6.3 -4.3,14.3 6-11.8 1.9-1.5 -4,13.6 1,0.9 2.8-3.7 -0.1,3.7 6.9-13.9 -0.5,4.6 4.9-8.6 1.6-0.5 -2.8,10.1 -0.8,5.2 -2.1,8.4M1796.8,798l6.2-12.4 -2.4,8.8 3.9-5.9 2.3-2.1 -1.2,6 1.7-0.9 7.6-14.2 3.4-4.6 -7.6,20.3 1.3,0.3 0.5,2 1.3,0.1 8.3-15.5 -0.4,4M1813.7,805.3l14.7-30.1 -7,18.6 0.1,2.8 1.8-0.8 5.2-8.5 -2.3,8.1 3.2-4 3.8-5.1 9.9-18.1 -9.7,23.7 -4.6,12.8M1827.1,811.6l9.2-16.9M1830.8,813.3l3.1-4.8 1.4-0.1M1834,814.9l5.3-9 -1.6,6 2.6-2.3 5.8-9.1 -1.2,5.4 3.2-3.7 1.2,0.5 -0.6,3.9 0.8,1.3 8.9-14.8 -5.8,14.2 7.3-11.4 -8.5,19.3 5.9-8.7 -0.1,3 -3.2,8.9M1852.8,824.4l10.2-18 -7,16.2 -0.1,2.8 5.6-8 1.8-0.7 2.2-1.4 -1.2,4.8M1861.3,828.9l8-12.7 -4.8,11.5 5.9-8.2 2.2-1.6 4.5-5.4 -4.7,11.1 8.4-12.7 -8.4,17.9M1876.1,837l1.6-2.5 9.8-14.7 2.7-2.1M1880.2,839.4l1.8-2.4M1882,840.5l4.4-6.1 0.6,1.4 4.6-5.4 -1.1,4.4 2.6-1.9 -3.9,8.9M1893.7,847.3l8.9-13.2M1897.4,849.6l1.8-2.7M1900,851.2l4.5-5.8M1902.4,852.7l2.9-3.9 8.7-11.5M1906.7,855.3l2-2.5 0.3,1.9M1910.8,858l3.7-5.1 6.8-8.3 -2.5,6.3M1915.4,861l9.7-12.9M1918.6,863l6.1-7.5 5-5.2 1.2,0.5M1922.7,865.7l14.3-19.5 -6.8,12.4 0.2,2 0.9,0.9 -0.1,2.3M1928.9,869.9l2.8-2.4 10.8-13.6M1933.4,873l5.7-7.4 3.6-3.1 4-3.5 7.4-8.4 -9,15.1 1.5,0 3.6-2.8 5.8-6 1,0.7M1944,880.5l4.9-5.1M1946,881.9l12.4-15.3 -4,7.7 0,2.1 -2.3,5.2 14-16.9 -2.8,5.9 -3.9,7.4 5.6-5.5 -1.8,4.6 4.3-3.6 6-5.9 -6.9,11.2 3.6-2.6 1.5,0.2 4.9-4.5 -1.1,3.6 -2.8,5.7 -3.9,7.2 5.3-4.9 -5.8,9.6 26.5-32.1 -17.5,24.7 3.5-2.5 -4.7,8 -2,4.7 -0.5,2.6 12.7-14.1 -4,7.1 -0.3,2.4M1975.6,904.4l6.7-6.9M1977.8,906.2l12.5-14.6 -2.6,5.2 1.7-0.1 -7.6,11.4 0.8,0.9 11.4-11.9 -1.4,3.7M1986.4,913.2l16.3-18.6M1988.1,914.6l1.8-0.7 0.4,1.4 2.2-0.8M1993.4,919l1.3-1.2 3.8-2.6 8.6-8.2 -2.3,4.7 11.1-11 -16.9,21.5M1999.2,924l9.9-9.6 0.2,1.7 -3.8,6.2 10.9-10.6 5.5-4.3 3.6-2.1 -9.3,12.5 0.9,0.8 2.4-0.8 1,0.8M2010.6,934.1l13.1-13.4M2012.3,935.6l12.6-12.4 10.4-9.6 -7.5,10.2 5.7-4.3 -15.5,18.7 5.4-4.1M2018.5,941.4l10.3-9.5 4.9-3.3M2021.9,944.5l2.6-2.5 12-10.9 11.9-10.7 -10.5,12.9 -0.7,2.6 2-0.3 1.3,0.5 -3.3,5.2 -5.4,7.5M2031.3,953.5l14.3-13.5 -4.7,6.6 -7.2,9.1 7.6-6 3.1-1.3 -3.2,5 10.3-8.6 -6.9,8.7 1.8,0 8-6.2 -1.6,3.4 6.3-4.5 -7,8.7 -2.5,4.3 6.1-4.3 0.4,1.3 7.5-5.4M2047.2,969.4l10.4-9.3 3.1-1.3 2.8-0.9 -11,12.3 4.6-2.7 0.5,1.3 11.3-9 -8.5,9.8 9.2-7 -13.6,14.5 5.5-3.5 9.8-7.3 -6.5,7.7 8.8-6.4M2061.6,984.7l5.5-4.3M2063.1,986.4l7.9-6.2M2065.1,988.5l7.8-6.6 0.6,1.1M2067.6,991.3l4.4-3.6M2070.3,994.4l7.7-5.3 -3.8,4.9 5-2.7 2.3-0.4 8.1-5.3M2076.1,1000.9l8.2-5.7 3.2-1.1 -7.7,8.2 0.9,0.9 2.1-0.2 5.5-3 5.1-2.7M2084,1010.2l14-10.2M2085.6,1012.1l11.1-7.7 10.7-7.3 -9.5,9.6 14.2-10.1 -14.3,13.4 10.4-6.9 -9.5,9.4M2092.1,1020.1l5.8-3.7 14.5-10.1 -14.3,13.1 5.1-2.5M2096.7,1025.8l6.9-4.4 -1.6,2.9 5.8-3.1 7.5-4.2M2101.2,1031.5l4.9-2.6 19.7-13.7 -14.3,12.7 -4,4.6 6.9-3.7 15.3-10.1 -15.9,13.8 -1.1,2.3 5.1-2.3 5.3-2.4 13.5-8.6 -22.1,18.2M2111,1044.4l8.4-5.2 7-3.6M2113.5,1047.7l2.6-1.4 15.2-9.6 -6.9,6.6 6.9-3.5 0.2,1.5 4.5-1.8 0.3,1.4 -0.5,1.9M2119.9,1056.5l13.1-8.6 6.8-3.3 6.1-2.7 -10.1,8.7 -0.4,1.8 -2.5,3.3 -1.6,2.6 23.6-14.9 -5.8,5.6 10.2-5.5 -5.9,5.7 -6.1,5.7M2129.6,1070.5l17-10.4 7.9-3.9M2132.3,1074.4l20.8-12.7 -3.8,4.2 -0.5,1.8 6.7-2.9 2.3,0 -4.2,4.3 0.2,1.3 -3.7,4 8.5-4 -2.8,3.3 -11.8,9.1 7.7-3.4 9.9-4.9 0.3,1.3 -8.8,7.2 11.4-5.8 2.3,0 1.2,0.8 8.2-3.7 -12.5,9.4 5-1.6 -5.3,4.8 9.4-4.3 4.2-1.2 -3.9,4 1.6,0.5 -11.8,8.7 9.3-4.2 -12.1,8.8 25.1-13.6 -1.6,2.4 -22,14.7M2154.2,1108.9l22.6-12.3 -9.9,7.4M2156.7,1113.2l16.1-8.3 -3.3,3.3 -9,6.8M2160.4,1119.5l28-14.9 -6.8,5.4 3.2-0.4 -16.3,10.8 -5,4.2 22.7-11.3 -9.1,6.6 0.9,0.9 1.8,0.4 11.9-5.1 -7.1,5.4M2168,1132.9l5.3-2.4 18.2-8.5 -9.6,6.7 28.5-14 -14.7,9.4 8.3-3 -6.4,4.9 -20.5,12.4 5.3-1.4 3.8-0.6M2174.3,1144.7l24.1-11.9 -7.4,5.4 6.4-2 -4.6,3.9 7-2.2 -1.2,2 8.3-2.8 -4,3.5 5.1-1.2 -6.9,5 4.9-1.1 -5.7,4.3M2182.2,1160l19.3-8.7M2183.8,1163.2l23-10.3 -21.7,12 25.6-11 -24.4,13.2 13.2-5 2.5,0.2 10.3-3.5 -1.3,2 -2.3,2.5 0.9,1 8.2-2.4 13.9-5.1 -12.3,7.1 -24.1,12.7 8.6-2.7 9.9-3.1 20.6-8.1 -20.7,10.9 -3.2,2.9 7.7-2.1 7-1.8 -20.8,10.8 16.8-6.2 -15.3,8.2 5.8-1.2 15.8-5.6 -18.9,9.8 4.2-0.5 19.2-7 -11.9,6.6 -9.6,5.5 2.1,0.5 13.4-4.4 -13.8,7.3 0.5,1.1 -5.9,3.9M2203.2,1206l21.4-8 -1.6,2.1 4.1-0.4 -8,4.7 -6.1,3.8 19.8-6.7 2.9,0.2 -14.3,7.2 10.6-2.9 9.8-2.5 -5.9,3.7 -1.1,1.8 -15.5,7.5 6.4-1.1 -13.7,6.7 23.7-7.9M2211.5,1226.7l15.9-5.2 11.3-3 -19,8.6 6.2-1 10.5-2.6 1.2,0.9 -3.1,2.5 -14.9,6.9 23.5-7.4 0.2,1.3 4.7-0.3 1.4,0.8 -13,6.1 4-0.1 20.7-6 -24.8,10.2 5.2-0.5 -0.7,1.6 13-3.2 -9.2,4.6 -13.1,5.9 1,0.9 -6.9,3.7M2222.1,1256.1l5-1.3 0.9,1.1 12.2-2.8 -5.6,3.2 8.6-1.5 16.7-4.2 -22.8,8.8 -5.8,3.2 19.2-4.8 17.7-4.4 -25.1,9.4 -13.6,5.7 9.8-1.8 1.7,0.7 11-2.1 -13.4,5.5 4.3,0 0.9,1 -11.3,4.8 -2.5,2.1 18.4-4.3 5.8-0.4 -11,4.6 19.3-4.4 -1,1.6 -4.6,2.7 0.2,1.3 -2.3,2 2.9,0.5 2.1,0.7 -6.9,3.3M2234.1,1295.1l6.2-1.3 -4.3,2.4 16-3.1M2235.3,1299.1l18.4-3.8 -9.2,3.8 -8.1,3.4 1.4,0.9 32.1-7.2 -0.4,1.5 -17.6,5.9 9.1-1.1 9.6-1.1 -22.8,7.1 -1.9,1.8 12.3-1.8 -2.2,1.9 -8.6,3.4 18.7-3.3 -6.9,3 1.5,0.9 17.3-2.9 -15.4,5.1 19-3.2 -19.7,6 -9.6,3.5 0.8,1.1 8.2-0.6 -0.1,1.3 -2.8,2M2244.2,1335.3l25.8-4.7M2244.9,1338.5l1.9-0.3 0.5,1.2 4,0.4 4.5,0.3M2246.3,1345.1l15.3-2.3 3.1,0.6 -11.4,3.6 0.4,1.2 -5.8,2.4M2247.8,1352.5l10.9-1.5 -8.9,3M2248.6,1356.9l23.2-3.3 -6.4,2.5 -3.6,2 -2.4,1.7 7.8-0.1M2250.7,1367.9l7-0.2 -1.1,1.5M2251.4,1372.1l9.1-1M2252.1,1376.2l1.6-0.2 2.2,0.9M2255.7,1400.5l5.5-0.5 -4.4,1.8M2256.1,1403.6l8.7-0.3M2256.5,1406.6l2,0 4,0.7 6,0.6M2257,1410.9l13-0.7 18.7-0.9 -13.4,2.8 1.1,1.2 5.7,0.6 -11.3,2.5 1.3,1.2 22.6-1.1 -10.9,2.4 -15.8,2.9 -9.6,2.2 41.6-2.9 -8.9,2.2 -23.7,3.6 13.1,0 9.2,0.4 -3.3,1.6 -22,3.2 34.5-1.7 -4.1,1.6 -9.2,2.1 7.5,0.7 -7.6,1.9 -2.7,1.5 12.8,0.3 -24.9,3.1 23.1-0.4 0.2,1.3 4.3,1 3,1.1 5.1,0.9 0,1.3 -1.4,1.4 -15,2.3 7.6,0.8 -10.7,1.9M2261,1456.4l31-0.9 3,1.1 8.4,0.9 -33.7,3 20.9,0.2 5.9,1 -4.7,1.5 13.4,0.7 -22.1,2.3M2261.6,1468.9l15.3,0.1 -12.8,1.7M2262.2,1491.3l9.1,0.4M2262.2,1496.2l10.4,0.5M2262.1,1509.1l0.6,0M2262,1515.6l25.2,1.5 -2.5,1.2 -15.1,0.9 11.7,1.5 9.2,1.6 -5.3,1.1 -0.4,1.3 12.7,1.6 10.2,1.7 -16.7,0.7 -8.9,0.9 -9.9,0.9 31.4,2.6 -26.5,0.1 16.7,2 -4.9,1.1 -6.9,1 15.5,2M2261.2,1539.2l40.7,2.9 -19.9,0.2 11.2,1.9 11.1,2 -21.1,0 23.5,2.7 -2.7,1.2 -34.2-0.9M2260.5,1551.4l32,3.1 -4.3,1 4.9,1.6 -23-0.4 16,2.5 12.3,2.2 -12.8,0.3 14.4,2.5 5.5,1.7 -30.8-1.2M2259.3,1566l32.8,4 1.4,1.4 -13.5,0.1M2258.8,1572.3l44.6,5.3 -21.6-0.8 -1.5,1.1 23.8,3.7 -17.1-0.5 0.3,1.3 12.8,2.7 -5.9,0.7 -12.4-0.1 0,1.3 13.9,2.9 -10.3,0.1M2257.1,1588.4l39.8,5.5 2.9,1.7 -29.3-2.3 6.9,2.2 3.3,1.6 5.3,2 8.3,2.4 6.2,2.1 -15.7-0.8 -10.9-0.1M2255.3,1602l23.4,3.9 22,4.3M2254.9,1605.5l39,6.4 1.2,1.5 -15.6-1 -0.8,1.2 1.3,1.5M2253.6,1614l40.4,7.1 2.8,1.7 -15.2-1 3.3,1.8 -5.8,0.4 12.9,3.4 -15.8-1.3 1.6,1.6 19.5,4.5 -9.8-0.3 -14.6-1.2 1.3,1.5 -5.5,0.4 -7.9-0.1 23.3,5.4 -1,1.1 -21.1-2.5 0,1.3M2249.8,1637.2l19.3,4.5 -7-0.1 21.9,5.4 -12.9-1.1 -2.3,0.9 8.8,2.9 -11.4-0.9 4.5,2.2 2.3,1.8 6.3,2.5 -14.2-1.5 15.1,4.3 0,1.3 9.5,3.3 -13.3-1.4M2245.6,1658.1l8.8,2.5 9.5,3.3 1.5,1.6 9.9,3.5 -6.2-0.1 -11.4-1.2 16,4.9 -11.3-1.3 4.1,2.2 12.8,4.3 0.9,1.5 -20.4-3.4 0.8,1.5 14.6,4.7 -0.3,1.3 -4.9,0.1 12.1,4.3 -20.2-3.6 -9.7-1 -9.1-1 5.4,2.6 3.5,2.2 9,3.6 9.7,3.7 -2.9,0.6 -5.9-0.2 -1.4,1 7,3.1 -6.9-0.5 -22-4.4 10.8,4.1 7.8,3.4 -12.7-2.1 8,3.5 14.1,5.1 -14-2.5M2234.9,1702.2l15.1,5.1 -9.5-1.3 2.1,1.8 -5-0.1 5.3,2.8 -4,0.2 15.3,5.7 -6.7-0.6M2231.7,1713.3l4.3,1.7 25.5,8.8 -11.9-2.2M2230.3,1718l9.7,3.4 1.4,1.8M2229.4,1721.2l10.1,4 -2,0.7 8,3.8 -14.2-3.1M2227.1,1728.6l13.5,4.8M2226.5,1730.6l20.2,7.4 -4.9-0.2 2.9,2.2 -6.8-0.9 -1.9,0.8 17.9,7.1 4.5,2.9 -10.6-2.1 -11.2-2.4 -1.6,0.8 12.5,5.5 -15.9-4.1 -6.3-0.8 5.4,3.2 10.6,5 -15.9-4.2 8.8,4.4 28.8,11.4 -28.8-8.7 -3.4,0.1 8.6,4.4 -1.4,0.8 -19.2-5.5 22.8,9.5 -5.2-0.5M2216,1761.4l10.3,4.3 -1.6,0.7M2214.6,1765l4.2,1.9 11,5.4 2.5,2.4 -11.4-3M2212.2,1771.6l5,2.7 16.2,7.6M2210.3,1776.4l16.4,7M2209.5,1778.4l12.5,5.8M2208.5,1781l11,4.9 1.2,1.9 3.7,2.8 -12.8-3.8 0.7,1.6 17.6,8.5 -10.3-2.8 -2.1,0.5 -7.2-1.6 15.5,7.8 -12.7-4 -5.7-1 9.2,5.2 0.5,1.6 4.5,3.3 -2.6,0.3 8.1,4.8 -13.2-4.3 -2.8,0.2 2.6,2.5 3.6,2.9 1.9,2.3 -15.1-5.3 14,7.5 5.8,4 -2.7,0.2 -8.2-2.3M2194.6,1813.8l11.9,6.2 -2.6,0.2 16.2,8.8 -14.1-5.1 4.2,3.3 -8.4-2.5 4.8,3.7 -6-1.5 -0.3,1.3M2189.3,1825.4l1.4,1 6,4.2 13.6,7.9 -5.8-1.4 -14.9-5.7 20.3,11.2 -6-1.6 4.7,3.7 -16.9-6.8M2183.2,1838l10.5,6.5M2181.7,1840.9l0.6,0.7M2180.9,1842.6l8.9,5.5 -6.8-2 17.8,10.5 -1,0.9 -0.2,1.3 -9.6-3.5 1,1.9 5.3,4.2 -6.9-2.1 7.1,5.1 -8.3-2.9M2173.5,1856.8l35.9,20.2 -29.7-14.4 16.9,10.5 -14-6.1 -3.9-0.7 0.1,1.6 -8.4-3.2 9.5,6.6 -6.2-2 13.5,8.9 -3.8-0.7M2165.3,1871.9l2.1,2.4 14.6,9.7 -7.3-2.7 11.7,8.1 -22.3-11.2 10.2,7.2 6,4.9 -6.5-2.3 7.6,5.9 -4.8-1.3 -9.9-4.3 -1.6,0.5M2156.5,1887.2l13.2,8.7 6.6,5.4 1.4,2.2 -17.8-9.1 -6.2-2.2 6.7,5.5 5.9,4.9 4.7,4.4 -1.5,0.6 -1.1,0.8 -13.4-6.8 6.8,5.7 -7.1-2.9 6.4,5.4 5.1,4.7 -12-6 0,1.5 21.4,14.9M2142.2,1910.5l15.4,10.6 -9.5-4.7 -2.4,0 -0.7,1M2138.8,1915.7l10.8,7.7 -5-1.8 9.9,8 26.8,19.2 5.5,5.2 -0.9,1 -15.6-8.8 -7-3.1 -27.1-16.6 0.9,2.1M2129.1,1930.3l13.2,9.4 8.9,7.6 6.1,5.8 -13.1-7.5M2125.8,1935.1l11.1,8.5 2.6,3.4 -2.1,0.1 -5.3-2.2 14.5,11.7 0.4,1.9 -16-9.8 6.2,6 -3.6-1 -0.9,0.9 2.7,3.5M2116.5,1948.2l14.3,11.2 -7.3-3.8 -1.6,0.4 9.6,8.7 -4.6-1.8 16.3,13.6 1.7,2.9 -22.2-14.9 1.9,2.9M2109.1,1958.1l2.8,2.9 -1.1,0.7 0,1.6M2106.2,1962l8.6,7.5 2.2,3.3 -7.2-4 3.1,4 7.8,7.6 6.5,6.7 -21.1-14.8 16.2,14.2 -18.5-12.9M2098.1,1972.4l21.1,18.1 -4-1.5 -1.7,0.3 6.2,6.6 -9-5.5 -7.8-4.7 11.7,11 4,4.9 -1.3,0.6M2090.2,1982.3l8.3,7.9 15,13.9 -5.2-2.6 -7-4.1 6.2,6.8 -18.9-14.1 8.8,9M2083.8,1990l20.1,17.9 -13.8-10 7.9,8.3 -3-0.9 -2.7-0.6 3.6,4.7 -5.7-3.2 9.3,9.7 -10.2-7.1M2076,1999.2l17.1,16.2 3.9,5 -5.6-3.2 4.3,5.5 -4.6-2.3 -12.7-9.5M2069,2007.1l6,5.8 6.5,7.5 -12.8-9.8 -0.1,1.5 16.4,16.6 -12.2-9.4 -3.9-1.8 -3.1-1.2 16.6,16.9 -2.3-0.4 -0.5,1.3 4.5,5.9 -4.3-2.3 0.9,2.6 -7.3-4.9M2056,2021.4l11,11.3 -11.6-9.2M2053,2024.5l2,2.2 4.4,5.8 -2.9-1 2.8,4.4M2048.3,2029.4l13,13.7 -0.8,0.9 6.4,8 -16.9-14.7 6,7.6 9.4,11.1 2.6,4.4 -6.1-4.3 -3.2-1.4M2039.9,2038l2.1,3.6 4.3,6.2 3.3,5 0.3,2.2M2035.1,2042.8l2.6,3.3 6.3,8.2 -6-4.3M2031.7,2046.1l12.2,13.6 -0.9,0.9 -1.8-0.1 2.6,4.5 9.9,12.2 -16.8-15.7 -7.9-6.5 -0.4,1.4 0.6,2.4 2.3,4.4M2022.2,2055.2l1.5,3.3 3.1,5.1M2019.4,2057.8l14.4,17 -5.9-4.5 4.4,6.7 -4-2.6M2014.7,2062.1l16.4,19.2 -4.2-2.8 -3-1.3M2009.9,2066.5l9,10.8M2008.2,2068.1l3.2,4.5 13.2,16.7 -9.4-8.6 -0.7,1 -3.6-2.1 -5.3-4.2 7.4,10.3 -2.1-0.4 5.7,8.4 -11.5-11.3 2.1,4.4 -2.5-1 -2.9-1.4 9.2,12.6 -10-9.7 -3.1-1.7 18.3,23.5 -11.9-12.1 0,1.9 -2.4-0.8 -9-8.8 5.2,8.2 -8.6-8.4 10.4,14.4 -10-10.1 15.1,20.4 -7-6.5 5.8,9.2 -0.3,1.6 -14.8-16.1 2.8,5.3 -5.7-5 -3.4-2.2 9.2,13.5 2.9,5.7 -7.6-7.6 -1.5,0.2 -1.3,0.4 -0.9,0.8 -0.8,1.1 -8.9-9.3 6.5,10.3 -6.7-6.5 -5.3-4.8 4,7.2 2.6,5.4 3.1,6.2 -2.6-1.3 -1.9-0.4 -6.7-6.7 3.6,6.8 -0.9,0.9 -0.5,1.4 -6.7-6.9 11.2,17.2M1953.5,2112.6l10,14.3 -4-3.3 4.9,8.9 -5.7-5.7 -5.3-5 0.5,2.7 4,7.7 -4.6-4.2 7.6,12.7 -16.3-20.5 13.3,20.7 -4.2-3.7 1.5,4.3 -8.3-9.5 5.6,10.1 -6.8-7.4 0.7,3.1 -9.9-12 7.6,13.1 -1.2,0.6M1932.7,2127.5l4.3,7.7 -0.5,1.5 5.1,9.7 -7.4-8.6 1.9,5.1 5.5,10.3 -10.1-12.7 10.2,17.5 -6.6-7.5 -4.9-5.1 -7.9-9.6M1920.5,2135.7l9.1,15.6 -5.1-5.5 -2.9-2.1 7.1,13.2 -1,0.8 -3.8-3.6 -9.9-13M1912.1,2141.2l8.7,15.1 -2.7-1.9 -2.6-1.6 9.5,17.3 -10.1-13.7 0.6,3.3 8.2,15.6 -6.4-7.9 -8.2-10.7 -4.2-4.5 8.3,15.8 -10.8-15.1 6.6,13.2 4.7,10.1 -8-10.7 1.7,5.3 -4.1-4.3 4.8,10.3M1891.8,2153.8l4.3,8 2.6,6.8 -1.2,0.5 -4.7-5.6 -0.2,2.2 -5.5-6.8 -0.4,1.7 6.1,12.9M1882.8,2159.1l5.4,11.5 -0.4,1.7 -3.8-3.9 7.5,15.6 -2.2-1.4 -7.4-10.3 1.1,4.4 2.7,7.3 -11.6-18 4.5,10.6 -1.8-0.7M1869.8,2166.5l16,30.8 -11.5-18.1 -2.3-1.6 -5.2-6.9M1862.2,2170.6l9.9,20.4 3,8.3M1857.8,2173l5.7,12.7 -0.5,1.7 3.7,9.8M1853.2,2175.4l11.7,23.9 -11.2-18.8 4.1,10.5 -3.5-3.9M1846.8,2178.7l2.1,6.1 7.5,17.5 -7.5-12 -0.9,0.9 0.6,4 -5.5-8.1 3,8.8 1.1,5.1 -3.9-5M1836,2184.1l9.8,22.7M1833.6,2185.3l5.9,14.2 -2.2-1.5 -2.9-3.2M1829.2,2187.4l3.5,9.6 1,5 2.7,8.8 2.4,8 -9.6-17.5 6,15.8 -5.4-8.5 -0.3,2.5 -7.1-12.6 2.6,8.8 -5.2-8.3 4.2,12.1 -7.3-13 2.3,8.1 -2-1.4 1.5,6.6 -0.8,1.2 -1.4-0.1 -3.8-5.3 3.4,10.7 -1.1,0.6 -6.2-11 3.3,10.7 -5.2-8.8 0.5,4.4 -4.8-8.1M1796.5,2202.2l8.2,22 -9.9-20.4M1793.2,2203.6l7.7,21.3 -8.5-17.3M1787.8,2205.8l1.3,3.6 6.4,19.1 0.4,4.4 -3.3-4.9 2.8,10.4 -5.5-10.2 -3.7-5.9 3.6,12.7 -6.9-14.3 2.6,10.1 0.8,5.7 -3.7-6 -2.2-2.1 -0.1,3.1 -1.7-1 -4.5-8.1M1768.2,2213.4l0.8,2.6M1766.9,2213.9l6.2,20.2 -3.9-7 0.4,4.7 0.8,6 0.2,4.2M1758.4,2217.1l9.2,28 -2.5-3.3 -6.4-14.1 6.7,22.6 -3.5-6M1751.2,2219.6l5,16.1M1747.8,2220.8l5.8,19.1 4,15.5 -9.1-22.9 2.6,11.7 -1,1.2 -1,1M1738.5,2223.9l6.8,23 0,4.2 -4.2-8.7 -2.5-3.7M1732.7,2225.8l7.4,25.9 -4.2-9 -3.1-5.5M1724.2,2228.5l1.1,5.5 0.1,4.4 -2.8-4.9 -0.1,4.2 0,4.3M1717.6,2230.5l3.9,16.8M1715.1,2231.2l6.6,26 -7.6-21.5 1.2,8.4 -1.7-1.2 0.6,6.6 -3.6-8.2 1.4,9.8 -5.8-16.3 3.5,17.2 -2.7-4.9 0.1,5 0.7,7.3 -6.2-17.8 -1,1.1 -1.5-0.9 2.6,14.8 4.5,21.8 -1.3,0.4 -2.1-3 -0.7,2.4 -10.7-36 4.4,22 -5.9-17.9 1.4,10.7 -3.7-9.6 0.9,8.7 -4.6-13.4 -0.6,2.8 6.1,30.2 -3.3-8.2 -4.6-13.3 0.1,5.6 -1.8-1.9 -0.4,3.6 -1.6-1.5 -2.8-6.4M1669.7,2243.1l2.1,13.6 -1.2,0.5 3.2,20 -4.2-13.2 -0.3,4.7 -5.1-17.6 -2.6-6.1 1.5,13.2 2.3,16.9 -2.8-7.1 -1.6-1.5 -1.7-1.8M1652.5,2246.8l2.8,16.9 -3.4-10.5 -1.9-3.2M1646,2248.1l0.3,2.6 2,17 -4.6-17.5M1641.7,2248.9l2,14.5 3.3,25.1 -4.1-15.3 -2-3.8 -0.1,6.6 -4.9-19.9 -0.8,2.4 -1.5-1 1.2,13.9 -4.5-18.5 1.1,13.6 -1.9-3.7 -1.1,1 -1.6-2 1.7,18.1 -4-16.5 -2.4-7 0.7,12.1 -2.1-4.9 0.2,8.9 -1.8-2.8 -1.2,0.3 -1.2,0.4 -3.6-15.7M1611.5,2254l3.2,29.2 -4.2-20.1 0.3,10.6 -3-12.2 -0.4,6.5M1602.6,2255.3l3.3,29.4 -4.8-26.4 -1.6-2.5M1597.7,2255.9l2.4,24.3 0.4,12.8 -0.8,4.5 -5.1-31.2 -0.8,4.3 -2.3-8.9 0.1,11.6 -0.3,7.8 -3.9-21.9 1,19.1 -0.9,3.7 -2.1-7.8 -1.9-5 0.9,19.5 -2.5-11.5 -2.5-11.4 -0.4,8.3 -0.2,10.6 -1.3-0.4 -3.7-24.2 -1.2-0.5 -0.5,8.7 -0.5,7.4 -1.1,1.9 -2.2-9.7M1565.7,2259.4l1.4,23.2 -2.9-18.6 -1.1,1.1 -0.6,8.1 -2.1-10.7 -0.4,11.5 -0.9,4.3 -1.6-4.4 0.7,26.5 -1.7-4.7 -2.6-19.2 -0.9,5.7M1549.7,2260.6l1.4,31.2 -1.2,1.6 -2-11 -1.7-8.3 -0.7,10.8 -1.5-5 -1.9-11.8 -1.3-0.9 -0.9,7.6 -0.1,23.3 -1.5-4 -1.2,1.7 -1.4-3.5 -1.2,3.1M1531.5,2261.5l-0.2,18.8 -1.1,3.7 -1.2,2.7M1526.3,2261.7l0.1,23.7 -1.3-1.5 -1.5-7.6 -1.5-9.5 -0.8,18.8M1518,2262l-0.6,16.9M1515.7,2262l-1,12 -1.3-6.9 -1,18.7 -1.3-5 -1.4-11.7 -1.1,19.9 -1.3-9.2 -1.4-8.4 -1.2,5.8 -1.2,0.7 -1.3,4.1 -1.3-10.3 -1.2,16.4 -1.3-2.7 -1.3,11.2 -1.3-6.9 -1.1-15.8M1491.9,2262.2l-1.1,19.2M1488.9,2262.1l-0.3,1.4 -1.7,25.4 -1.4,3.8 -0.7-25.2 -1.6,12.8 -1.3,3.3 -1.5,9.1 -0.8-19.1 -0.9-10.8 -1.7,16.1 -1.2-4.9 -1.2-0.6 -1.1-3 -2,18.8 -0.7-14.5 -1.8,13 -1.3,0.1 -0.7-11.7 -1.8,12 -1.6,5.7 -0.9-7M1460.9,2261.2l-1.4,13.7 -1.8,8.3 -1.9,11.6 0.1-23.5 -0.7-10.1 -2.5,20.5 -0.6-9.6 -1.4,1.4 -1.6,5.9 -0.9-5.7 -1.6,5.4 -0.7-8.9 -1.4,1.9 -1.6,4.4 -1.7,6.9 -0.8-7.2 -1.6,5.1 -1.6,3.6 -1.3-0.1 -0.8-4.8 -2.2,10.5 0.1-16.2 -2.4,12.5 -1.5,2.6 -1.2-0.4 -0.1-12.9 -2.2,10.1 -1.1-1.9 0.2-15.2 -1.7,3.5 -0.4-8.3 -2.6,13.2 -2.6,12.5M1419,2257.9l-2.1,13 -0.8-4.7 -1.9,6.2 -1.5,1.8 -2.2,8.4 -0.4-7.6 -2.6,11.1 0.2-12.3 -2.6,11 1.1-19.9 -1.6,3.1 -2,6 -2.4,8.6 -1.2-0.7 0.4-12.9 -0.3-7.3 -2.5,9.6 -1.5,1.8 -2.2,6.5 -0.9-3 0.8-14.7 -3.2,13.7 -2.4,7.7 0.9-15.3 -0.7-3.6 -3.9,17.8 -1.8,2.9 1.2-16.3 -0.8-3.1 0.4-10.6 -4,17.4 -1.5,1.6 -1.1-1.3 -4.5,19.6 1.5-17.2 -0.6-3.9 -1.7,2.3 -0.7-3.6M1370.2,2251.1l-4.5,20.8 -4.6,19 2.4-20.8 0.6-10.9 -2.9,9.3 -1.3,0.2 -0.1-6.5 -2.6,7.1 -2.7,7.2 2.5-19.7 -2.6,6.8 1.3-13.2 -5.3,20.7 1-11.9 -3.6,11.8 -3.9,13.1 -1.1-1 0.4-8.8M1347.4,2246.8l-7.7,32.1 1.5-13.7 -2.8,7.2 0.8-10 -1.2-0.3 -4.8,16.2 4.2-25.3 -0.7-2.8 -3,7.6 -4.3,13.7M1334.2,2243.9l-6.9,25.3 0.6-8.6 -3,7.5 -5.6,18.9 -0.6-3.3 0.9-9.6 -2.4,4.4 2.6-16.2 -1.4,0.1 -0.6-2.9 -1.9,2.4 -0.3-4.2 -0.5-3.2 -0.8-1.8 -4.2,11.5 2.7-15.9 -3.4,8.5 -4.7,13.1 4.2-21.4 0.9-8.8 -6.2,19.1 0.9-8.6 -0.8-1.7 -4.3,11.4 -1.3-0.3 1.1-9 -1.4,0.5 1.4-10.2 -2.6,5.1 -2.8,5.5 -3.2,6.6 -1.8,1.8 -4.2,10.3 2.5-13.6 -3,5.7 -1.1-0.8 3.6-17 -3.7,8.1 -1.9,2 -2.2,3.1 -1-1.1 -0.2-3.7 1.7-10.2 -2.1,2.3 -2.9,5.5 -2.6,4.3 -2.1,2.2 -0.2-3.7 -1.7,1.2 -3.5,7 1.6-9.3 1.5-9 1.9-10.3 -4.5,9.8 -3.6,7.3 1-7.2M1265.7,2225.3l-5.3,14.4 -1.2-0.3 -2.1,2.5 1.9-10.1 -6.8,16.6 2.5-11.4 1-6.9 0-4 -7.4,17.9 -4.1,8.2 4.8-18.1 1.6-8.4 -3.4,5.9 -4.4,8.9 1.3-7.5 -4,7.6 2.8-11.8 -9.8,23.7 1.9-9.1 -2.5,3.1 2.9-11.7 -4.4,8.5 -4.2,7.8 5.5-18.8 -3.6,5.9 -2.8,4.1 -0.1-3.4 3.1-11.9 -1.3-0.1 -4.6,8.6 -1.3-0.3 2-8.9 -3.6,5.9 6.6-20.6 -6.8,14.1 -5.5,10.7 -2.2,2.1M1220.8,2209.2l-10.7,24.1 1.4-6.9 1.5-7.1 1.6-7.5 -3.2,4.7 0.5-4.6M1212.4,2205.9l-9.7,22.1M1209.9,2204.8l-3.9,8.4 -1.4,0M1207.2,2203.7l-7.3,14.2M1204.6,2202.6l-12.1,26.6 7.4-20.9 -1.1-0.6 -3.4,4.8 -1.8,1 -1.8,1.1 -5.5,9.3 -3.2,4.3 -5.6,9.6 10.2-26.6 -6.7,12.2 -1.3-0.3 2.4-8.6 3.5-11 -14,28.2 0.1-3.3 10.5-26.4 -10.8,20.8 0.4-4 0.1-3.3 -3,3.4 3.8-11.3 -1.7,0.8 -5.5,8.8 6-15.8 1.5-6.2M1174.2,2189l-10.7,20.4 3.8-10.9 -2.7,2.7 -0.9-1 -5.4,8.4 -1.3-0.3 -0.7-1.5 -4.7,6.7 0.9-4.7 -0.3-2.3 2.2-7.4 -0.6-1.5M1158.4,2181.4l-11.4,21.2 -1.7,0.5 1.6-6 -1-0.9 -4.5,6.2 -4.1,5.1 -2.1,1.3 4-10.6 5.4-13.2 -5.5,7.9 -2.3,1.6 -1-0.7 -3,2.9 2.8-8 -2.8,2.5M1141.3,2172.5l-15.8,27.1 2.6-7.7 1.4-5.2 -4.2,5 1.5-5.4 1.7-5.7 -7.3,10.7 0.8-4 2.6-7.4 -6.3,8.7 -1.3-0.3 -0.8-1.1 2-6.2 -6.5,9.1 6.4-14.1M1123.6,2162.8l-18.3,30.6 8.9-18.1 -3.9,4.2 7.5-15.6 -7.3,10.2 5.4-11.9 -1.2-0.4 -8.2,11.6 -7,9.4 0.2-2.7 2.6-6.9 2.4-6.7 -3.9,4.2 -13.1,19.5 0.6-3.5 8.8-17.3 2.9-7.2 2.5-6.5 -10.3,14.5 1.4-4.7 5.2-11 -5.8,7.1 -0.8-1.1 1.8-5.2 -3.8,3.7 -18.1,26.6 16.4-28.7 -2,0.9 3.9-8.5 -4.8,5.2 -10.8,14.7 0.5-3.3 5.6-11 0-2.5 -10,13.3 3.6-7.9 -1.7,0.2 -5,5.4 4.8-9.7 2-5.4 -6,6.9 6.3-11.9 -3.6,3.3 0-2.4 -5.5,6 -0.9-1 -11,14.2 2.3-5.7 3.2-7 -2.9,1.9 2.6-6.1 -2.6,1.7 -3.2,2.3 -1-0.8 -5.9,6.4 2.1-5.4 6.4-11.5 -4.3,4M1060.8,2122.9l-4.9,6.2 -6.1,6.4 -5.6,5.7 5.5-9.9 -2.1,0.8 -9.1,10.5 9.1-14.8 -10,11.7 2.9-6.2 0.7-3.1 -13.3,16 -0.5-1.4 -4,3.2 3.2-6.5 2.7-5.8 4.4-8.2 -11.6,13.5 5.3-9.2 5.7-9.8 -0.6-1.3 -5.9,5.8 6.1-10.2 -1.2-0.5 3.8-7M1036.4,2105l-22.4,27.4 6.8-10.9 -10.2,11.1 3.4-6.5 1.7-4.2 7.5-11.8 -4.9,4.2 -3.1,2 4.5-7.8 -8.8,9.1 -6,5.4M1023.3,2094.7l-4.4,4.7 -23.9,27.8 4.9-8.2 11.7-16.4 2-4.6 -2.9,1.7 0.4-2.5 -6.7,6.2 2.9-5.5 -5.8,5 1.2-3.4 -1.5-0.2 4.3-7.1 -7.7,7.2 -3.2,1.8 4.9-7.8 5.5-8.4 -9.5,9.3 8-11.4 -4.7,3.6 -9.4,9.1 -7.8,7.1 6.6-9.6 -2.8,1.3 -7.2,6.3 11.7-15.3 -1.5-0.2 -5.5,4.3 -8.4,7.6 12.5-16.1 2.6-4.8 -13.4,13.2 -5.5,4.2 9.2-12.2 -2.7,1.1 -6.9,5.8 4.9-7.3 11-14 -11.1,10.3 -8,6.9 11.1-14 -14,13.3 6-8.3 10.1-12.8 -10.8,9.8 7.6-10 -17.1,16.4 0.6-2.5 -8.7,7.4 19-22M976.2,2053.7l-23.6,23.5 -1.9,0 2.4-4.4 1.6-3.5 -2,0.3 -3.6,1.9 -6.7,5 20.6-23.1 -0.3-1.4 -3.6,1.8 -6.6,5 -16.9,15.4 16.6-18.7 -1.7-0.1 -6.6,4.8 -5.1,3.4 11.1-12.9 -1.4-0.4 -3.1,1.3 -17.5,15.5 15.7-17.3 -3.1,1.3 0.2-2 2.6-4.3 -9.1,7 3.8-5.4 3.1-4.7 -3.6,1.7 -2.9,1 4.6-6.2 1.2-2.9 -12.8,10.4 7.6-9 -8.8,6.7 4.4-6 5.1-6.5 2.6-4.2 3.9-5.3 -15.8,13 -4.3,2.3 5.6-6.9 5.2-6.6 -2.9,1 -6,3.8 -9.7,7.2 10-10.8 8.9-9.9 -11.4,8.7 0.5-2.2 2.8-4.2M932.4,2008.7l-15.5,12.3 -10.3,7.5 13.6-13.9 6.1-7 -5.6,3.3 -3.7,1.6 -7.3,4.7 0.6-2.2 12.1-12.2 -11.4,8.2 -3.6,1.4 4.3-5.4 -5.4,3 9.7-10 -5.2,2.9 5.2-6.1 -8.9,5.9 -8.3,5.3 16.6-15.6 -14.4,10.5 -4.4,2 0.8-2.3 -10.2,6.8 8.7-8.9 -14.3,10.2 10.5-10.4 11.4-10.9 -5.5,2.8 1.9-3.1 -13.7,9.5 -7.1,4.1 -3,0.8M905.8,1977.3l-17.2,12.8 4.4-5.1 3-4 -11.1,7.2 1.6-3 3.4-4.2 -5.5,2.7 -3.5,1.1 11.9-10.9 1.3-2.6 -0.7-1 -15.7,10.5 10.1-9.4 0.3-1.8 -11.6,7.3 -6,3 -9.1,5.3 11.1-10 -4.9,2.1 18.2-15.3 -13.8,8.8M889.1,1955.8l-25.8,18.3 9.4-8.6 -12.4,7.6 -5.3,2.3 10.1-9 1.6-2.8 2.7-3.6 -0.1-1.4 -2.8,0.5 8.3-7.6 2.2-3.1 -8.2,4.3 -0.7-1 -11.9,6.9 5.3-5.4 6.5-6.1 7.2-6.6 -9.6,5.3 2.6-3.4 5.6-5.4 -27.3,17.4 21.8-16.6M871.9,1931.8l-25.3,16.3 8.1-7.1 -7.1,3.3 9.7-8.1 -6.5,2.9 -6.6,2.9 13.4-10.6 -18.8,11.1 6.1-5.6 -0.7-1.1 -8.7,4.2 12.3-9.6 9-7.4 -11.8,6.2 -4.1,1.2 3.2-3.6 -0.7-1.1 0.3-1.7 5.2-4.9 3.5-3.7 -4.1,1.1 -8.2,3.8 -5,1.7 11.4-8.8 -21,11.7 -10,4.8 13.1-9.7 10.8-8.2 -2.7,0.1 -8.8,4 4.3-4.1 -15.1,7.7 12.8-9.4 -6.9,2.8 1.4-2.4 -14.2,7.1 10.5-7.8 1.6-2.5 10.4-7.7 -13.6,6.6 18.3-12.3 -32.8,17.9 14-9.7 5.3-4.7 -0.8-1 -3.6,0.7 -2.7,0.1 17.5-11.6 -20.6,10.4 4.1-3.8 1.5-2.4 -15,7.1 8-6 10.1-7.2 2.6-2.9 -13,5.8 2-2.6 -0.6-1.1M833.4,1869.7l-18.5,9.5 3.9-3.6 1.6-2.3 -17,7.8 3.4-3.3 5-4.2 -9.6,3.8 -10,3.9 24.6-14.7 -14.3,6.2 1.6-2.3 2.7-2.8 -11.9,4.8 1.1-2 10.5-7 -11.9,4.8 8.5-5.9 0.2-1.5 10.4-6.8 -9,3.2 -7.3,2.3 5.4-4.1 -2.1-0.4M819.1,1842.6l-15.4,6.7 -18.3,7.7 15-8.9M817,1838.3l-4.5,1.1 -10.3,3.6 5-3.8 0.3-1.6 -5.8,1.5 -4.5,0.7 -0.9-0.9 -2.7-0.2 -10.3,3.5 -13.2,4.9 3.6-3.1 6.9-4.7 12.6-7.4 -3.7,0.4 8.3-5.3 -7,1.9 6.8-4.6 -21.1,8.3 -9.1,2.8 5.9-4.1 -9.2,2.7 24-12.3 -10.2,3.2 5.5-3.8 -1.5-0.8 9.8-5.7 -6.5,1.5 -1.7-0.7 4.3-3.2 -14.9,5.1 -0.8-1 -4.4,0.4 13.2-7 4-3.2 5-3.4 -16.1,5.5 -5.6,0.9 6.7-4.2 7.2-4.4 -20.5,7.2 9.9-5.5 -2-0.6 5.9-3.8 -10.7,3 -4.6,0.5 17.3-8.4 -6.4,1.2 0-1.4 11.5-5.9 -3.8,0.1 -8.4,2 -10.4,2.7 13.4-6.6 0.2-1.4 -1.8-0.7 1-1.8 8.7-4.7 -36,12.5 22.6-10 -5.1,0.5 -3.6,0.1 8.4-4.6 6.5-3.8 -1.1-0.9 -2.2-0.5 1.9-2 -4.4,0.2 8.3-4.4 -6.7,1.1 -0.7-1 -7.9,1.5M781.8,1755.2l-35.9,11.7 4.4-2.9 6.7-3.7 0.8-1.7 -2.8-0.3 4.1-2.8 -1.6-0.8 7.1-3.8 -9.3,1.9 8.6-4.3 -2-0.7 -0.1-1.2 -27.4,7.7 14-6 -4.2,0.1 18-7.3 -11.7,2.5 4.4-2.8 -10,1.9 8.8-4.2 8.6-4 -14.9,3.4 2.3-2.1 12.2-5.1 -7.9,1.1 5.2-2.9 -13.4,2.8 1.7-1.9 -2.3-0.6 10.7-4.6 -17.8,4 12.2-4.9 -5,0.1 3.2-2.3 -2.2-0.6 10.6-4.5 -9.1,1.4 -5.3,0.2 13.2-5.1 -17.4,3.6 13.3-5.1 -0.8-1.1 0.3-1.3 -16.1,3.1 -8.8,1.1 21-7.1 -6.6,0.5 -0.3-1.3 -9.2,1.2 11.4-4.4 4.3-2.4 2.4-2M762.5,1692.4l-26.4,6.1 -1.7-0.8 6.8-3.1 -0.3-1.2 18.2-6 -22.8,4.5 -2.6-0.7 11.7-4.2 1.8-1.7 -6.5,0.3 -15.6,2.4 6.4-2.8M758.6,1676.9l-39.6,8.6 6.1-2.8 16.3-5.1 7.3-3 -7.7,0.5 -11.7,1.4 -0.1-1.3 15.3-4.8 -14.6,2 10.7-3.7 -2.1-0.8 -13.3,1.6 0.5-1.4 10.7-3.7 3.6-2 -6.7,0.1 -3.8-0.5 2.8-1.9 6.2-2.5 -9.7,0.7 -5.9-0.1 16.1-4.6 -11.9,1.1 8.2-2.9 -28.3,4.2 15.7-4.4 16.9-4.5 -5.9-0.2 -17.9,2.1 -2.5-0.8 17.6-4.6 -0.4-1.2M750.2,1636.9l-24.9,3.8 0.7-1.4 16.5-4.2 -10.7,0.6 12-3.4 -8.5,0.2 -21.4,2.4 0-1.3 -3.3-0.7 13.2-3.6 0.2-1.3 7.2-2.4 -26.2,2.9 11-3.1M746.9,1617.2l-4.3,0.2M742.8,1587.5l-3.4,0.3 1.1-1.4M739.3,1548.3l-9.9,0.3 2.4-1.4M738.1,1522.8l-10.4-0.4 6.4-1.4 -5.1-1.2 -4.2-1.1M737.8,1492.8l-8.9-0.5 1.9-1.2M738,1484.2l-10.7-0.6M738.3,1471.8l-10.8-0.8 7.5-0.9M739,1458.1l-7.3-0.6 4.4-1M742.5,1415.2l-9.3-1.5 6.3-0.5M746.1,1388l-3.1-0.6M749,1369.7l-2-0.5 -2-1.6M756.5,1332.1l-3.9-1M763.3,1304.6l-5.7-1.7 4.8,0M764.2,1301.1l-6.3-2M769.3,1283.1l-2.1-0.7 -2.9-2.2M771.4,1276l-3.4-1.2 -5.2-2.9M779.5,1251.5l-10.5-3.9M795.6,1208.8l-4.5-2.2 -0.7-1.7M803.4,1190.7l-5.3-2.8 -4-3.1M812.7,1170.4l-10-5.2M834.9,1127.7l-11.4-6.8M886.3,1047.9l-7.2-5.9 1.7-0.3M923.4,1001.5l-6.2-5.9 -2.4-3.7M945.1,977.5l-2.4-2.4M968.4,953.8l-4.2-4.7M995.5,928.7l-2.4-3.3 2.3,0.7M1019.1,908.6l-2.9-4M1042.5,890.4l-1.9-2.9M1063.5,875.2l-3.7-5.8 3.6,3M1135.9,830.4l-4.5-9 2.2,1.4M1140.8,827.8l-4.6-10.7 2.5,2.1M1182.1,807.3l-2.7-7.1 0.7-1.6M1198.1,800.1l-2.9-7.5 0.2-2.7M1222.2,790.2l-1-3.2 1.4,0.2M1236.2,784.9l-0.9-2.6 0.4-2.6M1267.4,774.2l-3.5-12.3 3.7,7.4 -0.1-4.5M1288.5,767.7l-2.5-10.8 2.5,4.2M1293.4,766.3l-2-8.8M1298.5,764.9l-0.3-1.3M1322.2,758.8l-1-5.5M1325.7,758l-1.2-6.9M1351,752.5l-1.5-10.3M1387.7,746.1l-0.9-7.8M1412.1,742.9l-0.7-9.1M1423.4,741.7l-0.3-4.5 1.1-1.5M1492.2,737.8l0.3-10.3 1.2-0.1 1.3,1.8 1.2-8.3 1.3,11.6 1.2-20.5" fill="none" stroke="#6baed6" stroke-width="1.6" stroke-linejoin="miter" stroke-miterlimit="3"/>
<path d="M1503.6,737.8l0.6,14.1M1559.8,740.2l0,0.3M1561.1,740.3l-0.7,22.8M1571.7,741.2l-0.1,6.2M1597.5,744.1l-0.2,5.1M1600.3,744.4l-0.2,1.9M1631.9,749.3l-0.3,3.2 0.2,5.5M1637.1,750.2l-0.4,8.5M1670.1,757l-4,20.9 3.8-11.2M1707.6,766.6l-2.3,9.5 -3,15M1725.6,772l-0.2,1.1M1733.7,774.5l-0.6,2.8 0.1,3.8M1736.9,775.5l-1.8,7.4M1745.3,778.3l-6.1,19.2 3-5.1M1751.1,780.3l-0.1,1.6 -2.7,11.5 1.6-1M1759.5,783.3l-1.2,4M1762.4,784.4l-6.5,20M1765.3,785.5l-1.1,3.6M1767.4,786.3l-1.9,6.1M1769.3,786.9l-1.1,5.4M1773.4,788.5l-1.7,5M1794.5,797l-3.3,10.2 3.3-4.7M1813.2,805.1l-2.3,5.9M1826.5,811.3l-1.2,3.6M1828.7,812.3l-5.8,13.2 5.2-7.9M1833.1,814.4l-1.8,5M1851.6,823.7l-6.2,13.7M1860.8,828.6l-1.7,3.9M1870.1,833.7l-4.4,9.6 4.2-4.9 0.5,1.5 -3,7.8 -0.3,3.1M1879.2,838.8l-3.8,7.2M1880.9,839.8l-1.9,4.9M1888.1,844l-9.9,18.9 4.5-5.3 3.6-3.6 3.5-3.5 -0.9,3.9M1895,848.1l-5.6,10.2 -3.4,7.9M1897.8,849.8l-5,9.9 4.6-5.2M1901.2,851.9l-3.9,7.4M1904.6,854l-4.1,7.2 1.3,0.2M1908.2,856.3l-4.4,8.9 -1.3,4.3M1913.9,860l-2.7,4.8 2.5-1.6M1917.1,862l-2.8,4.9 3.1-2.5M1922.3,865.5l-2.5,4.1M1928.5,869.7l-0.4,0.9M1931.7,871.8l-0.2,0.3 -7.7,13.3M1942.6,879.5l-3.8,5.8 4.3-3.9M1945.5,881.6l-1.9,3.3M1975.2,904.1l-1.8,2.7M1976.7,905.2l-11.9,16.1M1984.5,911.6l-8.8,11.6 -4.9,7.9M1987.8,914.3l-0.5,0.6M1990.9,917l-4.3,6.5 -0.6,2.6M1998.6,923.5l-0.4,1.5M2009.1,932.7l-4.6,5.6 -2.4,4.5M2011.9,935.3l-3.1,3.8M2018.3,941.2l-0.8,1.1M2020.7,943.4l-10.6,12.2M2029.3,951.6l-13.2,15.2 6.7-5.2M2046.3,968.5l-14.7,15.1M2059.3,982.2l-2.6,2.7 -2.6,4.1 -1,2.5M2062.4,985.5l-4.9,5.3M2063.9,987.2l-17.8,17.3M2066.4,989.9l-17.9,17.2M2068.2,992l-3.7,4.1 3-1 1.7,0M2074.9,999.5l-7.4,7 6.6-4.1M2082.3,1008.2l-1.4,1.3 -3.1,4.2 5.3-2.8M2085.5,1012l-0.3,0.4M2091.6,1019.4l-3.4,3.2M2095.6,1024.3l-1.6,1.6 -0.9,2.2M2100.2,1030.3l-1,0.9 0.4,1.2M2110.4,1043.6l-3.8,3.6M2112.8,1046.8l-5.3,4.3M2119.2,1055.6l-12.4,9.6M2128.6,1068.9l-7.9,5.8 3.2-0.7M2131.4,1073l-6.4,4.7 5.2-2.1M2153.8,1108.2l-6.5,4.6M2155.8,1111.5l-6.2,4.2 2.7-0.2M2158.5,1116.2l-21.8,14 14.4-6.9 4.5-1.2M2167.4,1131.9l-8.6,5.2M2173.7,1143.6l-19.1,10.9M2181.3,1158.2l-6.8,3.8 -4.8,3.7M2182.8,1161.3l-18.9,10 11.1-4.1M2202.4,1204l-3.7,2.1 -4.1,3.1M2210.7,1224.6l-17.7,7.4 8.2-1.8M2221.2,1253.5l-5,2.4 -6.1,3.4M2233.4,1292.5l-17,5.4 4.6,0M2235.2,1298.9l-2,0.7M2243.2,1331.1l-4.9,1.4 -0.7,1.4 -12.2,4 11.1-1.2M2244.6,1337l-12.3,3.1M2245.9,1343.4l-0.1,0.1 -7.3,2.8M2247.4,1350.8l-8.4,2.9M2248.2,1354.6l-5.3,2 3.9,0.5M2249.9,1363.5l-14.6,3.2 -5.2,2.2 9.4-0.5 9.9-0.5M2251.1,1370.5l-15.5,3.5M2251.7,1373.8l-0.3,0 -28.6,6.1M2252.3,1377.6l-26.6,5.4 13-0.9 0.4,1.2 -7,2.3 -14.1,3.4 7.6,0 10.5-0.3 1.1,1 6.8,0.2 -6.3,2.2 -24.5,4.7 25.7-2.4 -10.1,2.6 -8.2,2.4 8.8-0.1 -8.9,2.4 16.1-0.9 -9.7,2.5M2255.9,1402.1l-5.1,1.7M2256.3,1405l-7.8,1.6M2256.9,1410l-6.8,1.3M2260.9,1455.6l-13.5,1.2M2261.5,1467.9l-11.9,0.9M2261.6,1470.9l-22.4,2 -1.1,1.2 10.4,0.9 -3.3,1.3 1.6,1.1 -11.5,1.6 22.4,0.6 -18.9,1.7 3,1.1 6.9,1.1 -6.5,1.3 8.5,1.1 -4,1.2 15.3,1 -8.5,1.4 -3.8,1.2M2262.2,1492.3l-16.2,0.9 8.4,1.1 -4.3,1.3M2262.2,1497.1l-27.4,1 3.5,1.2 3.5,1.2 -14.2,1.1 31.4,1.3 -13.3,1.2 -1.1,1.2 -21,1 17.5,1.4M2262.1,1509.2l-16.7,0.9 14.3,1.4 -4,1.2 -2.2,1.2 1.1,1.2M2261.2,1538.3l-23.3-0.7M2260.6,1549.3l-6.8,0.1 -3.1,1M2259.5,1564.2l-9.3-0.4 5.2,1.7M2259,1570.2l-20.6-1.3 6.2,1.8M2257.2,1587.4l-23.8-2.2M2255.5,1600.9l-15.9-1.6M2255,1604.9l-13.6-1.7M2253.9,1612.2l-6.6-0.7 -7.6,0.1M2249.9,1636.4l-6.6-0.7M2246.1,1655.7l-24.2-4.5 14.3,4.2M2235.1,1701.6l-5.1-1.1M2232.1,1712.2l-7.2-1.7M2230.7,1716.8l-16.4-4.3M2229.6,1720.5l-4.7-1M2227.9,1726l-6.2-1.1 -9.7-1.7M2226.7,1729.9l-7.9-2.1M2216.4,1760.2l-17-5.6M2215.2,1763.5l-11.5-3.5M2213,1769.3l-10.6-3.3 6.2,3.7M2211,1774.6l-0.1-0.1 -23-7.6M2209.8,1777.7l-7.2-2.4M2209,1779.8l-13.1-4.6M2195.5,1811.7l-12.8-5.1 4.4,3.3M2189.8,1824.2l-5-2M2184.7,1834.9l-18.3-8 15.1,8.8 1.1,1.9M2182.2,1840l-1.8-0.8M2181.4,1841.4l-3.2-0.5M2174.5,1855l-14-6.8 5,4.1M2166.8,1869.2l-9.5-4.7 6.8,5.2 0.8,1.8M2157.8,1885l-17.4-9.2 6.4,5.1M2144.6,1906.7l-5.4-3.3 -19-10.5 -0.4,1.1 4.6,4.4M2139.7,1914.4l-13.9-8M2132.1,1925.8l-8.1-4.5 0.5,1.8 -31.6-20 -7.6-3.8M2126.4,1934.2l-11.6-7.4M2117.8,1946.4l-10.5-7.1 -2.3-0.2M2109.6,1957.5l-3-2M2107,1961l-7.2-4.5M2099.3,1970.9l-3.8-2.2 0.9,2.3M2090.6,1981.9l-3.8-2.9M2084.6,1989.1l-14.8-11.5M2076.3,1998.8l-4.3-3.4M2070.8,2005.2l-4.9-3.7 -15.5-12.2M2056.6,2020.8l-7.4-6.4M2054.6,2022.9l-13-10.6M2049.7,2028l-2.7-2.2 -5.5-3.6M2040,2037.9l-0.3-0.3M2035.8,2042.1l-4.5-4.2M2032.6,2045.2l-8.7-7.9M2022.3,2055.1l-0.3-0.3M2019.9,2057.4l-3.5-3.1M2015.4,2061.5l-8.6-8.7M2011.7,2064.9l-6.8-6.8 -8.3-7.4M2008.9,2067.4l-3.9-3.8M1955.5,2111.1l-11.5-14.5 -3.7-3M1933.2,2127.2l-2-2.5M1921.6,2135l-4.1-4.3M1913.3,2140.4l-5-5.8M1892.9,2153.1l-9.9-15.5M1883,2159l-1.2-1.9M1870.6,2166.1l-5.8-9.2M1865.5,2168.9l-5.2-7.4 -4.1-5 2.8,7.5M1859.4,2172.2l-3.2-5.6 -0.5,1.8M1854.3,2174.9l-12.2-21.9M1848.7,2177.8l-3.6-6 0.5,3.8M1836.3,2184l-1.4-2.4M1834.1,2185.1l-2.5-4.6M1829.7,2187.2l-1.2-1.8M1799.8,2200.8l-5.5-10.8 2.1,8.1 -2.9-3.8M1794.3,2203.1l-2.5-3.3M1790.9,2204.5l-7.6-15.6 -2.6-3.2M1770,2212.8l-7.4-17.2M1767.2,2213.8l-0.6-0.7M1760.5,2216.3l-7.9-20.2 1.1,6.6M1752.4,2219.2l-7.8-20.3M1749.7,2220.1l-1.7-4.2 -4.4-9M1740.7,2223.2l-8.4-23.6 0.8,6.4M1733.6,2225.5l-4.1-11M1728.7,2227.1l-1.3-3.2 -2-2 0.5,5.5 -3.3-6.5M1717.9,2230.4l-0.8-2.1M1715.8,2231l-3.3-9.8M1671.6,2242.6l-1.9-6.5 -0.7,2.6M1654.9,2246.3l-5.1-21.7 0.5,8.7M1649.2,2247.5l-3.2-11 -1.5-1.4M1643.2,2248.6l-2.8-9.2M1612.8,2253.8l-2-5.8M1605.1,2254.9l-3.3-18.2 -1.8-4.4M1599.5,2255.7l-4.2-22.8M1567.2,2259.2l-2.9-23.5M1551,2260.5l-2.4-25.9M1532,2261.5l-0.4-4.8M1527.4,2261.7l-1.2-19.9M1519.7,2261.9l-0.4-6.3 -1.2,2.7M1515.8,2262l-0.1-0.8M1494,2262.2l-0.4-6.9 -1.2-3.3M1490,2262.1l-0.1-3.8M1463,2261.3l0.2-11 -1.3,1.3M1419.8,2258l0.7-9.5M1372.3,2251.4l1.3-10.7 -0.9-2M1347.7,2246.8l0.7-4M1334.3,2244l0.2-1M1266.9,2225.7l5.1-17.9M1222.3,2209.8l2.4-6.6 -2.5,2.9M1213.8,2206.4l7.3-20.4M1211.1,2205.3l5.3-14.2M1207.3,2203.7l0.1-0.3M1205.5,2203l4.6-12.4M1175.1,2189.5l3.1-8.2M1160.4,2182.3l2.8-6.5 5.8-14.4M1141.4,2172.6l0.4-0.9M1124.7,2163.4l12.1-22.9M1062.7,2124.3l3.6-5.7 3.3-6.8M1037.1,2105.5l2.3-4.1M1025,2096.1l2.8-3.8 3.8-6.7M976.8,2054.3l5.5-6.7M932.4,2008.7l0.1,0M906.2,1977.9l9-7.6M889.7,1956.6l14.2-11.2M873.2,1933.7l6.2-5.2 1.3-2.3M834,1870.6l15.4-9.1M820,1844.3l7.9-4.4 -2.4-0.1M817.1,1838.5l0.6-0.3M782.4,1756.8l4.5-1.8 5.7-3.3M762.8,1693.6l18.8-5.6M758.8,1677.9l21.5-5.7M750.4,1638.1l21.9-4.7M747.2,1619.6l15.5-2.9 -9.2,0.2M746.7,1616.4l11.9-2.7 0.8-1.4 19.4-4.1 -1.3-1 5.3-2 -0.6-1.1 -8.5,0.1 -10.2,0.2 -15.6,1 9.1-2.5 18-3.7 4.6-1.8 5.2-1.9 -12.3,0.4 5.1-1.8 -6-0.5 7.2-2.1 -24.3,1.9 11.8-2.7 -7.2-0.3 11.5-2.6 -26.3,1.9 36.6-5.5M742.7,1586l18.9-3.2 -7.1-0.5 7.8-2 -9.6-0.2 8.6-2.1 -15.2,0.3 28.1-4.1 -15.7,0.4 8.3-2 1.2-1.3 -9.4-0.3 9.3-2.1 2.6-1.5 -11.4-0.1 13.5-2.4 -5.1-0.8 -13.8,0 14.6-2.4 -16.2,0.1 18.2-2.7 -8.3-0.5 -0.5-1.2 14.3-2.3 -17.6,0.2 17-2.5 -23.1,0.5 -7.2-0.7 19.3-2.6 -2.1-1 2-1.4M739.2,1546.5l26.7-2.6 -2.6-1 -13-0.5 13.5-1.9 4.2-1.5 -11-0.6 -3.8-1 8.9-1.6 -2.2-1.1 7.1-1.6 -2.3-1 18.5-2 1.2-1.2 -25.3-0.2 8.3-1.5 6.5-1.4 -14-0.7 -18.8-0.6 5.3-1.4M738,1517.8l15.3-1 9-1.4 -2.2-1.2 -4.7-1.1 5.5-1.3 4.9-1.2 2.3-1.3 9-1.2 -9.3-1.1 -7.6-1.2 13.8-1.2 -0.8-1.2 -18.1-1.1 13-1.3 -8.3-1.1 12.5-1.2 11.4-1.2 -19.5-1.2 -7.3-1.3 2.1-1.2M737.9,1490.9l24.4-0.6 8.2-1.1 -8-1.3 -9.7-1.4 4.5-1.1M738,1483.1l7.5-0.4 21-0.7 -1.1-1.2 1.1-1.2 -7.9-1.4 19.4-0.6 -20-1.8 17.8-0.6 -12.6-1.6M738.4,1470l21.7-0.1 15.1-0.6 -13.8-1.8 5.5-0.9 11.4-0.7 -19.8-2.1 16.5-0.4 -13.5-1.9 17.7-0.2M739,1456.5l20.3,0.1 6.7-0.8 -8.9-1.8 10.7-0.5 -16.9-2.3 17-0.1 -6.7-1.6 10-0.5 -10.9-2 12.8-0.3 -4.3-1.5 -8.7-1.8 17.3,0.1 -6.2-1.7 -7.1-1.7 6.9-0.6 7.4-0.6 4-0.8 9.7-0.4 36.1,2.1 -0.8-1.2 2.8-0.8 -33.9-4.3 -24.9-3.5 4.7-0.8 6.2-0.5 -14-2.6 5.8-0.6 -20.6-3.4 -2.6-1.5 32,2.2 -16.2-2.9 -3.7-1.6M742.7,1413.5l41.3,3.6 -10.9-2.5 3.5-0.7 -21.1-3.8 6.3-0.4 -4.9-1.9 21.1,1.5 -4.6-1.8 1.2-1 6.7-0.4 -2.1-1.4 10,0.1 -13.1-2.9 6.6-0.3 -7.9-2.3 -4.2-1.8 8.2,0 2.9-0.8 -12.9-3.1 -2.9-1.6M746.1,1387.7l20,1.9 32.1,3.7 -18.3-4 -7.5-2.4 3-0.7 16.4,1.4 -11.5-3 -11.8-3.2 3.3-0.6 16.1,1.4 -8.9-2.6 -18.1-4.3 0.1-1.2 -2.1-1.6M749.3,1368.1l26.1,3.6 2.3-0.8 10,0.6 -4.2-2 -14.8-3.9 5.7-0.1 20.3,2.5 -17.7-4.5 11.6,1 -12.3-3.6 9.6,0.7 -19.7-5.1 11.8,1.1 -8.6-2.9 21.2,3 -6.1-2.4 -4.3-2.1 13.5,1.6 -4.2-2.1 -1.2-1.5 -6.1-2.4 -1-1.5 16.1,2.3 -22.3-6.1 -0.3-1.2 11.7,1.3 -11.7-3.8 8.6,0.7 5.5,0M756.6,1331.9l55.4,11.4 -23.6-6.5 -13.5-4.4 1.5-0.9 0.6-1.1 17.2,2.9 -0.1-1.3 -13-4.3 -15.2-4.9 16.3,2.7 -15.1-4.9 29.3,6 -5.1-2.5 14.4,2.3 -19.5-6.1 -1.3-1.5 -5.1-2.5 3.7-0.3 22.5,4.5 -18.4-5.9 16.4,3 -14.3-5M763.7,1303.1l23.1,5M764.3,1300.7l41.5,10.2 5,0.1 -4.2-2.4 -25.2-8.2 6.4,0.6 2.4-0.6 6.4,0.6 -5.2-2.7 -6.9-3.3 1.1-0.9 6.7,0.7 -0.4-1.4 -1.8-1.7 -3-2.2M769.7,1281.7l39,10.6 -10.6-4.5 -1.4-1.6 1.1-1M772,1274.3l19.2,5.1 11.6,2.4 -2.2-1.9 3.5-0.2 8.6,1.5 -15.5-6.2 16.9,4.2 -9.5-4.3 1.6-0.7 -3.3-2.3 8.9,1.6 -16-6.5 -6.3-3.3 4.2,0.1 12.1,2.8 11.1,2.5 -27.7-10.7 29.8,8.9 4.5,0.3M779.7,1250.8l21.9,6.8 14.5,3.8 -11.1-5.2 14.6,3.9 -15.4-6.7 -0.7-1.5 3.8,0.1 -8.7-4.4 4.9,0.5 25.7,8 -21.7-9.1 -0.5-1.5 -6-3.5 9.5,2.3 -6.3-3.7 8.6,2 -4.6-3 -5-3.2 12,3.3 4.1,0.3 -4.8-3.2 -7.6-4.1 2.2-0.5 2.7-0.2 -3.7-2.7 2.2-0.5 13.4,4 -17.5-8.2 -3.5-2.7 1.4-0.7 25.3,8.8 -19.5-9.1 16.2,5.3 -5.3-3.5 0.7-1 -15.7-7.7M796.3,1207.1l19.9,7.3 9.5,2.7 6.9,1.6 -13.2-6.9 -4-3 5.8,1.2 -11.7-6.4 -4.7-3.3 18.9,6.8 -1.3-1.8 -2-2.2 20.9,7.8 -21.3-10.6 -3.6-2.9M804.2,1188.9l26.7,11 -13.8-7.5 14.3,5.1 -1.3-1.9 -0.3-1.4 -10.8-6.3 -3.8-3.1 11,3.8 20.2,8 0.3-1.1 -2.2-2.3 -11.2-6.6 -3.1-2.8 3.2,0.2 11.9,4.3 1.3-0.7M813,1169.9l32.6,14.7 16.5,6.6 -0.5-1.5 -7.6-5 -18.2-10.2 14.6,5.8 -11.5-6.9 -13.6-8.1 7.6,2.4 3.4,0.4 16.5,6.9 -2.8-2.7 11.1,4.3 -16.3-9.6 -3.1-2.9 -7.8-5.4 10,3.8 0.5-1.1 10.7,4.2 -7.9-5.4 -2.5-2.7 -1.5-2.1 -1.2-2 6.1,1.8 -1.5-2.1 3,0.3 9.5,3.6 -3.9-3.4 -7.6-5.4 1.9-0.3 4.8,1.2 7.9,2.9 -9.3-6.4 6.8,2.4 -0.5-1.6 -6.8-5.2 -4.9-4.1 12.9,5.8M835.3,1127l18.7,9.6 6.9,2.6 -14.5-9.6 3,0.3 8.5,3.4 12.3,5.7 -12.3-8.5 2.6,0.2 15.1,7.4 -0.7-1.8 -5.7-4.7 -7.9-6 35.2,19.3 -24.5-15.8 -4.1-3.8 -17.7-11.9 12.2,5.9 4,0.9 3.4,0.7 -1.6-2.4 -2.2-2.7 6.7,2.7 -3.6-3.6 -11.8-8.7 14.8,7.7 -3-3.2 -10.8-8.1 22.6,12.6 -3.8-3.8 5.4,2 -10.4-7.9 -4.2-4.1 4.8,1.6 5.5,2 2.2,0.1 -1.1-2.2 -7.4-6.1 4.6,1.5 -7.5-6.3 -5.4-4.9 43.7,27 -37.2-25.8 0.6-1 11.6,6.2 21.4,12.7 -4.8-4.6 -14.4-11 17.7,10.3 -20.5-15 12.8,7.1 -5.1-4.9 6.6,3 0.2-1.2 25.2,15.7 -19-14.4 -4.2-4.3 1.7-0.3 -9.2-7.8 12,6.9 -20.7-15.8 -2-2.9 23.2,14.7 6.6,3.3 -3.7-4 -7.1-6.6 0.3-1.2 -4.4-4.6 -1.2-2.3 17.1,10.7 6.8,3.5 -4.3-4.5 -3.4-3.9 2.8,0.5 -23.3-18.5 16.4,10.5 -8.2-7.5M887.5,1046.4l33.1,23.3 -5.3-5.5 -5.7-5.7 6.9,3.7 -12.2-10.6 11.4,7 3.4,1.1 -5.6-5.7 -14-12.2 6,3.1 -5.8-6 16.3,11 -7.1-7 3.4,1.1 -13.6-12.2 18.4,12.9 4.1,1.7 5,2.4 5,2.4 -12.6-11.5 -1-2.3 11.5,7.6 -11.1-10.4 5.7,3 0.9-0.7 -11.8-11.1 4,1.7 -0.7-2.2 -2.9-3.9 8.8,5.6 7.3,4.4 -10.7-10.4 -3.9-4.8 32.6,25.5 -7.7-7.9 0.5-1.1 0.9-0.9 -14.8-13.9 8.6,5.6 2.2,0.3 -2.4-3.5 -2.7-3.9 4.3,2.1 -1.1-2.6 13.1,9.7 -6.8-7.5M924.9,999.8l8.4,6.6 4.8,2.5 5,2.8 -7.9-8.6 -4.9-5.9 8,5.4 11.9,9 -12-12.3 7.7,5.2 9.5,6.9 -7-7.8 7.4,5 2.1,0.3 5.4,3.4 1.5-0.3 -11.1-11.8 20.4,17.1 -16.1-16.3 -5-6.3 0.3-1.4 6,4 10.2,7.8 -4.9-6.2 -5.4-6.6M945.3,977.3l16.2,13.8 16.9,14.3 -3.5-4.9 2.2,0.6 -10.7-11.9 -0.2-1.9 2.4,0.6 3.7,2 12.5,10.4 -6.7-8.1 -10.1-11.5 12.2,10.2 2.8,1.1 4.8,3.1 -4.6-6.2 -5.7-7.3 13.9,12.1 -10.9-12.5 7.2,5.6 -19.4-21.2 13.2,11.5 -1-2.7 16.6,15.2 -16-18 2.9,1.3 4.8,3.2M968.8,953.4l17.5,16.8 4.6,3 -10.5-12.6 10.7,9.3 -4-5.8 8,6.6 5.6,4.2 -15.4-18 4.5,3 -2.6-4.5 0.6-1.2 6.4,5.1 -0.5-2.2 6.9,5.5 2.4,0.9 -4.3-6.4 15.4,14.9 -8.5-10.9 4.7,3.3 -4.6-6.7 6.5,5.4 -13-16.2 1.4-0.2 9.6,8.8 -5.6-8 16.1,16.2 1.5-0.1 -12-15.2 -9.4-12.4M996.8,927.5l14.7,15.1 -7.5-10.4 12.4,12.4 10.5,10.3 -1.8-3.9 -5.2-7.9 -3.7-6.1 7.4,6.9 -8.5-11.9 15,15.8 -6.4-9.4 6.8,6.2 -1.3-3.4 1.2-0.3 -9.2-12.9 -4.8-7.6 22.9,25.6 -4.9-7.8 -4.7-7.5 6.9,6.5 -2.2-4.5 -0.2-2.1 -4.7-7.6M1019.5,908.3l12.5,13.9 5,4.2 0.4-1.4 5,4.3 -1.3-3.5 -0.9-3 -14.1-19.7 6.4,6.1 5.7,5.3 3.7,2.7 7,7 -8.7-13 12,13.4 1.1-0.5 -8.4-12.8 7.1,7.2 4.6,4.1 -19.5-27.5 17.6,21 1.2-0.3 6.8,6.9 -6.3-10.2 -6-10M1043.1,889.9l3.3,3.2 6.3,6.5 23.2,29.2 -18.9-27.5 3.2,2.2 5.2,5.1 5,4.8 -4.1-7.6 6.2,6.5 -2.5-5.5 8.2,9.4 -0.2-2.4 -14.9-22.6 3.9,3.3 8.8,10.3 -9.3-15.2 16.6,21.4 -6-10.6 5.8,6.2 -8.1-13.6M1064.8,874.3l16.5,21.8 3,2.2 -7.7-13.3 3,2.3 -7.9-13.7 7.7,9 3.4,3 8,9.7 2.9,2.2 -7.8-13.9 4,3.9 -5.4-10.2 1.7,0.3 7.5,9.2 1.7,0.4 7.8,9.6 -14.5-24.3 0.8-0.9 10.2,13.4 -2.3-5.8 5.2,6 -14-24 10.8,14.6 1.9,0.6 2.6,1.9 4.4,4.8 -5.3-10.7 5.1,5.9 -1.4-4.5 -1.7-4.9 2.8,2.2 3.6,3.4 -3.7-8.1 3.2,2.8 7.8,10.5 8,10.8 -2.2-5.9 -6.3-12.7 -6.6-13.2 8.7,12.2 -0.8-3.8 6.5,8.6 -6.8-13.7 -5.8-12 12.4,18.4 -0.7-3.4 -9.4-18.4 10.8,16 5.3,6.7 -2.1-6 -1.3-4.6 3.2,3 0.6-1.2 -4.6-10.5 9.3,13.9 -6.8-14.3 7.5,10.7 -4.7-10.8 -1.9-5.8 5.7,7.7 4.9,6.3 5.1,6.7 3.3,3.6 -8.1-17.2 10,15.7 -4.6-10.8 1.5,0.2M1137.7,829.4l6.3,10 5.8,8.4 -7.7-17M1142.9,826.6l16.8,29.6 -7.9-17.6 10.8,18.1 -8.8-19.4 6,8.9 6.5,10 -9.7-21.4 -0.8-4.2 7.6,12.1 -3.2-8.8 12.4,21.6 -7.7-17.7 3.6,4.3 -0.8-4.3 2.8,3 -0.3-3.3 2.4,2.2 2.6,2.5 -0.2-3.1 -0.6-3.9 -2.2-7.2 3.1,3.5 5,7.7 0.2-2.3 1.6,0.4 -8-19.4 11.7,21.8 -2.2-7.5 5.7,9.3 -4.6-12.5 4.1,6 -0.5-4 3.1,3.9 -4.2-11.9 -1.7-6.7M1184.1,806.3l7.6,14.9 15,30.2 -3.2-9.9 -5.2-14.6 2.3,2.3 5.4,9.3 4.4,6.9 -3.2-10.1 -9-23.4 8.3,15.9 -5.1-14.6 7,13.1M1199.8,799.4l12.9,27.7 1.7,1.1 1-0.7 -3.6-11.6 7.9,15.8 -0.3-3.8 -0.1-3.4 -7.3-20.6 9.9,20.6 -2.6-9.4 10.4,22.4 -13.1-35.3 1.5,0.4 10.4,22.5 -8.3-23.8 6.3,12.5 -0.7-5 10.8,24 -10.1-28.9M1223.6,789.7l10.7,24.4 -4-13.8 13.9,32.9 -4.9-16.1 2.2,2.5 -1.3-6.8 -4.9-16.5 7.8,17.6 0.2-2.9 4.5,8.6M1237.8,784.3l5,11.3 -2-9.1 13.7,34.5 3.1,5.1 -2.3-10.1 -2.4-10.1 3.3,5.7 -3-12.2 2.3,3 5.6,12.5 -2.1-9.5 3.4,6 2.6,3.9 -1.9-9 0.7-1.6 -2.1-10 7.1,17.3 3.1,5.6 -5.4-20 5.6,13.2 -2.3-10.9 1.4,0.4 8.7,22.9 -2.4-11 -3.5-14.7M1270.8,773.1l2.5,6.2 5.2,12.5 -0.2-4.6 -0.2-4.9 4,8.8 2.1,2.7 4,9.2 -4.3-18.4 1.6,1.2 2.1,2.8 3.5,7.6 -2.9-14.1 7.4,20.8 -3.6-16.5 -1.2-8.4M1290.4,767.2l10.6,33.2 -3.6-17M1294.3,766.1l4.8,14.5 4.5,11.5 3.2,7.1M1298.6,764.9l7.9,24.2 -1.5-9.9 -0.3-6 3.5,8.5 1-0.9 0.8-1.6 -2.3-13.6 6.1,18.5 -0.9-8.1 -1.7-11.8 6.8,22 3.1,7.1 -1.6-11 1.2-0.1 -1.6-11.4 0.8-2 3,7.2 0-5.2 2.9,7M1323.5,758.5l0.5,1.3 4.4,13.4M1326.6,757.8l3,9.8 3.4,9.3 2,3.3 2.6,6.1 -4.4-25.2 4.2,13.4 3.1,8.4 1.3,0 -2.1-15.1 3,8.4 4.8,16.4 2.7,7 -1.5-12.4 -1.5-13 2,3.5 1.6,2 -4-25.5 2.8,7.5 3.7,12.2 -0.2-7M1352,752.3l3.6,14.8 -1.1-12.2 6.3,26.2 -3.3-23.5 3.8,13.4 3.4,11.6 -0.1-6.9 0.8-2.6 -0.8-10.9 2,4.1 2.7,8.7 1.2-0.5 0.5-4.1 0.1-6 3.5,13 1.1-0.5 0.3-5.6 2.3,6.7 -1.7-17.8 2.1,5.6 3.2,12 1.2,0.2 -1.7-18.5 2.9,10.5 2.3,7.1 -1-13.9 0.1-7.6 7.5,41.2 -3.2-29M1388.8,746l1,3.6 1.2,0.2 2.1,5.7 3.9,18.9 -0.7-13.7 2.3,8.3 1.3,0.2 -0.2-9.9 2.7,11 1.2-0.3 -1.7-22 2,5.5 4.2,23.7 0.9-2.6 1.6,3.4 -0.4-13.1 2.4,9.7 0.3-6.9 0.8-3.5M1412.9,742.8l2.9,18.3 1.2-0.5 2.4,11.1 1.1-0.5 -0.4-14.8 1.7,4.3 2.1,8.7 2,7.4M1425.1,741.5l2.5,16.6 2.7,15.1 0.8-3.9 1.6,4.6 0.7-5.5 0.1-12.3 1.5,3 1.5,3.1 3.7,30.5 -0.9-25.2 0.8-5.3 2.6,17.9 0.4-9.4 2.2,12.3 -0.7-25.3 2.1,13.5 0.1-15.4 2.6,19.4 -0.6-26 1.4,2.1 1.6,5.6 1.6,6.3 1.2,1.2 1.3,0.6 0.5-11.7 1.2,0.2 1-3.3 1.9,12.3 1.3,1.2 1.8,13.1 1.5,5.9 0.3-18.1 1.3,3 1-6.3 1.2,1 1.3,1.6 1.1-1.4 1.9,17.6 0.7-11.8 0.9-8.3 1.2,1.1 1.1-3.1 1.9,21.9 0.6-21.5 1.1-3.6 1.2-0.8 1.2,2.7 1.2-1.8 1.1-4.7 1.4,11.3 1.2,0 1.1-5.9 1.5,16.1 1-14.1" fill="none" stroke="#fb6a4a" stroke-width="1.6" stroke-linejoin="miter" stroke-miterlimit="3"/>
<path d="M1673.8,763.7L1676.4,752.5M2087.8,1023.8L2096.7,1016.5M2101.4,1041.1L2110.6,1034.1M2204.9,1225.5L2215.6,1221.3M2234.5,1318.9L2245.7,1316.2M2242.2,1353.6L2253.5,1351.4M2254.4,1443L2265.8,1442.1M2238.3,1664.8L2249.6,1667.3M2212.5,1754.1L2223.4,1758M2090.4,1972.9L2099.4,1980.1M2040,2029.8L2048.2,2037.9M2014.8,2054.3L2022.6,2062.8M1947.9,2109.6L1954.7,2118.9M1799.6,2194.6L1804.2,2205.2M1755.2,2212.2L1759,2223M1571.3,2253.1L1572.4,2264.6M1528.5,2256L1528.9,2267.5M1495.4,2256.5L1495.3,2268M1367.6,2244.8L1365.6,2256.1M1282.8,2224.7L1279.5,2235.7M973.8,2043.5L965.8,2051.8M886.5,1942.6L877.2,1949.3M832.4,1144.2L822.3,1138.8M1258.5,783.1L1254.8,772.2M1293.1,772.3L1290,761.3" stroke="#000" stroke-width="1.8" fill="none"/>
<g id="genes" fill="none">
<path d="M1500,630.55A869.45,869.45 0 1 1 1500,2369.45A869.45,869.45 0 1 1 1500,630.55" stroke="#8e8e8e" stroke-width="23.3" stroke-dasharray="0 10.46 4.02 14.28 1.08 41.37 0.66 64.41 3.02 4.12 5.7 2.93 1.88 1.81 1.23 5.32 2.27 9.03 1.2 2.82 4.25 0.76 2.23 27.41 6.39 26.47 3.74 0.71 21.51 2.21 5.06 1.88 14.64 1.74 4.65 6.57 0.4 8.35 4.02 1.07 18.35 25.14 4.09 2 6.96 6.95 15.14 28.82 0.67 14.22 2.84 8.65 4.35 37.08 14.72 2.52 8.43 18.45 4.73 2.48 34.95 0.47 26.53 1.02 2.67 22.56 2.23 49.76 12.42 5.17 0.37 5.13 3.39 15.66 1.81 1.06 7.79 2.13 1.33 6.62 6.34 11.04 7.88 8.74 0.51 20.63 11.51 7.5 2.43 8.38 2.73 2.03 14.95 1.64 0.77 0.78 5.02 17.19 31.97 0.97 7.27 9.88 2.47 7.69 1.34 12.11 4.67 1.61 9.37 1.8 0.65 7.4 5.42 3.24 24.73 49.16 2.99 8.22 1.34 8.89 0.78 0.95 2.02 1.14 3.7 28.6 9.05 0.53 2.95 2.72 2.18 15.64 2.23 0.77 0.84 9.14 1.19 10.51 2.52 30.98 16.93 5.1 2.64 7.16 5.24 2.72 3.68 12.37 3.11 5.95 7.4 2.99 1.13 0.7 7.17 4.36 4.35 20.65 32.2 2.77 7.86 3.59 7.09 2.84 1.83 0.77 4.45 9.79 0.97 2.45 3.26 1.1 1.62 0.78 1.33 1.35 1.97 2.42 5.73 1.03 2.54 1.68 4.21 2.29 4.12 10.01 4.6 0.96 15.28 29.79 4.16 21.44 1.71 5.02 16.39 0.92 0.77 11.29 2.43 1.41 0.52 1.45 4.98 13.94 1.78 5.69 6.42 20.78 0.38 1.28 3.11 2.15 17.32 5.41 9.51 10.03 0.96 5.75 10.43 13.68 1.27 10.73 0.76 24.95 6.19 1.15 24.17 16.58 6.3 0.72 1.3 2.83 1.71 33.17 16.08 18.94 1.59 0.59 2.32 1.75 8.24 2.59 3.35 18.21 6.19 2.57 1.8 17.83 3.27 30.32 1.56 30.68 4.26 3.71 4.54 15.05 2.24 3.66 0.97 2.07 0.46 7.08 0.74 76.68 5.8 4.71 1.88 6.37 2.34 14.32 1.02 10.92 5.35 0.98 10.93 11.39 9.12 7.43 10.8 1.23 3.44 1.56 16.61 1.45 0.7 42.22 20.91 4.88 0.64 3.02 3.5 31.38 28.39 1.74 2.83 4.66 3.61 4.14 4.65 12.84 3.15 4.86 4.1 8.55 1.5 2.05 2.34 8.61 6.07 2.76 26.86 6.44 1.7 16.36 0.49 21.72 1.74 22.86 0.98 1.88 25.14 2.72 13.64 16.83 4.1 7.57 1.99 5.78 7.21 21.01 4.08 17.02 5.77 3.82 5.99 9.19 0.56 11.46 0.6 0.98 0.91 26.4 0.69 6.27 1.76 51.94 3.63 5.27 3.04 2.22 3.99 9.25 2.54 5.41 4.15 1.35 21.34 9.8 6.27 8.09 0.35 1.19 2.92 26.93 3.43 6.51 3.14 10.49 6.83 23.72 0.84 1.53 18.03 2.49 8.38 3.82 0.88 1.51 3.27 11.26 6.17 61.54 21.92 1.42 3.64 42.83 8.66 2.6 2.55 8.67 38.18 43.29 1.8 2.87 9.12 25.6 1.34 8.04 11.67 6.26 0.88 7.06 0.81 2.25 0.86 3.87 5.12 54.55 6.2 159.17 1.2 7.93 5.07 2.69 4.03 0.73 9.51 37.57 2.04 10.92 4.16 10.59 0.51 9.97 6.34 162.28 1.22 1.46 0.99 53.8 2.35 46.13 66.71 1.99 20.17 9.51 4.1 1.71 3.53 16.23 1.12 15.33 3.39 2.89 4.07 4.3 45.61 4.52 0.84 2.28 17.76 2.77 11.27 3.39 44.71 1.05 4.61 1.5 1.26 2.91 10.06 1.33 22.96 1.08 10.76 2.88 8.09 17.34 32.57 5.16 13.11 0.73 2.04 2.36 3.31 6.59 14.52 0.47 57.21 1.98 5.16 7.52 1.69 1.36 19.09 1.85 32.69 0.97 7.99 2.68 14.92 1.78 34.3 9.48 11.45 2.44 1.33 1.7 1.3 1.81 17.27 1.3 9.71 12.74 39.62 2.2 13.81 1.35 12.97 2.33 2.03 1.68 7.63 2.96 1.72 3.07 20.04 1.17 21.87 0.49 1.53 1.28 18.9 1.99 16.28 2.93 15.94 5.34 28.31 3.16 15.59 1.58 8.35 0.52 8.26 15.52 3.34 1.34 1.58 1.54 4.02 3.29 13.21 31.36 7.2 8.08 24.66 0.47 4.31 0.99 8.47 28.51 1.6 0.63 20.74 1.36 4.65 1.63 25.36 3.97 15.08 1.79 26.69 0.72 1.48 0.69 14.1 24.81 26.9 1.46 31.49 1.66 17.8 6.81 24.72 3.44 1.93 3.09 13.4 0.39 19.88 1.14 12.03 0.63 4.89 3.53 18.69 62.21"/>
<path d="M1500,630.55A869.45,869.45 0 1 1 1500,2369.45A869.45,869.45 0 1 1 1500,630.55" stroke="#aaaaaa" stroke-width="23.3" stroke-dasharray="0 10.68 1.85 0.6 1.14 14.72 0.64 41.74 0.35 64.78 0.82 0.47 1.29 4.56 1.78 0.52 0.85 0.48 1.63 3.22 0.35 0.51 0.72 2.25 0.79 5.76 1.83 9.47 0.76 3.26 1.92 0.54 0.6 0.47 0.35 1.14 0.82 0.5 0.47 27.73 0.35 0.29 0.35 0.5 0.35 0.43 0.35 0.45 1.8 0.64 0.56 26.84 0.35 0.42 2.09 0.36 0.35 0.96 1.18 0.53 0.35 0.58 1.08 0.52 1.13 0.5 2.01 0.48 0.54 0.28 0.35 0.32 0.36 0.54 0.61 0.5 0.37 0.64 0.75 0.57 5.78 0.59 0.52 2.65 0.79 0.54 3.3 2.32 1.19 0.47 0.35 0.43 0.45 0.54 1.24 0.46 1.15 0.62 1.69 0.55 0.72 0.56 1.8 0.56 1.43 2.12 0.35 0.36 0.35 0.34 1.72 0.56 0.59 6.82 0.35 8.59 0.62 0.5 1.1 0.59 0.77 1.51 3.33 0.54 1.32 0.44 0.35 0.36 0.88 0.47 2.6 0.5 1.13 0.62 0.35 0.45 4.58 25.58 0.45 0.63 2.57 2.44 1.34 0.66 0.84 0.46 0.63 0.53 1.53 0.41 0.35 7.16 2.32 0.38 0.35 0.48 2.42 0.62 0.35 0.59 2.17 0.52 1.95 0.55 2 29.2 0.35 14.6 1.32 0.59 0.5 9.09 0.76 0.56 1.24 0.63 0.72 37.52 1.24 0.49 5.28 0.47 1.53 0.56 0.35 0.55 0.79 0.58 0.59 0.62 0.4 0.51 0.35 2.93 0.94 0.66 3.76 0.58 1.01 0.64 0.4 18.89 2.16 0.51 1.62 2.92 0.42 0.46 1.53 0.65 1.04 0.61 0.35 0.61 1.23 0.49 0.41 0.65 3.01 0.66 1.18 0.56 0.35 0.43 0.78 0.48 1.21 0.57 0.35 0.57 2.79 0.53 1.92 0.48 1.61 0.64 0.39 0.51 1.67 0.56 1.12 0.51 0.47 0.62 0.35 0.42 1.3 0.91 1.58 0.45 2.13 0.55 1.71 0.24 0.35 0.25 1.12 0.5 1.42 0.58 1.43 0.47 1.58 0.64 0.8 0.55 1.67 0.63 0.62 0.58 0.67 0.54 0.35 0.55 2.71 0.57 0.86 1.46 0.43 0.63 1.17 23 0.83 0.57 0.39 50.2 0.98 0.62 1.45 0.53 0.35 0.64 0.98 0.54 2.47 0.51 1.55 0.66 0.7 5.4 0.35 5.36 2.95 16.1 0.55 0.52 0.35 1.45 4.86 0.55 1.04 0.58 0.35 2.54 0.89 7.06 1.38 0.52 0.75 0.47 1.22 0.66 0.91 11.48 1.65 0.59 0.84 0.55 2.9 0.49 0.42 9.04 0.35 20.94 1.39 0.52 1.27 0.64 0.98 0.65 0.83 0.46 1.25 0.49 1.8 0.51 0.35 7.87 1.38 0.39 0.35 8.69 0.48 0.37 0.35 0.31 0.35 0.28 0.35 2.27 1.81 0.49 1.26 0.65 0.36 0.59 0.48 0.47 0.7 0.52 0.79 0.55 1.32 0.49 0.61 0.57 1.44 0.48 0.35 0.36 0.35 1.94 0.35 1.05 0.35 0.26 0.35 0.26 0.82 0.65 0.62 0.61 0.81 17.4 0.35 0.24 0.82 0.21 0.35 0.22 0.35 0.29 0.35 0.24 0.49 0.53 0.5 0.31 0.35 0.42 1.74 0.57 0.63 0.66 0.59 0.48 5.19 0.58 0.62 0.48 1.24 0.57 2.19 0.57 0.35 0.44 1.35 0.58 1.2 0.47 0.35 0.55 0.69 0.55 0.45 0.57 0.88 0.5 0.68 1.35 0.35 0.5 0.75 0.66 1.36 0.62 1.27 0.53 0.85 10.32 0.88 0.61 0.54 8.13 0.9 12.55 0.57 0.51 1.48 0.62 1.05 2.05 0.59 0.45 0.35 0.46 1.27 0.6 1.17 0.63 0.45 0.62 2.32 2.17 0.35 7.77 2.81 0.53 1.65 3.68 1.54 0.46 1.04 0.38 0.35 0.45 0.56 0.47 1.17 0.39 0.35 0.29 0.35 0.39 1.09 0.47 0.35 0.37 0.8 0.45 0.35 0.41 0.35 0.46 0.83 0.65 0.74 0.41 0.35 0.21 0.35 0.4 0.95 0.62 1.14 0.58 1.42 0.53 1.82 49.6 0.84 0.64 1.06 8.52 0.35 0.33 0.37 9.32 0.35 1.39 0.46 0.51 0.61 1.58 0.47 0.62 0.56 0.55 1.06 29.04 1.03 0.58 1.54 0.5 1.59 0.47 1.65 0.59 0.66 0.97 1.39 0.59 0.54 3.16 1.74 16.08 1.79 1.21 0.4 9.58 0.75 10.86 0.35 0.53 1.28 31.42 0.58 0.61 1.33 0.46 1.16 0.66 1.35 0.58 1.23 0.36 0.35 0.37 0.57 0.51 1.31 0.52 0.48 0.45 0.35 0.47 2.78 5.54 2.2 7.6 0.37 0.4 0.35 0.57 0.89 0.61 1.62 3.16 0.85 0.64 0.46 0.65 0.64 12.59 0.35 0.43 0.47 0.63 0.35 0.46 0.35 6.23 2.18 0.38 0.35 0.42 3.63 3.43 0.69 1.06 0.35 0.57 1.97 0.63 2.67 0.37 0.35 4.69 1.86 0.66 1.39 21.09 0.44 0.54 0.77 0.47 1.46 0.62 1.35 0.49 2.97 0.49 1.29 0.34 0.35 0.44 5.16 0.47 1.4 0.49 0.93 0.51 0.37 0.61 0.39 0.6 3.72 0.52 1.13 0.5 1.5 0.61 0.83 3.21 0.75 0.56 0.85 0.57 1.28 0.54 0.78 0.5 0.43 0.62 0.54 3.94 0.35 0.43 1.61 0.39 0.35 0.33 1.45 0.62 0.67 0.35 0.35 3.06 0.35 0.45 0.66 1.21 0.56 0.55 1.7 0.61 0.58 10.23 0.53 2.89 2.82 1.54 1.18 1.22 0.89 1.79 1.53 2.86 1.67 0.64 0.93 0.62 0.36 0.48 0.6 1.47 1.26 0.51 0.35 1.83 0.35 0.22 1.68 0.47 0.35 0.41 0.56 2.73 0.54 0.47 0.99 0.34 0.35 0.31 0.68 10.45 0.59 0.51 0.62 0.47 1.31 0.44 0.35 1.28 1.27 0.6 1.24 0.65 0.73 0.62 1.11 0.59 1.36 0.49 0.54 0.49 0.47 0.52 0.82 0.55 2.78 30.23 1.79 0.36 0.35 0.53 0.68 21.88 1.27 5.33 0.35 0.4 2.62 0.62 1.6 0.54 2.57 0.42 0.35 0.47 1.03 0.59 0.62 0.46 0.78 0.5 0.35 0.47 1.35 1.35 0.35 11.72 0.42 0.62 0.95 1.71 0.35 1.76 0.9 0.47 0.35 0.54 1.25 0.6 0.43 14.29 0.35 0.49 0.59 6.13 1.19 0.56 1.83 0.52 1.37 0.31 0.35 20.86 0.35 1.51 2.67 2.59 3.17 0.56 0.78 0.56 0.96 0.56 0.82 0.49 0.87 0.6 1.84 0.65 0.83 0.54 3.64 5.85 2.96 0.66 1.44 0.48 3.54 10.47 0.52 6.19 1.11 0.5 0.46 0.58 0.35 0.22 0.35 0.39 0.35 0.49 0.92 0.31 0.35 0.39 0.35 0.35 0.55 0.52 1.48 14.12 0.83 11.15 0.35 25.38 2.23 0.59 2.93 1.59 0.65 0.52 0.35 0.49 0.84 0.65 1.93 0.5 1.46 0.5 1.11 0.56 1.14 0.61 0.5 0.47 0.79 0.49 0.35 0.42 0.59 0.39 0.35 0.29 0.84 0.62 1.95 0.54 2.03 0.57 0.7 0.38 0.35 16.83 1.59 0.62 0.51 0.49 0.35 0.33 0.35 0.5 1.13 1.06 0.35 0.35 0.35 3.17 1.27 33.61 1.65 0.61 0.57 0.51 0.35 0.26 0.35 0.56 2.4 0.66 0.75 0.54 2.33 0.62 0.96 0.56 0.48 0.52 0.35 0.36 0.35 19.26 1.15 1.03 0.37 0.6 0.91 2.19 1.8 0.58 0.35 0.33 0.35 0.4 1.91 0.63 1.47 3.03 2.25 0.48 0.35 18.47 3.1 0.57 1.14 0.39 0.35 0.12 0.35 2.74 0.39 0.55 0.42 18.02 0.35 0.09 0.35 0.34 1.96 30.76 1.12 31.12 1.16 0.56 0.8 0.62 0.68 4.15 4.1 15.49 0.43 0.62 0.75 4.1 0.53 2.35 0.35 7.33 0.35 77.09 0.95 0.55 2.31 0.52 1.03 5.15 1.44 6.81 1.9 14.76 0.58 11.34 0.35 0.62 1.57 0.61 1.03 0.47 0.35 1.33 0.35 0.64 0.52 0.49 0.45 0.62 0.43 0.55 2.25 0.48 1.57 0.55 1.6 11.83 2.03 0.47 0.35 0.44 1.04 0.54 2.17 0.38 0.35 0.05 0.35 0.17 0.35 7.85 0.7 0.63 4.78 0.46 0.84 0.48 2.48 1.67 1.49 0.53 0.44 0.42 0.35 1.78 1.88 0.61 2.58 0.57 0.64 0.64 0.35 0.47 0.36 0.65 1.12 0.5 0.35 0.33 0.8 0.53 0.46 0.54 0.57 0.63 1.59 1.84 0.35 42.51 0.35 0.51 1.32 0.53 1.87 0.56 0.49 0.46 1.74 0.56 0.77 0.65 1.56 0.64 0.35 0.56 1.02 0.48 1.59 0.63 0.57 0.61 1.08 0.45 0.35 0.52 0.36 5.25 0.35 3.38 1.48 0.62 0.96 31.82 1.22 0.46 0.48 0.46 0.88 0.65 3.17 0.47 0.59 0.48 4.03 0.47 4.05 0.48 0.35 0.29 0.35 0.52 5.64 0.47 2.43 2.18 2.39 5.1 1.73 0.59 0.84 4.58 1.07 0.51 2.63 13.28 1.47 0.65 0.58 5.3 1.61 0.62 1.43 8.99 1.06 2.49 1.9 9.05 0.43 0.62 1.83 0.56 0.47 0.6 1.12 3.2 1.27 0.43 0.35 0.36 2.62 0.52 0.95 0.5 1.32 0.47 0.77 0.49 0.35 0.5 1 0.6 0.81 0.65 0.53 0.56 0.98 0.49 0.47 0.38 0.35 0.18 0.35 0.5 1.32 0.66 0.71 0.63 0.77 0.47 0.95 0.49 1.64 6.88 1.26 16.65 0.35 22 1.3 23.3 0.54 2.32 1.1 0.51 1.13 0.52 0.85 0.62 1.2 0.4 0.35 0.38 0.35 0.44 0.74 0.48 3.92 0.57 0.45 0.59 3.99 0.66 1.55 0.48 1.56 0.46 0.35 0.45 0.59 3.16 1.12 0.52 1.12 0.27 0.35 0.39 1.13 0.5 3.08 0.59 1.82 0.56 1.75 17.27 1.73 0.6 1.33 8.01 1.55 6.22 2.85 0.5 1.93 0.59 0.9 21.35 0.35 0.54 2.04 0.47 0.35 17.4 0.35 0.59 0.42 0.62 2.03 0.47 0.89 4.26 1.94 0.57 1.41 0.38 0.35 0.4 0.5 9.52 0.35 11.69 0.35 1.32 0.47 26.79 0.35 6.66 1.32 52.38 2.39 0.5 0.35 5.66 2.6 2.66 1.04 0.62 1.89 9.51 0.35 0.41 1.52 5.85 1.32 0.59 0.8 0.52 0.48 1.79 0.67 0.53 1.36 0.51 1.34 0.41 0.35 0.36 0.4 0.64 0.58 0.55 0.65 0.52 0.79 0.56 3.36 0.45 0.35 0.59 1.52 0.47 1.16 0.48 1.35 0.54 0.4 10.24 0.91 0.46 0.86 0.41 0.35 0.27 0.35 0.3 1.92 8.31 0.35 1.41 0.44 0.57 1.46 27.37 0.73 0.47 0.35 0.52 0.92 6.95 2.7 10.78 0.35 0.45 1.38 0.56 3.8 24.16 0.4 1.97 0.68 0.46 1.59 0.54 1.61 0.53 0.93 0.65 0.47 0.64 0.38 0.57 0.95 0.65 3.44 0.58 1.44 0.62 0.86 2.93 3.51 0.54 1.27 0.46 1.06 0.46 0.65 4.26 0.44 1.95 1.32 0.63 0.88 11.7 2.71 0.52 1.21 0.65 0.64 61.92 0.35 0.45 0.91 0.51 1.03 0.64 0.7 0.52 0.92 0.61 1.98 0.5 0.71 0.58 0.87 0.43 0.35 0.47 3 0.48 1.72 0.47 0.35 0.55 2.46 1.73 0.35 0.49 1.22 0.46 0.35 0.25 0.35 43.13 1.01 0.36 0.35 0.46 0.42 0.61 1.29 0.54 0.35 0.53 1.3 0.59 0.4 3.04 0.91 0.54 0.65 9.11 1.14 0.54 0.79 0.57 3.28 0.64 3.5 0.52 1 0.47 3.43 0.55 1.52 0.5 2.2 0.52 2.41 0.51 0.35 0.38 0.35 0.5 0.44 0.66 1.99 0.6 0.66 0.51 0.53 0.51 1.35 0.63 1.44 0.58 2.2 43.73 1.36 3.31 0.49 0.51 0.35 0.53 0.9 0.43 0.35 0.47 0.81 0.66 1.14 0.54 0.57 0.61 0.35 26.02 0.9 8.48 0.62 0.47 0.84 0.61 1.11 0.41 0.35 0.34 1.86 0.55 0.35 0.25 0.35 0.27 0.67 0.49 1.24 0.29 0.35 6.52 0.44 7.5 0.37 2.69 0.42 4.31 0.86 0.48 2.72 0.42 0.35 54.84 0.58 0.63 1.32 0.59 1.21 0.5 0.94 159.61 0.76 8.35 0.35 0.63 0.87 0.49 0.35 0.51 0.98 0.29 0.35 2.96 0.69 0.32 0.35 0.17 0.35 0.51 1.21 1.17 2.14 0.36 0.35 0.29 3.13 0.48 0.35 0.47 0.8 0.42 0.35 37.94 1.6 11.36 3.72 10.89 0.35 10.27 5.9 162.72 0.78 1.9 0.55 54.24 1.91 46.57 0.59 0.47 0.56 0.55 0.4 0.35 0.35 0.27 0.53 0.51 2.03 0.52 0.86 0.56 1.45 0.52 0.93 0.58 2.22 0.6 3.88 0.62 2.08 0.64 1.15 0.51 0.35 0.56 1.83 0.58 0.35 0.5 2.27 0.65 0.41 0.53 1.5 0.54 0.54 0.51 0.72 0.6 0.63 0.52 3.44 0.66 0.36 0.62 3.67 0.57 1.3 0.46 0.35 0.23 0.35 0.31 1.02 0.42 0.35 0.43 2.32 0.53 0.72 0.46 0.35 0.42 1.35 0.47 1.99 0.65 1.42 0.6 0.75 0.59 0.35 0.49 0.4 0.34 0.35 2.3 1.71 0.4 0.35 0.51 0.55 0.66 1.43 0.46 2.34 0.5 1.48 0.49 1.22 0.64 1.67 0.58 0.55 0.51 0.53 0.51 0.66 0.64 1.35 9.95 2.49 0.45 0.35 0.25 0.35 1.92 0.75 0.53 1.81 16.67 0.68 15.77 1.99 0.54 0.42 3.33 2.49 0.45 0.69 4.74 0.73 0.61 0.4 0.57 0.35 0.53 1.9 0.62 2.66 0.59 0.36 0.42 0.35 0.54 3.59 0.56 1.73 0.51 3.02 0.54 2.26 0.5 1.59 0.4 0.35 0.37 3.4 0.63 1.36 0.51 1.4 0.55 0.63 0.6 1.25 0.49 0.7 0.53 0.9 0.52 3.04 0.45 0.35 0.35 0.35 0.56 0.54 4.96 0.4 2.72 1.19 0.45 0.35 0.4 1.1 0.59 0.5 0.65 0.79 0.44 0.35 0.56 0.72 0.53 0.69 0.61 0.97 0.54 1.68 0.51 0.49 0.64 0.79 0.56 0.49 0.48 0.35 3.11 2.14 0.6 1.08 0.56 1.04 0.47 0.58 0.51 0.77 0.46 0.35 0.45 0.66 0.6 0.58 3.83 0.75 0.54 0.39 0.65 0.8 0.62 1.13 0.54 0.35 0.45 0.67 0.52 1.4 0.58 2.97 0.53 1.44 0.53 1.16 0.55 0.88 0.66 0.64 0.63 3.38 0.64 5.9 0.63 4.61 0.51 1.72 0.57 0.91 0.6 2.52 0.47 2.44 1.45 0.35 0.44 2.03 0.52 0.87 1.94 0.82 3.35 1.94 0.5 0.39 0.51 1.48 0.43 0.35 0.45 1.42 0.56 1.56 1.77 0.54 0.42 0.35 0.61 0.64 0.48 0.64 0.59 1.32 0.54 0.35 0.43 0.95 0.54 1.63 0.58 0.65 0.45 0.71 0.51 0.51 0.62 0.83 0.38 0.35 0.39 1.03 0.61 3.03 0.46 0.71 0.4 0.35 1.45 0.4 0.61 0.54 0.65 1.14 0.6 1.67 0.44 0.35 0.33 0.57 0.47 1.43 0.64 0.47 3.11 0.35 0.35 1.5 0.6 0.85 0.54 3.67 17.78 0.67 0.52 0.96 0.53 1.2 0.65 2.42 0.65 0.75 0.61 0.47 0.4 0.35 0.44 5.69 0.61 1.32 0.63 0.97 0.49 1.83 0.61 0.75 0.49 0.49 0.62 0.71 0.52 2.44 0.59 0.55 0.52 1 0.46 0.35 5.48 3.07 0.48 0.35 0.51 0.87 0.47 5.33 0.65 0.94 1.17 1.6 2.8 1.62 0.48 0.77 7.03 0.95 0.56 1.41 0.52 1.15 0.54 0.92 0.36 0.35 0.36 3.13 0.59 3.24 0.91 0.56 0.55 1.06 0.53 2.49 0.58 1.78 0.57 0.59 0.45 0.35 0.54 0.67 0.61 5.87 0.5 1.1 0.46 0.35 0.47 1.78 0.65 0.83 0.42 0.35 0.39 2.22 0.6 1.76 0.63 2.56 0.65 1.78 0.47 2.44 0.52 1.74 0.46 0.51 0.56 1.21 0.52 3.46 0.53 1.49 0.55 0.62 0.39 0.35 0.5 3.04 0.57 0.55 0.56 1.01 2.42 0.35 0.54 0.77 0.65 0.99 0.57 0.84 7.96 1.25 1.65 0.35 0.1 0.35 0.14 0.35 0.52 0.63 0.62 0.88 0.46 2.52 0.58 1.75 0.6 0.56 0.48 1.97 0.62 0.51 0.47 0.59 0.62 0.36 0.57 2.19 2.29 2.22 0.5 0.37 0.56 3.61 0.51 2.16 0.65 1.16 0.47 0.81 0.64 3.4 0.46 0.35 0.32 1.43 0.51 0.91 0.46 1.14 0.54 1.43 0.43 0.35 0.34 1.75 0.53 0.42 0.51 1.53 0.55 1.24 1.41 2.09 0.52 0.35 0.61 1.78 0.28 0.35 0.34 1.23 3.12 0.62 0.5 3.41 0.56 0.56 0.41 0.35 0.31 0.35 0.63 0.69 0.52 3.69 0.55 1.32 2.22 0.69 0.48 0.35 0.46 0.35 0.6 0.94 0.42 0.35 0.37 1.77 0.61 0.54 0.61 1.31 0.54 0.93 0.49 1.48 0.54 1.23 0.56 1.02 0.6 2.07 0.5 0.35 0.38 1.38 0.5 0.63 0.51 0.75 0.49 0.91 0.63 0.59 0.65 1.26 0.52 0.75 0.53 0.35 0.45 2.42 9.92 1.41 0.5 0.38 0.54 0.61 0.63 1.35 0.49 3.7 0.48 0.93 2.85 0.35 0.39 0.35 1.94 0.35 0.39 0.35 2.04 0.81 0.46 0.35 0.58 0.35 0.32 0.35 0.38 0.66 0.48 0.35 0.38 2.26 0.56 0.76 0.35 0.35 0.47 0.35 0.51 0.86 0.62 1.41 0.48 0.65 0.55 1.21 1.74 0.75 0.46 0.35 0.46 0.46 0.57 0.57 0.52 0.35 0.52 1.05 0.54 2.14 0.38 0.35 12.98 0.49 0.63 1.58 0.51 0.35 0.65 2.71 0.57 1.44 0.65 1.99 0.63 0.4 0.57 0.81 0.58 1.14 0.42 0.35 0.38 0.88 0.57 0.53 0.65 1.79 0.49 5 0.61 2.05 0.49 0.87 0.62 0.7 0.63 1.14 0.52 1.49 0.52 0.68 0.5 1.63 2.64 1.68 0.46 0.35 0.41 5.9 0.58 1.78 0.48 1.3 0.36 0.35 1.25 0.35 0.26 2.5 0.52 4.3 0.59 0.67 0.57 0.57 0.52 1.32 0.4 0.35 2.66 1.59 2.12 1.08 0.49 0.35 0.5 4.77 3.4 1.28 3.51 2.07 0.51 1.03 0.63 0.35 0.52 0.42 0.53 0.59 0.56 1.92 0.63 0.59 0.55 0.35 0.56 0.67 0.46 0.45 0.58 3.59 0.5 0.35 0.49 0.71 1.61 0.59 0.35 0.35 0.23 1.12 0.56 0.86 0.66 0.62 0.62 1.43 0.56 1.61 0.53 1.35 0.48 1.27 0.46 0.35 0.45 1.13 0.6 1.46 0.55 0.81 0.64 0.95 0.56 0.35 0.84 0.35 0.48 0.35 1.58 0.35 0.39 0.76 0.66 1.57 0.56 0.47 0.46 2.35 0.55 0.4 0.27 0.35 0.22 0.35 0.52 2.32 0.6 3.44 0.53 0.35 0.47 0.63 2.43 0.42 0.45 0.35 0.49 0.65 0.64 1.69 0.59 2.09 0.61 1.44 0.56 0.35 0.55 1.96 0.5 0.35 0.48 0.86 0.48 0.35 3.34 0.68 0.66 2.56 0.67 1.53 0.63 2.42 0.51 1.65 0.46 1.47 0.64 1.63 5.78 2.01 0.55 0.51 0.57 0.47 0.49 0.53 0.35 0.35 0.42 0.94 0.52 1.17 0.63 0.85 0.58 2.74 0.56 2.57 0.66 0.64 0.26 0.35 0.31 0.99 0.53 1.87 0.49 0.65 0.53 0.75 0.54 0.95 0.64 0.9 3.6 1.41 0.67 0.48 0.5 0.55 0.4 0.35 0.45 0.35 0.5 3.32 0.36 0.35 0.34 1.55 0.6 0.91 0.65 1.42 2.02 2.31 0.58 0.84 0.47 2.36 0.55 0.79 0.91 0.35 0.43 2.53 0.48 0.35 0.54 0.55 0.49 0.84 0.52 0.78 15.96 1.54 0.64 0.72 1.78 1.14 1.88 0.35 0.43 0.53 0.63 1.74 3.73 1.52 0.53 1 0.49 1.95 0.58 1.32 0.57 0.94 0.44 0.35 0.31 0.95 0.55 1.28 31.8 2.38 0.65 3.73 8.52 0.69 0.51 1.24 0.62 0.7 0.53 3.73 0.57 0.97 0.57 1.6 0.51 1.33 0.6 1.3 0.55 3.28 0.53 1.57 0.53 0.49 0.59 1.21 0.91 1.38 0.6 0.5 0.36 0.35 0.42 0.35 1.23 0.35 0.53 3.36 0.55 1.83 0.58 0.94 28.95 1.16 1.07 2.01 0.44 0.35 0.35 0.35 0.53 0.55 0.53 0.47 0.47 0.35 0.55 0.43 0.35 0.35 0.47 1.35 0.58 0.35 0.45 0.62 0.33 0.35 0.47 3.88 0.45 0.35 0.54 0.48 0.54 1.01 1.8 2.61 0.58 0.35 0.4 0.35 2 0.81 0.48 0.69 0.65 0.56 0.57 1.53 0.41 0.35 0.4 1.56 0.51 0.36 0.33 0.35 0.31 0.75 0.66 0.57 0.54 0.55 0.62 1.89 0.55 0.35 0.46 4.02 0.48 1.22 0.61 0.37 0.58 0.84 4.41 1.08 0.63 1 0.66 1.98 0.61 0.55 0.56 2.04 0.56 0.35 0.45 0.8 0.6 0.71 0.42 0.35 0.34 0.95 2.04 0.35 0.36 0.35 0.39 0.35 0.35 1.94 0.52 0.65 0.64 0.6 0.67 2.92 0.56 3.39 0.52 0.42 0.48 0.35 0.45 1.1 0.41 0.35 0.45 2.55 0.56 2.07 0.53 2.15 1.16 1.04 1.13 2.6 0.59 0.63 0.48 1.24 0.45 2.85 0.56 1.51 0.5 0.95 0.58 0.73 25.25 2.43 0.65 1.71 0.4 0.35 0.33 0.87 0.38 0.35 0.49 0.38 0.6 0.4 0.57 1.22 0.6 2.73 0.47 0.72 0.56 0.83 0.49 0.35 0.44 1.08 0.53 1.49 0.6 0.86 0.66 2.92 1.8 0.35 0.52 0.75 0.58 1.37 0.45 1.1 0.51 2.62 0.58 0.71 0.62 2.27 0.49 2.63 0.48 1.35 0.52 0.69 0.64 0.98 0.6 1.27 0.46 0.35 0.57 1.67 0.52 0.9 0.6 0.67 0.61 1.15 0.47 1.09 2.1 3.23 0.52 0.35 0.49 0.35 0.31 0.35 0.39 1.42 0.6 1.05 0.54 0.82 0.64 0.55 0.37 0.35 0.35 2.33 0.46 0.73 0.5 0.65 7.25 0.94 0.58 2 0.53 1.82 0.51 0.58 0.66 0.39 0.63 1.56 0.6 0.77 0.47 0.35 0.17 0.35 0.39 0.39 0.65 0.67 0.48 2.76 0.52 0.7 0.58 0.79 0.51 0.76 0.46 0.35 0.4 0.98 3.88 0.36 0.62 0.5 3.51 0.35 0.56 0.42 0.37 0.35 0.4 0.45 0.64 1.92 0.64 1.3 0.48 0.43 0.54 1.47 0.64 2 0.83 0.95 0.58 1.97 0.52 2.34 0.51 2.66 0.61 1.01 0.56 0.35 0.51 0.35 0.62 2.05 0.48 0.35 0.56 0.56 0.63 1.26 1.58 0.48 0.51 0.62 0.61 0.95 0.65 2.17 0.62 1.05 0.54 0.59 0.44 0.35 0.46 0.61 0.6 0.35 1.06 0.86 0.6 2.99 3.74 0.35 0.33 0.8 0.55 0.35 0.51 0.72 0.53 0.96 0.59 0.78 0.66 0.87 0.43 0.35 0.42 0.35 0.47 2.62 0.45 0.35 0.53 2.39 0.51 0.86 0.43 0.35 62.4"/>
<path d="M1500,654.1A845.9,845.9 0 1 1 1500,2345.9A845.9,845.9 0 1 1 1500,654.1" stroke="#8e8e8e" stroke-width="23.8" stroke-dasharray="0 0.41 3.15 0.53 5.96 4.21 13.68 1.22 27.5 1.44 11.04 0.89 34.91 1.3 13.82 0.8 11.59 3.12 0.38 1.7 1.73 10.57 1.34 1.52 5.03 2.35 5.77 1.84 0.99 1.4 2.5 7.24 10.36 2.25 13.91 8.28 5.62 0.47 0.67 1.42 15.33 25.54 1.16 5.9 1.69 20.6 6.17 0.7 7.79 23.18 5.78 2.36 4.58 1.63 9.75 4.32 1.7 7.3 3.21 1.15 1.83 14.99 3.47 2.48 21.81 0.84 13.63 3.02 8.29 4.48 33.81 1.65 0.38 25.22 5.32 1.02 11.29 71.13 9.77 1.06 10.83 2.39 6.68 1.18 11.46 1.9 10.08 2.17 14.69 12.35 4.87 0.5 4.81 3.47 15.09 2.02 0.79 11.11 6.3 6.33 10 8.4 8.29 0.74 19.83 11.53 4.1 5.47 7.84 27.54 16.39 31.46 0.57 7.33 9.45 2.6 7.31 1.52 0.99 2.54 7.96 15.43 1.53 0.92 6.88 5.49 3.09 24.1 3.45 3.01 4.01 2.16 7.71 1.8 15.09 1.36 6.65 0.9 1.58 3.1 2.1 0.56 5.15 1.46 8.5 8.51 27.56 12.44 2.42 2.41 2.47 0.6 11.99 3.97 8.59 1.42 4.34 2.06 0.5 2.07 0.91 2.76 5.51 0.8 9.06 2.12 1.47 2.73 1.26 1.23 0.9 0.83 1.7 1.47 0.71 16.68 4.92 3.37 6.04 11.59 2.35 1.81 3.43 0.88 3.39 3.14 1.15 1.25 3.12 19.26 3.88 4.62 2.08 1.35 11.77 1.95 2.52 44.74 0.58 16.78 1.31 1.99 2.43 2.54 0.98 38.07 7.66 23.78 13.08 2.08 7.39 0.64 3.63 4.62 4.96 2.65 13.05 1.93 1.42 0.64 2.55 17.83 10.85 10.75 1.38 1.23 0.51 1.95 1.25 1.47 5.52 1.8 5.49 6.39 3.53 0.42 9.15 0.53 6.31 23.91 5.03 9.41 1.16 2.62 2.05 2.63 1.11 1.05 5.5 11.08 12.31 1.42 10.37 0.97 14.65 1.37 7.95 6.28 0.85 24.08 12.23 1.25 2.14 8.21 2.67 1.75 30.84 17.18 18.05 1.85 0.35 2.53 1.37 14.08 17.53 6.24 2.3 2.05 13.53 1.88 1.72 3.31 2.93 2.16 24.1 1.83 8.83 0.72 9.41 2.88 7.69 4.46 3.4 4.68 14.39 2.44 3.22 3.64 6.8 0.86 6.57 1.78 11.15 1.08 38.18 2.45 11.17 10.64 1.61 1.97 5.99 2.46 2.82 1.8 9.06 4.02 0.75 2.31 4.63 16.95 2 1.86 3.46 1.55 1.95 9.12 7.11 10.77 0.8 3.69 1.31 16.29 1.15 1.03 4.53 1.09 31.41 1.8 1.87 21 1.21 1.34 1.61 7.16 11.9 1.92 16.49 32.39 4.31 3.63 3.9 4.78 8.72 2.76 0.76 3.27 4.47 4.21 1 1.35 5.79 1.66 1.73 2.52 8.19 35.04 5.87 1.97 10.35 1.16 4.14 0.78 20.79 1.97 22.02 27.49 2.39 13.51 4.95 2.32 0.47 1.39 7.04 4.15 1.35 2.36 3.41 2.15 5.43 7.2 20.25 4.34 16.21 5.81 3.63 6.09 8.63 0.67 2.71 1.3 7.06 2.63 6.52 1.92 11.85 2.28 2.94 0.73 5.9 2.05 4.56 1.94 25.59 1.53 0.6 1.63 14.38 3.76 3.9 4.19 1.88 4.13 8.74 2.86 5.05 26.25 9.37 6.35 2.05 2.21 3.22 0.73 0.8 3.09 25.9 3.72 5.96 3.28 10 6.9 22.84 1.07 1.27 28.31 3.6 0.95 1.24 3.47 10.71 8.53 19.98 2.36 35.03 26.49 5.38 2.29 24.18 1.78 7.83 13.61 8.23 37.38 4.59 0.52 5.33 2.22 11.47 1.75 9.19 2.29 4.54 13.56 2.63 2.45 7 2.47 5.69 1.13 3.34 1.51 7.55 11.62 3.03 4.07 6.53 1.08 0.66 0.41 0.79 1.06 3.54 5.15 52.92 6.26 25.21 1.86 122.01 1.94 3.62 1.36 7.52 21.63 7.33 2.48 26.59 2.22 10.37 4.32 10.01 0.67 9.53 6.41 3.71 0.73 3.57 2.73 2.84 1.56 5.72 1.39 135.4 3.84 8.33 0.71 11.95 1.59 20.65 2.46 6.27 2.65 44.68 65.12 1.64 20.95 7.93 9.31 15.65 1.18 14.68 10.4 3.99 44.49 4.33 0.88 2.08 31.12 3.13 43.75 0.83 7.41 2.45 10.12 1.09 22.55 0.8 21.34 8.52 0.55 7.65 31.87 4.78 13.01 0.53 2.15 0.9 4.52 6.25 77.4 7.15 21.81 1.43 57.9 1.57 33.54 1.94 2.98 4.09 17.9 1.6 27.79 12 54.45 1.1 16.99 1.42 7.74 2.64 1.94 2.68 44.12 1 54.81 5 29.55 1.12 15.4 1.3 16.81 14.84 11.77 2.92 13.04 3.35 2.54 19.39 2.3 2.86 7.1 7.63 38.09 4.93 1.23 2.42 1.83 3.57 1.63 11.99 28.34 1.49 24.84 3.65 14.81 1.46 28.38 0.53 13.81 8.75 2.76 3.71 0.75 8.09 77.25 6.52 24.29 2.43 2.77 2.7 13.21 0.35 19.53 0.76 17.3 3.23 18.52 10.76 50.96"/>
<path d="M1500,654.1A845.9,845.9 0 1 1 1500,2345.9A845.9,845.9 0 1 1 1500,654.1" stroke="#aaaaaa" stroke-width="23.8" stroke-dasharray="0 0.45 0.35 0.23 0.35 0.29 0.35 0.38 0.95 0.97 0.5 0.4 0.35 0.25 0.35 0.36 0.7 0.6 0.99 0.6 0.42 4.65 0.68 0.6 0.41 0.46 0.39 0.61 0.35 0.47 1.44 0.63 0.62 0.65 0.35 0.55 0.63 0.65 0.83 0.46 1.57 0.48 0.41 1.66 0.38 0.48 0.75 0.52 1.38 0.53 0.35 0.44 3.72 0.53 1.77 0.52 3.85 0.56 0.46 0.65 2.1 0.38 0.35 0.5 2.23 0.59 3.45 0.35 0.35 1.74 0.38 0.64 0.42 0.46 1.24 0.54 1.42 0.51 0.93 0.48 0.48 0.64 2.44 1.33 0.83 0.48 0.41 0.56 0.61 0.56 0.65 0.6 0.35 0.49 0.35 0.41 2.29 0.49 1.03 0.65 2.2 0.59 0.35 0.37 0.35 0.38 0.35 0.45 1.36 0.54 1.45 0.64 1.09 0.6 2 0.63 1.97 0.57 0.48 0.5 0.35 0.6 0.78 0.46 0.86 0.65 1.73 0.63 0.8 1.74 1.74 0.53 1.26 0.47 3.43 0.5 0.72 0.51 0.46 0.53 0.78 0.36 0.35 0.28 0.35 0.53 0.59 1.24 0.98 0.64 3.94 0.56 2.29 0.54 0.35 0.57 1.29 3.35 0.35 1.93 0.7 0.41 0.35 10.84 0.9 1.96 0.52 0.52 1.37 0.6 0.42 0.66 0.51 2.79 5.33 2.28 0.55 1.74 0.35 0.47 0.37 0.63 0.35 7.67 0.7 0.52 0.35 0.58 1.88 0.55 1.07 0.51 1.09 0.56 0.61 0.29 0.35 0.47 0.41 2.52 0.35 0.37 0.47 0.49 1.56 0.65 1.43 0.61 2.62 0.44 0.35 0.4 0.35 0.42 1.92 0.65 0.56 8.72 1.25 0.45 3.48 0.86 0.35 1.8 0.61 0.49 4.42 0.58 0.47 0.47 1.28 0.46 0.49 0.56 0.69 0.58 1.03 0.49 0.35 0.48 0.93 0.41 0.35 25.73 0.72 6.32 0.35 0.59 0.35 21.02 5.73 1.14 1.08 0.51 0.94 0.54 1.14 0.51 1.11 0.46 1.06 23.62 0.45 0.46 2.38 0.6 0.9 0.38 0.35 2.61 1.74 0.64 1.76 2.07 4.63 0.6 0.51 0.47 0.57 0.46 1.48 0.35 0.35 4.65 1.26 7.74 0.72 0.56 1.49 1.59 1.39 15.43 0.43 0.6 0.36 0.49 0.35 0.54 0.35 2.84 0.68 0.48 0.64 0.62 0.78 0.48 0.39 0.54 1.45 0.6 2.67 0.59 0.69 0.47 2.91 0.51 0.64 0.43 0.35 0.38 0.84 0.48 0.35 0.44 2.37 0.38 0.35 1.12 0.49 0.51 0.82 0.53 2.47 0.57 2.1 0.62 0.72 0.31 0.35 0.36 0.67 0.6 0.39 0.54 1.13 3.46 0.57 0.62 2.96 0.42 0.35 0.43 2.51 4.65 0.35 0.31 0.8 0.46 1.04 0.53 0.92 0.54 1.24 0.62 0.78 0.65 1.47 0.52 1.87 0.6 0.84 0.45 3.24 0.62 1.2 0.6 1.1 0.52 0.35 0.59 1.13 0.62 0.41 0.33 0.35 0.29 2.71 0.46 5.12 1.89 0.35 25.46 0.36 0.62 0.91 0.62 1.89 0.35 0.35 1.24 1.27 0.51 1.68 0.54 0.35 0.56 0.71 0.49 1.24 0.54 2.31 0.44 0.35 71.43 0.88 0.63 0.76 0.33 0.35 0.33 1.21 0.62 0.35 0.5 1.43 0.52 1.42 1.5 1.07 0.47 0.78 0.65 1.04 0.51 3.41 0.56 1.89 2.83 0.47 0.57 1.14 0.5 0.67 0.55 0.42 0.42 0.35 0.39 0.76 1.62 1.97 0.53 1.16 0.61 0.35 0.55 0.86 0.61 2.89 0.48 1.01 2.34 1.01 0.55 0.42 0.53 0.78 0.52 1.02 0.51 0.35 0.33 0.73 0.56 0.82 0.53 0.97 2.53 0.35 0.49 0.75 0.66 1 0.52 1.98 0.64 1.98 0.51 0.78 0.58 0.97 0.39 0.35 0.37 0.77 0.59 0.66 12.79 0.36 0.55 0.44 0.47 0.35 0.54 0.65 0.62 0.44 0.85 0.35 0.49 0.35 0.61 2.66 3.79 0.35 0.39 0.42 0.48 0.35 0.33 0.35 0.33 0.35 0.4 0.4 0.61 1.43 0.46 1.14 0.59 0.37 0.48 2.37 0.46 0.35 0.46 1.01 0.56 0.35 2.46 0.35 11.54 0.35 0.59 0.41 0.55 0.54 0.33 0.35 0.46 1.42 0.56 0.35 6.72 0.83 0.59 0.43 0.46 1.56 0.58 1.32 0.62 0.46 0.43 0.35 0.43 0.76 0.45 0.35 8.7 0.35 0.58 1.5 0.57 0.71 0.52 1.26 0.59 0.96 0.55 0.35 1.08 0.35 0.38 0.35 0.44 1.02 0.48 1.13 0.53 3.15 0.42 0.35 0.4 0.36 0.54 2.79 0.41 0.35 0.37 1.34 0.61 1.1 0.47 1.29 0.54 0.35 11.92 0.49 0.53 1.11 0.56 0.97 5.91 0.42 0.47 0.74 0.5 2 0.57 0.46 0.57 0.89 0.49 0.35 27.79 0.35 0.46 1 0.51 0.42 0.59 0.88 0.63 4.8 0.52 1.53 0.58 2 0.64 1.15 31.79 0.35 7.66 0.87 0.6 0.52 0.47 1.49 0.62 0.62 0.53 0.41 0.62 0.48 0.49 1.28 3.04 0.64 0.62 1.4 0.59 3.61 1.96 0.55 2.94 0.35 0.41 0.45 0.51 0.93 0.46 1.55 0.46 0.51 0.57 1.35 15.87 1.09 1.36 1.84 0.48 2.3 0.46 0.35 0.48 0.53 5.93 2.65 24.54 0.6 0.5 1.07 0.48 0.35 3.45 0.73 0.64 1.01 0.63 0.57 2.6 5.04 0.58 1.66 2.24 1.37 0.5 0.71 0.64 1.3 0.62 0.65 0.63 1.77 0.45 1.67 0.54 0.35 0.52 0.35 0.49 1.3 0.46 0.35 1.79 2.96 0.53 2.71 1.24 0.35 0.39 0.51 3.54 0.36 0.53 0.77 1 1.42 0.61 2.68 1.88 0.35 0.64 2.77 0.65 1.16 0.57 1.49 0.33 0.35 8.71 2.59 0.58 2.2 0.65 0.48 0.59 0.35 0.5 2.48 0.65 0.49 0.53 2.31 0.54 0.35 0.49 3.18 0.28 0.35 0.37 2.05 0.64 4.48 12.88 1.98 2.85 2.03 0.95 0.35 0.51 0.55 0.51 1.57 0.49 0.35 0.6 1.11 0.46 1.82 0.53 0.55 0.53 1.72 4.41 0.51 0.52 0.35 0.36 1.67 0.56 0.35 0.56 1.02 0.47 0.35 0.32 1.11 1.86 1.56 0.48 0.92 0.62 0.35 2.33 0.35 2.37 0.47 3.2 1.26 0.57 0.72 0.5 0.87 0.6 0.56 1.01 0.35 0.33 0.51 0.64 3.7 0.54 0.35 0.59 1.18 0.42 0.35 2.45 0.45 0.35 0.35 3.06 0.82 1.67 0.46 1.27 1.26 1.87 0.35 17.09 1.55 0.57 0.39 0.66 1.31 3.81 0.37 0.48 1.42 0.61 0.37 0.53 0.53 0.59 0.69 11.88 0.35 0.33 0.75 0.43 0.35 2.1 0.77 0.48 1.74 1.32 2.95 3.58 0.71 1.67 0.35 0.51 0.97 0.55 0.35 19.67 0.89 0.51 0.47 0.47 1.11 5.06 1.64 1.79 1.23 0.5 0.59 0.57 0.94 0.54 0.75 0.49 2.75 0.36 0.35 0.27 1.99 2.39 1.23 0.45 0.39 45.07 0.35 17.11 0.87 2.43 1.99 2.98 0.54 38.51 0.46 0.49 0.78 0.65 1.21 0.37 0.35 0.19 2.73 24.22 0.92 0.47 2.28 0.54 1.24 0.63 1.31 0.64 0.66 0.43 0.35 0.42 0.88 0.48 0.42 0.53 0.43 2.52 0.48 0.62 0.54 0.64 0.42 0.47 0.35 0.49 2.95 1.08 0.68 0.63 1.88 5.06 0.37 0.36 0.35 0.3 2.02 0.63 0.48 3.09 0.87 0.53 1.79 0.62 1.38 0.54 1.01 0.51 4.59 0.54 0.35 2.26 0.98 1.03 0.35 0.58 1.22 18.27 2.38 0.51 2.15 0.63 2.83 0.5 1.42 11.12 0.35 0.44 0.35 1.4 0.35 2.25 0.81 1.91 1.28 0.53 1.03 0.57 1.67 2.05 0.35 0.31 0.35 0.26 0.35 0.41 3.22 6.83 1.48 0.59 1.02 0.86 0.63 0.6 0.52 0.5 1.27 0.34 0.35 0.36 0.75 0.65 0.74 0.48 1.53 0.97 1.28 0.46 1.29 0.53 0.7 0.6 1 24.35 0.69 0.53 1.21 0.62 1.56 9.85 0.72 3.06 0.65 0.63 0.35 3.05 0.67 1.49 0.63 0.61 1.55 0.46 0.99 0.55 0.35 11.44 0.76 0.5 0.54 0.57 0.6 0.36 0.35 0.34 0.52 0.59 0.67 0.62 1.66 0.46 1.3 0.49 1.54 1.86 0.96 0.59 1.66 0.5 2.22 0.53 1.01 0.19 0.35 0.36 0.41 0.56 0.59 1.41 0.46 0.64 1.22 0.64 2.37 0.6 1.65 0.65 4.97 0.6 0.41 1.81 0.78 0.61 0.57 0.6 0.55 0.64 0.82 0.6 1.29 0.58 0.46 6.72 0.41 24.52 2.45 0.48 2.28 0.59 1 0.52 0.56 0.51 0.35 0.47 0.59 0.43 0.35 0.53 0.68 1.69 1.7 8.57 0.35 0.54 0.43 0.46 0.52 2.15 0.35 0.47 0.77 0.56 1.3 0.4 0.35 0.26 2.26 0.46 0.35 0.49 1.11 0.48 1.55 0.49 0.56 0.6 1.14 0.56 0.54 0.61 1.63 0.47 0.35 0.54 0.37 0.48 0.35 0.27 0.35 0.16 0.35 0.31 1 0.51 3.36 0.45 0.35 0.42 1.57 0.58 0.91 17.62 2.37 0.38 0.35 0.49 0.76 0.6 0.92 0.63 3.45 0.64 1.65 0.53 2.01 0.57 2.25 2.07 0.35 2.71 0.35 0.38 0.35 14.41 3.83 0.51 0.84 0.64 1.82 0.61 0.53 0.61 1.35 0.53 1.18 0.47 4.17 6.68 0.64 0.38 0.35 0.25 0.35 2.38 3.62 0.54 1.62 0.5 0.71 0.61 0.35 0.56 0.6 0.56 0.62 0.49 1.05 0.51 0.76 2.22 0.35 0.4 0.63 3.75 0.38 0.42 0.35 0.46 0.88 2.6 0.99 0.35 0.35 0.47 0.49 0.44 0.35 0.36 0.35 0.18 0.35 0.32 0.35 0.46 2.13 0.53 0.35 0.53 0.46 0.53 0.9 0.44 0.35 0.45 0.35 0.32 0.35 0.39 1.57 0.64 0.43 0.41 0.35 0.45 2.94 0.64 0.93 0.48 0.94 2.13 0.35 0.52 1.09 0.48 0.82 0.47 1.42 0.61 1.94 0.56 0.35 1.07 3.31 0.47 1.26 0.48 0.35 0.56 0.84 0.47 1.23 3.32 1.76 0.64 1.62 0.46 1.22 0.64 0.9 4.9 1.9 0.56 0.5 5.12 1.2 0.54 0.35 0.56 0.35 0.58 1.99 0.57 1.46 0.56 0.88 0.54 0.9 0.54 0.56 0.53 1.85 2.88 1.4 0.66 0.72 4.08 1.15 0.52 0.44 0.49 1.99 0.48 1.29 1.3 0.93 0.4 0.35 0.4 0.35 0.61 0.73 0.64 1.73 2.22 0.59 0.64 1.34 0.46 0.35 0.42 0.69 0.5 0.87 0.4 0.35 0.49 1.01 0.49 0.99 0.54 0.58 1.32 0.35 0.41 0.35 0.62 1.14 0.47 0.57 0.49 0.35 0.4 0.35 0.55 0.74 0.3 0.35 0.33 3.45 0.59 0.65 0.47 0.35 0.48 0.89 0.47 1.01 0.48 0.45 0.47 4.97 0.52 2.48 0.52 1.85 0.52 0.84 0.43 0.35 0.47 1.46 0.49 0.86 0.54 1.55 0.38 0.35 0.24 0.35 0.5 0.74 2.78 0.35 0.51 3.79 0.57 2.15 0.64 0.69 0.52 1.63 11.03 0.35 0.48 0.4 2.41 1.96 0.4 0.35 0.35 1.86 0.39 0.35 2.78 1.62 0.49 0.35 2.17 1.83 0.53 1.61 0.46 1.81 0.57 1.81 4.44 0.35 2.73 1.77 0.63 0.89 0.6 0.35 17.35 1.56 2.19 0.35 0.39 2.39 1.99 1.51 9.56 0.52 0.54 2.29 0.46 1.53 0.51 0.82 11.21 0.36 4.13 0.87 16.73 0.71 1.47 1.04 0.42 0.35 0.6 1.68 1.53 1.09 0.47 0.39 0.59 1.01 0.49 0.35 0.46 3.43 0.5 0.81 0.49 0.35 0.45 0.57 0.63 1.78 0.5 0.35 0.25 0.35 0.27 0.35 0.54 0.61 0.44 0.35 0.37 0.45 0.53 1.94 0.52 0.74 0.48 0.53 0.65 5.73 0.58 0.58 2.24 0.41 0.64 0.38 21.26 0.35 0.35 0.35 1.51 0.35 0.3 0.68 7.6 2.55 0.46 0.43 0.48 2.65 0.45 1.59 0.48 1 0.51 0.87 2.36 1.5 0.43 0.35 0.26 0.35 0.4 0.67 0.51 0.83 0.29 0.35 0.17 0.35 0.42 0.46 0.49 2.63 0.47 1.26 0.57 0.7 0.55 0.76 0.49 0.8 32.83 0.71 0.51 0.35 0.38 1.92 4.07 2.37 0.6 0.49 5.22 2.14 0.63 0.61 0.63 0.75 0.47 1.4 0.51 1.15 3.18 0.35 3.69 1.78 0.61 1 0.46 0.35 4.47 0.56 1.79 2.22 0.54 1.89 0.45 0.35 2 0.64 0.43 0.35 2.74 0.35 0.51 0.66 0.58 0.35 0.58 1.66 0.49 1.46 0.62 0.57 35.48 1.22 0.62 0.96 0.5 0.35 0.47 0.69 0.43 0.35 2.26 0.8 0.31 0.35 0.38 0.59 0.56 1.49 0.62 1.47 0.56 0.69 0.49 0.35 0.48 0.77 1.55 0.35 0.5 0.35 0.41 2.13 1.22 3.12 0.49 0.64 0.63 3.1 0.58 0.71 0.46 0.35 0.38 0.35 0.11 0.35 0.48 2.65 0.49 0.41 0.52 1.44 0.63 1.01 0.54 0.9 2.26 0.35 0.43 0.38 0.53 1.25 0.46 0.98 0.56 0.95 0.64 5.33 0.24 0.35 0.32 3.24 0.59 0.77 0.51 3.51 0.29 0.35 27.66 0.45 0.22 0.35 0.4 0.54 13.89 0.35 0.51 0.81 0.56 1.06 0.52 0.76 2.6 0.35 1.67 1.49 0.62 0.47 0.64 1.26 0.46 0.56 0.48 0.64 4.59 0.91 2.8 1.22 0.42 0.35 0.61 0.37 2.59 0.81 0.51 3.66 7.64 0.62 0.5 0.47 0.56 1.51 0.65 1.11 0.57 3.57 0.57 1.05 0.47 2.01 0.55 5.59 4.78 2.3 0.45 1.3 0.56 1.21 0.55 4.19 0.48 1.64 0.54 0.47 0.54 0.55 0.62 0.36 6.25 1.88 0.65 0.65 6.53 2.83 0.49 0.7 0.58 0.85 0.47 2.26 1.11 0.99 0.46 0.82 1.74 0.76 0.31 0.35 0.48 0.56 0.58 0.35 0.27 0.35 0.22 0.35 0.33 1.71 3.07 1.77 0.44 0.35 0.46 3.05 2.36 0.57 0.47 1.83 0.47 0.71 0.51 2.91 0.62 0.67 0.51 0.35 0.36 1.42 2.72 0.67 0.56 0.53 0.49 0.35 1.07 1.24 0.63 1.54 0.62 1.43 2.49 0.48 0.63 0.41 0.49 0.79 0.46 0.88 2.36 0.35 0.54 1.07 0.61 0.69 0.41 0.35 0.5 0.67 0.5 0.96 0.62 0.35 0.6 0.35 0.52 5.39 0.46 0.53 0.53 0.53 0.58 1.49 0.64 1.18 0.46 1.46 0.6 1.04 0.62 0.58 1.87 0.35 1.98 0.58 0.65 3.68 0.65 0.83 0.57 0.35 0.51 1.59 0.62 0.72 0.6 1.48 0.53 0.57 3.93 0.35 0.13 0.35 0.32 1.29 0.53 0.75 4.63 0.36 0.53 0.55 4.57 2.91 0.47 0.35 0.37 0.51 0.53 1.39 0.63 1.14 3.26 0.35 0.6 0.42 0.53 1.2 0.46 1.1 26.69 3.46 0.56 0.89 0.55 2.33 0.61 0.55 6.79 0.62 0.53 0.46 2.58 0.35 0.57 1.93 1.17 0.36 3.53 1.65 0.62 2.07 0.62 0.35 0.49 0.35 0.64 4.11 0.61 1.01 0.53 1.49 0.66 0.93 0.46 1.05 0.59 1.75 0.56 0.35 0.44 0.71 0.28 0.35 0.3 0.95 0.55 0.99 4.16 0.87 0.59 0.54 0.45 0.35 0.55 0.35 0.51 1.31 3.72 1.51 0.65 2.9 0.64 1.49 0.44 0.35 0.41 0.35 0.52 0.35 7.3 0.42 0.6 1.65 0.46 0.92 0.51 1.28 0.54 0.42 0.5 1.59 0.52 0.35 0.52 0.93 0.58 0.56 0.63 1.43 0.56 0.35 0.32 0.35 0.4 0.35 0.6 0.67 0.51 0.75 0.5 0.42 0.43 0.35 0.19 0.35 0.39 0.5 1.35 0.35 0.32 0.35 28.73 1.99 0.46 0.71 1.33 0.35 0.3 0.35 3.76 3.12 0.46 1.23 0.59 1.12 0.36 0.35 0.12 0.35 0.01 0.35 0.2 0.35 0.59 1.08 8.97 2.51 0.51 0.35 0.38 0.35 0.37 0.58 0.48 0.35 0.43 0.37 0.53 0.52 0.54 0.35 0.51 0.35 0.53 0.35 0.5 0.35 0.58 1.26 0.53 0.84 0.47 1.09 0.56 1.83 0.54 0.62 2.8 1.55 0.54 0.86 0.64 1.34 0.51 2.1 0.52 1.2 0.5 0.36 0.37 0.35 0.35 1.85 0.5 1.03 0.61 2.12 0.66 0.36 0.48 1.04 0.51 1.76 0.65 0.84 0.44 0.35 0.24 0.35 0.38 1.52 0.5 1.24 0.53 0.68 0.36 0.35 0.34 3.74 26.93 0.85 0.44 0.35 0.41 0.41 0.6 0.6 0.5 0.35 0.29 0.35 2.53 1.72 0.62 0.35 0.62 0.7 0.63 0.91 0.48 0.66 0.62 0.51 0.51 0.91 0.63 0.84 0.46 1.15 0.63 2.18 0.53 0.35 0.4 0.35 0.4 1.6 0.65 0.91 0.6 1.19 0.37 0.35 0.36 0.53 2.22 0.53 0.56 0.57 0.35 0.35 0.35 0.63 0.48 0.35 0.35 0.35 0.48 2.05 13.84 0.35 0.13 0.35 0.39 0.92 0.56 1.34 0.48 1.46 0.51 1.5 37.82 0.58 0.61 2.96 0.96 0.53 0.47 0.49 0.5 0.35 0.5 2.04 2.66 1.07 0.52 1.35 0.6 0.59 0.61 0.64 0.64 3 0.58 1.43 2.19 3.26 0.59 0.57 0.55 2.19 0.37 0.35 0.31 0.56 2.73 0.62 0.44 0.35 0.46 2.23 14 0.48 0.28 0.35 0.27 0.81 2.89 1.28 0.52 0.48 0.63 1.25 0.31 0.35 0.28 1.46 2.91 2.14 0.32 0.35 0.33 1.34 0.51 0.35 1.47 0.35 0.53 0.41 0.43 0.35 0.48 0.37 1.95 2.54 0.53 1.22 0.61 0.95 0.56 0.71 12.06 0.66 0.6 0.52 0.48 0.35 4.25 0.35 0.23 0.81 0.55 1.32 0.61 1.76 0.48 0.35 1.32 0.35 0.79 0.35 1.43 0.35 0.4 2.42 5.49 0.35 0.46 1.3 0.55 0.96 0.58 1.32 0.6 0.55 0.48 0.39 0.58 1.25 0.61 4.79 0.48 0.35 0.59 1.96 0.54 0.62 0.5 1.86 0.64 1.64 0.6 0.38 0.53 3.01 0.52 3.9 0.57 2.33 0.22 0.35 0.13 0.35 0.46 1.11 0.52 5.6 0.47 0.6 0.53 0.35 0.23 0.35 0.39 2.64 0.47 2.04 6.68 0.35 0.49 0.35 0.59 0.47 0.26 0.35 0.33 0.35 0.27 0.35 0.2 0.35 0.33 2.5 0.63 1.06 0.42 0.35 0.49 1.42 0.49 0.41 0.46 1.75 0.6 0.55 0.6 0.82 0.47 0.35 0.4 2.12 0.64 0.74 0.58 0.96 0.48 0.47 2.3 0.66 0.64 0.39 0.65 0.35 0.49 0.49 0.53 0.53 0.61 0.95 0.63 1.13 0.47 0.42 0.63 0.45 0.52 0.76 0.5 0.36 0.56 1.13 0.48 0.57 0.49 1.86 0.59 0.85 0.51 0.35 0.55 0.38 0.59 1.45 0.54 0.61 0.58 0.88 0.61 0.54 0.63 0.65 0.47 0.35 0.41 0.35 0.36 3.61 0.63 1.56 0.48 0.87 0.57 0.45 0.49 0.35 0.32 0.53 0.48 5.73 0.65 0.64 0.62 0.51 0.64 0.4 0.64 0.45 0.38 0.35 0.39 1.03 0.64 0.43 0.52 0.36 0.52 0.97 0.6 3.32 0.5 1.22 0.47 2.17 0.54 0.35 0.46 1.33 0.5 0.48 0.66 0.47 0.62 0.57 0.65 1.52 0.64 0.57 0.54 2.24 0.54 0.35 0.44 0.35 0.38 1.09 0.25 0.35 0.35 0.39 0.61 0.35 0.47 0.92 0.48 0.98 0.51 1.26 0.52 1.3 0.5 0.35 0.46 5.05 0.64 1.84 0.5 0.46 0.52 0.35 0.32 0.53 0.55 0.75 0.46 0.41 0.47 1.32 0.61 0.35 0.45 0.73 0.29 0.35 0.35 1.49 0.5 1.63 0.59 0.35 0.5 0.67 0.57 0.69 0.63 0.55 0.51 0.35 0.52 0.58 0.53 3.37 0.54 0.36 2.38 0.87 0.54 0.37 0.65 0.75 1.62 0.35 0.22 0.35 0.47 2.97 0.62 0.57 0.64 1.07 22.01 0.35 0.48 0.35 0.39 1.83 0.55 1.31 0.65 1.06 2.92 1.29 0.56 0.46 0.51 0.93 0.49 0.68 0.52 0.35 0.63 0.59 0.52 0.69 0.6 0.86 0.5 1.32 0.5 0.75 0.62 0.72 0.37 0.35 0.31 0.35 0.5 1.02 0.61 1.35 0.61 1.41 0.44 0.35 0.5 1.8 0.51 0.35 0.44 0.35 0.31 0.35 2.41 0.49 0.48 0.35 0.32 0.35 0.53 1.93 0.47 1.05 0.32 0.35 0.41 1.34 0.55 1 4.76 1.52 0.41 0.35 0.51 0.47 0.58 5.73 1.11 1.01 0.51 0.58 0.48 0.35 0.53 0.88 0.6 1.06 0.57 0.35 0.48 0.35 0.44 0.89 6.85 1.28 0.55 1.43 1.17 0.94 0.66 0.43 0.51 0.59 3.17 2.4 1.85 0.35 0.5 0.56 0.29 0.35 0.17 0.35 0.4 1.7 0.44 0.35 1.78 1.17 0.63 0.37 0.65 1.38 0.3 0.35 0.31 1.27 0.5 1.39 0.58 0.5 0.61 1.11 0.49 0.84 0.64 0.82 0.55 0.61 0.66 1.63 0.5 2.95 0.47 0.35 0.49 1.01 0.56 0.87 0.57 0.91 0.48 2.63 0.29 0.35 0.32 0.66 0.47 3.06 0.56 2.26 0.53 1.42 0.6 1.48 0.47 0.35 0.53 2.13 0.63 1.16 0.49 0.89 0.5 1.33 0.66 0.73 0.57 1.16 0.38 0.35 0.35 0.35 0.58 1.32 0.52 0.82 0.58 0.35 0.58 2.2 0.5 0.35 0.38 0.35 0.29 0.35 0.48 1.55 0.48 0.35 0.4 1.72 0.56 2.41 0.56 0.95 0.48 2.88 0.49 2.13 0.59 0.59 0.48 0.82 0.52 0.35 0.47 0.35 0.44 2.4 0.62 0.93 0.63 0.73 0.48 4.59 0.49 2 0.47 1.09 0.51 0.85 0.47 0.81 0.49 2.6 0.51 0.99 0.5 1.02 0.48 0.35 0.18 0.35 0.39 0.35 0.45 0.35 0.36 0.91 0.61 0.46 0.47 0.71 0.32 0.35 0.39 0.35 0.41 0.53 0.58 1.16 0.46 0.97 0.49 0.97 0.64 1.15 0.43 0.35 0.61 0.54 0.61 3.07 0.54 0.71 0.47 0.35 0.41 0.55 0.54 0.93 0.63 0.35 0.48 0.44 0.53 0.65 4.28 4.69 0.48 2.08 0.44 0.35 1 0.78 0.45 0.35 0.55 1.43 0.58 0.99 0.59 1.66 0.51 2.77 0.53 0.35 2.01 1.93 0.64 0.49 0.38 0.35 0.53 0.35 0.33 0.35 0.47 0.73 0.49 3.04 0.64 0.72 0.47 1.75 0.58 4.03 0.62 1.3 2.9 1.59 0.32 0.35 0.45 0.99 0.57 0.49 0.52 0.54 3.09 2.81 0.59 0.54 0.51 0.35 0.36 0.35 0.33 0.35 0.49 0.78 0.46 1.04 0.63 0.4 0.65 0.74 0.44 0.35 0.43 0.35 0.42 0.83 0.62 1.01 0.6 0.92 0.4 0.35 0.34 0.69 0.52 0.61 0.53 0.35 0.46 1.34 0.5 0.35 0.49 2.4 0.65 1.12 0.53 0.95 0.56 1.76 0.66 1.2 0.49 0.42 0.49 0.52 0.54 1.38 0.54 1.51 0.57 1.73 0.52 0.58 0.52 0.35 65.52 0.42 0.48 0.35 21.35 1.02 0.54 0.58 0.58 0.35 0.58 0.53 0.56 0.64 0.51 1.61 9.62 0.35 0.32 1.97 0.64 2.1 0.48 1.09 0.52 0.79 0.49 2 0.51 0.5 0.53 1.68 0.55 0.85 1.62 1.12 0.52 2.11 0.47 1.14 0.53 0.35 0.49 0.78 0.55 1.07 0.58 2 0.49 0.4 0.45 0.35 0.46 0.39 10.84 0.53 0.63 2.38 44.93 0.86 0.55 1.26 0.54 0.67 1.32 0.82 0.51 0.35 31.44 0.35 0.58 1.82 44.19 0.39 7.85 0.79 0.49 0.74 10.56 0.65 22.99 0.36 21.78 0.71 0.51 1.98 0.51 0.43 0.64 3.3 0.99 4.17 0.54 0.58 0.58 1.35 32.31 0.61 0.5 1.48 0.47 0.35 0.47 0.46 13.32 0.35 2.45 0.46 4.96 1.75 0.62 0.74 0.63 2.07 77.84 1.58 0.65 0.85 0.53 0.95 0.5 0.48 0.61 0.56 22.25 0.99 58.34 1.13 33.98 1.5 3.42 3.65 18.34 1.16 28.23 0.66 0.65 1.1 0.5 0.43 0.51 2.94 0.27 0.35 0.33 0.35 0.44 0.35 0.27 0.35 0.39 1.65 54.89 0.66 17.43 0.98 8.18 1.26 0.52 0.42 2.38 2.24 44.56 0.56 55.25 0.45 0.62 3.5 29.99 0.68 15.84 0.86 17.25 1.28 0.51 3.35 0.64 0.61 0.53 3.57 0.55 0.93 0.63 0.76 0.54 0.51 12.21 2.48 13.45 0.35 0.54 1.47 0.43 0.35 2.78 0.89 0.51 0.78 0.52 1.68 0.5 0.71 0.5 0.91 0.64 1.56 0.46 0.59 0.48 0.74 0.62 0.44 0.47 1.3 0.5 0.39 0.53 0.35 0.53 2.34 2.74 2.42 7.54 0.82 0.49 0.35 0.48 0.71 0.64 1.4 0.46 1.85 38.42 0.35 0.47 0.59 0.46 2.72 1.67 1.98 2.27 0.98 0.53 0.8 0.49 0.35 1.98 0.35 0.38 0.35 0.39 0.43 0.51 2.2 0.6 2.12 0.53 0.64 0.54 0.37 0.52 0.73 0.52 0.41 28.78 1.05 25.28 3.21 15.25 0.47 0.35 0.35 28.53 0.35 14.05 0.35 0.49 0.88 0.64 0.37 0.42 0.35 0.44 0.64 0.62 1.07 0.6 0.83 0.4 0.35 3.13 0.99 0.57 0.84 0.52 0.35 1.07 0.35 0.36 0.35 0.37 1.85 0.59 1.43 0.6 0.73 0.56 0.58 77.69 2.95 0.47 0.37 0.59 0.88 0.49 0.35 24.72 0.46 0.47 1.06 3.18 0.35 0.61 1.34 13.43 0.35 19.73 0.35 17.73 1.62 0.46 0.71 18.95 0.35 0.54 0.98 0.54 0.35 0.48 1.94 0.56 1.84 0.61 0.53 0.6 1.01 51.18"/>
<path d="M1485.15,619.03A881.1,881.1 0 0 1 1488.43,618.98L1488.74,642.27A857.8,857.8 0 0 0 1485.54,642.32Z" fill="#fb6a4a"/>
<path d="M1438.64,621.04A881.1,881.1 0 0 1 1439.78,620.96L1441.37,644.21A857.8,857.8 0 0 0 1440.26,644.28Z" fill="#fb6a4a"/>
<path d="M1456.46,619.98A881.1,881.1 0 0 1 1457.17,619.94L1458.31,643.21A857.8,857.8 0 0 0 1457.61,643.25Z" fill="#fb6a4a"/>
<path d="M1471.44,619.36A881.1,881.1 0 0 1 1472.01,619.34L1472.75,642.63A857.8,857.8 0 0 0 1472.2,642.65Z" fill="#fb6a4a"/>
<path d="M1373.34,628.05A881.1,881.1 0 0 1 1374.75,627.85L1378.06,650.91A857.8,857.8 0 0 0 1376.69,651.11Z" fill="#fb6a4a"/>
<path d="M1376.69,651.11A857.8,857.8 0 0 1 1378.06,650.91L1381.45,674.47A834,834 0 0 0 1380.11,674.66Z" fill="#fb6a4a"/>
<path d="M1395.99,625.06A881.1,881.1 0 0 1 1396.7,624.98L1399.43,648.12A857.8,857.8 0 0 0 1398.74,648.2Z" fill="#fb6a4a"/>
<path d="M1834.96,710.3A857.8,857.8 0 0 1 1836.37,710.9L1827.03,732.79A834,834 0 0 0 1825.66,732.21Z" fill="#fb6a4a"/>
<path d="M1957.09,746.74A881.1,881.1 0 0 1 1958.07,747.33L1945.95,767.23A857.8,857.8 0 0 0 1945,766.66Z" fill="#fb6a4a"/>
<path d="M2245.93,1076.43A857.8,857.8 0 0 1 2246.27,1077.03L2225.57,1088.77A834,834 0 0 0 2225.23,1088.18Z" fill="#fb6a4a"/>
<path d="M2249,1081.88A857.8,857.8 0 0 1 2249.27,1082.37L2228.48,1093.95A834,834 0 0 0 2228.22,1093.48Z" fill="#fb6a4a"/>
<path d="M2277.94,1138.58A857.8,857.8 0 0 1 2278.3,1139.34L2256.7,1149.35A834,834 0 0 0 2256.36,1148.61Z" fill="#fb6a4a"/>
<path d="M2296.77,1182.24A857.8,857.8 0 0 1 2297.29,1183.53L2275.17,1192.31A834,834 0 0 0 2274.67,1191.06Z" fill="#fb6a4a"/>
<path d="M2338.65,1319.74A857.8,857.8 0 0 1 2338.79,1320.42L2315.52,1325.4A834,834 0 0 0 2315.38,1324.74Z" fill="#fb6a4a"/>
<path d="M2348.41,1626.58A857.8,857.8 0 0 1 2348.24,1627.68L2324.71,1624.14A834,834 0 0 0 2324.87,1623.07Z" fill="#fb6a4a"/>
<path d="M2345.2,1646.48A857.8,857.8 0 0 1 2345.08,1647.17L2321.63,1643.08A834,834 0 0 0 2321.75,1642.42Z" fill="#fb6a4a"/>
<path d="M2235.95,1940.69A857.8,857.8 0 0 1 2235.52,1941.4L2215.11,1929.15A834,834 0 0 0 2215.53,1928.46Z" fill="#fb6a4a"/>
<path d="M1534.4,2357.11A857.8,857.8 0 0 1 1532.87,2357.17L1531.96,2333.39A834,834 0 0 0 1533.45,2333.33Z" fill="#fb6a4a"/>
<path d="M1535.34,2380.39A881.1,881.1 0 0 1 1533.77,2380.45L1532.87,2357.17A857.8,857.8 0 0 0 1534.4,2357.11Z" fill="#fb6a4a"/>
<path d="M713.11,1158.49A857.8,857.8 0 0 1 713.39,1157.86L735.21,1167.35A834,834 0 0 0 734.94,1167.97Z" fill="#fb6a4a"/>
<path d="M956.06,806.84A881.1,881.1 0 0 1 956.74,806.31L971.1,824.66A857.8,857.8 0 0 0 970.45,825.17Z" fill="#fb6a4a"/>
</g>
<g id="hl">
<path d="M1475.44,587.33A913,913 0 0 1 1478.99,587.24L1479.4,605.24A895,895 0 0 0 1475.92,605.32Z" fill="#cb181d"/>
<path d="M1490.6,605L1490.4,587.1" stroke="#31a354" stroke-width="1.2"/>
</g>
<g id="ideogram">
<path d="M1500,525.2A974.8,974.8 0 0 1 2422.44,1184.83L2376.74,1200.45A926.5,926.5 0 0 0 1500,573.5Z" fill="#f0f0f0"/>
<path d="M2422.44,1184.83A974.8,974.8 0 0 1 2366.29,1946.96L2323.37,1924.81A926.5,926.5 0 0 0 2376.74,1200.45Z" fill="#bebebe"/>
<path d="M2366.29,1946.96A974.8,974.8 0 1 1 1476.14,525.49L1477.33,573.78A926.5,926.5 0 1 0 2323.37,1924.81Z" fill="#646464"/>
<path d="M1476.14,525.49A974.8,974.8 0 0 1 1489.89,525.25L1490.39,573.55A926.5,926.5 0 0 0 1477.33,573.78Z" fill="#000000"/>
<path d="M1489.89,525.25A974.8,974.8 0 0 1 1500,525.2L1500,573.5A926.5,926.5 0 0 0 1490.39,573.55Z" fill="#f0f0f0"/>
<path d="M2376.74,1200.45L2422.44,1184.83M2323.37,1924.81L2366.29,1946.96" stroke="#000" stroke-width="1" fill="none"/>
<path d="M1500,573.5L1500,525.2" stroke="#000" stroke-width="1.6" fill="none"/>
<circle cx="1500" cy="1500" r="926.5" fill="none" stroke="#000" stroke-width="1.3"/>
<circle cx="1500" cy="1500" r="974.8" fill="none" stroke="#000" stroke-width="1.3"/>
</g>
<g id="ticks" stroke="#000" stroke-width="1.5" fill="none">
<path d="M1515.8,525.1L1515.9,520.1M1531.6,525.5L1531.8,520.5M1547.4,526.2L1547.6,521.2M1563.2,527L1563.5,522.1M1578.9,528.2L1579.3,523.2M1594.7,529.6L1595.2,524.6M1610.4,531.3L1611,526.3M1626.1,533.2L1626.7,528.2M1641.7,535.4L1642.5,530.4M1657.3,537.8L1659.8,523M1672.9,540.5L1673.8,535.5M1688.4,543.4L1689.4,538.5M1703.9,546.6L1705,541.7M1719.4,550L1720.5,545.1M1734.7,553.7L1735.9,548.8M1750,557.6L1751.3,552.8M1765.3,561.8L1766.6,557M1780.4,566.2L1781.9,561.4M1795.5,570.9L1797.1,566.1M1810.6,575.8L1815.3,561.6M1825.5,580.9L1827.2,576.2M1840.3,586.3L1842.1,581.6M1855.1,592L1856.9,587.3M1869.8,597.8L1871.7,593.2M1884.4,604L1886.3,599.4M1898.8,610.3L1900.9,605.7M1913.2,616.9L1915.3,612.4M1927.5,623.7L1929.6,619.2M1941.6,630.7L1943.9,626.3M1955.6,638L1962.6,624.8M1969.5,645.5L1972,641.1M1983.3,653.2L1985.8,648.9M1997,661.2L1999.5,656.9M2010.5,669.3L2013.1,665.1M2023.9,677.7L2026.6,673.5M2037.2,686.3L2039.9,682.2M2050.3,695.1L2053.1,691M2063.3,704.2L2066.2,700.1M2076.1,713.4L2079,709.4M2088.8,722.8L2097.8,710.9M2101.3,732.5L2104.4,728.5M2113.6,742.3L2116.8,738.4M2125.8,752.4L2129.1,748.5M2137.9,762.6L2141.1,758.8M2149.7,773.1L2153.1,769.3M2161.4,783.7L2164.8,780M2173,794.5L2176.4,790.9M2184.3,805.5L2187.8,801.9M2195.5,816.7L2199,813.2M2206.5,828L2217.3,817.7M2217.3,839.6L2220.9,836.2M2227.9,851.3L2231.6,848M2238.3,863.2L2242.1,859.9M2248.5,875.2L2252.4,872M2258.5,887.4L2262.4,884.3M2268.4,899.8L2272.3,896.7M2278,912.3L2282,909.3M2287.4,925L2291.5,922.1M2296.6,937.9L2300.7,935M2305.6,950.8L2318,942.4M2314.4,964L2318.6,961.2M2323,977.2L2327.2,974.6M2331.4,990.7L2335.6,988M2339.5,1004.2L2343.8,1001.7M2347.5,1017.9L2351.8,1015.4M2355.2,1031.7L2359.5,1029.3M2362.6,1045.6L2367.1,1043.3M2369.9,1059.6L2374.3,1057.4M2376.9,1073.8L2381.4,1071.6M2383.7,1088.1L2397.3,1081.7M2390.3,1102.4L2394.8,1100.4M2396.6,1116.9L2401.2,1115M2402.7,1131.5L2407.3,1129.6M2408.5,1146.2L2413.2,1144.4M2414.1,1160.9L2418.8,1159.2M2419.5,1175.8L2424.2,1174.1M2424.7,1190.8L2429.4,1189.2M2429.5,1205.8L2434.3,1204.3M2434.2,1220.9L2439,1219.5M2438.6,1236.1L2453,1232M2442.8,1251.3L2447.6,1250M2446.7,1266.6L2451.5,1265.4M2450.3,1282L2455.2,1280.9M2453.7,1297.4L2458.6,1296.4M2456.9,1312.9L2461.8,1312M2459.8,1328.4L2464.7,1327.6M2462.4,1344L2467.4,1343.2M2464.8,1359.6L2469.8,1358.9M2467,1375.3L2472,1374.7M2468.9,1391L2483.8,1389.3M2470.5,1406.7L2475.5,1406.2M2471.9,1422.4L2476.9,1422.1M2473,1438.2L2478,1437.9M2473.9,1454L2478.9,1453.8M2474.5,1469.8L2479.5,1469.6M2474.9,1485.6L2479.9,1485.5M2475,1501.4L2480,1501.4M2474.8,1517.2L2479.8,1517.3M2474.4,1533L2479.4,1533.2M2473.8,1548.8L2488.8,1549.5M2472.9,1564.5L2477.9,1564.9M2471.7,1580.3L2476.7,1580.7M2470.3,1596L2475.2,1596.5M2468.6,1611.8L2473.5,1612.3M2466.6,1627.4L2471.6,1628.1M2464.4,1643.1L2469.4,1643.8M2462,1658.7L2466.9,1659.5M2459.3,1674.3L2464.2,1675.2M2456.3,1689.8L2461.3,1690.8M2453.1,1705.3L2467.8,1708.4M2449.7,1720.7L2454.6,1721.8M2446,1736.1L2450.8,1737.3M2442,1751.4L2446.9,1752.7M2437.8,1766.6L2442.7,1768M2433.4,1781.8L2438.2,1783.2M2428.7,1796.9L2433.5,1798.4M2423.8,1811.9L2428.5,1813.5M2418.6,1826.8L2423.3,1828.5M2413.2,1841.6L2417.9,1843.4M2407.5,1856.4L2421.5,1861.9M2401.6,1871.1L2406.3,1873M2395.5,1885.6L2400.1,1887.6M2389.1,1900.1L2393.7,1902.1M2382.5,1914.4L2387.1,1916.6M2375.7,1928.7L2380.2,1930.9M2368.6,1942.8L2373.1,1945.1M2361.3,1956.9L2365.8,1959.2M2353.8,1970.8L2358.2,1973.2M2346.1,1984.5L2350.4,1987M2338.1,1998.2L2351,2005.8M2329.9,2011.7L2334.2,2014.3M2321.5,2025.1L2325.7,2027.8M2312.9,2038.3L2317.1,2041.1M2304.1,2051.4L2308.2,2054.3M2295,2064.4L2299.1,2067.3M2285.8,2077.2L2289.8,2080.2M2276.3,2089.9L2280.3,2092.9M2266.7,2102.4L2270.6,2105.5M2256.8,2114.7L2260.7,2117.9M2246.7,2126.9L2258.2,2136.5M2236.5,2138.9L2240.3,2142.2M2226,2150.8L2229.8,2154.1M2215.4,2162.5L2219.1,2165.9M2204.6,2174L2208.2,2177.4M2193.5,2185.3L2197.1,2188.8M2182.3,2196.4L2185.8,2200M2171,2207.4L2174.4,2211M2159.4,2218.2L2162.8,2221.9M2147.7,2228.8L2151,2232.5M2135.8,2239.2L2145.6,2250.6M2123.7,2249.4L2126.9,2253.2M2111.5,2259.4L2114.6,2263.3M2099.1,2269.2L2102.2,2273.2M2086.6,2278.8L2089.6,2282.8M2073.9,2288.2L2076.8,2292.3M2061,2297.4L2063.9,2301.5M2048,2306.4L2050.8,2310.6M2034.9,2315.2L2037.6,2319.4M2021.6,2323.8L2024.3,2328M2008.2,2332.1L2016,2344.9M1994.6,2340.2L1997.1,2344.5M1980.9,2348.1L1983.4,2352.5M1967.1,2355.8L1969.5,2360.2M1953.2,2363.3L1955.5,2367.7M1939.1,2370.5L1941.4,2375M1925,2377.5L1927.1,2382M1910.7,2384.3L1912.8,2388.8M1896.3,2390.8L1898.3,2395.4M1881.8,2397.1L1883.8,2401.7M1867.2,2403.2L1872.9,2417.1M1852.5,2409L1854.3,2413.7M1837.8,2414.6L1839.5,2419.3M1822.9,2420L1824.5,2424.7M1807.9,2425.1L1809.5,2429.8M1792.9,2430L1794.4,2434.7M1777.8,2434.6L1779.2,2439.4M1762.6,2439L1764,2443.8M1747.4,2443.1L1748.6,2447.9M1732,2447L1733.2,2451.8M1716.7,2450.6L1720,2465.2M1701.2,2454L1702.3,2458.9M1685.7,2457.1L1686.7,2462.1M1670.2,2460L1671.1,2465M1654.6,2462.7L1655.4,2467.6M1639,2465L1639.7,2470M1623.3,2467.2L1624,2472.1M1607.6,2469L1608.2,2474M1591.9,2470.7L1592.4,2475.6M1576.2,2472L1576.6,2477M1560.4,2473.1L1561.3,2488.1M1544.6,2474L1544.9,2479M1528.8,2474.6L1529,2479.6M1513,2474.9L1513.1,2479.9M1497.2,2475L1497.2,2480M1481.4,2474.8L1481.3,2479.8M1465.6,2474.4L1465.5,2479.4M1449.8,2473.7L1449.6,2478.7M1434.1,2472.8L1433.7,2477.8M1418.3,2471.6L1417.9,2476.6M1402.6,2470.1L1401.1,2485M1386.9,2468.4L1386.3,2473.4M1371.2,2466.5L1370.5,2471.4M1355.5,2464.2L1354.8,2469.2M1339.9,2461.8L1339.1,2466.7M1324.4,2459L1323.5,2464M1308.8,2456.1L1307.9,2461M1293.4,2452.9L1292.3,2457.7M1278,2449.4L1276.8,2454.2M1262.6,2445.7L1261.4,2450.5M1247.3,2441.7L1243.4,2456.2M1232.1,2437.5L1230.7,2442.3M1216.9,2433L1215.5,2437.8M1201.8,2428.3L1200.3,2433M1186.8,2423.3L1185.2,2428.1M1171.9,2418.1L1170.2,2422.8M1157.1,2412.7L1155.3,2417.4M1142.3,2407L1140.5,2411.7M1127.7,2401.1L1125.7,2405.7M1113.1,2395L1111.1,2399.5M1098.6,2388.6L1092.5,2402.2M1084.3,2381.9L1082.2,2386.5M1070.1,2375.1L1067.9,2379.6M1055.9,2368L1053.7,2372.5M1041.9,2360.7L1039.6,2365.1M1028,2353.2L1025.6,2357.5M1014.3,2345.4L1011.8,2349.7M1000.6,2337.4L998.1,2341.7M987.1,2329.2L984.5,2333.5M973.8,2320.8L971.1,2325M960.5,2312.1L952.2,2324.6M947.4,2303.3L944.6,2307.4M934.5,2294.2L931.6,2298.3M921.7,2285L918.7,2289M909,2275.5L906,2279.5M896.5,2265.8L893.4,2269.7M884.2,2255.9L881.1,2259.8M872,2245.8L868.8,2249.7M860,2235.6L856.8,2239.3M848.2,2225.1L844.9,2228.8M836.5,2214.4L826.3,2225.4M825,2203.6L821.6,2207.2M813.7,2192.6L810.2,2196.1M802.6,2181.4L799,2184.8M791.6,2170L788,2173.4M780.9,2158.4L777.2,2161.8M770.3,2146.6L766.6,2150M759.9,2134.7L756.1,2138M749.7,2122.7L745.9,2125.8M739.7,2110.4L735.8,2113.5M729.9,2098L718.1,2107.2M720.3,2085.5L716.3,2088.5M711,2072.7L706.9,2075.7M701.8,2059.9L697.7,2062.7M692.8,2046.9L688.7,2049.7M684,2033.7L679.9,2036.4M675.5,2020.4L671.3,2023.1M667.2,2007L662.9,2009.6M659.1,1993.4L654.8,1995.9M651.2,1979.7L646.8,1982.2M643.5,1965.9L630.3,1973.1M636.1,1952L631.7,1954.3M628.9,1937.9L624.4,1940.1M621.9,1923.7L617.4,1925.9M615.1,1909.4L610.6,1911.5M608.6,1895L604,1897.1M602.3,1880.5L597.7,1882.5M596.3,1865.9L591.6,1867.8M590.5,1851.2L585.8,1853M584.9,1836.5L580.2,1838.2M579.6,1821.6L565.4,1826.5M574.5,1806.6L569.7,1808.2M569.6,1791.6L564.8,1793.1M565,1776.5L560.2,1777.9M560.7,1761.3L555.8,1762.6M556.5,1746L551.7,1747.3M552.7,1730.7L547.8,1731.9M549.1,1715.3L544.2,1716.4M545.7,1699.9L540.8,1700.9M542.6,1684.4L537.7,1685.3M539.7,1668.8L525,1671.4M537.1,1653.2L532.2,1654M534.8,1637.6L529.8,1638.3M532.7,1622L527.7,1622.6M530.8,1606.3L525.8,1606.8M529.2,1590.5L524.2,1591M527.9,1574.8L522.9,1575.2M526.8,1559L521.8,1559.3M526,1543.2L521,1543.5M525.4,1527.5L520.4,1527.6M525.1,1511.7L510.1,1511.8M525,1495.9L520,1495.8M525.2,1480L520.2,1479.9M525.7,1464.3L520.7,1464.1M526.4,1448.5L521.4,1448.2M527.3,1432.7L522.3,1432.3M528.5,1416.9L523.6,1416.5M530,1401.2L525,1400.7M531.7,1385.5L526.8,1384.9M533.7,1369.8L528.8,1369.1M536,1354.2L521.1,1351.9M538.5,1338.6L533.5,1337.7M541.2,1323L536.3,1322.1M544.2,1307.5L539.3,1306.5M547.4,1292L542.6,1291M550.9,1276.6L546.1,1275.5M554.7,1261.3L549.8,1260M558.7,1246L553.8,1244.7M562.9,1230.7L558.1,1229.4M567.4,1215.6L562.6,1214.1M572.1,1200.5L557.9,1195.9M577.1,1185.5L572.4,1183.9M582.3,1170.6L577.6,1168.9M587.8,1155.8L583.1,1154M593.5,1141L588.8,1139.2M599.4,1126.4L594.8,1124.5M605.6,1111.8L601,1109.8M612,1097.4L607.5,1095.3M618.7,1083.1L614.1,1080.9M625.5,1068.8L621,1066.6M632.6,1054.7L619.3,1047.9M640,1040.7L635.5,1038.3M647.5,1026.8L643.1,1024.4M655.3,1013.1L651,1010.6M663.3,999.4L659,996.9M671.5,985.9L667.3,983.3M680,972.6L675.8,969.9M688.6,959.4L684.5,956.6M697.5,946.3L693.4,943.4M706.6,933.4L702.5,930.4M715.9,920.6L703.8,911.7M725.3,907.9L721.4,904.9M735,895.5L731.1,892.4M744.9,883.1L741.1,880M755,871L751.2,867.8M765.3,859L761.6,855.7M775.8,847.2L772.1,843.8M786.5,835.5L782.8,832.1M797.4,824L793.8,820.6M808.4,812.7L804.9,809.2M819.6,801.6L809.2,790.9M831,790.7L827.6,787M842.6,779.9L839.3,776.2M854.4,769.4L851.1,765.6M866.3,759L863.1,755.2M878.4,748.8L875.2,745M890.7,738.9L887.5,735M903.1,729.1L900,725.1M915.7,719.5L912.7,715.5M928.4,710.1L925.4,706.1M941.3,701L932.7,688.7M954.3,692L951.5,687.9M967.4,683.3L964.7,679.1M980.8,674.8L978.1,670.5M994.2,666.5L991.6,662.2M1007.8,658.4L1005.3,654.1M1021.5,650.5L1019,646.1M1035.3,642.9L1032.9,638.5M1049.3,635.4L1047,631M1063.3,628.2L1061.1,623.8M1077.5,621.3L1071,607.8M1091.8,614.6L1089.7,610M1106.2,608.1L1104.2,603.5M1120.7,601.8L1118.8,597.2M1135.3,595.8L1133.5,591.1M1150,590L1148.2,585.3M1164.8,584.4L1163.1,579.7M1179.7,579.1L1178.1,574.4M1194.7,574L1193.1,569.3M1209.7,569.2L1208.3,564.4M1224.9,564.6L1220.6,550.2M1240.1,560.3L1238.7,555.5M1255.3,556.2L1254.1,551.4M1270.7,552.4L1269.5,547.5M1286,548.8L1284.9,543.9M1301.5,545.4L1300.5,540.5M1317,542.3L1316,537.4M1332.5,539.5L1331.7,534.6M1348.1,536.9L1347.3,532M1363.7,534.6L1363.1,529.6M1379.4,532.5L1377.6,517.6M1395.1,530.7L1394.6,525.7M1410.8,529.1L1410.4,524.1M1426.6,527.8L1426.2,522.8M1442.4,526.7L1442.1,521.7M1458.1,525.9L1457.9,520.9M1473.9,525.3L1473.8,520.4M1489.7,525.1L1489.7,520.1"/>
</g>
<g id="ticklabels" font-family='"Liberation Sans", sans-serif' font-size="47.0" fill="#000" stroke="#000" stroke-width="1.25" word-spacing="8">
<text transform="translate(1661.21,514.09) rotate(-80.713) scale(0.86,1)" y="17.0" text-anchor="start">100 kb</text>
<text transform="translate(1818.2,553.03) rotate(-71.427) scale(0.86,1)" y="17.0" text-anchor="start">200 kb</text>
<text transform="translate(1966.85,616.79) rotate(-62.14) scale(0.86,1)" y="17.0" text-anchor="start">300 kb</text>
<text transform="translate(2103.26,703.71) rotate(-52.853) scale(0.86,1)" y="17.0" text-anchor="start">400 kb</text>
<text transform="translate(2223.85,811.49) rotate(-43.566) scale(0.86,1)" y="17.0" text-anchor="start">500 kb</text>
<text transform="translate(2325.47,937.33) rotate(-34.28) scale(0.86,1)" y="17.0" text-anchor="start">600 kb</text>
<text transform="translate(2405.45,1077.92) rotate(-24.993) scale(0.86,1)" y="17.0" text-anchor="start">700 kb</text>
<text transform="translate(2461.7,1229.57) rotate(-15.706) scale(0.86,1)" y="17.0" text-anchor="start">800 kb</text>
<text transform="translate(2492.74,1388.31) rotate(-6.419) scale(0.86,1)" y="17.0" text-anchor="start">900 kb</text>
<text transform="translate(2497.75,1549.97) rotate(2.867) scale(0.86,1)" y="17.0" text-anchor="start">1000 kb</text>
<text transform="translate(2476.61,1710.33) rotate(12.154) scale(0.86,1)" y="17.0" text-anchor="start">1100 kb</text>
<text transform="translate(2429.87,1865.17) rotate(21.441) scale(0.86,1)" y="17.0" text-anchor="start">1200 kb</text>
<text transform="translate(2358.75,2010.44) rotate(30.727) scale(0.86,1)" y="17.0" text-anchor="start">1300 kb</text>
<text transform="translate(2265.12,2142.33) rotate(40.014) scale(0.86,1)" y="17.0" text-anchor="start">1400 kb</text>
<text transform="translate(2151.43,2257.39) rotate(49.301) scale(0.86,1)" y="17.0" text-anchor="start">1500 kb</text>
<text transform="translate(2020.67,2352.58) rotate(58.588) scale(0.86,1)" y="17.0" text-anchor="start">1600 kb</text>
<text transform="translate(1876.26,2425.43) rotate(67.874) scale(0.86,1)" y="17.0" text-anchor="start">1700 kb</text>
<text transform="translate(1721.99,2474.02) rotate(77.161) scale(0.86,1)" y="17.0" text-anchor="start">1800 kb</text>
<text transform="translate(1561.9,2497.08) rotate(86.448) scale(0.86,1)" y="17.0" text-anchor="start">1900 kb</text>
<text transform="translate(1400.18,2494) rotate(275.735) scale(0.86,1)" y="19.5" text-anchor="end">2000 kb</text>
<text transform="translate(1241.08,2464.86) rotate(285.021) scale(0.86,1)" y="19.5" text-anchor="end">2100 kb</text>
<text transform="translate(1088.77,2410.43) rotate(294.308) scale(0.86,1)" y="19.5" text-anchor="end">2200 kb</text>
<text transform="translate(947.24,2332.14) rotate(303.595) scale(0.86,1)" y="19.5" text-anchor="end">2300 kb</text>
<text transform="translate(820.2,2232.03) rotate(312.881) scale(0.86,1)" y="19.5" text-anchor="end">2400 kb</text>
<text transform="translate(710.98,2112.73) rotate(322.168) scale(0.86,1)" y="19.5" text-anchor="end">2500 kb</text>
<text transform="translate(622.44,1977.37) rotate(331.455) scale(0.86,1)" y="19.5" text-anchor="end">2600 kb</text>
<text transform="translate(556.9,1829.5) rotate(340.742) scale(0.86,1)" y="19.5" text-anchor="end">2700 kb</text>
<text transform="translate(516.09,1672.99) rotate(350.028) scale(0.86,1)" y="19.5" text-anchor="end">2800 kb</text>
<text transform="translate(501.07,1511.94) rotate(359.315) scale(0.86,1)" y="19.5" text-anchor="end">2900 kb</text>
<text transform="translate(512.24,1350.58) rotate(368.602) scale(0.86,1)" y="19.5" text-anchor="end">3000 kb</text>
<text transform="translate(549.3,1193.14) rotate(377.889) scale(0.86,1)" y="19.5" text-anchor="end">3100 kb</text>
<text transform="translate(611.28,1043.74) rotate(387.175) scale(0.86,1)" y="19.5" text-anchor="end">3200 kb</text>
<text transform="translate(696.55,906.3) rotate(396.462) scale(0.86,1)" y="19.5" text-anchor="end">3300 kb</text>
<text transform="translate(802.89,784.43) rotate(405.749) scale(0.86,1)" y="19.5" text-anchor="end">3400 kb</text>
<text transform="translate(927.5,681.31) rotate(415.035) scale(0.86,1)" y="19.5" text-anchor="end">3500 kb</text>
<text transform="translate(1067.12,599.66) rotate(424.322) scale(0.86,1)" y="19.5" text-anchor="end">3600 kb</text>
<text transform="translate(1218.09,541.6) rotate(433.609) scale(0.86,1)" y="19.5" text-anchor="end">3700 kb</text>
<text transform="translate(1376.45,508.67) rotate(442.896) scale(0.86,1)" y="19.5" text-anchor="end">3800 kb</text>
</g>
<g id="links" fill="none" stroke-width="1.4">
<path d="M1446.4,516.5L1437.7,356.7L1434.7,323.8" stroke="#6a51a3"/>
<path d="M1474.8,515.3L1470.7,355.4L1484.2,322.1" stroke="#cb181d"/>
<path d="M1490,515.1L1488.4,355.1L1533.2,322.5" stroke="#31a354"/>
<path d="M1920.6,609.3L1989,464.7L1963.1,416.9" stroke="#6a51a3"/>
<path d="M1920.6,609.3L1989,464.7L2004.5,435.5" stroke="#6a51a3"/>
<path d="M1942.1,619.8L2013.9,476.8L2040.3,453.2" stroke="#ec6010"/>
<path d="M1945.6,621.6L2018,478.9L2080.8,475.1" stroke="#ec6010"/>
<path d="M1945.6,621.6L2018,478.9L2118.1,497.2" stroke="#ec6010"/>
<path d="M2324.8,961.5L2458.8,874L2486.9,856.9" stroke="#6a51a3"/>
<path d="M2455.4,1260.2L2610.6,1221.3L2642.6,1213.2" stroke="#6a51a3"/>
<path d="M2464.7,1698.7L2621.5,1731L2653.8,1737.7" stroke="#6a51a3"/>
<path d="M1822.3,2430.8L1874.7,2582L1885.7,2613.1" stroke="#2171b5"/>
<path d="M1821.2,2431.2L1873.3,2582.4L1842.3,2627.2" stroke="#2171b5"/>
<path d="M669.9,2030.3L535.1,2116.4L507.1,2134" stroke="#6a51a3"/>
<path d="M541.4,1726.4L385.7,1763.2L353.6,1771" stroke="#ec6010"/>
<path d="M813.5,793.6L702,678.9L679.6,654.6" stroke="#ec6010"/>
</g>
<g id="labels" font-family='"Liberation Sans", sans-serif' font-size="42.5" stroke-width="0.7">
<text transform="translate(1434.46,320.32) rotate(446.82)" y="21.8" text-anchor="end" textLength="76.0" lengthAdjust="spacingAndGlyphs" fill="#6a51a3" stroke="#6a51a3">pdxS</text>
<text transform="translate(1484.12,318.61) rotate(449.23)" y="27.3" text-anchor="end" textLength="166.5" lengthAdjust="spacingAndGlyphs" fill="#cb181d" stroke="#cb181d">IS21_259</text>
<text transform="translate(1533.28,318.97) rotate(-88.386)" y="22.8" text-anchor="start" textLength="196.5" lengthAdjust="spacingAndGlyphs" fill="#31a354" stroke="#31a354">Col(SD853)</text>
<text transform="translate(1964.49,413.64) rotate(-66.85)" y="17.8" text-anchor="start" textLength="87.6" lengthAdjust="spacingAndGlyphs" fill="#6a51a3" stroke="#6a51a3">CspA</text>
<text transform="translate(2006.04,432.36) rotate(-64.64)" y="16.3" text-anchor="start" textLength="87.4" lengthAdjust="spacingAndGlyphs" fill="#6a51a3" stroke="#6a51a3">CspR</text>
<text transform="translate(2041.89,450.1) rotate(-62.7)" y="14.0" text-anchor="start" textLength="77.4" lengthAdjust="spacingAndGlyphs" fill="#ec6010" stroke="#ec6010">satA</text>
<text transform="translate(2082.52,472.08) rotate(-60.46)" y="18.3" text-anchor="start" textLength="93.7" lengthAdjust="spacingAndGlyphs" fill="#ec6010" stroke="#ec6010">cfr(B)</text>
<text transform="translate(2119.97,494.23) rotate(-58.35)" y="14.6" text-anchor="start" textLength="73" lengthAdjust="spacingAndGlyphs" fill="#ec6010" stroke="#ec6010">clbA</text>
<text transform="translate(2489.88,854.95) rotate(-33.09)" y="13.6" text-anchor="start" textLength="73.2" lengthAdjust="spacingAndGlyphs" fill="#6a51a3" stroke="#6a51a3">tufA</text>
<text transform="translate(2645.95,1212.37) rotate(-14.09)" y="17.2" text-anchor="start" textLength="101.6" lengthAdjust="spacingAndGlyphs" fill="#6a51a3" stroke="#6a51a3">spxA1</text>
<text transform="translate(2657.2,1738.38) rotate(11.64)" y="18.0" text-anchor="start" textLength="86" lengthAdjust="spacingAndGlyphs" fill="#6a51a3" stroke="#6a51a3">CspB</text>
<text transform="translate(1886.8,2616.39) rotate(70.89)" y="19.2" text-anchor="start" textLength="85" lengthAdjust="spacingAndGlyphs" fill="#2171b5" stroke="#2171b5">capB</text>
<text transform="translate(1843.27,2630.54) rotate(73.11)" y="18.8" text-anchor="start" textLength="84.3" lengthAdjust="spacingAndGlyphs" fill="#2171b5" stroke="#2171b5">capC</text>
<text transform="translate(504.2,2135.86) rotate(327.44)" y="16.4" text-anchor="end" textLength="94.4" lengthAdjust="spacingAndGlyphs" fill="#6a51a3" stroke="#6a51a3">CodY</text>
<text transform="translate(350.19,1771.8) rotate(346.7)" y="19.3" text-anchor="end" textLength="81.2" lengthAdjust="spacingAndGlyphs" fill="#ec6010" stroke="#ec6010">rphC</text>
<text transform="translate(673.01,647.8) rotate(405.86)" y="22.6" text-anchor="end" textLength="95.4" lengthAdjust="spacingAndGlyphs" fill="#ec6010" stroke="#ec6010">tet(L)</text>
</g>
</svg></body></html>
